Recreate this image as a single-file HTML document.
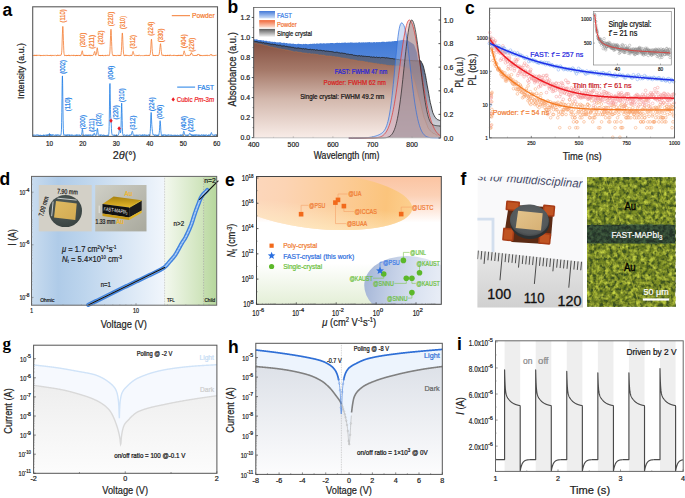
<!DOCTYPE html><html><head><meta charset="utf-8"><style>html,body{margin:0;padding:0;background:#fff;overflow:hidden}svg{display:block;font-family:"Liberation Sans",sans-serif}</style></head><body><svg width="685" height="498" viewBox="0 0 685 498" font-family="'Liberation Sans', sans-serif"><defs><linearGradient id="gbF" x1="0" y1="38" x2="0" y2="137.6" gradientUnits="userSpaceOnUse"><stop offset="0" stop-color="#3f78d6"/><stop offset="0.35" stop-color="#5d8fdd"/><stop offset="1" stop-color="#e3ecf9"/></linearGradient><linearGradient id="gbS" x1="0" y1="40" x2="0" y2="137.6" gradientUnits="userSpaceOnUse"><stop offset="0" stop-color="#4a5674"/><stop offset="0.3" stop-color="#5f6d8a"/><stop offset="1" stop-color="#e8e6e8"/></linearGradient><linearGradient id="gbP" x1="0" y1="42" x2="0" y2="137.6" gradientUnits="userSpaceOnUse"><stop offset="0" stop-color="#855142"/><stop offset="0.3" stop-color="#a67a6a"/><stop offset="0.6" stop-color="#d3b8ad"/><stop offset="1" stop-color="#f8ece7"/></linearGradient><linearGradient id="glF" x1="0" y1="0" x2="0" y2="1"><stop offset="0" stop-color="#4278d8"/><stop offset="1" stop-color="#d2e1f7"/></linearGradient><linearGradient id="glP" x1="0" y1="0" x2="0" y2="1"><stop offset="0" stop-color="#f06536"/><stop offset="1" stop-color="#fde0d2"/></linearGradient><linearGradient id="glS" x1="0" y1="0" x2="0" y2="1"><stop offset="0" stop-color="#5c5c5c"/><stop offset="1" stop-color="#f2f2f2"/></linearGradient><linearGradient id="gdB" x1="31.5" y1="0" x2="164.6" y2="0" gradientUnits="userSpaceOnUse"><stop offset="0" stop-color="#c9dcef"/><stop offset="0.2" stop-color="#afcbe8"/><stop offset="0.4" stop-color="#bdd5ed"/><stop offset="0.67" stop-color="#d5e4f4"/><stop offset="1" stop-color="#f1f6fc"/></linearGradient><linearGradient id="gdG" x1="164.6" y1="0" x2="203.6" y2="0" gradientUnits="userSpaceOnUse"><stop offset="0" stop-color="#f3f8ee"/><stop offset="1" stop-color="#cde3b9"/></linearGradient><linearGradient id="gdG2" x1="203.6" y1="0" x2="216.7" y2="0" gradientUnits="userSpaceOnUse"><stop offset="0" stop-color="#c6dfb0"/><stop offset="1" stop-color="#b6d79d"/></linearGradient><radialGradient id="gdDisc" cx="0.45" cy="0.4" r="0.6"><stop offset="0" stop-color="#56615f"/><stop offset="1" stop-color="#3a4442"/></radialGradient><linearGradient id="gdGold" x1="0" y1="0" x2="1" y2="1"><stop offset="0" stop-color="#dfbb62"/><stop offset="1" stop-color="#d2aa52"/></linearGradient><linearGradient id="gdP2" x1="0" y1="0" x2="1" y2="1"><stop offset="0" stop-color="#cfcfc6"/><stop offset="1" stop-color="#a9a99d"/></linearGradient><linearGradient id="gdTop" x1="0" y1="0" x2="0" y2="1"><stop offset="0" stop-color="#a8820f"/><stop offset="1" stop-color="#e6b82a"/></linearGradient><linearGradient id="geBg" x1="0" y1="176.5" x2="0" y2="304.3" gradientUnits="userSpaceOnUse"><stop offset="0" stop-color="#fbc4a2"/><stop offset="0.15" stop-color="#fcd1b6"/><stop offset="0.27" stop-color="#feeadf"/><stop offset="0.36" stop-color="#ffffff"/><stop offset="0.68" stop-color="#ffffff"/><stop offset="1" stop-color="#e4efd7"/></linearGradient><linearGradient id="geEl" x1="228" y1="0" x2="414" y2="0" gradientUnits="userSpaceOnUse"><stop offset="0" stop-color="#fcd9c2"/><stop offset="0.3" stop-color="#fcd4b4"/><stop offset="0.6" stop-color="#fccc98"/><stop offset="0.85" stop-color="#fbc47c"/><stop offset="1" stop-color="#fcd090"/></linearGradient><linearGradient id="geEl2" x1="0" y1="172" x2="0" y2="231" gradientUnits="userSpaceOnUse"><stop offset="0" stop-color="#fff3d0" stop-opacity="0"/><stop offset="0.55" stop-color="#fff3d0" stop-opacity="0"/><stop offset="1" stop-color="#fff0c8" stop-opacity="0.7"/></linearGradient><linearGradient id="geBl" x1="364" y1="0" x2="441" y2="0" gradientUnits="userSpaceOnUse"><stop offset="0" stop-color="#a6b7d8"/><stop offset="0.35" stop-color="#c3cfe6"/><stop offset="0.7" stop-color="#dbe3f1"/><stop offset="1" stop-color="#e8edf6"/></linearGradient><linearGradient id="gfPaper" x1="0" y1="176" x2="0" y2="262" gradientUnits="userSpaceOnUse"><stop offset="0" stop-color="#f6f6f8"/><stop offset="1" stop-color="#f1f1f3"/></linearGradient><linearGradient id="gfRuler" x1="0" y1="250" x2="0" y2="308" gradientUnits="userSpaceOnUse"><stop offset="0" stop-color="#e8e8e8"/><stop offset="0.5" stop-color="#dcdcdc"/><stop offset="1" stop-color="#d0d0d0"/></linearGradient><radialGradient id="gfDisc" cx="0.5" cy="0.45" r="0.55"><stop offset="0" stop-color="#62676a"/><stop offset="0.85" stop-color="#53585a"/><stop offset="1" stop-color="#43474a"/></radialGradient><linearGradient id="gfGold" x1="0" y1="0" x2="1" y2="1"><stop offset="0" stop-color="#e4c48c"/><stop offset="1" stop-color="#d6b074"/></linearGradient><filter id="fTex" x="0" y="0" width="1" height="1" filterUnits="objectBoundingBox"><feTurbulence type="fractalNoise" baseFrequency="0.22 0.2" numOctaves="3" seed="7" result="n"/><feColorMatrix type="matrix" in="n" values="0 0 0 0 0  0 0 0 0 0  0 0 0 0 0  2.4 0 0 0 -0.86" result="a"/><feFlood flood-color="#c8d646" result="c"/><feComposite in="c" in2="a" operator="in" result="spots"/><feMerge><feMergeNode in="SourceGraphic"/><feMergeNode in="spots"/></feMerge></filter><filter id="fTex2" x="0" y="0" width="1" height="1" filterUnits="objectBoundingBox"><feTurbulence type="fractalNoise" baseFrequency="0.3 0.26" numOctaves="2" seed="3" result="n"/><feColorMatrix type="matrix" in="n" values="0 0 0 0 0  0 0 0 0 0  0 0 0 0 0  0 2.4 0 0 -0.74" result="a"/><feFlood flood-color="#3c5220" result="c"/><feComposite in="c" in2="a" operator="in" result="spots"/><feMerge><feMergeNode in="SourceGraphic"/><feMergeNode in="spots"/></feMerge></filter><filter id="fTex3" x="0" y="0" width="1" height="1" filterUnits="objectBoundingBox"><feTurbulence type="fractalNoise" baseFrequency="0.3" numOctaves="2" seed="11" result="n"/><feColorMatrix type="matrix" in="n" values="0 0 0 0 0  0 0 0 0 0  0 0 0 0 0  1.6 0 0 0 -0.55" result="a"/><feFlood flood-color="#4a6a48" result="c"/><feComposite in="c" in2="a" operator="in" result="spots"/><feMerge><feMergeNode in="SourceGraphic"/><feMergeNode in="spots"/></feMerge></filter><linearGradient id="ggD" x1="0" y1="385" x2="0" y2="473" gradientUnits="userSpaceOnUse"><stop offset="0" stop-color="#eeeeee"/><stop offset="1" stop-color="#fcfcfc"/></linearGradient><linearGradient id="ghD" x1="0" y1="366" x2="0" y2="474" gradientUnits="userSpaceOnUse"><stop offset="0" stop-color="#dde1e8"/><stop offset="1" stop-color="#fcfcfd"/></linearGradient></defs><text x="2.6" y="15.6" font-size="17.5" fill="#000" font-weight="bold">a</text><path d="M32.7,55.03 L32.9,55.75 L33.1,55.66 L33.3,55.16 L33.5,55.4 L33.7,55.35 L33.9,55.55 L34.1,55.69 L34.31,54.99 L34.51,54.93 L34.71,55.74 L34.91,55.33 L35.11,55.66 L35.31,54.9 L35.51,55.35 L35.71,55.62 L35.91,55.13 L36.11,55.85 L36.31,55.8 L36.51,54.93 L36.71,54.93 L36.91,55.44 L37.12,55.84 L37.32,55.28 L37.52,55.12 L37.72,55.32 L37.92,54.93 L38.12,55.12 L38.32,55.34 L38.52,55.4 L38.72,55.13 L38.92,55.13 L39.12,55.12 L39.32,55.36 L39.52,55.19 L39.72,54.92 L39.93,55.74 L40.13,55.46 L40.33,55.54 L40.53,55.09 L40.73,55.89 L40.93,55.76 L41.13,55.02 L41.33,55.23 L41.53,55.62 L41.73,55.61 L41.93,55.84 L42.13,55.32 L42.33,55.73 L42.53,55.57 L42.73,55.2 L42.94,55.49 L43.14,55.78 L43.34,55.75 L43.54,55.41 L43.74,55.49 L43.94,54.93 L44.14,55.14 L44.34,55.7 L44.54,55.31 L44.74,55.07 L44.94,55.45 L45.14,55.6 L45.34,55.57 L45.54,55.27 L45.75,55.34 L45.95,55.41 L46.15,55.68 L46.35,55.42 L46.55,55.29 L46.75,55.39 L46.95,54.93 L47.15,54.94 L47.35,55.6 L47.55,55.88 L47.75,55.49 L47.95,55.29 L48.15,55.07 L48.35,55.4 L48.56,55.88 L48.76,55.67 L48.96,55.44 L49.16,55.76 L49.36,55.13 L49.56,55.41 L49.76,55.85 L49.96,55.48 L50.16,55.36 L50.36,55.17 L50.56,55.45 L50.76,55.86 L50.96,54.91 L51.16,55.68 L51.37,55.72 L51.57,55.79 L51.77,55.64 L51.97,55.71 L52.17,55.42 L52.37,55.46 L52.57,55.33 L52.77,54.96 L52.97,55.77 L53.17,55.47 L53.37,55.1 L53.57,55.4 L53.77,55.38 L53.97,55.26 L54.17,55.25 L54.38,55.44 L54.58,55.52 L54.78,55.51 L54.98,55.36 L55.18,54.93 L55.38,55.13 L55.58,55.08 L55.78,55.48 L55.98,55.76 L56.18,55.7 L56.38,55.7 L56.58,55.72 L56.78,55.16 L56.98,55.74 L57.19,55.57 L57.39,54.98 L57.59,54.92 L57.79,54.91 L57.99,55.66 L58.19,55.15 L58.39,55.01 L58.59,55.52 L58.79,55.24 L58.99,54.97 L59.19,55.06 L59.39,55.43 L59.59,55.07 L59.79,55.17 L60,55.61 L60.2,55.35 L60.4,55.22 L60.6,55.37 L60.8,54.9 L61,55.19 L61.2,55 L61.4,54.18 L61.6,52.74 L61.8,50.89 L62,46.16 L62.2,39.97 L62.4,33.99 L62.6,29.15 L62.81,26.42 L63.01,28.35 L63.21,33.53 L63.41,40.48 L63.61,45.81 L63.81,50.69 L64.01,53.31 L64.21,54.54 L64.41,54.8 L64.61,55.78 L64.81,55.67 L65.01,55.41 L65.21,55.12 L65.41,55.55 L65.61,55.29 L65.82,55.48 L66.02,55.22 L66.22,55.53 L66.42,54.96 L66.62,55.2 L66.82,55.87 L67.02,55.78 L67.22,55.21 L67.42,55.76 L67.62,55.21 L67.82,55.84 L68.02,55.64 L68.22,55.32 L68.42,55.15 L68.63,54.91 L68.83,55.78 L69.03,54.94 L69.23,55.72 L69.43,55.86 L69.63,55.47 L69.83,55.07 L70.03,55.77 L70.23,55.87 L70.43,55.6 L70.63,55.41 L70.83,55.28 L71.03,55.25 L71.23,55.11 L71.44,55.57 L71.64,55.33 L71.84,55.09 L72.04,55 L72.24,55.57 L72.44,55.2 L72.64,55.4 L72.84,55.23 L73.04,55.77 L73.24,55.8 L73.44,54.92 L73.64,55.1 L73.84,55.23 L74.04,55.89 L74.24,55.68 L74.45,55.24 L74.65,55.11 L74.85,55.57 L75.05,55.74 L75.25,55.83 L75.45,55.24 L75.65,55.78 L75.85,55.59 L76.05,55.38 L76.25,55.89 L76.45,55.13 L76.65,55.63 L76.85,54.98 L77.05,55.07 L77.26,55.81 L77.46,55.11 L77.66,55.66 L77.86,55.5 L78.06,55.74 L78.26,55.27 L78.46,55.24 L78.66,55.19 L78.86,55.77 L79.06,55.5 L79.26,55.85 L79.46,55.79 L79.66,55.04 L79.86,55.45 L80.07,55 L80.27,54.94 L80.47,54.96 L80.67,55.73 L80.87,55.56 L81.07,55.39 L81.27,54.47 L81.47,54.01 L81.67,53.19 L81.87,51.75 L82.07,51.22 L82.27,50.76 L82.47,51.17 L82.67,52.32 L82.87,53.98 L83.08,54.48 L83.28,55.37 L83.48,55.18 L83.68,55.12 L83.88,55.67 L84.08,55.72 L84.28,54.91 L84.48,55.57 L84.68,54.99 L84.88,55.02 L85.08,55.79 L85.28,54.94 L85.48,55.14 L85.68,55.89 L85.89,55.32 L86.09,55.02 L86.29,55.07 L86.49,55.14 L86.69,55.64 L86.89,55 L87.09,55.81 L87.29,55.28 L87.49,55.87 L87.69,55.81 L87.89,55.19 L88.09,55.15 L88.29,55.38 L88.49,55 L88.7,55.55 L88.9,54.94 L89.1,54.91 L89.3,55.88 L89.5,55.2 L89.7,55.5 L89.9,55.35 L90.1,55.21 L90.3,54.96 L90.5,55.81 L90.7,55.87 L90.9,55.87 L91.1,55.01 L91.3,55.12 L91.51,55.52 L91.71,55.88 L91.91,55.44 L92.11,55.59 L92.31,55.56 L92.51,55.16 L92.71,55.44 L92.91,55.19 L93.11,55.09 L93.31,54.82 L93.51,54.77 L93.71,54.99 L93.91,53.7 L94.11,52.96 L94.31,52.07 L94.52,51.88 L94.72,51.43 L94.92,52 L95.12,52.96 L95.32,53.85 L95.52,55.03 L95.72,55.42 L95.92,54.88 L96.12,54.63 L96.32,54.14 L96.52,52.95 L96.72,51.31 L96.92,49.22 L97.12,47.78 L97.33,47.81 L97.53,48.55 L97.73,50.66 L97.93,51.93 L98.13,53.33 L98.33,54.78 L98.53,54.89 L98.73,55.59 L98.93,55.36 L99.13,55.76 L99.33,55.05 L99.53,55.4 L99.73,55.69 L99.93,54.98 L100.14,55.85 L100.34,55.07 L100.54,55.68 L100.74,55.88 L100.94,55.72 L101.14,55.22 L101.34,55.01 L101.54,55.41 L101.74,55.82 L101.94,55.19 L102.14,55.79 L102.34,55.04 L102.54,55.81 L102.74,54.93 L102.94,55.22 L103.15,55.8 L103.35,55.7 L103.55,55.81 L103.75,55.74 L103.95,55.65 L104.15,55.59 L104.35,55.08 L104.55,55.33 L104.75,55.06 L104.95,55.61 L105.15,55.57 L105.35,55.15 L105.55,54.96 L105.75,55.86 L105.96,55.71 L106.16,55.45 L106.36,55.44 L106.56,55.75 L106.76,55.35 L106.96,55.3 L107.16,55.24 L107.36,55.16 L107.56,54.92 L107.76,55.55 L107.96,55.32 L108.16,55.47 L108.36,54.96 L108.56,55.25 L108.77,55.03 L108.97,55 L109.17,55.07 L109.37,55.44 L109.57,54.46 L109.77,53.21 L109.97,50.98 L110.17,46.6 L110.37,40.94 L110.57,35.58 L110.77,30.89 L110.97,29.25 L111.17,30.82 L111.37,35.73 L111.58,41.66 L111.78,46.6 L111.98,50.86 L112.18,53.29 L112.38,54.29 L112.58,55.02 L112.78,55.37 L112.98,55.78 L113.18,55.81 L113.38,55.17 L113.58,55.55 L113.78,54.95 L113.98,54.97 L114.18,55.41 L114.38,55.78 L114.59,55.06 L114.79,55.67 L114.99,55.78 L115.19,55.21 L115.39,55.59 L115.59,55.75 L115.79,55.27 L115.99,55.6 L116.19,55.64 L116.39,55.49 L116.59,55.76 L116.79,55.8 L116.99,55.86 L117.19,55.47 L117.4,55.08 L117.6,55.15 L117.8,55.12 L118,55.47 L118.2,55.66 L118.4,54.95 L118.6,55.58 L118.8,55.62 L119,55.25 L119.2,55.42 L119.4,55.06 L119.6,55.63 L119.8,54.94 L120,55.88 L120.21,55.7 L120.41,55.5 L120.61,55.05 L120.81,55.45 L121.01,54.85 L121.21,52.64 L121.41,50.72 L121.61,46.84 L121.81,41.67 L122.01,36.76 L122.21,33.15 L122.41,33.1 L122.61,35.66 L122.81,39.67 L123.01,45.22 L123.22,49.22 L123.42,51.97 L123.62,53.86 L123.82,54.5 L124.02,55.64 L124.22,55.81 L124.42,55.01 L124.62,55.5 L124.82,55.31 L125.02,55.02 L125.22,55.2 L125.42,55.15 L125.62,55.65 L125.82,54.9 L126.03,55.09 L126.23,55.34 L126.43,54.92 L126.63,55.53 L126.83,55.51 L127.03,55.74 L127.23,55.11 L127.43,55.18 L127.63,55.44 L127.83,55.17 L128.03,55.49 L128.23,55.15 L128.43,55.58 L128.63,55.69 L128.84,55.71 L129.04,55.87 L129.24,55.45 L129.44,55.39 L129.64,55.76 L129.84,55.67 L130.04,55.47 L130.24,55.28 L130.44,55.18 L130.64,55.01 L130.84,55.71 L131.04,55.02 L131.24,55.64 L131.44,55.42 L131.65,55.79 L131.85,55.44 L132.05,55.33 L132.25,53.92 L132.45,53.45 L132.65,52.57 L132.85,51.52 L133.05,51.4 L133.25,51.56 L133.45,52.52 L133.65,52.95 L133.85,54.23 L134.05,54.81 L134.25,54.98 L134.45,55.22 L134.66,55.66 L134.86,55.58 L135.06,55.39 L135.26,55.55 L135.46,55.28 L135.66,55.1 L135.86,54.9 L136.06,55.18 L136.26,55.5 L136.46,55.78 L136.66,55.73 L136.86,55.41 L137.06,55.89 L137.26,55.36 L137.47,55.73 L137.67,55.31 L137.87,55.64 L138.07,55.89 L138.27,55.21 L138.47,55.07 L138.67,55.52 L138.87,55.43 L139.07,55.26 L139.27,54.9 L139.47,55.29 L139.67,55.33 L139.87,55.31 L140.07,55.76 L140.28,55.48 L140.48,55.63 L140.68,55.8 L140.88,55.65 L141.08,55.39 L141.28,55.65 L141.48,55.54 L141.68,55.55 L141.88,55.53 L142.08,55.31 L142.28,55.53 L142.48,55.53 L142.68,55.84 L142.88,55.68 L143.08,55.75 L143.29,55.67 L143.49,55.72 L143.69,55.51 L143.89,55.25 L144.09,55.16 L144.29,55.61 L144.49,55.77 L144.69,55.44 L144.89,55.05 L145.09,55.73 L145.29,55.38 L145.49,55.37 L145.69,54.95 L145.89,55.41 L146.1,55.64 L146.3,55.32 L146.5,55.26 L146.7,55.56 L146.9,54.92 L147.1,55.41 L147.3,55.85 L147.5,55.59 L147.7,55.3 L147.9,55.59 L148.1,55.5 L148.3,55.11 L148.5,55.11 L148.7,55.79 L148.91,55.17 L149.11,54.97 L149.31,55.73 L149.51,55.4 L149.71,55.19 L149.91,55.15 L150.11,54.93 L150.31,53.38 L150.51,52.07 L150.71,49.36 L150.91,45.95 L151.11,41.93 L151.31,39.91 L151.51,39.16 L151.72,41.25 L151.92,44.09 L152.12,48.32 L152.32,51.47 L152.52,53.05 L152.72,54.16 L152.92,55.5 L153.12,55.48 L153.32,55.71 L153.52,54.92 L153.72,55.8 L153.92,55.52 L154.12,55.22 L154.32,55.33 L154.52,55.66 L154.73,55.69 L154.93,55.09 L155.13,55.53 L155.33,55.07 L155.53,55.87 L155.73,55.34 L155.93,55.81 L156.13,55.63 L156.33,55.51 L156.53,55.16 L156.73,55.43 L156.93,55.04 L157.13,55.04 L157.33,55.62 L157.54,55.26 L157.74,55.65 L157.94,55.14 L158.14,55.61 L158.34,55.6 L158.54,55.14 L158.74,54.83 L158.94,54.87 L159.14,54.44 L159.34,53.1 L159.54,51.72 L159.74,49.6 L159.94,47.89 L160.14,46.1 L160.35,44.09 L160.55,43.7 L160.75,45.37 L160.95,47.36 L161.15,49.77 L161.35,51.53 L161.55,52.92 L161.75,54.52 L161.95,54.45 L162.15,55.35 L162.35,54.91 L162.55,55.27 L162.75,55.39 L162.95,55.28 L163.16,55.07 L163.36,55.13 L163.56,55.72 L163.76,55.36 L163.96,55.48 L164.16,55.11 L164.36,55.61 L164.56,55.23 L164.76,55.49 L164.96,55.81 L165.16,55.89 L165.36,54.95 L165.56,55.7 L165.76,55.76 L165.96,55.22 L166.17,55.28 L166.37,55.48 L166.57,55.82 L166.77,55.3 L166.97,55.78 L167.17,55.66 L167.37,55.05 L167.57,55.81 L167.77,54.92 L167.97,55.05 L168.17,55.56 L168.37,54.96 L168.57,55.28 L168.77,55.03 L168.98,55.36 L169.18,55.74 L169.38,55.81 L169.58,54.94 L169.78,54.96 L169.98,55.74 L170.18,54.94 L170.38,55.17 L170.58,55.02 L170.78,54.99 L170.98,54.93 L171.18,55.54 L171.38,55.64 L171.58,55.59 L171.79,55.75 L171.99,55.56 L172.19,55.29 L172.39,55.53 L172.59,55.87 L172.79,55.54 L172.99,55.14 L173.19,54.96 L173.39,55.84 L173.59,55.49 L173.79,55.25 L173.99,55.51 L174.19,55.46 L174.39,55.42 L174.59,54.96 L174.8,55.25 L175,55.31 L175.2,55.1 L175.4,55.78 L175.6,55.32 L175.8,55.56 L176,55.61 L176.2,55.64 L176.4,55.62 L176.6,55.65 L176.8,55.15 L177,55.88 L177.2,55.05 L177.4,55.82 L177.61,55.75 L177.81,55.75 L178.01,54.95 L178.21,54.99 L178.41,55.71 L178.61,55.37 L178.81,55.27 L179.01,55.88 L179.21,54.94 L179.41,55.43 L179.61,55.34 L179.81,55.03 L180.01,55.3 L180.21,55.61 L180.42,55.78 L180.62,54.92 L180.82,55.42 L181.02,54.99 L181.22,55.7 L181.42,54.99 L181.62,54.93 L181.82,55.28 L182.02,55.63 L182.22,55.21 L182.42,55.02 L182.62,55.65 L182.82,55.57 L183.02,55.41 L183.23,54.45 L183.43,53.9 L183.63,52.81 L183.83,52.14 L184.03,51.13 L184.23,50.84 L184.43,51.58 L184.63,52.54 L184.83,53.15 L185.03,53.58 L185.23,54.79 L185.43,55 L185.63,55.75 L185.83,55.57 L186.03,55.72 L186.24,55.6 L186.44,55.43 L186.64,55.8 L186.84,55.73 L187.04,55.19 L187.24,55.06 L187.44,55.27 L187.64,55.42 L187.84,55 L188.04,55.25 L188.24,55.47 L188.44,54.94 L188.64,55.71 L188.84,55.55 L189.05,55.21 L189.25,55.19 L189.45,55.24 L189.65,55.19 L189.85,55.56 L190.05,55.22 L190.25,55.09 L190.45,54.46 L190.65,54.88 L190.85,53.86 L191.05,53.41 L191.25,52.76 L191.45,53.43 L191.65,52.89 L191.86,53.51 L192.06,53.87 L192.26,54.35 L192.46,54.64 L192.66,55.13 L192.86,55.41 L193.06,55.48 L193.26,54.92 L193.46,55.37 L193.66,55.46 L193.86,55.88 L194.06,55.68 L194.26,55.6 L194.46,55.65 L194.66,55.26 L194.87,55.84 L195.07,55.54 L195.27,55.3 L195.47,55.36 L195.67,55.88 L195.87,55.43 L196.07,55.06 L196.27,55.04 L196.47,55.56 L196.67,55.41 L196.87,55.7 L197.07,54.89 L197.27,54.99 L197.47,55.14 L197.68,54.28 L197.88,54.16 L198.08,54.49 L198.28,54.17 L198.48,54.05 L198.68,54.33 L198.88,54.87 L199.08,54.94 L199.28,54.65 L199.48,54.77 L199.68,55.64 L199.88,55.49 L200.08,55.05 L200.28,55.75 L200.49,54.92 L200.69,55.27 L200.89,55.75 L201.09,55.61 L201.29,55.18 L201.49,55.79 L201.69,55.5 L201.89,55.77 L202.09,55.79 L202.29,55.33 L202.49,55.58 L202.69,55.44 L202.89,55.84 L203.09,55.7 L203.3,55.63 L203.5,55.71 L203.7,55.9 L203.9,55.16 L204.1,55.1 L204.3,55.65 L204.5,55.67 L204.7,55.41 L204.9,55.39 L205.1,55.3 L205.3,55.78 L205.5,55.7 L205.7,55.48 L205.9,54.94 L206.1,55.75 L206.31,55.36 L206.51,55.09 L206.71,55.2 L206.91,55.59 L207.11,54.91 L207.31,55.02 L207.51,55.2 L207.71,55.79 L207.91,55.65 L208.11,55.87 L208.31,55.44 L208.51,55.47 L208.71,55.45 L208.91,55.42 L209.12,55.43 L209.32,55.68 L209.52,55.78 L209.72,55.18 L209.92,55.31 L210.12,54.86 L210.32,54.72 L210.52,54.78 L210.72,54.75 L210.92,54.65 L211.12,55.09 L211.32,54.36 L211.52,54.96 L211.72,55.46 L211.93,55.34 L212.13,55.28 L212.33,55.16 L212.53,55.25 L212.73,55.81 L212.93,55.78 L213.13,55.56 L213.33,55.8 L213.53,55.82 L213.73,55.75 L213.93,55.28 L214.13,55.36 L214.33,55.7 L214.53,55.27 L214.73,55.65 L214.94,55.38 L215.14,55.24 L215.34,55.36 L215.54,55.02 L215.74,55.25 L215.94,55.32 L216.14,54.92 L216.34,55.07 L216.54,55.16" stroke="#f47b30" stroke-width="0.8" fill="none"/><path d="M32.7,135.56 L32.87,135.55 L33.03,134.75 L33.2,134.78 L33.37,135.45 L33.54,135.36 L33.7,135.3 L33.87,134.98 L34.04,135.25 L34.21,135.25 L34.37,135.22 L34.54,134.84 L34.71,135.09 L34.87,135.05 L35.04,135.35 L35.21,135.6 L35.38,135.55 L35.54,135.19 L35.71,135.1 L35.88,134.94 L36.04,134.73 L36.21,134.72 L36.38,135.12 L36.55,134.99 L36.71,135.04 L36.88,135.5 L37.05,135.17 L37.22,135.2 L37.38,134.91 L37.55,134.72 L37.72,134.99 L37.88,134.82 L38.05,135.16 L38.22,135.6 L38.39,135.31 L38.55,134.86 L38.72,135.5 L38.89,135.42 L39.06,135.36 L39.22,135.52 L39.39,135.39 L39.56,135.41 L39.72,135.02 L39.89,135.58 L40.06,135.57 L40.23,134.85 L40.39,135.38 L40.56,135.34 L40.73,135.12 L40.9,135.18 L41.06,135.14 L41.23,135.53 L41.4,135.15 L41.56,135.45 L41.73,135.02 L41.9,135.49 L42.07,135.51 L42.23,135.11 L42.4,135.21 L42.57,135.53 L42.73,135.35 L42.9,135.14 L43.07,134.9 L43.24,134.99 L43.4,135.33 L43.57,134.85 L43.74,135.52 L43.91,134.94 L44.07,135.52 L44.24,134.98 L44.41,135.56 L44.57,135.34 L44.74,135.15 L44.91,135.17 L45.08,135.29 L45.24,135.23 L45.41,134.98 L45.58,134.89 L45.75,135.16 L45.91,135.54 L46.08,135.26 L46.25,134.77 L46.41,135.44 L46.58,135.35 L46.75,135.52 L46.92,134.87 L47.08,135.37 L47.25,134.75 L47.42,135.29 L47.59,134.95 L47.75,134.9 L47.92,135.49 L48.09,134.79 L48.25,135.15 L48.42,135.42 L48.59,134.78 L48.76,134.59 L48.92,134.94 L49.09,134.23 L49.26,134.25 L49.43,133.53 L49.59,133.93 L49.76,134.01 L49.93,134.76 L50.09,134.48 L50.26,135.42 L50.43,134.67 L50.6,135.34 L50.76,134.71 L50.93,134.93 L51.1,135.43 L51.26,134.84 L51.43,134.87 L51.6,135.32 L51.77,135.05 L51.93,134.74 L52.1,135.59 L52.27,134.84 L52.44,134.73 L52.6,135.01 L52.77,135.25 L52.94,135.37 L53.1,134.8 L53.27,135 L53.44,134.73 L53.61,135.1 L53.77,135.39 L53.94,135.37 L54.11,135.51 L54.28,135.38 L54.44,135.48 L54.61,135.33 L54.78,135.13 L54.94,134.9 L55.11,135.29 L55.28,134.98 L55.45,134.79 L55.61,135.1 L55.78,135.49 L55.95,134.81 L56.12,135.23 L56.28,135.05 L56.45,135.16 L56.62,134.83 L56.78,135.56 L56.95,134.93 L57.12,135.25 L57.29,135.08 L57.45,134.72 L57.62,135.2 L57.79,134.83 L57.95,134.75 L58.12,134.73 L58.29,134.85 L58.46,134.79 L58.62,135.27 L58.79,135.16 L58.96,135.59 L59.13,135.54 L59.29,135.6 L59.46,134.91 L59.63,135.1 L59.79,134.93 L59.96,135.23 L60.13,135.26 L60.3,135.42 L60.46,135.34 L60.63,134.92 L60.8,135.02 L60.97,134.92 L61.13,133.87 L61.3,132.35 L61.47,129.2 L61.63,122.32 L61.8,112.46 L61.97,98.71 L62.14,85.39 L62.3,76.73 L62.47,75.91 L62.64,83.25 L62.81,96.18 L62.97,109.73 L63.14,120.72 L63.31,128.37 L63.47,132.01 L63.64,134.48 L63.81,135.24 L63.98,135.27 L64.14,135.07 L64.31,135.16 L64.48,135.22 L64.64,134.75 L64.81,135.08 L64.98,135.17 L65.15,134.86 L65.31,134.78 L65.48,135.42 L65.65,135.03 L65.82,135.17 L65.98,135.53 L66.15,135.25 L66.32,134.96 L66.48,135.59 L66.65,135.04 L66.82,134.72 L66.99,135.32 L67.15,134.79 L67.32,134.98 L67.49,135.46 L67.66,135.31 L67.82,134.71 L67.99,135.11 L68.16,135.07 L68.32,135.14 L68.49,134.89 L68.66,135.23 L68.83,134.77 L68.99,134.96 L69.16,135.04 L69.33,135.54 L69.5,134.77 L69.66,135.38 L69.83,134.87 L70,135.21 L70.16,135.05 L70.33,135.12 L70.5,135.38 L70.67,135.06 L70.83,134.81 L71,134.81 L71.17,134.77 L71.33,135.47 L71.5,135.28 L71.67,135.56 L71.84,135.32 L72,134.72 L72.17,135.29 L72.34,135.4 L72.51,135.35 L72.67,135.15 L72.84,135.02 L73.01,135.11 L73.17,135.42 L73.34,134.94 L73.51,135.17 L73.68,135.13 L73.84,135.56 L74.01,135.42 L74.18,135.54 L74.35,135.45 L74.51,134.97 L74.68,134.91 L74.85,135.14 L75.01,134.93 L75.18,135.08 L75.35,135.31 L75.52,135.53 L75.68,135.23 L75.85,135.44 L76.02,134.79 L76.19,135.02 L76.35,135.6 L76.52,134.83 L76.69,135.08 L76.85,134.76 L77.02,134.78 L77.19,135.51 L77.36,135.59 L77.52,135.28 L77.69,134.82 L77.86,134.97 L78.02,134.91 L78.19,135.3 L78.36,135.31 L78.53,135.09 L78.69,135.17 L78.86,134.8 L79.03,135.19 L79.2,135.55 L79.36,135.38 L79.53,134.79 L79.7,135.16 L79.86,135.34 L80.03,134.93 L80.2,135.51 L80.37,135.11 L80.53,135.33 L80.7,135.06 L80.87,135.59 L81.04,135.39 L81.2,135.15 L81.37,134.62 L81.54,134.52 L81.7,133.43 L81.87,132.77 L82.04,131.55 L82.21,129.57 L82.37,129.18 L82.54,129.46 L82.71,130.54 L82.88,132.3 L83.04,133.83 L83.21,134.52 L83.38,134.8 L83.54,135.46 L83.71,134.97 L83.88,135.36 L84.05,135.29 L84.21,135.39 L84.38,135.47 L84.55,134.9 L84.71,135.26 L84.88,135.06 L85.05,135.3 L85.22,135.58 L85.38,135.27 L85.55,134.71 L85.72,135.12 L85.89,135.34 L86.05,135.49 L86.22,135.29 L86.39,135.43 L86.55,134.72 L86.72,135.55 L86.89,135.36 L87.06,135.25 L87.22,135.51 L87.39,135.5 L87.56,134.79 L87.73,135.43 L87.89,135.39 L88.06,134.88 L88.23,135.37 L88.39,135.23 L88.56,134.87 L88.73,135.42 L88.9,134.82 L89.06,135.25 L89.23,135.09 L89.4,134.93 L89.57,135.21 L89.73,135.12 L89.9,134.88 L90.07,135.57 L90.23,134.77 L90.4,134.7 L90.57,135.14 L90.74,135.45 L90.9,135.29 L91.07,135.38 L91.24,135.14 L91.4,135.31 L91.57,135 L91.74,134.94 L91.91,135.15 L92.07,134.72 L92.24,134.77 L92.41,135.38 L92.58,134.86 L92.74,135.37 L92.91,135.4 L93.08,135.04 L93.24,135.22 L93.41,135.18 L93.58,134.98 L93.75,133.91 L93.91,133.43 L94.08,133.21 L94.25,133.12 L94.42,133.13 L94.58,133.3 L94.75,134.29 L94.92,135.07 L95.08,134.8 L95.25,135.1 L95.42,135.02 L95.59,135.09 L95.75,135.48 L95.92,134.97 L96.09,135.26 L96.26,135.03 L96.42,134.87 L96.59,134.7 L96.76,132.97 L96.92,132.15 L97.09,129.89 L97.26,128.68 L97.43,128.22 L97.59,128.69 L97.76,129.97 L97.93,132.16 L98.09,132.99 L98.26,134.45 L98.43,134.74 L98.6,135.08 L98.76,135.44 L98.93,135.41 L99.1,135.26 L99.27,134.98 L99.43,134.91 L99.6,135.11 L99.77,134.91 L99.93,134.95 L100.1,135.56 L100.27,134.8 L100.44,135.44 L100.6,135.04 L100.77,135.03 L100.94,134.99 L101.11,134.77 L101.27,135.11 L101.44,134.85 L101.61,135.1 L101.77,134.96 L101.94,135.51 L102.11,135.53 L102.28,135.1 L102.44,135.28 L102.61,135.54 L102.78,134.99 L102.95,134.79 L103.11,134.91 L103.28,134.87 L103.45,135.31 L103.61,135.04 L103.78,135.02 L103.95,135.42 L104.12,134.91 L104.28,135.43 L104.45,135.27 L104.62,135.06 L104.78,135.44 L104.95,135.01 L105.12,135.49 L105.29,135.53 L105.45,135.15 L105.62,135.32 L105.79,135.55 L105.96,135.37 L106.12,135.38 L106.29,135.48 L106.46,135.54 L106.62,135.38 L106.79,135.58 L106.96,134.96 L107.13,135.26 L107.29,135.3 L107.46,135.03 L107.63,135.06 L107.8,134.86 L107.96,135.56 L108.13,135.02 L108.3,135.11 L108.46,135.42 L108.63,134.52 L108.8,134.38 L108.97,131.4 L109.13,126.44 L109.3,118.13 L109.47,106.09 L109.64,93.83 L109.8,84.9 L109.97,83.49 L110.14,89.63 L110.3,100.16 L110.47,109.44 L110.64,115.87 L110.81,118.08 L110.97,119.47 L111.14,121.99 L111.31,124.83 L111.47,128.55 L111.64,132.04 L111.81,133.19 L111.98,134.21 L112.14,134.68 L112.31,134.87 L112.48,135.07 L112.65,134.92 L112.81,135.01 L112.98,134.92 L113.15,134.92 L113.31,135.25 L113.48,135 L113.65,135.04 L113.82,135.39 L113.98,134.76 L114.15,134.83 L114.32,135.47 L114.49,135.09 L114.65,135.4 L114.82,134.82 L114.99,135.17 L115.15,135.46 L115.32,135 L115.49,135.39 L115.66,135.25 L115.82,135.06 L115.99,135.6 L116.16,135.05 L116.33,135.13 L116.49,135.26 L116.66,134.99 L116.83,135.45 L116.99,135.24 L117.16,135.23 L117.33,135.18 L117.5,135.59 L117.66,135.59 L117.83,135.45 L118,135.08 L118.16,134.99 L118.33,134.97 L118.5,134.28 L118.67,133.85 L118.83,133.85 L119,131.94 L119.17,131.3 L119.34,129.71 L119.5,128.9 L119.67,127.77 L119.84,128.35 L120,129.81 L120.17,130.43 L120.34,131.8 L120.51,132.82 L120.67,132.52 L120.84,130.76 L121.01,127.22 L121.18,120.24 L121.34,113.22 L121.51,106.3 L121.68,103.14 L121.84,106.54 L122.01,112.59 L122.18,120.67 L122.35,127.32 L122.51,131.22 L122.68,133.76 L122.85,134.31 L123.02,134.76 L123.18,135.5 L123.35,135.43 L123.52,135.17 L123.68,135.31 L123.85,135.49 L124.02,134.83 L124.19,135.14 L124.35,134.82 L124.52,134.8 L124.69,134.8 L124.85,134.89 L125.02,134.75 L125.19,134.89 L125.36,135.04 L125.52,135.26 L125.69,135.47 L125.86,135.51 L126.03,135.35 L126.19,135.16 L126.36,135.53 L126.53,134.85 L126.69,134.79 L126.86,135.44 L127.03,135.26 L127.2,134.89 L127.36,135.04 L127.53,134.97 L127.7,135.09 L127.87,135.08 L128.03,135.06 L128.2,135.42 L128.37,135.43 L128.53,135.21 L128.7,135.13 L128.87,134.96 L129.04,135.39 L129.2,135.59 L129.37,134.91 L129.54,135.33 L129.71,135.33 L129.87,135.29 L130.04,134.73 L130.21,135.2 L130.37,134.88 L130.54,134.87 L130.71,135.2 L130.88,135.22 L131.04,135.11 L131.21,135.01 L131.38,134.58 L131.54,133.76 L131.71,132.56 L131.88,132.31 L132.05,131.61 L132.21,131.26 L132.38,131.21 L132.55,131.32 L132.72,132.33 L132.88,133.13 L133.05,134.31 L133.22,134.7 L133.38,134.65 L133.55,135.47 L133.72,135.55 L133.89,135.5 L134.05,135.12 L134.22,134.96 L134.39,134.89 L134.56,135.44 L134.72,135.33 L134.89,134.95 L135.06,135.51 L135.22,135.21 L135.39,135.07 L135.56,135.07 L135.73,135.35 L135.89,135.11 L136.06,135.29 L136.23,134.81 L136.4,135.33 L136.56,134.95 L136.73,135.52 L136.9,134.89 L137.06,135 L137.23,135.18 L137.4,135.05 L137.57,135.17 L137.73,135.53 L137.9,134.88 L138.07,135.39 L138.23,135.32 L138.4,135.41 L138.57,135.1 L138.74,135.11 L138.9,135.01 L139.07,135.13 L139.24,134.93 L139.41,134.87 L139.57,135.13 L139.74,134.87 L139.91,135.12 L140.07,135.22 L140.24,134.98 L140.41,134.85 L140.58,135.24 L140.74,135.47 L140.91,134.9 L141.08,135.25 L141.25,135.29 L141.41,135.5 L141.58,135.31 L141.75,134.98 L141.91,134.89 L142.08,135.45 L142.25,134.97 L142.42,134.71 L142.58,135.48 L142.75,134.88 L142.92,134.98 L143.08,134.99 L143.25,134.93 L143.42,135.35 L143.59,135.01 L143.75,135.1 L143.92,135.08 L144.09,135.45 L144.26,134.72 L144.42,135.22 L144.59,134.82 L144.76,134.84 L144.92,135.25 L145.09,135.04 L145.26,134.76 L145.43,135.23 L145.59,135.52 L145.76,135.28 L145.93,135.15 L146.1,135.42 L146.26,135.52 L146.43,134.84 L146.6,134.97 L146.76,135.57 L146.93,135.53 L147.1,134.88 L147.27,135.33 L147.43,135.49 L147.6,135.23 L147.77,135.33 L147.94,135.17 L148.1,134.91 L148.27,134.89 L148.44,134.76 L148.6,135.3 L148.77,134.82 L148.94,135.26 L149.11,135.05 L149.27,135.09 L149.44,135.56 L149.61,135 L149.77,134.93 L149.94,134.44 L150.11,133.32 L150.28,131.36 L150.44,128.29 L150.61,123.86 L150.78,118 L150.95,114.52 L151.11,112.46 L151.28,113.07 L151.45,117.07 L151.61,120.93 L151.78,124.55 L151.95,126.61 L152.12,128.59 L152.28,129.92 L152.45,131.49 L152.62,132.6 L152.79,133.79 L152.95,134.57 L153.12,134.55 L153.29,134.59 L153.45,135.09 L153.62,134.8 L153.79,134.82 L153.96,134.99 L154.12,135.18 L154.29,135.25 L154.46,135.28 L154.63,135.55 L154.79,134.79 L154.96,135.2 L155.13,134.78 L155.29,135.3 L155.46,135.09 L155.63,134.83 L155.8,134.98 L155.96,135.29 L156.13,135.13 L156.3,135.55 L156.46,135.02 L156.63,135.01 L156.8,135.53 L156.97,135.25 L157.13,134.8 L157.3,135.41 L157.47,135.03 L157.64,135.55 L157.8,135.27 L157.97,135.42 L158.14,135.5 L158.3,135.15 L158.47,135.55 L158.64,134.64 L158.81,134.76 L158.97,134.82 L159.14,133.25 L159.31,132.36 L159.48,130.37 L159.64,127.18 L159.81,124.24 L159.98,121.16 L160.14,120.69 L160.31,121.64 L160.48,123.86 L160.65,126.91 L160.81,130.19 L160.98,131.9 L161.15,133.28 L161.32,134.6 L161.48,135.33 L161.65,135.36 L161.82,135.28 L161.98,134.96 L162.15,135.51 L162.32,134.74 L162.49,134.92 L162.65,135.41 L162.82,135.51 L162.99,135.06 L163.15,135.52 L163.32,134.8 L163.49,135.24 L163.66,134.76 L163.82,134.91 L163.99,134.87 L164.16,134.71 L164.33,135.06 L164.49,135.15 L164.66,134.95 L164.83,135.29 L164.99,134.75 L165.16,135.17 L165.33,135.17 L165.5,135.06 L165.66,135.52 L165.83,134.81 L166,135.08 L166.17,135.11 L166.33,135.04 L166.5,135.58 L166.67,135.21 L166.83,135.16 L167,135.1 L167.17,135.09 L167.34,135.56 L167.5,135.42 L167.67,135.28 L167.84,134.85 L168.01,135.24 L168.17,134.82 L168.34,135.02 L168.51,134.72 L168.67,135.33 L168.84,135.58 L169.01,135.27 L169.18,135.21 L169.34,134.93 L169.51,135.1 L169.68,135.12 L169.84,135.08 L170.01,134.94 L170.18,134.9 L170.35,135.38 L170.51,135.56 L170.68,135.44 L170.85,135.26 L171.02,134.73 L171.18,134.97 L171.35,135.46 L171.52,135.58 L171.68,135.19 L171.85,135.21 L172.02,135.32 L172.19,134.92 L172.35,135.34 L172.52,135.03 L172.69,135.46 L172.86,135.12 L173.02,135.3 L173.19,135.2 L173.36,135.18 L173.52,135.11 L173.69,135.56 L173.86,135.38 L174.03,135.08 L174.19,135.15 L174.36,135.51 L174.53,135.37 L174.7,135.29 L174.86,135.56 L175.03,134.81 L175.2,135.24 L175.36,135.26 L175.53,135.11 L175.7,135.57 L175.87,135.57 L176.03,135.05 L176.2,135.25 L176.37,135.39 L176.53,135.33 L176.7,135.03 L176.87,135.42 L177.04,135.01 L177.2,134.83 L177.37,135.3 L177.54,135.28 L177.71,135.07 L177.87,135.15 L178.04,135.59 L178.21,135.43 L178.37,135.07 L178.54,135.52 L178.71,135.21 L178.88,135.06 L179.04,135.28 L179.21,135.41 L179.38,135.51 L179.55,135.3 L179.71,135.3 L179.88,135.06 L180.05,134.74 L180.21,135.11 L180.38,134.8 L180.55,135.55 L180.72,135.03 L180.88,135.24 L181.05,135.36 L181.22,134.86 L181.39,135.45 L181.55,134.99 L181.72,134.77 L181.89,135.24 L182.05,135.06 L182.22,135.52 L182.39,135.08 L182.56,134.71 L182.72,134.53 L182.89,134.3 L183.06,134.29 L183.22,133.83 L183.39,132.38 L183.56,131.74 L183.73,131.19 L183.89,131.31 L184.06,131.63 L184.23,132.23 L184.4,132.91 L184.56,133.7 L184.73,134.05 L184.9,134.83 L185.06,134.66 L185.23,134.9 L185.4,135.42 L185.57,135.2 L185.73,135.35 L185.9,135.12 L186.07,134.95 L186.24,135.15 L186.4,135.22 L186.57,134.92 L186.74,135.46 L186.9,135.58 L187.07,134.86 L187.24,134.92 L187.41,135.43 L187.57,135.35 L187.74,134.9 L187.91,135.23 L188.08,134.91 L188.24,135.47 L188.41,135.21 L188.58,135.1 L188.74,134.71 L188.91,134.79 L189.08,134.63 L189.25,134.2 L189.41,133.65 L189.58,133.28 L189.75,133.44 L189.91,133.53 L190.08,133.57 L190.25,133.65 L190.42,134.2 L190.58,134 L190.75,134.39 L190.92,135.06 L191.09,134.57 L191.25,134.72 L191.42,135.38 L191.59,134.87 L191.75,134.86 L191.92,135.06 L192.09,135.45 L192.26,134.71 L192.42,135.49 L192.59,134.97 L192.76,135.21 L192.93,135.13 L193.09,134.81 L193.26,135.56 L193.43,134.86 L193.59,135.42 L193.76,135.49 L193.93,135.11 L194.1,135.56 L194.26,134.76 L194.43,134.83 L194.6,135.14 L194.77,134.77 L194.93,135.43 L195.1,135.17 L195.27,135.42 L195.43,134.96 L195.6,134.72 L195.77,135.5 L195.94,134.89 L196.1,135.08 L196.27,134.81 L196.44,135.23 L196.6,135.12 L196.77,134.88 L196.94,134.74 L197.11,135 L197.27,135.41 L197.44,134.84 L197.61,134.91 L197.78,135.26 L197.94,135.27 L198.11,135.42 L198.28,135.28 L198.44,135.46 L198.61,134.84 L198.78,135.53 L198.95,134.73 L199.11,134.81 L199.28,134.79 L199.45,135.4 L199.62,135.15 L199.78,135.53 L199.95,135.58 L200.12,135.56 L200.28,135.25 L200.45,135.02 L200.62,135.56 L200.79,135.36 L200.95,134.88 L201.12,135.2 L201.29,134.72 L201.46,134.72 L201.62,135.27 L201.79,135.35 L201.96,135.47 L202.12,135.38 L202.29,134.82 L202.46,135.36 L202.63,135.58 L202.79,135.31 L202.96,135.13 L203.13,134.97 L203.29,134.76 L203.46,135.26 L203.63,135.57 L203.8,134.8 L203.96,135.44 L204.13,135.51 L204.3,135.02 L204.47,135.46 L204.63,134.84 L204.8,134.97 L204.97,135.21 L205.13,135.49 L205.3,135.18 L205.47,134.78 L205.64,135.54 L205.8,135.21 L205.97,135.4 L206.14,134.91 L206.31,135 L206.47,134.78 L206.64,134.87 L206.81,135.09 L206.97,135.07 L207.14,135.29 L207.31,135.45 L207.48,135 L207.64,135.53 L207.81,135.29 L207.98,135.01 L208.15,134.87 L208.31,135.56 L208.48,135.29 L208.65,134.74 L208.81,135.32 L208.98,135.04 L209.15,135.08 L209.32,135.39 L209.48,134.9 L209.65,134.94 L209.82,135.18 L209.98,135.5 L210.15,134.74 L210.32,135.34 L210.49,135.05 L210.65,134.21 L210.82,134.11 L210.99,133.42 L211.16,132.95 L211.32,132.58 L211.49,132.6 L211.66,133.32 L211.82,133.72 L211.99,134.46 L212.16,134.77 L212.33,134.68 L212.49,134.87 L212.66,135 L212.83,135.05 L213,135.21 L213.16,135.37 L213.33,134.93 L213.5,135.2 L213.66,135 L213.83,134.9 L214,134.83 L214.17,135.56 L214.33,135.54 L214.5,135.45 L214.67,134.85 L214.84,134.84 L215,134.79 L215.17,134.97 L215.34,135.08 L215.5,134.71 L215.67,135.08 L215.84,135.32 L216.01,135.45 L216.17,134.87 L216.34,134.7 L216.51,135.42 L216.67,135.04" stroke="#1a7be6" stroke-width="0.8" fill="none"/><rect x="32.7" y="6.8" width="184.8" height="129.6" fill="none" stroke="#5a5a5a" stroke-width="1.1"/><line x1="49.43" y1="136.4" x2="49.43" y2="134.4" stroke="#555" stroke-width="0.8"/><text x="49.43" y="145.8" font-size="7.8" fill="#222" text-anchor="middle" textLength="7.1" lengthAdjust="spacingAndGlyphs" stroke="#222" stroke-width="0.22">10</text><line x1="82.88" y1="136.4" x2="82.88" y2="134.4" stroke="#555" stroke-width="0.8"/><text x="82.88" y="145.8" font-size="7.8" fill="#222" text-anchor="middle" textLength="7.1" lengthAdjust="spacingAndGlyphs" stroke="#222" stroke-width="0.22">20</text><line x1="116.33" y1="136.4" x2="116.33" y2="134.4" stroke="#555" stroke-width="0.8"/><text x="116.33" y="145.8" font-size="7.8" fill="#222" text-anchor="middle" textLength="7.1" lengthAdjust="spacingAndGlyphs" stroke="#222" stroke-width="0.22">30</text><line x1="149.78" y1="136.4" x2="149.78" y2="134.4" stroke="#555" stroke-width="0.8"/><text x="149.78" y="145.8" font-size="7.8" fill="#222" text-anchor="middle" textLength="7.1" lengthAdjust="spacingAndGlyphs" stroke="#222" stroke-width="0.22">40</text><line x1="183.23" y1="136.4" x2="183.23" y2="134.4" stroke="#555" stroke-width="0.8"/><text x="183.23" y="145.8" font-size="7.8" fill="#222" text-anchor="middle" textLength="7.1" lengthAdjust="spacingAndGlyphs" stroke="#222" stroke-width="0.22">50</text><line x1="216.68" y1="136.4" x2="216.68" y2="134.4" stroke="#555" stroke-width="0.8"/><text x="216.68" y="145.8" font-size="7.8" fill="#222" text-anchor="middle" textLength="7.1" lengthAdjust="spacingAndGlyphs" stroke="#222" stroke-width="0.22">60</text><text x="124.5" y="159.2" font-size="11.5" fill="#222" text-anchor="middle" textLength="23.5" lengthAdjust="spacingAndGlyphs" stroke="#222" stroke-width="0.22">2<tspan font-style="italic">&#952;</tspan>(&#176;)</text><text x="24" y="71" font-size="9.6" fill="#222" text-anchor="middle" textLength="56" lengthAdjust="spacingAndGlyphs" transform="rotate(-90 24 71)" stroke="#222" stroke-width="0.22">Intensity (a.u.)</text><text x="64.8" y="15.95" font-size="7.4" fill="#f47b30" text-anchor="middle" textLength="13.1" lengthAdjust="spacingAndGlyphs" transform="rotate(-90 64.8 15.95)" stroke="#f47b30" stroke-width="0.22">(110)</text><text x="84.8" y="40" font-size="7.4" fill="#f47b30" text-anchor="middle" textLength="14.6" lengthAdjust="spacingAndGlyphs" transform="rotate(-90 84.8 40)" stroke="#f47b30" stroke-width="0.22">(200)</text><text x="94.5" y="41.9" font-size="7.4" fill="#f47b30" text-anchor="middle" textLength="13.8" lengthAdjust="spacingAndGlyphs" transform="rotate(-90 94.5 41.9)" stroke="#f47b30" stroke-width="0.22">(211)</text><text x="102.8" y="37.45" font-size="7.4" fill="#f47b30" text-anchor="middle" textLength="13.9" lengthAdjust="spacingAndGlyphs" transform="rotate(-90 102.8 37.45)" stroke="#f47b30" stroke-width="0.22">(202)</text><text x="113.5" y="18.9" font-size="7.4" fill="#f47b30" text-anchor="middle" textLength="14.6" lengthAdjust="spacingAndGlyphs" transform="rotate(-90 113.5 18.9)" stroke="#f47b30" stroke-width="0.22">(220)</text><text x="124.8" y="22.5" font-size="7.4" fill="#f47b30" text-anchor="middle" textLength="13" lengthAdjust="spacingAndGlyphs" transform="rotate(-90 124.8 22.5)" stroke="#f47b30" stroke-width="0.22">(310)</text><text x="135.1" y="41.75" font-size="7.4" fill="#f47b30" text-anchor="middle" textLength="13.5" lengthAdjust="spacingAndGlyphs" transform="rotate(-90 135.1 41.75)" stroke="#f47b30" stroke-width="0.22">(312)</text><text x="153.4" y="28.75" font-size="7.4" fill="#f47b30" text-anchor="middle" textLength="13.9" lengthAdjust="spacingAndGlyphs" transform="rotate(-90 153.4 28.75)" stroke="#f47b30" stroke-width="0.22">(224)</text><text x="162.6" y="35.3" font-size="7.4" fill="#f47b30" text-anchor="middle" textLength="13.8" lengthAdjust="spacingAndGlyphs" transform="rotate(-90 162.6 35.3)" stroke="#f47b30" stroke-width="0.22">(330)</text><text x="186.2" y="41.1" font-size="7.4" fill="#f47b30" text-anchor="middle" textLength="13.8" lengthAdjust="spacingAndGlyphs" transform="rotate(-90 186.2 41.1)" stroke="#f47b30" stroke-width="0.22">(404)</text><text x="193.5" y="44.75" font-size="7.4" fill="#f47b30" text-anchor="middle" textLength="13.9" lengthAdjust="spacingAndGlyphs" transform="rotate(-90 193.5 44.75)" stroke="#f47b30" stroke-width="0.22">(226)</text><text x="65.3" y="66.95" font-size="7.4" fill="#1f7fe6" text-anchor="middle" textLength="13.7" lengthAdjust="spacingAndGlyphs" transform="rotate(-90 65.3 66.95)" stroke="#1f7fe6" stroke-width="0.22">(002)</text><text x="69.9" y="104.3" font-size="7.4" fill="#1f7fe6" text-anchor="middle" textLength="14" lengthAdjust="spacingAndGlyphs" transform="rotate(-90 69.9 104.3)" stroke="#1f7fe6" stroke-width="0.22">(110)</text><text x="84.9" y="122.1" font-size="7.4" fill="#1f7fe6" text-anchor="middle" textLength="14.2" lengthAdjust="spacingAndGlyphs" transform="rotate(-90 84.9 122.1)" stroke="#1f7fe6" stroke-width="0.22">(200)</text><text x="93.8" y="125.15" font-size="7.4" fill="#1f7fe6" text-anchor="middle" textLength="13.3" lengthAdjust="spacingAndGlyphs" transform="rotate(-90 93.8 125.15)" stroke="#1f7fe6" stroke-width="0.22">(211)</text><text x="101.1" y="119.65" font-size="7.4" fill="#1f7fe6" text-anchor="middle" textLength="13.3" lengthAdjust="spacingAndGlyphs" transform="rotate(-90 101.1 119.65)" stroke="#1f7fe6" stroke-width="0.22">(202)</text><text x="113" y="72.65" font-size="7.4" fill="#1f7fe6" text-anchor="middle" textLength="14.1" lengthAdjust="spacingAndGlyphs" transform="rotate(-90 113 72.65)" stroke="#1f7fe6" stroke-width="0.22">(004)</text><text x="118.2" y="112.4" font-size="7.4" fill="#1f7fe6" text-anchor="middle" textLength="14.2" lengthAdjust="spacingAndGlyphs" transform="rotate(-90 118.2 112.4)" stroke="#1f7fe6" stroke-width="0.22">(220)</text><text x="124.2" y="95.1" font-size="7.4" fill="#1f7fe6" text-anchor="middle" textLength="13.6" lengthAdjust="spacingAndGlyphs" transform="rotate(-90 124.2 95.1)" stroke="#1f7fe6" stroke-width="0.22">(310)</text><text x="134.8" y="122.65" font-size="7.4" fill="#1f7fe6" text-anchor="middle" textLength="14.1" lengthAdjust="spacingAndGlyphs" transform="rotate(-90 134.8 122.65)" stroke="#1f7fe6" stroke-width="0.22">(312)</text><text x="153.6" y="104.15" font-size="7.4" fill="#1f7fe6" text-anchor="middle" textLength="13.7" lengthAdjust="spacingAndGlyphs" transform="rotate(-90 153.6 104.15)" stroke="#1f7fe6" stroke-width="0.22">(224)</text><text x="162.4" y="111.9" font-size="7.4" fill="#1f7fe6" text-anchor="middle" textLength="14.2" lengthAdjust="spacingAndGlyphs" transform="rotate(-90 162.4 111.9)" stroke="#1f7fe6" stroke-width="0.22">(006)</text><text x="186" y="123" font-size="7.4" fill="#1f7fe6" text-anchor="middle" textLength="14" lengthAdjust="spacingAndGlyphs" transform="rotate(-90 186 123)" stroke="#1f7fe6" stroke-width="0.22">(404)</text><text x="193.3" y="124.95" font-size="7.4" fill="#1f7fe6" text-anchor="middle" textLength="13.7" lengthAdjust="spacingAndGlyphs" transform="rotate(-90 193.3 124.95)" stroke="#1f7fe6" stroke-width="0.22">(226)</text><path d="M111,118.5 L112.7,120.7 L111,122.9 L109.3,120.7 Z" stroke="none" stroke-width="1" fill="#ee1c25"/><path d="M119.1,126.2 L120.8,128.4 L119.1,130.6 L117.4,128.4 Z" stroke="none" stroke-width="1" fill="#ee1c25"/><path d="M173.2,97.2 L174.9,99.4 L173.2,101.6 L171.5,99.4 Z" stroke="none" stroke-width="1" fill="#ee1c25"/><line x1="171.8" y1="15.7" x2="190" y2="15.7" stroke="#f47b30" stroke-width="1"/><text x="192" y="18.3" font-size="7.4" fill="#f47b30" textLength="22.6" lengthAdjust="spacingAndGlyphs" stroke="#f47b30" stroke-width="0.22">Powder</text><line x1="177.2" y1="87.1" x2="195.1" y2="87.1" stroke="#1f7fe6" stroke-width="1"/><text x="197.6" y="89.7" font-size="7.4" fill="#1f7fe6" textLength="16.3" lengthAdjust="spacingAndGlyphs" stroke="#1f7fe6" stroke-width="0.22">FAST</text><text x="176.7" y="102" font-size="7.4" fill="#ee1c25" textLength="37.5" lengthAdjust="spacingAndGlyphs" stroke="#ee1c25" stroke-width="0.22">Cubic <tspan font-style="italic">Pm</tspan>-3<tspan font-style="italic">m</tspan></text><text x="227.6" y="13.3" font-size="17.5" fill="#000" font-weight="bold">b</text><path d="M253.7,39.24 L254.49,39.23 L255.28,39.4 L256.08,39.6 L256.87,39.34 L257.66,39.68 L258.45,39.97 L259.24,40.07 L260.04,40.01 L260.83,39.88 L261.62,40.15 L262.41,40.62 L263.2,40.2 L264,40.45 L264.79,40.95 L265.58,40.77 L266.37,40.75 L267.16,40.93 L267.96,41.41 L268.75,41.19 L269.54,41.36 L270.33,41.6 L271.12,41.83 L271.92,41.76 L272.71,41.63 L273.5,42.05 L274.29,41.8 L275.08,41.91 L275.88,42.03 L276.67,42.41 L277.46,42.23 L278.25,42.55 L279.04,42.31 L279.84,42.35 L280.63,42.37 L281.42,42.85 L282.21,43.01 L283,42.7 L283.8,42.78 L284.59,42.72 L285.38,43.17 L286.17,43.04 L286.96,43.01 L287.76,43.39 L288.55,43.43 L289.34,43.41 L290.13,43.31 L290.92,43.67 L291.72,43.7 L292.51,43.69 L293.3,43.61 L294.09,44.07 L294.88,44.05 L295.68,43.95 L296.47,44.15 L297.26,43.91 L298.05,43.78 L298.84,43.65 L299.64,43.96 L300.43,43.92 L301.22,43.88 L302.01,44.22 L302.8,44.14 L303.6,43.72 L304.39,44.19 L305.18,43.67 L305.97,44.07 L306.76,43.88 L307.56,44.14 L308.35,44.27 L309.14,43.99 L309.93,44.11 L310.72,43.66 L311.52,44 L312.31,43.65 L313.1,43.83 L313.89,43.73 L314.68,43.55 L315.48,43.93 L316.27,43.52 L317.06,43.59 L317.85,43.47 L318.64,43.79 L319.44,43.55 L320.23,43.37 L321.02,43.34 L321.81,43.43 L322.6,43.58 L323.4,43.26 L324.19,43.24 L324.98,43.61 L325.77,43.49 L326.56,43.21 L327.36,43.28 L328.15,43.13 L328.94,43.19 L329.73,43.22 L330.52,43.08 L331.32,43.03 L332.11,43.01 L332.9,43.02 L333.69,43.13 L334.48,43.3 L335.28,43.12 L336.07,42.96 L336.86,42.65 L337.65,42.73 L338.44,42.96 L339.24,42.79 L340.03,43.01 L340.82,43.04 L341.61,42.65 L342.4,42.68 L343.2,42.63 L343.99,42.84 L344.78,42.48 L345.57,42.57 L346.36,42.92 L347.16,42.6 L347.95,42.94 L348.74,42.59 L349.53,42.84 L350.32,42.6 L351.12,42.36 L351.91,42.64 L352.7,42.4 L353.49,42.81 L354.28,42.67 L355.08,42.55 L355.87,42.77 L356.66,42.53 L357.45,42.77 L358.24,42.6 L359.04,42.27 L359.83,42.32 L360.62,42.64 L361.41,42.17 L362.2,42.69 L363,42.11 L363.79,42.52 L364.58,42.43 L365.37,42.28 L366.16,42.39 L366.96,42.36 L367.75,42.21 L368.54,42.15 L369.33,41.99 L370.12,42.34 L370.92,42.46 L371.71,42.15 L372.5,42.42 L373.29,42.13 L374.08,42.02 L374.88,42.34 L375.67,42.4 L376.46,41.88 L377.25,42.33 L378.04,41.98 L378.84,42.24 L379.63,41.93 L380.42,42.34 L381.21,41.93 L382,41.83 L382.8,41.73 L383.59,41.76 L384.38,41.72 L385.17,42.14 L385.96,41.64 L386.76,41.68 L387.55,41.71 L388.34,41.57 L389.13,41.87 L389.92,41.33 L390.72,41.66 L391.51,41.38 L392.3,41.18 L393.09,41.15 L393.88,41.25 L394.68,41.01 L395.47,41.02 L396.26,40.94 L397.05,40.89 L397.84,40.86 L398.64,40.48 L399.43,40.54 L400.22,40.47 L401.01,40.08 L401.8,40.23 L402.6,39.79 L403.39,40.1 L404.18,40.08 L404.97,40.01 L405.76,40.4 L406.56,40.58 L407.35,40.43 L408.14,40.42 L408.93,41.28 L409.72,41.87 L410.52,42.18 L411.31,42.68 L412.1,43.26 L412.89,43.83 L413.68,44.35 L414.48,45.67 L415.27,48.09 L416.06,50.37 L416.85,52.6 L417.64,57.54 L418.44,62.45 L419.23,67.36 L420.02,74.21 L420.81,80.76 L421.6,87.53 L422.4,94.03 L423.19,101.14 L423.98,107.35 L424.77,111.55 L425.56,115.12 L426.36,119.08 L427.15,122.81 L427.94,124.39 L428.73,126.45 L429.52,128.89 L430.32,130.69 L431.11,132.35 L431.9,132.87 L432.69,133.19 L433.48,133.73 L434.28,134.01 L435.07,134.4 L435.86,134.82 L436.65,135.5 L437.44,136.06 L438.24,136.35 L439.03,136.87 L439.82,137.28 L440.61,137.38 L440.61,137.8 L253.7,137.8 Z" stroke="none" stroke-width="1" fill="url(#gbF)"/><path d="M253.7,41.25 L254.49,41.26 L255.28,41.44 L256.08,41.67 L256.87,41.42 L257.66,41.79 L258.45,42.09 L259.24,42.21 L260.04,42.17 L260.83,42.07 L261.62,42.35 L262.41,42.84 L263.2,42.45 L264,42.72 L264.79,43.24 L265.58,43.08 L266.37,43.07 L267.16,43.28 L267.96,43.77 L268.75,43.57 L269.54,43.76 L270.33,44.02 L271.12,44.27 L271.92,44.22 L272.71,44.12 L273.5,44.55 L274.29,44.35 L275.08,44.5 L275.88,44.68 L276.67,45.1 L277.46,44.98 L278.25,45.34 L279.04,45.15 L279.84,45.24 L280.63,45.3 L281.42,45.83 L282.21,46.04 L283,45.78 L283.8,45.91 L284.59,45.9 L285.38,46.4 L286.17,46.31 L286.96,46.33 L287.76,46.76 L288.55,46.85 L289.34,46.88 L290.13,46.82 L290.92,47.23 L291.72,47.3 L292.51,47.35 L293.3,47.31 L294.09,47.86 L294.88,47.91 L295.68,47.9 L296.47,48.18 L297.26,48.02 L298.05,47.97 L298.84,47.92 L299.64,48.31 L300.43,48.35 L301.22,48.39 L302.01,48.82 L302.8,48.82 L303.6,48.47 L304.39,49.03 L305.18,48.59 L305.97,49.07 L306.76,48.96 L307.56,49.3 L308.35,49.53 L309.14,49.36 L309.93,49.58 L310.72,49.24 L311.52,49.69 L312.31,49.44 L313.1,49.73 L313.89,49.74 L314.68,49.67 L315.48,50.16 L316.27,49.85 L317.06,50.03 L317.85,50.01 L318.64,50.44 L319.44,50.31 L320.23,50.24 L321.02,50.31 L321.81,50.51 L322.6,50.77 L323.4,50.55 L324.19,50.64 L324.98,51.11 L325.77,51.12 L326.56,50.98 L327.36,51.19 L328.15,51.17 L328.94,51.35 L329.73,51.52 L330.52,51.51 L331.32,51.59 L332.11,51.7 L332.9,51.84 L333.69,52.09 L334.48,52.38 L335.28,52.34 L336.07,52.31 L336.86,52.14 L337.65,52.34 L338.44,52.71 L339.24,52.66 L340.03,53.02 L340.82,53.19 L341.61,52.95 L342.4,53.12 L343.2,53.21 L343.99,53.56 L344.78,53.35 L345.57,53.58 L346.36,54.07 L347.16,53.9 L347.95,54.38 L348.74,54.17 L349.53,54.56 L350.32,54.47 L351.12,54.38 L351.91,54.79 L352.7,54.7 L353.49,55.25 L354.28,55.25 L355.08,55.28 L355.87,55.64 L356.66,55.55 L357.45,55.87 L358.24,55.8 L359.04,55.55 L359.83,55.69 L360.62,56.1 L361.41,55.73 L362.2,56.33 L363,55.84 L363.79,56.34 L364.58,56.34 L365.37,56.29 L366.16,56.48 L366.96,56.54 L367.75,56.48 L368.54,56.51 L369.33,56.45 L370.12,56.89 L370.92,57.1 L371.71,56.87 L372.5,57.23 L373.29,57.01 L374.08,56.98 L374.88,57.36 L375.67,57.49 L376.46,57.05 L377.25,57.57 L378.04,57.29 L378.84,57.62 L379.63,57.38 L380.42,57.85 L381.21,57.52 L382,57.49 L382.8,57.45 L383.59,57.56 L384.38,57.59 L385.17,58.08 L385.96,57.65 L386.76,57.76 L387.55,57.92 L388.34,57.97 L389.13,58.46 L389.92,58.11 L390.72,58.62 L391.51,58.53 L392.3,58.52 L393.09,58.68 L393.88,58.96 L394.68,58.91 L395.47,59.1 L396.26,59.21 L397.05,59.41 L397.84,59.62 L398.64,59.48 L399.43,59.78 L400.22,59.95 L401.01,59.75 L401.8,60.07 L402.6,59.71 L403.39,60.01 L404.18,59.97 L404.97,59.88 L405.76,60.24 L406.56,60.41 L407.35,60.23 L408.14,60.2 L408.93,60.58 L409.72,60.68 L410.52,60.51 L411.31,60.51 L412.1,60.61 L412.89,60.68 L413.68,60.71 L414.48,60.66 L415.27,60.82 L416.06,60.85 L416.85,60.83 L417.64,60.8 L418.44,60.74 L419.23,60.68 L420.02,60.89 L420.81,60.81 L421.6,62.44 L422.4,63.8 L423.19,65.77 L423.98,68.64 L424.77,72.43 L425.56,75.58 L426.36,80.46 L427.15,85.11 L427.94,89.35 L428.73,93.75 L429.52,98.53 L430.32,102.66 L431.11,105.65 L431.9,109.1 L432.69,112.33 L433.48,114.13 L434.28,115.66 L435.07,117.3 L435.86,117.97 L436.65,118.9 L437.44,119.71 L438.24,119.84 L439.03,120.18 L439.82,120.43 L440.61,120.36 L440.61,137.8 L253.7,137.8 Z" stroke="none" stroke-width="1" fill="url(#gbS)"/><path d="M253.7,42.91 L254.49,43.16 L255.28,43.19 L256.08,43.38 L256.87,43.49 L257.66,44.04 L258.45,43.81 L259.24,43.91 L260.04,44.17 L260.83,44.36 L261.62,44.58 L262.41,44.74 L263.2,44.83 L264,45.15 L264.79,45.33 L265.58,45.67 L266.37,45.64 L267.16,45.75 L267.96,46.01 L268.75,46.41 L269.54,46.5 L270.33,46.9 L271.12,47.13 L271.92,47.08 L272.71,47.08 L273.5,47.65 L274.29,47.82 L275.08,47.77 L275.88,48.09 L276.67,48.03 L277.46,48.56 L278.25,48.67 L279.04,48.81 L279.84,49.06 L280.63,48.79 L281.42,49.14 L282.21,49.41 L283,49.61 L283.8,49.53 L284.59,49.54 L285.38,49.99 L286.17,49.84 L286.96,50.36 L287.76,50.1 L288.55,50.53 L289.34,50.7 L290.13,50.65 L290.92,51.02 L291.72,51.19 L292.51,51.28 L293.3,51.75 L294.09,51.85 L294.88,51.98 L295.68,51.7 L296.47,51.68 L297.26,52.01 L298.05,51.96 L298.84,52.43 L299.64,52.28 L300.43,52.31 L301.22,52.52 L302.01,52.71 L302.8,53.02 L303.6,52.97 L304.39,52.99 L305.18,53.32 L305.97,53.06 L306.76,53.27 L307.56,53.67 L308.35,53.81 L309.14,53.51 L309.93,53.58 L310.72,53.93 L311.52,54.11 L312.31,53.81 L313.1,54.15 L313.89,54.14 L314.68,54.12 L315.48,54.26 L316.27,54.42 L317.06,54.61 L317.85,54.49 L318.64,54.88 L319.44,55.13 L320.23,55.1 L321.02,54.82 L321.81,55.25 L322.6,55.33 L323.4,55.05 L324.19,55.36 L324.98,55.61 L325.77,55.89 L326.56,55.99 L327.36,55.88 L328.15,55.99 L328.94,56.32 L329.73,55.98 L330.52,56.26 L331.32,56.1 L332.11,56.63 L332.9,56.66 L333.69,56.5 L334.48,56.6 L335.28,56.9 L336.07,57.14 L336.86,56.88 L337.65,57.1 L338.44,57.32 L339.24,57.27 L340.03,57.75 L340.82,57.8 L341.61,58.08 L342.4,58.03 L343.2,58.2 L343.99,58.11 L344.78,58.38 L345.57,58.48 L346.36,58.65 L347.16,58.54 L347.95,59.16 L348.74,58.89 L349.53,59.21 L350.32,59.64 L351.12,59.53 L351.91,59.89 L352.7,59.66 L353.49,59.93 L354.28,60.02 L355.08,60.13 L355.87,60.3 L356.66,60.49 L357.45,60.85 L358.24,61.06 L359.04,60.66 L359.83,61.12 L360.62,61.17 L361.41,61.22 L362.2,61.12 L363,61.44 L363.79,61.54 L364.58,61.69 L365.37,61.96 L366.16,61.94 L366.96,62.03 L367.75,62.14 L368.54,62.69 L369.33,62.46 L370.12,62.93 L370.92,62.57 L371.71,63 L372.5,63.06 L373.29,63.28 L374.08,63.28 L374.88,63.62 L375.67,63.58 L376.46,63.38 L377.25,63.88 L378.04,63.96 L378.84,63.87 L379.63,64.28 L380.42,64.47 L381.21,64.26 L382,64.31 L382.8,64.52 L383.59,64.82 L384.38,64.86 L385.17,64.76 L385.96,65.11 L386.76,65.29 L387.55,65.4 L388.34,65.32 L389.13,65.64 L389.92,65.62 L390.72,65.43 L391.51,65.54 L392.3,65.94 L393.09,65.57 L393.88,65.76 L394.68,65.73 L395.47,65.95 L396.26,66.13 L397.05,65.78 L397.84,65.88 L398.64,65.86 L399.43,65.95 L400.22,66.24 L401.01,66.45 L401.8,66.96 L402.6,66.89 L403.39,67.16 L404.18,67.1 L404.97,67.45 L405.76,67.73 L406.56,67.92 L407.35,68.47 L408.14,68.48 L408.93,69.31 L409.72,70.55 L410.52,71.33 L411.31,72.35 L412.1,73.6 L412.89,75.69 L413.68,78.49 L414.48,80.71 L415.27,82.88 L416.06,85.65 L416.85,89.03 L417.64,92.1 L418.44,95.36 L419.23,98.62 L420.02,101.43 L420.81,104.76 L421.6,108.12 L422.4,111.11 L423.19,114.66 L423.98,117.53 L424.77,119.3 L425.56,121.34 L426.36,123.54 L427.15,125.3 L427.94,127.66 L428.73,128.89 L429.52,129.85 L430.32,130.89 L431.11,131.44 L431.9,132.4 L432.69,132.74 L433.48,133.65 L434.28,133.51 L435.07,133.94 L435.86,134.7 L436.65,135.03 L437.44,134.95 L438.24,134.84 L439.03,134.99 L439.82,135.62 L440.61,135.71 L440.61,137.8 L253.7,137.8 Z" stroke="none" stroke-width="1" fill="url(#gbP)"/><path d="M253.7,42.91 L254.49,43.16 L255.28,43.19 L256.08,43.38 L256.87,43.49 L257.66,44.04 L258.45,43.81 L259.24,43.91 L260.04,44.17 L260.83,44.36 L261.62,44.58 L262.41,44.74 L263.2,44.83 L264,45.15 L264.79,45.33 L265.58,45.67 L266.37,45.64 L267.16,45.75 L267.96,46.01 L268.75,46.41 L269.54,46.5 L270.33,46.9 L271.12,47.13 L271.92,47.08 L272.71,47.08 L273.5,47.65 L274.29,47.82 L275.08,47.77 L275.88,48.09 L276.67,48.03 L277.46,48.56 L278.25,48.67 L279.04,48.81 L279.84,49.06 L280.63,48.79 L281.42,49.14 L282.21,49.41 L283,49.61 L283.8,49.53 L284.59,49.54 L285.38,49.99 L286.17,49.84 L286.96,50.36 L287.76,50.1 L288.55,50.53 L289.34,50.7 L290.13,50.65 L290.92,51.02 L291.72,51.19 L292.51,51.28 L293.3,51.75 L294.09,51.85 L294.88,51.98 L295.68,51.7 L296.47,51.68 L297.26,52.01 L298.05,51.96 L298.84,52.43 L299.64,52.28 L300.43,52.31 L301.22,52.52 L302.01,52.71 L302.8,53.02 L303.6,52.97 L304.39,52.99 L305.18,53.32 L305.97,53.06 L306.76,53.27 L307.56,53.67 L308.35,53.81 L309.14,53.51 L309.93,53.58 L310.72,53.93 L311.52,54.11 L312.31,53.81 L313.1,54.15 L313.89,54.14 L314.68,54.12 L315.48,54.26 L316.27,54.42 L317.06,54.61 L317.85,54.49 L318.64,54.88 L319.44,55.13 L320.23,55.1 L321.02,54.82 L321.81,55.25 L322.6,55.33 L323.4,55.05 L324.19,55.36 L324.98,55.61 L325.77,55.89 L326.56,55.99 L327.36,55.88 L328.15,55.99 L328.94,56.32 L329.73,55.98 L330.52,56.26 L331.32,56.1 L332.11,56.63 L332.9,56.66 L333.69,56.5 L334.48,56.6 L335.28,56.9 L336.07,57.14 L336.86,56.88 L337.65,57.1 L338.44,57.32 L339.24,57.27 L340.03,57.75 L340.82,57.8 L341.61,58.08 L342.4,58.03 L343.2,58.2 L343.99,58.11 L344.78,58.38 L345.57,58.48 L346.36,58.65 L347.16,58.54 L347.95,59.16 L348.74,58.89 L349.53,59.21 L350.32,59.64 L351.12,59.53 L351.91,59.89 L352.7,59.66 L353.49,59.93 L354.28,60.02 L355.08,60.13 L355.87,60.3 L356.66,60.49 L357.45,60.85 L358.24,61.06 L359.04,60.66 L359.83,61.12 L360.62,61.17 L361.41,61.22 L362.2,61.12 L363,61.44 L363.79,61.54 L364.58,61.69 L365.37,61.96 L366.16,61.94 L366.96,62.03 L367.75,62.14 L368.54,62.69 L369.33,62.46 L370.12,62.93 L370.92,62.57 L371.71,63 L372.5,63.06 L373.29,63.28 L374.08,63.28 L374.88,63.62 L375.67,63.58 L376.46,63.38 L377.25,63.88 L378.04,63.96 L378.84,63.87 L379.63,64.28 L380.42,64.47 L381.21,64.26 L382,64.31 L382.8,64.52 L383.59,64.82 L384.38,64.86 L385.17,64.76 L385.96,65.11 L386.76,65.29 L387.55,65.4 L388.34,65.32 L389.13,65.64 L389.92,65.62 L390.72,65.43 L391.51,65.54 L392.3,65.94 L393.09,65.57 L393.88,65.76 L394.68,65.73 L395.47,65.95 L396.26,66.13 L397.05,65.78 L397.84,65.88 L398.64,65.86 L399.43,65.95 L400.22,66.24 L401.01,66.45 L401.8,66.96 L402.6,66.89 L403.39,67.16 L404.18,67.1 L404.97,67.45 L405.76,67.73 L406.56,67.92 L407.35,68.47 L408.14,68.48 L408.93,69.31 L409.72,70.55 L410.52,71.33 L411.31,72.35 L412.1,73.6 L412.89,75.69 L413.68,78.49 L414.48,80.71 L415.27,82.88 L416.06,85.65 L416.85,89.03 L417.64,92.1 L418.44,95.36 L419.23,98.62 L420.02,101.43 L420.81,104.76 L421.6,108.12 L422.4,111.11 L423.19,114.66 L423.98,117.53 L424.77,119.3 L425.56,121.34 L426.36,123.54 L427.15,125.3 L427.94,127.66 L428.73,128.89 L429.52,129.85 L430.32,130.89 L431.11,131.44 L431.9,132.4 L432.69,132.74 L433.48,133.65 L434.28,133.51 L435.07,133.94 L435.86,134.7 L436.65,135.03 L437.44,134.95 L438.24,134.84 L439.03,134.99 L439.82,135.62 L440.61,135.71" stroke="#c0703c" stroke-width="0.5" fill="none"/><path d="M253.7,41.25 L254.49,41.26 L255.28,41.44 L256.08,41.67 L256.87,41.42 L257.66,41.79 L258.45,42.09 L259.24,42.21 L260.04,42.17 L260.83,42.07 L261.62,42.35 L262.41,42.84 L263.2,42.45 L264,42.72 L264.79,43.24 L265.58,43.08 L266.37,43.07 L267.16,43.28 L267.96,43.77 L268.75,43.57 L269.54,43.76 L270.33,44.02 L271.12,44.27 L271.92,44.22 L272.71,44.12 L273.5,44.55 L274.29,44.35 L275.08,44.5 L275.88,44.68 L276.67,45.1 L277.46,44.98 L278.25,45.34 L279.04,45.15 L279.84,45.24 L280.63,45.3 L281.42,45.83 L282.21,46.04 L283,45.78 L283.8,45.91 L284.59,45.9 L285.38,46.4 L286.17,46.31 L286.96,46.33 L287.76,46.76 L288.55,46.85 L289.34,46.88 L290.13,46.82 L290.92,47.23 L291.72,47.3 L292.51,47.35 L293.3,47.31 L294.09,47.86 L294.88,47.91 L295.68,47.9 L296.47,48.18 L297.26,48.02 L298.05,47.97 L298.84,47.92 L299.64,48.31 L300.43,48.35 L301.22,48.39 L302.01,48.82 L302.8,48.82 L303.6,48.47 L304.39,49.03 L305.18,48.59 L305.97,49.07 L306.76,48.96 L307.56,49.3 L308.35,49.53 L309.14,49.36 L309.93,49.58 L310.72,49.24 L311.52,49.69 L312.31,49.44 L313.1,49.73 L313.89,49.74 L314.68,49.67 L315.48,50.16 L316.27,49.85 L317.06,50.03 L317.85,50.01 L318.64,50.44 L319.44,50.31 L320.23,50.24 L321.02,50.31 L321.81,50.51 L322.6,50.77 L323.4,50.55 L324.19,50.64 L324.98,51.11 L325.77,51.12 L326.56,50.98 L327.36,51.19 L328.15,51.17 L328.94,51.35 L329.73,51.52 L330.52,51.51 L331.32,51.59 L332.11,51.7 L332.9,51.84 L333.69,52.09 L334.48,52.38 L335.28,52.34 L336.07,52.31 L336.86,52.14 L337.65,52.34 L338.44,52.71 L339.24,52.66 L340.03,53.02 L340.82,53.19 L341.61,52.95 L342.4,53.12 L343.2,53.21 L343.99,53.56 L344.78,53.35 L345.57,53.58 L346.36,54.07 L347.16,53.9 L347.95,54.38 L348.74,54.17 L349.53,54.56 L350.32,54.47 L351.12,54.38 L351.91,54.79 L352.7,54.7 L353.49,55.25 L354.28,55.25 L355.08,55.28 L355.87,55.64 L356.66,55.55 L357.45,55.87 L358.24,55.8 L359.04,55.55 L359.83,55.69 L360.62,56.1 L361.41,55.73 L362.2,56.33 L363,55.84 L363.79,56.34 L364.58,56.34 L365.37,56.29 L366.16,56.48 L366.96,56.54 L367.75,56.48 L368.54,56.51 L369.33,56.45 L370.12,56.89 L370.92,57.1 L371.71,56.87 L372.5,57.23 L373.29,57.01 L374.08,56.98 L374.88,57.36 L375.67,57.49 L376.46,57.05 L377.25,57.57 L378.04,57.29 L378.84,57.62 L379.63,57.38 L380.42,57.85 L381.21,57.52 L382,57.49 L382.8,57.45 L383.59,57.56 L384.38,57.59 L385.17,58.08 L385.96,57.65 L386.76,57.76 L387.55,57.92 L388.34,57.97 L389.13,58.46 L389.92,58.11 L390.72,58.62 L391.51,58.53 L392.3,58.52 L393.09,58.68 L393.88,58.96 L394.68,58.91 L395.47,59.1 L396.26,59.21 L397.05,59.41 L397.84,59.62 L398.64,59.48 L399.43,59.78 L400.22,59.95 L401.01,59.75 L401.8,60.07 L402.6,59.71 L403.39,60.01 L404.18,59.97 L404.97,59.88 L405.76,60.24 L406.56,60.41 L407.35,60.23 L408.14,60.2 L408.93,60.58 L409.72,60.68 L410.52,60.51 L411.31,60.51 L412.1,60.61 L412.89,60.68 L413.68,60.71 L414.48,60.66 L415.27,60.82 L416.06,60.85 L416.85,60.83 L417.64,60.8 L418.44,60.74 L419.23,60.68 L420.02,60.89 L420.81,60.81 L421.6,62.44 L422.4,63.8 L423.19,65.77 L423.98,68.64 L424.77,72.43 L425.56,75.58 L426.36,80.46 L427.15,85.11 L427.94,89.35 L428.73,93.75 L429.52,98.53 L430.32,102.66 L431.11,105.65 L431.9,109.1 L432.69,112.33 L433.48,114.13 L434.28,115.66 L435.07,117.3 L435.86,117.97 L436.65,118.9 L437.44,119.71 L438.24,119.84 L439.03,120.18 L439.82,120.43 L440.61,120.36" stroke="#1a1a1a" stroke-width="0.8" fill="none"/><path d="M348.74,138 L349.33,138 L349.93,138 L350.52,138 L351.12,138 L351.71,138 L352.3,138 L352.9,138 L353.49,137.99 L354.09,137.99 L354.68,137.99 L355.27,137.99 L355.87,137.99 L356.46,137.98 L357.06,137.98 L357.65,137.97 L358.24,137.97 L358.84,137.96 L359.43,137.95 L360.03,137.95 L360.62,137.93 L361.21,137.92 L361.81,137.91 L362.4,137.89 L363,137.87 L363.59,137.85 L364.18,137.82 L364.78,137.79 L365.37,137.75 L365.97,137.71 L366.56,137.67 L367.15,137.62 L367.75,137.56 L368.34,137.5 L368.94,137.43 L369.53,137.35 L370.12,137.26 L370.72,137.17 L371.31,137.06 L371.91,136.95 L372.5,136.83 L373.09,136.7 L373.69,136.56 L374.28,136.4 L374.88,136.24 L375.47,136.06 L376.06,135.88 L376.66,135.68 L377.25,135.47 L377.85,135.24 L378.44,135 L379.03,134.73 L379.63,134.45 L380.22,134.14 L380.82,133.79 L381.41,133.4 L382,132.96 L382.6,132.45 L383.19,131.87 L383.79,131.19 L384.38,130.38 L384.97,129.43 L385.57,128.32 L386.16,126.99 L386.76,125.44 L387.35,123.61 L387.94,121.48 L388.54,119.01 L389.13,116.17 L389.73,112.93 L390.32,109.27 L390.91,105.17 L391.51,100.63 L392.1,95.66 L392.7,90.28 L393.29,84.53 L393.88,78.47 L394.48,72.17 L395.07,65.75 L395.67,59.3 L396.26,52.99 L396.85,46.96 L397.45,41.38 L398.04,36.4 L398.64,32.14 L399.23,28.69 L399.82,26.07 L400.42,24.26 L401.01,23.21 L401.61,22.86 L402.2,23.08 L402.79,23.58 L403.39,24.38 L403.98,25.58 L404.58,27.27 L405.17,29.53 L405.76,32.37 L406.36,35.78 L406.95,39.7 L407.55,44.05 L408.14,48.73 L408.73,53.65 L409.33,58.74 L409.92,63.91 L410.52,69.11 L411.11,74.26 L411.7,79.33 L412.3,84.28 L412.89,89.05 L413.49,93.63 L414.08,97.98 L414.67,102.09 L415.27,105.94 L415.86,109.52 L416.46,112.83 L417.05,115.87 L417.64,118.64 L418.24,121.15 L418.83,123.4 L419.43,125.42 L420.02,127.22 L420.61,128.81 L421.21,130.2 L421.8,131.41 L422.4,132.47 L422.99,133.38 L423.58,134.16 L424.18,134.82 L424.77,135.38 L425.37,135.86 L425.96,136.25 L426.55,136.59 L427.15,136.86 L427.74,137.08 L428.34,137.27 L428.93,137.42 L429.52,137.54 L430.12,137.64 L430.71,137.72 L431.31,137.78 L431.9,137.83 L432.49,137.87 L433.09,137.9 L433.68,137.92 L434.28,137.94 L434.87,137.96 L435.46,137.97 L436.06,137.98 L436.65,137.98 L437.25,137.99 L437.84,137.99 L438.43,137.99 L439.03,137.99 L439.62,138 L440.22,138 L440.61,137.8 L348.74,137.8 Z" stroke="none" stroke-width="1" fill="#9ab8ec" fill-opacity="0.45"/><path d="M348.74,138 L349.33,138 L349.93,138 L350.52,138 L351.12,138 L351.71,138 L352.3,138 L352.9,138 L353.49,138 L354.09,138 L354.68,138 L355.27,138 L355.87,138 L356.46,138 L357.06,138 L357.65,138 L358.24,138 L358.84,138 L359.43,138 L360.03,138 L360.62,138 L361.21,138 L361.81,138 L362.4,138 L363,138 L363.59,138 L364.18,138 L364.78,138 L365.37,138 L365.97,138 L366.56,138 L367.15,137.99 L367.75,137.99 L368.34,137.99 L368.94,137.99 L369.53,137.98 L370.12,137.98 L370.72,137.97 L371.31,137.96 L371.91,137.95 L372.5,137.94 L373.09,137.92 L373.69,137.9 L374.28,137.87 L374.88,137.83 L375.47,137.79 L376.06,137.74 L376.66,137.68 L377.25,137.6 L377.85,137.51 L378.44,137.4 L379.03,137.27 L379.63,137.11 L380.22,136.92 L380.82,136.69 L381.41,136.42 L382,136.11 L382.6,135.74 L383.19,135.31 L383.79,134.81 L384.38,134.24 L384.97,133.57 L385.57,132.82 L386.16,131.95 L386.76,130.97 L387.35,129.86 L387.94,128.61 L388.54,127.22 L389.13,125.66 L389.73,123.93 L390.32,122.03 L390.91,119.94 L391.51,117.65 L392.1,115.17 L392.7,112.48 L393.29,109.59 L393.88,106.49 L394.48,103.19 L395.07,99.69 L395.67,96.01 L396.26,92.15 L396.85,88.13 L397.45,83.98 L398.04,79.7 L398.64,75.33 L399.23,70.9 L399.82,66.43 L400.42,61.96 L401.01,57.53 L401.61,53.17 L402.2,48.93 L402.79,44.84 L403.39,40.94 L403.98,37.27 L404.58,33.87 L405.17,30.77 L405.76,28.01 L406.36,25.62 L406.95,23.63 L407.55,22.06 L408.14,20.92 L408.73,20.23 L409.33,20 L409.92,20.17 L410.52,20.68 L411.11,21.51 L411.7,22.68 L412.3,24.16 L412.89,25.94 L413.49,28.01 L414.08,30.35 L414.67,32.95 L415.27,35.77 L415.86,38.81 L416.46,42.03 L417.05,45.41 L417.64,48.93 L418.24,52.56 L418.83,56.28 L419.43,60.06 L420.02,63.87 L420.61,67.71 L421.21,71.53 L421.8,75.33 L422.4,79.08 L422.99,82.77 L423.58,86.37 L424.18,89.87 L424.77,93.27 L425.37,96.55 L425.96,99.69 L426.55,102.7 L427.15,105.57 L427.74,108.28 L428.34,110.85 L428.93,113.27 L429.52,115.54 L430.12,117.65 L430.71,119.63 L431.31,121.45 L431.9,123.14 L432.49,124.7 L433.09,126.12 L433.68,127.42 L434.28,128.61 L434.87,129.69 L435.46,130.67 L436.06,131.54 L436.65,132.33 L437.25,133.04 L437.84,133.67 L438.43,134.24 L439.03,134.73 L439.62,135.18 L440.22,135.56 L440.61,137.8 L348.74,137.8 Z" stroke="none" stroke-width="1" fill="#e8a4a0" fill-opacity="0.45"/><path d="M348.74,138 L349.33,138 L349.93,138 L350.52,138 L351.12,138 L351.71,138 L352.3,138 L352.9,138 L353.49,138 L354.09,138 L354.68,138 L355.27,138 L355.87,138 L356.46,138 L357.06,138 L357.65,138 L358.24,138 L358.84,138 L359.43,138 L360.03,138 L360.62,138 L361.21,138 L361.81,138 L362.4,138 L363,138 L363.59,138 L364.18,138 L364.78,138 L365.37,138 L365.97,138 L366.56,138 L367.15,138 L367.75,138 L368.34,138 L368.94,138 L369.53,138 L370.12,138 L370.72,138 L371.31,138 L371.91,138 L372.5,138 L373.09,138 L373.69,138 L374.28,138 L374.88,138 L375.47,138 L376.06,138 L376.66,138 L377.25,138 L377.85,138 L378.44,137.99 L379.03,137.99 L379.63,137.99 L380.22,137.98 L380.82,137.97 L381.41,137.96 L382,137.95 L382.6,137.93 L383.19,137.91 L383.79,137.88 L384.38,137.84 L384.97,137.79 L385.57,137.72 L386.16,137.63 L386.76,137.52 L387.35,137.37 L387.94,137.19 L388.54,136.97 L389.13,136.69 L389.73,136.34 L390.32,135.92 L390.91,135.41 L391.51,134.78 L392.1,134.04 L392.7,133.15 L393.29,132.09 L393.88,130.86 L394.48,129.42 L395.07,127.75 L395.67,125.83 L396.26,123.65 L396.85,121.17 L397.45,118.4 L398.04,115.31 L398.64,111.89 L399.23,108.14 L399.82,104.08 L400.42,99.69 L401.01,95.01 L401.61,90.05 L402.2,84.86 L402.79,79.47 L403.39,73.94 L403.98,68.31 L404.58,62.67 L405.17,57.07 L405.76,51.59 L406.36,46.32 L406.95,41.34 L407.55,36.71 L408.14,32.52 L408.73,28.84 L409.33,25.74 L409.92,23.26 L410.52,21.46 L411.11,20.37 L411.7,20 L412.3,20.27 L412.89,21.09 L413.49,22.44 L414.08,24.3 L414.67,26.65 L415.27,29.46 L415.86,32.69 L416.46,36.29 L417.05,40.23 L417.64,44.44 L418.24,48.89 L418.83,53.52 L419.43,58.27 L420.02,63.1 L420.61,67.95 L421.21,72.79 L421.8,77.56 L422.4,82.22 L422.99,86.74 L423.58,91.09 L424.18,95.22 L424.77,99.13 L425.37,102.79 L425.96,106.17 L426.55,109.27 L427.15,112.08 L427.74,114.58 L428.34,116.77 L428.93,118.66 L429.52,120.26 L430.12,121.57 L430.71,122.63 L431.31,123.45 L431.9,124.07 L432.49,124.52 L433.09,124.85 L433.68,125.09 L434.28,125.26 L434.87,125.39 L435.46,125.49 L436.06,125.58 L436.65,125.65 L437.25,125.72 L437.84,125.78 L438.43,125.84 L439.03,125.9 L439.62,125.95 L440.22,125.99 L440.61,137.8 L348.74,137.8 Z" stroke="none" stroke-width="1" fill="#8a8088" fill-opacity="0.45"/><path d="M348.74,138 L349.33,138 L349.93,138 L350.52,138 L351.12,138 L351.71,138 L352.3,138 L352.9,138 L353.49,137.99 L354.09,137.99 L354.68,137.99 L355.27,137.99 L355.87,137.99 L356.46,137.98 L357.06,137.98 L357.65,137.97 L358.24,137.97 L358.84,137.96 L359.43,137.95 L360.03,137.95 L360.62,137.93 L361.21,137.92 L361.81,137.91 L362.4,137.89 L363,137.87 L363.59,137.85 L364.18,137.82 L364.78,137.79 L365.37,137.75 L365.97,137.71 L366.56,137.67 L367.15,137.62 L367.75,137.56 L368.34,137.5 L368.94,137.43 L369.53,137.35 L370.12,137.26 L370.72,137.17 L371.31,137.06 L371.91,136.95 L372.5,136.83 L373.09,136.7 L373.69,136.56 L374.28,136.4 L374.88,136.24 L375.47,136.06 L376.06,135.88 L376.66,135.68 L377.25,135.47 L377.85,135.24 L378.44,135 L379.03,134.73 L379.63,134.45 L380.22,134.14 L380.82,133.79 L381.41,133.4 L382,132.96 L382.6,132.45 L383.19,131.87 L383.79,131.19 L384.38,130.38 L384.97,129.43 L385.57,128.32 L386.16,126.99 L386.76,125.44 L387.35,123.61 L387.94,121.48 L388.54,119.01 L389.13,116.17 L389.73,112.93 L390.32,109.27 L390.91,105.17 L391.51,100.63 L392.1,95.66 L392.7,90.28 L393.29,84.53 L393.88,78.47 L394.48,72.17 L395.07,65.75 L395.67,59.3 L396.26,52.99 L396.85,46.96 L397.45,41.38 L398.04,36.4 L398.64,32.14 L399.23,28.69 L399.82,26.07 L400.42,24.26 L401.01,23.21 L401.61,22.86 L402.2,23.08 L402.79,23.58 L403.39,24.38 L403.98,25.58 L404.58,27.27 L405.17,29.53 L405.76,32.37 L406.36,35.78 L406.95,39.7 L407.55,44.05 L408.14,48.73 L408.73,53.65 L409.33,58.74 L409.92,63.91 L410.52,69.11 L411.11,74.26 L411.7,79.33 L412.3,84.28 L412.89,89.05 L413.49,93.63 L414.08,97.98 L414.67,102.09 L415.27,105.94 L415.86,109.52 L416.46,112.83 L417.05,115.87 L417.64,118.64 L418.24,121.15 L418.83,123.4 L419.43,125.42 L420.02,127.22 L420.61,128.81 L421.21,130.2 L421.8,131.41 L422.4,132.47 L422.99,133.38 L423.58,134.16 L424.18,134.82 L424.77,135.38 L425.37,135.86 L425.96,136.25 L426.55,136.59 L427.15,136.86 L427.74,137.08 L428.34,137.27 L428.93,137.42 L429.52,137.54 L430.12,137.64 L430.71,137.72 L431.31,137.78 L431.9,137.83 L432.49,137.87 L433.09,137.9 L433.68,137.92 L434.28,137.94 L434.87,137.96 L435.46,137.97 L436.06,137.98 L436.65,137.98 L437.25,137.99 L437.84,137.99 L438.43,137.99 L439.03,137.99 L439.62,138 L440.22,138" stroke="#2f6fdc" stroke-width="0.7" fill="none"/><path d="M348.74,138 L349.33,138 L349.93,138 L350.52,138 L351.12,138 L351.71,138 L352.3,138 L352.9,138 L353.49,138 L354.09,138 L354.68,138 L355.27,138 L355.87,138 L356.46,138 L357.06,138 L357.65,138 L358.24,138 L358.84,138 L359.43,138 L360.03,138 L360.62,138 L361.21,138 L361.81,138 L362.4,138 L363,138 L363.59,138 L364.18,138 L364.78,138 L365.37,138 L365.97,138 L366.56,138 L367.15,137.99 L367.75,137.99 L368.34,137.99 L368.94,137.99 L369.53,137.98 L370.12,137.98 L370.72,137.97 L371.31,137.96 L371.91,137.95 L372.5,137.94 L373.09,137.92 L373.69,137.9 L374.28,137.87 L374.88,137.83 L375.47,137.79 L376.06,137.74 L376.66,137.68 L377.25,137.6 L377.85,137.51 L378.44,137.4 L379.03,137.27 L379.63,137.11 L380.22,136.92 L380.82,136.69 L381.41,136.42 L382,136.11 L382.6,135.74 L383.19,135.31 L383.79,134.81 L384.38,134.24 L384.97,133.57 L385.57,132.82 L386.16,131.95 L386.76,130.97 L387.35,129.86 L387.94,128.61 L388.54,127.22 L389.13,125.66 L389.73,123.93 L390.32,122.03 L390.91,119.94 L391.51,117.65 L392.1,115.17 L392.7,112.48 L393.29,109.59 L393.88,106.49 L394.48,103.19 L395.07,99.69 L395.67,96.01 L396.26,92.15 L396.85,88.13 L397.45,83.98 L398.04,79.7 L398.64,75.33 L399.23,70.9 L399.82,66.43 L400.42,61.96 L401.01,57.53 L401.61,53.17 L402.2,48.93 L402.79,44.84 L403.39,40.94 L403.98,37.27 L404.58,33.87 L405.17,30.77 L405.76,28.01 L406.36,25.62 L406.95,23.63 L407.55,22.06 L408.14,20.92 L408.73,20.23 L409.33,20 L409.92,20.17 L410.52,20.68 L411.11,21.51 L411.7,22.68 L412.3,24.16 L412.89,25.94 L413.49,28.01 L414.08,30.35 L414.67,32.95 L415.27,35.77 L415.86,38.81 L416.46,42.03 L417.05,45.41 L417.64,48.93 L418.24,52.56 L418.83,56.28 L419.43,60.06 L420.02,63.87 L420.61,67.71 L421.21,71.53 L421.8,75.33 L422.4,79.08 L422.99,82.77 L423.58,86.37 L424.18,89.87 L424.77,93.27 L425.37,96.55 L425.96,99.69 L426.55,102.7 L427.15,105.57 L427.74,108.28 L428.34,110.85 L428.93,113.27 L429.52,115.54 L430.12,117.65 L430.71,119.63 L431.31,121.45 L431.9,123.14 L432.49,124.7 L433.09,126.12 L433.68,127.42 L434.28,128.61 L434.87,129.69 L435.46,130.67 L436.06,131.54 L436.65,132.33 L437.25,133.04 L437.84,133.67 L438.43,134.24 L439.03,134.73 L439.62,135.18 L440.22,135.56" stroke="#e0302c" stroke-width="0.7" fill="none"/><path d="M348.74,138 L349.33,138 L349.93,138 L350.52,138 L351.12,138 L351.71,138 L352.3,138 L352.9,138 L353.49,138 L354.09,138 L354.68,138 L355.27,138 L355.87,138 L356.46,138 L357.06,138 L357.65,138 L358.24,138 L358.84,138 L359.43,138 L360.03,138 L360.62,138 L361.21,138 L361.81,138 L362.4,138 L363,138 L363.59,138 L364.18,138 L364.78,138 L365.37,138 L365.97,138 L366.56,138 L367.15,138 L367.75,138 L368.34,138 L368.94,138 L369.53,138 L370.12,138 L370.72,138 L371.31,138 L371.91,138 L372.5,138 L373.09,138 L373.69,138 L374.28,138 L374.88,138 L375.47,138 L376.06,138 L376.66,138 L377.25,138 L377.85,138 L378.44,137.99 L379.03,137.99 L379.63,137.99 L380.22,137.98 L380.82,137.97 L381.41,137.96 L382,137.95 L382.6,137.93 L383.19,137.91 L383.79,137.88 L384.38,137.84 L384.97,137.79 L385.57,137.72 L386.16,137.63 L386.76,137.52 L387.35,137.37 L387.94,137.19 L388.54,136.97 L389.13,136.69 L389.73,136.34 L390.32,135.92 L390.91,135.41 L391.51,134.78 L392.1,134.04 L392.7,133.15 L393.29,132.09 L393.88,130.86 L394.48,129.42 L395.07,127.75 L395.67,125.83 L396.26,123.65 L396.85,121.17 L397.45,118.4 L398.04,115.31 L398.64,111.89 L399.23,108.14 L399.82,104.08 L400.42,99.69 L401.01,95.01 L401.61,90.05 L402.2,84.86 L402.79,79.47 L403.39,73.94 L403.98,68.31 L404.58,62.67 L405.17,57.07 L405.76,51.59 L406.36,46.32 L406.95,41.34 L407.55,36.71 L408.14,32.52 L408.73,28.84 L409.33,25.74 L409.92,23.26 L410.52,21.46 L411.11,20.37 L411.7,20 L412.3,20.27 L412.89,21.09 L413.49,22.44 L414.08,24.3 L414.67,26.65 L415.27,29.46 L415.86,32.69 L416.46,36.29 L417.05,40.23 L417.64,44.44 L418.24,48.89 L418.83,53.52 L419.43,58.27 L420.02,63.1 L420.61,67.95 L421.21,72.79 L421.8,77.56 L422.4,82.22 L422.99,86.74 L423.58,91.09 L424.18,95.22 L424.77,99.13 L425.37,102.79 L425.96,106.17 L426.55,109.27 L427.15,112.08 L427.74,114.58 L428.34,116.77 L428.93,118.66 L429.52,120.26 L430.12,121.57 L430.71,122.63 L431.31,123.45 L431.9,124.07 L432.49,124.52 L433.09,124.85 L433.68,125.09 L434.28,125.26 L434.87,125.39 L435.46,125.49 L436.06,125.58 L436.65,125.65 L437.25,125.72 L437.84,125.78 L438.43,125.84 L439.03,125.9 L439.62,125.95 L440.22,125.99" stroke="#222" stroke-width="0.7" fill="none"/><rect x="259.2" y="11" width="15.8" height="7.4" fill="url(#glF)"/><rect x="259.2" y="20.1" width="15.8" height="7.6" fill="url(#glP)"/><rect x="259.2" y="28.9" width="15.8" height="7.9" fill="url(#glS)"/><text x="277" y="17.6" font-size="7.4" fill="#3a7ee6" textLength="15" lengthAdjust="spacingAndGlyphs" stroke="#3a7ee6" stroke-width="0.22">FAST</text><text x="277" y="27" font-size="7.4" fill="#f07030" textLength="19.7" lengthAdjust="spacingAndGlyphs" stroke="#f07030" stroke-width="0.22">Powder</text><text x="277" y="35.8" font-size="7.4" fill="#111" textLength="35.1" lengthAdjust="spacingAndGlyphs" stroke="#111" stroke-width="0.22">Single crystal</text><text x="334.7" y="73.6" font-size="7.4" fill="#2222dd" textLength="52.5" lengthAdjust="spacingAndGlyphs" stroke="#2222dd" stroke-width="0.22">FAST: FWHM 47 nm</text><text x="323.6" y="85.4" font-size="7.4" fill="#d81c1c" textLength="62.4" lengthAdjust="spacingAndGlyphs" stroke="#d81c1c" stroke-width="0.22">Powder: FWHM 62 nm</text><text x="300.2" y="98.5" font-size="7.4" fill="#111" textLength="84.1" lengthAdjust="spacingAndGlyphs" stroke="#111" stroke-width="0.22">Single crystal: FWHM 49.2 nm</text><line x1="253.7" y1="7.5" x2="440.6" y2="7.5" stroke="#808080" stroke-width="1"/><line x1="253.7" y1="137.8" x2="440.6" y2="137.8" stroke="#b8b8b8" stroke-width="0.8"/><line x1="253.7" y1="7" x2="253.7" y2="137.8" stroke="#555" stroke-width="1"/><line x1="440.6" y1="7" x2="440.6" y2="137.8" stroke="#555" stroke-width="1"/><line x1="253.7" y1="137.6" x2="251.7" y2="137.6" stroke="#444" stroke-width="0.8"/><text x="250.2" y="140.2" font-size="7.6" fill="#222" text-anchor="end" textLength="9.6" lengthAdjust="spacingAndGlyphs" stroke="#222" stroke-width="0.22">0.0</text><line x1="253.7" y1="117.58" x2="251.7" y2="117.58" stroke="#444" stroke-width="0.8"/><text x="250.2" y="120.18" font-size="7.6" fill="#222" text-anchor="end" textLength="9.6" lengthAdjust="spacingAndGlyphs" stroke="#222" stroke-width="0.22">0.2</text><line x1="253.7" y1="97.56" x2="251.7" y2="97.56" stroke="#444" stroke-width="0.8"/><text x="250.2" y="100.16" font-size="7.6" fill="#222" text-anchor="end" textLength="9.6" lengthAdjust="spacingAndGlyphs" stroke="#222" stroke-width="0.22">0.4</text><line x1="253.7" y1="77.54" x2="251.7" y2="77.54" stroke="#444" stroke-width="0.8"/><text x="250.2" y="80.14" font-size="7.6" fill="#222" text-anchor="end" textLength="9.6" lengthAdjust="spacingAndGlyphs" stroke="#222" stroke-width="0.22">0.6</text><line x1="253.7" y1="57.52" x2="251.7" y2="57.52" stroke="#444" stroke-width="0.8"/><text x="250.2" y="60.12" font-size="7.6" fill="#222" text-anchor="end" textLength="9.6" lengthAdjust="spacingAndGlyphs" stroke="#222" stroke-width="0.22">0.8</text><line x1="253.7" y1="37.5" x2="251.7" y2="37.5" stroke="#444" stroke-width="0.8"/><text x="250.2" y="40.1" font-size="7.6" fill="#222" text-anchor="end" textLength="9.6" lengthAdjust="spacingAndGlyphs" stroke="#222" stroke-width="0.22">1.0</text><line x1="253.7" y1="17.48" x2="251.7" y2="17.48" stroke="#444" stroke-width="0.8"/><text x="250.2" y="20.08" font-size="7.6" fill="#222" text-anchor="end" textLength="9.6" lengthAdjust="spacingAndGlyphs" stroke="#222" stroke-width="0.22">1.2</text><line x1="253.7" y1="137.6" x2="252.5" y2="137.6" stroke="#444" stroke-width="0.6"/><line x1="253.7" y1="127.59" x2="252.5" y2="127.59" stroke="#444" stroke-width="0.6"/><line x1="253.7" y1="117.58" x2="252.5" y2="117.58" stroke="#444" stroke-width="0.6"/><line x1="253.7" y1="107.57" x2="252.5" y2="107.57" stroke="#444" stroke-width="0.6"/><line x1="253.7" y1="97.56" x2="252.5" y2="97.56" stroke="#444" stroke-width="0.6"/><line x1="253.7" y1="87.55" x2="252.5" y2="87.55" stroke="#444" stroke-width="0.6"/><line x1="253.7" y1="77.54" x2="252.5" y2="77.54" stroke="#444" stroke-width="0.6"/><line x1="253.7" y1="67.53" x2="252.5" y2="67.53" stroke="#444" stroke-width="0.6"/><line x1="253.7" y1="57.52" x2="252.5" y2="57.52" stroke="#444" stroke-width="0.6"/><line x1="253.7" y1="47.51" x2="252.5" y2="47.51" stroke="#444" stroke-width="0.6"/><line x1="253.7" y1="37.5" x2="252.5" y2="37.5" stroke="#444" stroke-width="0.6"/><line x1="253.7" y1="27.49" x2="252.5" y2="27.49" stroke="#444" stroke-width="0.6"/><line x1="253.7" y1="17.48" x2="252.5" y2="17.48" stroke="#444" stroke-width="0.6"/><line x1="440.6" y1="138" x2="438.4" y2="138" stroke="#444" stroke-width="0.8"/><text x="443.8" y="140.6" font-size="7.6" fill="#222" textLength="9.6" lengthAdjust="spacingAndGlyphs" stroke="#222" stroke-width="0.22">0.0</text><line x1="440.6" y1="114.4" x2="438.4" y2="114.4" stroke="#444" stroke-width="0.8"/><text x="443.8" y="117" font-size="7.6" fill="#222" textLength="9.6" lengthAdjust="spacingAndGlyphs" stroke="#222" stroke-width="0.22">0.2</text><line x1="440.6" y1="90.8" x2="438.4" y2="90.8" stroke="#444" stroke-width="0.8"/><text x="443.8" y="93.4" font-size="7.6" fill="#222" textLength="9.6" lengthAdjust="spacingAndGlyphs" stroke="#222" stroke-width="0.22">0.4</text><line x1="440.6" y1="67.2" x2="438.4" y2="67.2" stroke="#444" stroke-width="0.8"/><text x="443.8" y="69.8" font-size="7.6" fill="#222" textLength="9.6" lengthAdjust="spacingAndGlyphs" stroke="#222" stroke-width="0.22">0.6</text><line x1="440.6" y1="43.6" x2="438.4" y2="43.6" stroke="#444" stroke-width="0.8"/><text x="443.8" y="46.2" font-size="7.6" fill="#222" textLength="9.6" lengthAdjust="spacingAndGlyphs" stroke="#222" stroke-width="0.22">0.8</text><line x1="440.6" y1="20" x2="438.4" y2="20" stroke="#444" stroke-width="0.8"/><text x="443.8" y="22.6" font-size="7.6" fill="#222" textLength="9.6" lengthAdjust="spacingAndGlyphs" stroke="#222" stroke-width="0.22">1.0</text><line x1="440.6" y1="138" x2="439.4" y2="138" stroke="#444" stroke-width="0.6"/><line x1="440.6" y1="126.2" x2="439.4" y2="126.2" stroke="#444" stroke-width="0.6"/><line x1="440.6" y1="114.4" x2="439.4" y2="114.4" stroke="#444" stroke-width="0.6"/><line x1="440.6" y1="102.6" x2="439.4" y2="102.6" stroke="#444" stroke-width="0.6"/><line x1="440.6" y1="90.8" x2="439.4" y2="90.8" stroke="#444" stroke-width="0.6"/><line x1="440.6" y1="79" x2="439.4" y2="79" stroke="#444" stroke-width="0.6"/><line x1="440.6" y1="67.2" x2="439.4" y2="67.2" stroke="#444" stroke-width="0.6"/><line x1="440.6" y1="55.4" x2="439.4" y2="55.4" stroke="#444" stroke-width="0.6"/><line x1="440.6" y1="43.6" x2="439.4" y2="43.6" stroke="#444" stroke-width="0.6"/><line x1="440.6" y1="31.8" x2="439.4" y2="31.8" stroke="#444" stroke-width="0.6"/><line x1="440.6" y1="20" x2="439.4" y2="20" stroke="#444" stroke-width="0.6"/><line x1="253.7" y1="137.8" x2="253.7" y2="136.3" stroke="#999" stroke-width="0.6"/><text x="253.7" y="147" font-size="7.6" fill="#222" text-anchor="middle" textLength="11.5" lengthAdjust="spacingAndGlyphs" stroke="#222" stroke-width="0.22">400</text><line x1="293.3" y1="137.8" x2="293.3" y2="136.3" stroke="#999" stroke-width="0.6"/><text x="293.3" y="147" font-size="7.6" fill="#222" text-anchor="middle" textLength="11.5" lengthAdjust="spacingAndGlyphs" stroke="#222" stroke-width="0.22">500</text><line x1="332.9" y1="137.8" x2="332.9" y2="136.3" stroke="#999" stroke-width="0.6"/><text x="332.9" y="147" font-size="7.6" fill="#222" text-anchor="middle" textLength="11.5" lengthAdjust="spacingAndGlyphs" stroke="#222" stroke-width="0.22">600</text><line x1="372.5" y1="137.8" x2="372.5" y2="136.3" stroke="#999" stroke-width="0.6"/><text x="372.5" y="147" font-size="7.6" fill="#222" text-anchor="middle" textLength="11.5" lengthAdjust="spacingAndGlyphs" stroke="#222" stroke-width="0.22">700</text><line x1="412.1" y1="137.8" x2="412.1" y2="136.3" stroke="#999" stroke-width="0.6"/><text x="412.1" y="147" font-size="7.6" fill="#222" text-anchor="middle" textLength="11.5" lengthAdjust="spacingAndGlyphs" stroke="#222" stroke-width="0.22">800</text><line x1="273.5" y1="137.8" x2="273.5" y2="136.8" stroke="#aaa" stroke-width="0.5"/><line x1="313.1" y1="137.8" x2="313.1" y2="136.8" stroke="#aaa" stroke-width="0.5"/><line x1="352.7" y1="137.8" x2="352.7" y2="136.8" stroke="#aaa" stroke-width="0.5"/><line x1="392.3" y1="137.8" x2="392.3" y2="136.8" stroke="#aaa" stroke-width="0.5"/><line x1="431.9" y1="137.8" x2="431.9" y2="136.8" stroke="#aaa" stroke-width="0.5"/><text x="346.6" y="159" font-size="10" fill="#222" text-anchor="middle" textLength="65.8" lengthAdjust="spacingAndGlyphs" stroke="#222" stroke-width="0.22">Wavelength (nm)</text><text x="236.5" y="69.4" font-size="10" fill="#222" text-anchor="middle" textLength="74.4" lengthAdjust="spacingAndGlyphs" transform="rotate(-90 236.5 69.4)" stroke="#222" stroke-width="0.22">Absorbance (a.u.)</text><text x="462.8" y="72.4" font-size="10" fill="#222" text-anchor="middle" textLength="30.4" lengthAdjust="spacingAndGlyphs" transform="rotate(-90 462.8 72.4)" stroke="#222" stroke-width="0.22">PL (a.u.)</text><text x="465" y="13.7" font-size="17.5" fill="#000" font-weight="bold">c</text><g fill="none" stroke="#f6a06a" stroke-width="0.5"><circle cx="491.78" cy="49.2" r="1.35"/><circle cx="492.79" cy="52.4" r="1.35"/><circle cx="494.04" cy="56.2" r="1.35"/><circle cx="494.88" cy="58.98" r="1.35"/><circle cx="495.96" cy="63.56" r="1.35"/><circle cx="496.69" cy="64.08" r="1.35"/><circle cx="497.93" cy="69.16" r="1.35"/><circle cx="498.79" cy="68.55" r="1.35"/><circle cx="499.93" cy="70.73" r="1.35"/><circle cx="501.07" cy="71.01" r="1.35"/><circle cx="501.54" cy="73.81" r="1.35"/><circle cx="502.69" cy="74.16" r="1.35"/><circle cx="503.97" cy="77.73" r="1.35"/><circle cx="504.84" cy="72.98" r="1.35"/><circle cx="505.6" cy="75.64" r="1.35"/><circle cx="506.54" cy="77.29" r="1.35"/><circle cx="507.94" cy="78.91" r="1.35"/><circle cx="508.72" cy="75.45" r="1.35"/><circle cx="509.89" cy="77.96" r="1.35"/><circle cx="511.07" cy="78.91" r="1.35"/><circle cx="512.07" cy="82.81" r="1.35"/><circle cx="512.72" cy="83.81" r="1.35"/><circle cx="513.51" cy="84.16" r="1.35"/><circle cx="514.87" cy="83.14" r="1.35"/><circle cx="515.72" cy="84.16" r="1.35"/><circle cx="517" cy="89.65" r="1.35"/><circle cx="517.62" cy="86.44" r="1.35"/><circle cx="518.76" cy="86.44" r="1.35"/><circle cx="519.9" cy="91.29" r="1.35"/><circle cx="520.63" cy="89.65" r="1.35"/><circle cx="521.76" cy="88.19" r="1.35"/><circle cx="522.55" cy="97.72" r="1.35"/><circle cx="524.08" cy="94.51" r="1.35"/><circle cx="524.89" cy="92.49" r="1.35"/><circle cx="525.82" cy="93.13" r="1.35"/><circle cx="526.67" cy="90.72" r="1.35"/><circle cx="527.93" cy="96.02" r="1.35"/><circle cx="528.89" cy="96.85" r="1.35"/><circle cx="530.08" cy="98.65" r="1.35"/><circle cx="530.72" cy="104.5" r="1.35"/><circle cx="532.06" cy="93.8" r="1.35"/><circle cx="533.08" cy="103.13" r="1.35"/><circle cx="533.93" cy="99.65" r="1.35"/><circle cx="534.58" cy="100.72" r="1.35"/><circle cx="535.83" cy="103.13" r="1.35"/><circle cx="536.53" cy="98.65" r="1.35"/><circle cx="537.53" cy="106.02" r="1.35"/><circle cx="539.09" cy="107.72" r="1.35"/><circle cx="539.79" cy="99.65" r="1.35"/><circle cx="540.53" cy="97.72" r="1.35"/><circle cx="541.91" cy="103.13" r="1.35"/><circle cx="542.61" cy="104.5" r="1.35"/><circle cx="543.75" cy="103.13" r="1.35"/><circle cx="544.98" cy="103.13" r="1.35"/><circle cx="545.8" cy="104.5" r="1.35"/><circle cx="546.51" cy="109.64" r="1.35"/><circle cx="547.67" cy="100.72" r="1.35"/><circle cx="548.97" cy="109.64" r="1.35"/><circle cx="549.82" cy="107.72" r="1.35"/><circle cx="550.63" cy="106.02" r="1.35"/><circle cx="551.52" cy="107.72" r="1.35"/><circle cx="552.89" cy="114.49" r="1.35"/><circle cx="553.54" cy="114.49" r="1.35"/><circle cx="554.5" cy="106.02" r="1.35"/><circle cx="555.78" cy="109.64" r="1.35"/><circle cx="556.66" cy="104.5" r="1.35"/><circle cx="557.95" cy="104.5" r="1.35"/><circle cx="558.57" cy="111.87" r="1.35"/><circle cx="560.01" cy="106.02" r="1.35"/><circle cx="560.63" cy="111.87" r="1.35"/><circle cx="561.95" cy="114.49" r="1.35"/><circle cx="563.08" cy="111.87" r="1.35"/><circle cx="563.71" cy="104.5" r="1.35"/><circle cx="565.02" cy="107.72" r="1.35"/><circle cx="566.07" cy="114.49" r="1.35"/><circle cx="566.62" cy="109.64" r="1.35"/><circle cx="567.51" cy="109.64" r="1.35"/><circle cx="568.5" cy="104.5" r="1.35"/><circle cx="569.58" cy="127.71" r="1.35"/><circle cx="571.03" cy="114.49" r="1.35"/><circle cx="571.67" cy="104.5" r="1.35"/><circle cx="573" cy="114.49" r="1.35"/><circle cx="573.58" cy="109.64" r="1.35"/><circle cx="574.98" cy="117.71" r="1.35"/><circle cx="575.81" cy="114.49" r="1.35"/><circle cx="576.82" cy="121.86" r="1.35"/><circle cx="577.62" cy="127.71" r="1.35"/><circle cx="578.78" cy="111.87" r="1.35"/><circle cx="580.02" cy="114.49" r="1.35"/><circle cx="580.61" cy="107.72" r="1.35"/><circle cx="581.77" cy="111.87" r="1.35"/><circle cx="582.74" cy="114.49" r="1.35"/><circle cx="583.98" cy="121.86" r="1.35"/><circle cx="585.03" cy="109.64" r="1.35"/><circle cx="585.8" cy="111.87" r="1.35"/><circle cx="586.67" cy="109.64" r="1.35"/><circle cx="587.77" cy="107.72" r="1.35"/><circle cx="588.53" cy="114.49" r="1.35"/><circle cx="590.04" cy="117.71" r="1.35"/><circle cx="590.61" cy="111.87" r="1.35"/><circle cx="591.69" cy="100.72" r="1.35"/><circle cx="592.68" cy="121.86" r="1.35"/><circle cx="594.03" cy="109.64" r="1.35"/><circle cx="594.92" cy="117.71" r="1.35"/><circle cx="595.68" cy="114.49" r="1.35"/><circle cx="596.5" cy="111.87" r="1.35"/><circle cx="598.06" cy="109.64" r="1.35"/><circle cx="598.55" cy="127.71" r="1.35"/><circle cx="599.87" cy="127.71" r="1.35"/><circle cx="600.58" cy="114.49" r="1.35"/><circle cx="601.59" cy="121.86" r="1.35"/><circle cx="602.7" cy="109.64" r="1.35"/><circle cx="604.06" cy="111.87" r="1.35"/><circle cx="604.79" cy="111.87" r="1.35"/><circle cx="606.03" cy="111.87" r="1.35"/><circle cx="607.05" cy="111.87" r="1.35"/><circle cx="607.92" cy="99.65" r="1.35"/><circle cx="608.7" cy="121.86" r="1.35"/><circle cx="609.9" cy="121.86" r="1.35"/><circle cx="610.74" cy="107.72" r="1.35"/><circle cx="611.86" cy="109.64" r="1.35"/><circle cx="612.79" cy="137.3" r="1.35"/><circle cx="613.95" cy="106.02" r="1.35"/><circle cx="615.06" cy="127.71" r="1.35"/><circle cx="615.86" cy="109.64" r="1.35"/><circle cx="616.88" cy="121.86" r="1.35"/><circle cx="617.57" cy="117.71" r="1.35"/><circle cx="618.96" cy="114.49" r="1.35"/><circle cx="619.9" cy="109.64" r="1.35"/><circle cx="620.99" cy="121.86" r="1.35"/><circle cx="621.72" cy="127.71" r="1.35"/><circle cx="622.67" cy="127.71" r="1.35"/><circle cx="624.07" cy="106.02" r="1.35"/><circle cx="625.01" cy="111.87" r="1.35"/><circle cx="625.72" cy="111.87" r="1.35"/><circle cx="626.52" cy="117.71" r="1.35"/><circle cx="627.75" cy="114.49" r="1.35"/><circle cx="629.06" cy="111.87" r="1.35"/><circle cx="629.94" cy="111.87" r="1.35"/><circle cx="630.71" cy="111.87" r="1.35"/><circle cx="631.75" cy="111.87" r="1.35"/><circle cx="632.64" cy="111.87" r="1.35"/><circle cx="634.09" cy="114.49" r="1.35"/><circle cx="635.02" cy="111.87" r="1.35"/><circle cx="636.09" cy="111.87" r="1.35"/><circle cx="637.06" cy="111.87" r="1.35"/><circle cx="637.57" cy="107.72" r="1.35"/><circle cx="638.84" cy="117.71" r="1.35"/><circle cx="639.7" cy="111.87" r="1.35"/><circle cx="640.93" cy="121.86" r="1.35"/><circle cx="641.85" cy="117.71" r="1.35"/><circle cx="643.03" cy="121.86" r="1.35"/><circle cx="643.64" cy="121.86" r="1.35"/><circle cx="644.53" cy="117.71" r="1.35"/><circle cx="645.56" cy="99.65" r="1.35"/><circle cx="646.72" cy="114.49" r="1.35"/><circle cx="647.51" cy="111.87" r="1.35"/><circle cx="648.93" cy="111.87" r="1.35"/><circle cx="650.05" cy="121.86" r="1.35"/><circle cx="650.84" cy="109.64" r="1.35"/><circle cx="651.52" cy="109.64" r="1.35"/><circle cx="652.85" cy="121.86" r="1.35"/><circle cx="653.89" cy="121.86" r="1.35"/><circle cx="654.75" cy="121.86" r="1.35"/><circle cx="655.7" cy="117.71" r="1.35"/><circle cx="656.71" cy="107.72" r="1.35"/><circle cx="658.02" cy="111.87" r="1.35"/><circle cx="658.68" cy="117.71" r="1.35"/><circle cx="659.55" cy="111.87" r="1.35"/><circle cx="660.62" cy="117.71" r="1.35"/><circle cx="661.92" cy="117.71" r="1.35"/><circle cx="662.58" cy="117.71" r="1.35"/><circle cx="663.61" cy="117.71" r="1.35"/><circle cx="664.54" cy="121.86" r="1.35"/><circle cx="665.99" cy="121.86" r="1.35"/><circle cx="666.83" cy="109.64" r="1.35"/><circle cx="667.5" cy="114.49" r="1.35"/><circle cx="669.02" cy="109.64" r="1.35"/><circle cx="669.7" cy="109.64" r="1.35"/><circle cx="670.82" cy="106.02" r="1.35"/><circle cx="672.03" cy="127.71" r="1.35"/><circle cx="673.05" cy="104.5" r="1.35"/><circle cx="673.89" cy="107.72" r="1.35"/></g><g fill="none" stroke="#f6a06a" stroke-width="0.5"><circle cx="491.66" cy="49.3" r="1.35"/><circle cx="493.05" cy="52.83" r="1.35"/><circle cx="494.07" cy="55.51" r="1.35"/><circle cx="494.86" cy="61.45" r="1.35"/><circle cx="495.96" cy="62.82" r="1.35"/><circle cx="496.51" cy="66.66" r="1.35"/><circle cx="497.69" cy="68.91" r="1.35"/><circle cx="498.99" cy="68.2" r="1.35"/><circle cx="499.92" cy="71.16" r="1.35"/><circle cx="501.09" cy="72.19" r="1.35"/><circle cx="501.96" cy="72.04" r="1.35"/><circle cx="502.77" cy="72.04" r="1.35"/><circle cx="503.78" cy="74.88" r="1.35"/><circle cx="504.52" cy="76.04" r="1.35"/><circle cx="505.88" cy="79.4" r="1.35"/><circle cx="506.81" cy="78.67" r="1.35"/><circle cx="507.84" cy="78.19" r="1.35"/><circle cx="508.67" cy="76.86" r="1.35"/><circle cx="509.8" cy="78.91" r="1.35"/><circle cx="510.86" cy="81.01" r="1.35"/><circle cx="511.79" cy="81.29" r="1.35"/><circle cx="513.07" cy="79.92" r="1.35"/><circle cx="513.52" cy="88.66" r="1.35"/><circle cx="515.02" cy="83.81" r="1.35"/><circle cx="515.9" cy="81.59" r="1.35"/><circle cx="516.69" cy="82.81" r="1.35"/><circle cx="518.07" cy="89.15" r="1.35"/><circle cx="519.01" cy="89.65" r="1.35"/><circle cx="520.04" cy="88.19" r="1.35"/><circle cx="520.89" cy="86.44" r="1.35"/><circle cx="521.87" cy="92.49" r="1.35"/><circle cx="522.54" cy="91.29" r="1.35"/><circle cx="523.73" cy="96.85" r="1.35"/><circle cx="524.62" cy="94.51" r="1.35"/><circle cx="525.81" cy="95.25" r="1.35"/><circle cx="526.58" cy="96.85" r="1.35"/><circle cx="527.97" cy="100.72" r="1.35"/><circle cx="529.06" cy="99.65" r="1.35"/><circle cx="529.67" cy="103.13" r="1.35"/><circle cx="530.54" cy="96.85" r="1.35"/><circle cx="531.61" cy="100.72" r="1.35"/><circle cx="532.69" cy="98.65" r="1.35"/><circle cx="533.69" cy="94.51" r="1.35"/><circle cx="534.83" cy="104.5" r="1.35"/><circle cx="535.89" cy="103.13" r="1.35"/><circle cx="536.95" cy="99.65" r="1.35"/><circle cx="537.73" cy="100.72" r="1.35"/><circle cx="538.87" cy="104.5" r="1.35"/><circle cx="539.65" cy="100.72" r="1.35"/><circle cx="540.56" cy="104.5" r="1.35"/><circle cx="542.08" cy="106.02" r="1.35"/><circle cx="542.88" cy="100.72" r="1.35"/><circle cx="543.95" cy="100.72" r="1.35"/><circle cx="544.93" cy="107.72" r="1.35"/><circle cx="545.89" cy="101.87" r="1.35"/><circle cx="546.77" cy="109.64" r="1.35"/><circle cx="547.81" cy="114.49" r="1.35"/><circle cx="548.71" cy="107.72" r="1.35"/><circle cx="549.69" cy="111.87" r="1.35"/><circle cx="550.64" cy="117.71" r="1.35"/><circle cx="552.04" cy="106.02" r="1.35"/><circle cx="552.54" cy="106.02" r="1.35"/><circle cx="553.6" cy="109.64" r="1.35"/><circle cx="554.6" cy="103.13" r="1.35"/><circle cx="555.79" cy="107.72" r="1.35"/><circle cx="556.99" cy="109.64" r="1.35"/><circle cx="557.75" cy="117.71" r="1.35"/><circle cx="558.72" cy="114.49" r="1.35"/><circle cx="559.75" cy="127.71" r="1.35"/><circle cx="560.81" cy="104.5" r="1.35"/><circle cx="562.01" cy="101.87" r="1.35"/><circle cx="562.63" cy="114.49" r="1.35"/><circle cx="563.77" cy="109.64" r="1.35"/><circle cx="564.99" cy="104.5" r="1.35"/><circle cx="565.53" cy="107.72" r="1.35"/><circle cx="567.06" cy="107.72" r="1.35"/><circle cx="567.99" cy="109.64" r="1.35"/><circle cx="569.06" cy="107.72" r="1.35"/><circle cx="569.54" cy="99.65" r="1.35"/><circle cx="570.87" cy="111.87" r="1.35"/><circle cx="571.76" cy="111.87" r="1.35"/><circle cx="572.56" cy="117.71" r="1.35"/><circle cx="573.5" cy="121.86" r="1.35"/><circle cx="574.81" cy="117.71" r="1.35"/><circle cx="575.72" cy="127.71" r="1.35"/><circle cx="576.82" cy="121.86" r="1.35"/><circle cx="577.95" cy="111.87" r="1.35"/><circle cx="578.52" cy="109.64" r="1.35"/><circle cx="580.03" cy="117.71" r="1.35"/><circle cx="580.97" cy="109.64" r="1.35"/><circle cx="581.91" cy="117.71" r="1.35"/><circle cx="582.76" cy="106.02" r="1.35"/><circle cx="583.58" cy="114.49" r="1.35"/><circle cx="584.89" cy="114.49" r="1.35"/><circle cx="585.8" cy="114.49" r="1.35"/><circle cx="586.66" cy="114.49" r="1.35"/><circle cx="587.94" cy="104.5" r="1.35"/><circle cx="588.68" cy="111.87" r="1.35"/><circle cx="589.52" cy="117.71" r="1.35"/><circle cx="591.08" cy="111.87" r="1.35"/><circle cx="591.8" cy="109.64" r="1.35"/><circle cx="592.56" cy="117.71" r="1.35"/><circle cx="593.91" cy="117.71" r="1.35"/><circle cx="594.66" cy="114.49" r="1.35"/><circle cx="595.88" cy="109.64" r="1.35"/><circle cx="597.09" cy="109.64" r="1.35"/><circle cx="597.87" cy="114.49" r="1.35"/><circle cx="599" cy="107.72" r="1.35"/><circle cx="600.1" cy="107.72" r="1.35"/><circle cx="601.52" cy="111.87" r="1.35"/><circle cx="602.7" cy="114.49" r="1.35"/><circle cx="603.9" cy="107.72" r="1.35"/><circle cx="604.93" cy="114.49" r="1.35"/><circle cx="605.57" cy="117.71" r="1.35"/><circle cx="606.66" cy="107.72" r="1.35"/><circle cx="607.97" cy="107.72" r="1.35"/><circle cx="608.64" cy="117.71" r="1.35"/><circle cx="609.7" cy="117.71" r="1.35"/><circle cx="610.65" cy="111.87" r="1.35"/><circle cx="611.72" cy="114.49" r="1.35"/><circle cx="612.5" cy="114.49" r="1.35"/><circle cx="613.82" cy="104.5" r="1.35"/><circle cx="614.74" cy="121.86" r="1.35"/><circle cx="616.01" cy="111.87" r="1.35"/><circle cx="617" cy="109.64" r="1.35"/><circle cx="617.8" cy="109.64" r="1.35"/><circle cx="618.93" cy="111.87" r="1.35"/><circle cx="619.93" cy="137.3" r="1.35"/><circle cx="620.84" cy="127.71" r="1.35"/><circle cx="621.87" cy="104.5" r="1.35"/><circle cx="622.92" cy="111.87" r="1.35"/><circle cx="624.04" cy="114.49" r="1.35"/><circle cx="625.06" cy="106.02" r="1.35"/><circle cx="625.87" cy="117.71" r="1.35"/><circle cx="626.7" cy="107.72" r="1.35"/><circle cx="627.62" cy="117.71" r="1.35"/><circle cx="628.97" cy="117.71" r="1.35"/><circle cx="629.94" cy="111.87" r="1.35"/><circle cx="630.82" cy="117.71" r="1.35"/><circle cx="631.82" cy="104.5" r="1.35"/><circle cx="632.8" cy="107.72" r="1.35"/><circle cx="633.64" cy="114.49" r="1.35"/><circle cx="634.64" cy="117.71" r="1.35"/><circle cx="635.62" cy="127.71" r="1.35"/><circle cx="636.66" cy="117.71" r="1.35"/><circle cx="637.62" cy="114.49" r="1.35"/><circle cx="639.03" cy="114.49" r="1.35"/><circle cx="640.02" cy="104.5" r="1.35"/><circle cx="640.62" cy="121.86" r="1.35"/><circle cx="642.02" cy="114.49" r="1.35"/><circle cx="642.82" cy="109.64" r="1.35"/><circle cx="644.09" cy="107.72" r="1.35"/><circle cx="644.89" cy="117.71" r="1.35"/><circle cx="645.65" cy="109.64" r="1.35"/><circle cx="646.88" cy="127.71" r="1.35"/><circle cx="647.86" cy="121.86" r="1.35"/><circle cx="648.75" cy="106.02" r="1.35"/><circle cx="649.72" cy="127.71" r="1.35"/><circle cx="650.8" cy="111.87" r="1.35"/><circle cx="651.54" cy="127.71" r="1.35"/><circle cx="652.85" cy="114.49" r="1.35"/><circle cx="653.99" cy="121.86" r="1.35"/><circle cx="654.75" cy="109.64" r="1.35"/><circle cx="655.83" cy="111.87" r="1.35"/><circle cx="656.87" cy="114.49" r="1.35"/><circle cx="657.62" cy="109.64" r="1.35"/><circle cx="658.82" cy="121.86" r="1.35"/><circle cx="660.07" cy="104.5" r="1.35"/><circle cx="660.95" cy="114.49" r="1.35"/><circle cx="661.94" cy="121.86" r="1.35"/><circle cx="663.04" cy="117.71" r="1.35"/><circle cx="663.65" cy="103.13" r="1.35"/><circle cx="664.67" cy="107.72" r="1.35"/><circle cx="665.73" cy="117.71" r="1.35"/><circle cx="666.68" cy="106.02" r="1.35"/><circle cx="667.58" cy="109.64" r="1.35"/><circle cx="668.81" cy="109.64" r="1.35"/><circle cx="670.1" cy="109.64" r="1.35"/><circle cx="670.95" cy="107.72" r="1.35"/><circle cx="671.58" cy="111.87" r="1.35"/><circle cx="672.98" cy="121.86" r="1.35"/><circle cx="673.51" cy="114.49" r="1.35"/></g><g fill="none" stroke="#f6a06a" stroke-width="0.5"><circle cx="491.83" cy="48.04" r="1.35"/><circle cx="493.03" cy="60.43" r="1.35"/><circle cx="494.91" cy="64.58" r="1.35"/><circle cx="496.1" cy="66.41" r="1.35"/><circle cx="497.93" cy="70.07" r="1.35"/><circle cx="499.1" cy="69.16" r="1.35"/><circle cx="500.92" cy="74.49" r="1.35"/><circle cx="502.28" cy="76.71" r="1.35"/><circle cx="503.57" cy="75.44" r="1.35"/><circle cx="505.55" cy="81" r="1.35"/><circle cx="506.69" cy="80.9" r="1.35"/><circle cx="508.03" cy="68.96" r="1.35"/><circle cx="509.96" cy="78.38" r="1.35"/><circle cx="511.47" cy="74.71" r="1.35"/><circle cx="512.53" cy="80.89" r="1.35"/><circle cx="514.41" cy="84.8" r="1.35"/><circle cx="515.9" cy="88.92" r="1.35"/><circle cx="517.41" cy="93.89" r="1.35"/><circle cx="518.58" cy="83.65" r="1.35"/><circle cx="520.35" cy="85.03" r="1.35"/><circle cx="521.62" cy="92.31" r="1.35"/><circle cx="523.16" cy="91.59" r="1.35"/><circle cx="524.95" cy="94.86" r="1.35"/><circle cx="526.35" cy="88.9" r="1.35"/><circle cx="528.08" cy="85.89" r="1.35"/><circle cx="529.49" cy="95.15" r="1.35"/><circle cx="530.53" cy="91.75" r="1.35"/><circle cx="532.44" cy="94.89" r="1.35"/><circle cx="533.84" cy="94.31" r="1.35"/><circle cx="535.43" cy="88.98" r="1.35"/><circle cx="536.57" cy="93.31" r="1.35"/><circle cx="538.12" cy="95.47" r="1.35"/><circle cx="539.7" cy="101.11" r="1.35"/><circle cx="541.09" cy="93.7" r="1.35"/><circle cx="542.85" cy="100.57" r="1.35"/><circle cx="544.44" cy="103.61" r="1.35"/><circle cx="545.68" cy="109.21" r="1.35"/><circle cx="547.5" cy="105.29" r="1.35"/><circle cx="548.54" cy="101.62" r="1.35"/><circle cx="550.36" cy="101.82" r="1.35"/><circle cx="551.89" cy="103.34" r="1.35"/><circle cx="553.07" cy="103.32" r="1.35"/><circle cx="555.06" cy="103.74" r="1.35"/><circle cx="556.55" cy="103.37" r="1.35"/><circle cx="557.92" cy="102.33" r="1.35"/><circle cx="559.16" cy="105.67" r="1.35"/><circle cx="560.99" cy="103.8" r="1.35"/><circle cx="562.54" cy="109.74" r="1.35"/><circle cx="563.67" cy="110.12" r="1.35"/><circle cx="565.35" cy="105.09" r="1.35"/><circle cx="566.5" cy="107.97" r="1.35"/><circle cx="568.54" cy="109.01" r="1.35"/><circle cx="569.75" cy="107.99" r="1.35"/><circle cx="571.4" cy="105.49" r="1.35"/><circle cx="572.8" cy="101.91" r="1.35"/><circle cx="574.38" cy="103.86" r="1.35"/><circle cx="575.92" cy="106.75" r="1.35"/><circle cx="577.33" cy="104.3" r="1.35"/><circle cx="578.62" cy="106.43" r="1.35"/><circle cx="580.46" cy="104.41" r="1.35"/><circle cx="581.7" cy="105.14" r="1.35"/><circle cx="583.58" cy="110.16" r="1.35"/><circle cx="584.58" cy="106.51" r="1.35"/><circle cx="586.08" cy="113.31" r="1.35"/><circle cx="587.56" cy="104.21" r="1.35"/><circle cx="589.35" cy="105.73" r="1.35"/><circle cx="590.81" cy="112.85" r="1.35"/><circle cx="592.04" cy="110.03" r="1.35"/><circle cx="593.57" cy="107.72" r="1.35"/><circle cx="595.33" cy="107" r="1.35"/><circle cx="596.7" cy="103.1" r="1.35"/><circle cx="598.07" cy="102.65" r="1.35"/><circle cx="600.05" cy="101.28" r="1.35"/><circle cx="601.38" cy="104.11" r="1.35"/><circle cx="602.73" cy="114.39" r="1.35"/><circle cx="604.34" cy="109.58" r="1.35"/><circle cx="605.75" cy="107.47" r="1.35"/><circle cx="607.38" cy="113.27" r="1.35"/><circle cx="608.89" cy="113.97" r="1.35"/><circle cx="610.05" cy="111.87" r="1.35"/><circle cx="612" cy="105.13" r="1.35"/><circle cx="613.11" cy="114.24" r="1.35"/><circle cx="615" cy="113.33" r="1.35"/><circle cx="616.48" cy="107.31" r="1.35"/><circle cx="617.79" cy="109.74" r="1.35"/><circle cx="619.49" cy="107.18" r="1.35"/><circle cx="620.87" cy="105.29" r="1.35"/><circle cx="622.22" cy="108.95" r="1.35"/><circle cx="623.92" cy="108.37" r="1.35"/><circle cx="625.04" cy="104.82" r="1.35"/><circle cx="626.94" cy="111.24" r="1.35"/><circle cx="628.33" cy="114.25" r="1.35"/><circle cx="629.52" cy="108.72" r="1.35"/><circle cx="631.17" cy="110.48" r="1.35"/><circle cx="633.03" cy="111.73" r="1.35"/><circle cx="634.41" cy="114.07" r="1.35"/><circle cx="635.52" cy="110.84" r="1.35"/><circle cx="637.11" cy="111.01" r="1.35"/><circle cx="638.88" cy="111.81" r="1.35"/><circle cx="640.43" cy="113.21" r="1.35"/><circle cx="642" cy="109.4" r="1.35"/><circle cx="643.22" cy="113.74" r="1.35"/><circle cx="644.84" cy="106.23" r="1.35"/><circle cx="646.54" cy="100.18" r="1.35"/><circle cx="647.5" cy="109.81" r="1.35"/><circle cx="649.03" cy="116.32" r="1.35"/><circle cx="650.52" cy="106.81" r="1.35"/><circle cx="652.23" cy="115.92" r="1.35"/><circle cx="653.94" cy="107.98" r="1.35"/><circle cx="655.47" cy="107.31" r="1.35"/><circle cx="656.59" cy="109.35" r="1.35"/><circle cx="658.43" cy="107.14" r="1.35"/><circle cx="660" cy="107.1" r="1.35"/><circle cx="661.42" cy="110.83" r="1.35"/><circle cx="662.74" cy="110.95" r="1.35"/><circle cx="664.52" cy="113.24" r="1.35"/><circle cx="665.83" cy="109.92" r="1.35"/><circle cx="667.03" cy="106.63" r="1.35"/><circle cx="668.78" cy="108.22" r="1.35"/><circle cx="670.04" cy="113.62" r="1.35"/><circle cx="671.98" cy="106.58" r="1.35"/><circle cx="673.44" cy="115.99" r="1.35"/></g><g fill="none" stroke="#f59a9a" stroke-width="0.5"><circle cx="489.79" cy="41.67" r="1.35"/><circle cx="490.88" cy="37.21" r="1.35"/><circle cx="491.67" cy="41.85" r="1.35"/><circle cx="492.77" cy="41.21" r="1.35"/><circle cx="493.32" cy="38.92" r="1.35"/><circle cx="494.48" cy="42.18" r="1.35"/><circle cx="495.45" cy="40.93" r="1.35"/><circle cx="496.51" cy="52.32" r="1.35"/><circle cx="497.32" cy="47" r="1.35"/><circle cx="498.34" cy="51.38" r="1.35"/><circle cx="499.31" cy="47.8" r="1.35"/><circle cx="500.75" cy="51.26" r="1.35"/><circle cx="501.59" cy="53.05" r="1.35"/><circle cx="502.87" cy="45.88" r="1.35"/><circle cx="503.47" cy="59.49" r="1.35"/><circle cx="504.72" cy="51.65" r="1.35"/><circle cx="505.57" cy="57.95" r="1.35"/><circle cx="506.45" cy="57.28" r="1.35"/><circle cx="507.76" cy="53.45" r="1.35"/><circle cx="508.34" cy="66.46" r="1.35"/><circle cx="509.38" cy="58.77" r="1.35"/><circle cx="510.36" cy="53.91" r="1.35"/><circle cx="511.86" cy="64.84" r="1.35"/><circle cx="512.71" cy="64.93" r="1.35"/><circle cx="513.63" cy="62.24" r="1.35"/><circle cx="514.34" cy="70.68" r="1.35"/><circle cx="515.39" cy="66.58" r="1.35"/><circle cx="516.41" cy="61.41" r="1.35"/><circle cx="517.89" cy="59.23" r="1.35"/><circle cx="518.82" cy="67.71" r="1.35"/><circle cx="519.85" cy="72.01" r="1.35"/><circle cx="520.52" cy="68.72" r="1.35"/><circle cx="521.38" cy="67.54" r="1.35"/><circle cx="522.44" cy="71.35" r="1.35"/><circle cx="523.88" cy="65.19" r="1.35"/><circle cx="524.57" cy="63.13" r="1.35"/><circle cx="525.42" cy="70.44" r="1.35"/><circle cx="526.41" cy="74.56" r="1.35"/><circle cx="527.88" cy="80.87" r="1.35"/><circle cx="528.39" cy="76.75" r="1.35"/><circle cx="529.37" cy="72.45" r="1.35"/><circle cx="530.35" cy="71.13" r="1.35"/><circle cx="531.69" cy="76.27" r="1.35"/><circle cx="532.63" cy="77.51" r="1.35"/><circle cx="533.81" cy="80.3" r="1.35"/><circle cx="534.43" cy="80.23" r="1.35"/><circle cx="535.42" cy="81.09" r="1.35"/><circle cx="536.34" cy="76.3" r="1.35"/><circle cx="537.37" cy="81.62" r="1.35"/><circle cx="538.43" cy="76.96" r="1.35"/><circle cx="539.76" cy="76.45" r="1.35"/><circle cx="540.44" cy="85.03" r="1.35"/><circle cx="541.62" cy="77.65" r="1.35"/><circle cx="542.52" cy="80.39" r="1.35"/><circle cx="543.64" cy="80.3" r="1.35"/><circle cx="544.51" cy="83.55" r="1.35"/><circle cx="545.87" cy="75.59" r="1.35"/><circle cx="546.75" cy="81.09" r="1.35"/><circle cx="547.34" cy="78.19" r="1.35"/><circle cx="548.67" cy="86.66" r="1.35"/><circle cx="549.47" cy="88.96" r="1.35"/><circle cx="550.44" cy="86.26" r="1.35"/><circle cx="551.72" cy="88.4" r="1.35"/><circle cx="552.33" cy="87.36" r="1.35"/><circle cx="553.6" cy="91.13" r="1.35"/><circle cx="554.47" cy="85.21" r="1.35"/><circle cx="555.37" cy="86.54" r="1.35"/><circle cx="556.38" cy="96.61" r="1.35"/><circle cx="557.4" cy="88.99" r="1.35"/><circle cx="558.78" cy="83.57" r="1.35"/><circle cx="559.85" cy="90.53" r="1.35"/><circle cx="560.65" cy="87.48" r="1.35"/><circle cx="561.31" cy="88.42" r="1.35"/><circle cx="562.9" cy="85.67" r="1.35"/><circle cx="563.5" cy="88.02" r="1.35"/><circle cx="564.41" cy="93.03" r="1.35"/><circle cx="565.48" cy="88.6" r="1.35"/><circle cx="566.67" cy="94.04" r="1.35"/><circle cx="567.72" cy="91.89" r="1.35"/><circle cx="568.87" cy="94.86" r="1.35"/><circle cx="569.47" cy="91.98" r="1.35"/><circle cx="570.42" cy="96.62" r="1.35"/><circle cx="571.36" cy="87.86" r="1.35"/><circle cx="572.82" cy="94.72" r="1.35"/><circle cx="573.48" cy="90.33" r="1.35"/><circle cx="574.4" cy="88.87" r="1.35"/><circle cx="575.4" cy="101.71" r="1.35"/><circle cx="576.88" cy="94.64" r="1.35"/><circle cx="577.83" cy="90.34" r="1.35"/><circle cx="578.7" cy="97.24" r="1.35"/><circle cx="579.43" cy="92.16" r="1.35"/><circle cx="580.87" cy="95.57" r="1.35"/><circle cx="581.67" cy="93.06" r="1.35"/><circle cx="582.59" cy="96.88" r="1.35"/><circle cx="583.74" cy="96.37" r="1.35"/><circle cx="584.88" cy="97.25" r="1.35"/><circle cx="585.44" cy="94.01" r="1.35"/><circle cx="586.76" cy="93.67" r="1.35"/><circle cx="587.76" cy="99.19" r="1.35"/><circle cx="588.71" cy="99.02" r="1.35"/><circle cx="589.36" cy="98.26" r="1.35"/><circle cx="590.59" cy="97.39" r="1.35"/><circle cx="591.66" cy="97.46" r="1.35"/><circle cx="592.41" cy="91.78" r="1.35"/><circle cx="593.6" cy="90.93" r="1.35"/><circle cx="594.82" cy="100.14" r="1.35"/><circle cx="595.32" cy="98.06" r="1.35"/><circle cx="596.69" cy="92.49" r="1.35"/><circle cx="597.49" cy="98.43" r="1.35"/><circle cx="598.35" cy="99.59" r="1.35"/><circle cx="599.37" cy="93.2" r="1.35"/><circle cx="600.77" cy="97.38" r="1.35"/><circle cx="601.43" cy="94.52" r="1.35"/><circle cx="602.87" cy="96.81" r="1.35"/><circle cx="603.59" cy="91.47" r="1.35"/><circle cx="604.45" cy="95.63" r="1.35"/><circle cx="605.74" cy="98.52" r="1.35"/><circle cx="606.87" cy="92.94" r="1.35"/><circle cx="607.44" cy="96.78" r="1.35"/><circle cx="608.77" cy="93.44" r="1.35"/><circle cx="609.61" cy="98.21" r="1.35"/><circle cx="610.6" cy="96.87" r="1.35"/><circle cx="611.3" cy="94.97" r="1.35"/><circle cx="612.44" cy="102.29" r="1.35"/><circle cx="613.45" cy="102.9" r="1.35"/><circle cx="614.56" cy="96.72" r="1.35"/><circle cx="615.78" cy="104.22" r="1.35"/><circle cx="616.39" cy="97.24" r="1.35"/><circle cx="617.64" cy="97.83" r="1.35"/><circle cx="618.49" cy="92.95" r="1.35"/><circle cx="619.52" cy="100.72" r="1.35"/><circle cx="620.64" cy="101.25" r="1.35"/><circle cx="621.5" cy="97.86" r="1.35"/><circle cx="622.68" cy="98.99" r="1.35"/><circle cx="623.89" cy="96.15" r="1.35"/><circle cx="624.55" cy="95.68" r="1.35"/><circle cx="625.49" cy="98.25" r="1.35"/><circle cx="626.57" cy="103.55" r="1.35"/><circle cx="627.68" cy="93.88" r="1.35"/><circle cx="628.5" cy="93.86" r="1.35"/><circle cx="629.75" cy="98.44" r="1.35"/><circle cx="630.41" cy="103.89" r="1.35"/><circle cx="631.51" cy="98.18" r="1.35"/><circle cx="632.85" cy="102.14" r="1.35"/><circle cx="633.31" cy="99.87" r="1.35"/><circle cx="634.34" cy="102.89" r="1.35"/><circle cx="635.36" cy="95.81" r="1.35"/><circle cx="636.77" cy="94.46" r="1.35"/><circle cx="637.89" cy="102.13" r="1.35"/><circle cx="638.37" cy="99.13" r="1.35"/><circle cx="639.67" cy="99.04" r="1.35"/><circle cx="640.56" cy="97.31" r="1.35"/><circle cx="641.7" cy="96.84" r="1.35"/><circle cx="642.58" cy="94.39" r="1.35"/><circle cx="643.59" cy="96.17" r="1.35"/><circle cx="644.83" cy="105.28" r="1.35"/><circle cx="645.73" cy="102.28" r="1.35"/><circle cx="646.43" cy="98.22" r="1.35"/><circle cx="647.77" cy="95.53" r="1.35"/><circle cx="648.71" cy="103.63" r="1.35"/><circle cx="649.89" cy="108.08" r="1.35"/><circle cx="650.67" cy="92.75" r="1.35"/><circle cx="651.39" cy="95.36" r="1.35"/><circle cx="652.85" cy="94.71" r="1.35"/><circle cx="653.69" cy="92.28" r="1.35"/><circle cx="654.38" cy="98.24" r="1.35"/><circle cx="655.59" cy="98.71" r="1.35"/><circle cx="656.53" cy="96.25" r="1.35"/><circle cx="657.67" cy="87.6" r="1.35"/><circle cx="658.82" cy="96.56" r="1.35"/><circle cx="659.49" cy="99.49" r="1.35"/><circle cx="660.83" cy="94.68" r="1.35"/><circle cx="661.44" cy="98.86" r="1.35"/><circle cx="662.45" cy="95.38" r="1.35"/><circle cx="663.76" cy="93.37" r="1.35"/><circle cx="664.58" cy="93.46" r="1.35"/><circle cx="665.41" cy="94.64" r="1.35"/><circle cx="666.31" cy="96.46" r="1.35"/><circle cx="667.88" cy="100.17" r="1.35"/><circle cx="668.75" cy="95" r="1.35"/><circle cx="669.77" cy="100.28" r="1.35"/><circle cx="670.51" cy="98.41" r="1.35"/><circle cx="671.65" cy="97.56" r="1.35"/><circle cx="672.61" cy="98.05" r="1.35"/><circle cx="673.9" cy="93.88" r="1.35"/></g><g fill="none" stroke="#f59a9a" stroke-width="0.5"><circle cx="489.82" cy="32.53" r="1.35"/><circle cx="490.3" cy="39.93" r="1.35"/><circle cx="491.61" cy="40.96" r="1.35"/><circle cx="492.49" cy="43.33" r="1.35"/><circle cx="493.78" cy="50.43" r="1.35"/><circle cx="494.51" cy="44.8" r="1.35"/><circle cx="495.7" cy="47.65" r="1.35"/><circle cx="496.43" cy="48.04" r="1.35"/><circle cx="497.75" cy="50" r="1.35"/><circle cx="498.76" cy="47.89" r="1.35"/><circle cx="499.7" cy="52.45" r="1.35"/><circle cx="500.45" cy="60.18" r="1.35"/><circle cx="501.41" cy="49.49" r="1.35"/><circle cx="502.49" cy="49.34" r="1.35"/><circle cx="503.54" cy="51.83" r="1.35"/><circle cx="504.89" cy="52.93" r="1.35"/><circle cx="505.51" cy="62.81" r="1.35"/><circle cx="506.73" cy="59.08" r="1.35"/><circle cx="507.49" cy="61" r="1.35"/><circle cx="508.9" cy="60.54" r="1.35"/><circle cx="509.74" cy="62.07" r="1.35"/><circle cx="510.87" cy="68.84" r="1.35"/><circle cx="511.38" cy="64.35" r="1.35"/><circle cx="512.43" cy="65.37" r="1.35"/><circle cx="513.57" cy="63.82" r="1.35"/><circle cx="514.74" cy="68.6" r="1.35"/><circle cx="515.39" cy="59.38" r="1.35"/><circle cx="516.62" cy="60.09" r="1.35"/><circle cx="517.74" cy="75.44" r="1.35"/><circle cx="518.34" cy="73.52" r="1.35"/><circle cx="519.6" cy="71.21" r="1.35"/><circle cx="520.65" cy="70.8" r="1.35"/><circle cx="521.55" cy="74.26" r="1.35"/><circle cx="522.58" cy="67.64" r="1.35"/><circle cx="523.44" cy="70.09" r="1.35"/><circle cx="524.32" cy="74.53" r="1.35"/><circle cx="525.36" cy="71.81" r="1.35"/><circle cx="526.61" cy="65.39" r="1.35"/><circle cx="527.86" cy="66.69" r="1.35"/><circle cx="528.9" cy="82.48" r="1.35"/><circle cx="529.56" cy="79.19" r="1.35"/><circle cx="530.77" cy="69.39" r="1.35"/><circle cx="531.69" cy="78.59" r="1.35"/><circle cx="532.88" cy="74.98" r="1.35"/><circle cx="533.35" cy="78.84" r="1.35"/><circle cx="534.79" cy="82.72" r="1.35"/><circle cx="535.4" cy="80.94" r="1.35"/><circle cx="536.47" cy="80.24" r="1.35"/><circle cx="537.74" cy="79.71" r="1.35"/><circle cx="538.69" cy="86.9" r="1.35"/><circle cx="539.84" cy="82.57" r="1.35"/><circle cx="540.74" cy="86.18" r="1.35"/><circle cx="541.42" cy="81.59" r="1.35"/><circle cx="542.51" cy="77.47" r="1.35"/><circle cx="543.38" cy="75.72" r="1.35"/><circle cx="544.81" cy="84.25" r="1.35"/><circle cx="545.38" cy="84.46" r="1.35"/><circle cx="546.46" cy="92.52" r="1.35"/><circle cx="547.39" cy="83.72" r="1.35"/><circle cx="548.63" cy="81.3" r="1.35"/><circle cx="549.56" cy="80.24" r="1.35"/><circle cx="550.87" cy="83.41" r="1.35"/><circle cx="551.54" cy="84.97" r="1.35"/><circle cx="552.47" cy="91.37" r="1.35"/><circle cx="553.6" cy="89.07" r="1.35"/><circle cx="554.58" cy="85.75" r="1.35"/><circle cx="555.43" cy="90.51" r="1.35"/><circle cx="556.42" cy="83.1" r="1.35"/><circle cx="557.88" cy="87.75" r="1.35"/><circle cx="558.84" cy="86.54" r="1.35"/><circle cx="559.7" cy="96.69" r="1.35"/><circle cx="560.86" cy="94.15" r="1.35"/><circle cx="561.6" cy="89.47" r="1.35"/><circle cx="562.45" cy="83.68" r="1.35"/><circle cx="563.64" cy="92.19" r="1.35"/><circle cx="564.35" cy="89.32" r="1.35"/><circle cx="565.76" cy="80.22" r="1.35"/><circle cx="566.62" cy="88.43" r="1.35"/><circle cx="567.46" cy="88.32" r="1.35"/><circle cx="568.49" cy="82.47" r="1.35"/><circle cx="569.64" cy="99.73" r="1.35"/><circle cx="570.55" cy="95.49" r="1.35"/><circle cx="571.58" cy="91.41" r="1.35"/><circle cx="572.9" cy="89.95" r="1.35"/><circle cx="573.56" cy="93.37" r="1.35"/><circle cx="574.76" cy="98.68" r="1.35"/><circle cx="575.55" cy="85.6" r="1.35"/><circle cx="576.43" cy="90.28" r="1.35"/><circle cx="577.54" cy="95.01" r="1.35"/><circle cx="578.34" cy="96" r="1.35"/><circle cx="579.31" cy="96.56" r="1.35"/><circle cx="580.53" cy="97.27" r="1.35"/><circle cx="581.72" cy="96.58" r="1.35"/><circle cx="582.36" cy="92.97" r="1.35"/><circle cx="583.64" cy="94.89" r="1.35"/><circle cx="584.55" cy="90.36" r="1.35"/><circle cx="585.5" cy="96.98" r="1.35"/><circle cx="586.37" cy="90.45" r="1.35"/><circle cx="587.86" cy="93.78" r="1.35"/><circle cx="588.36" cy="97.43" r="1.35"/><circle cx="589.54" cy="98.07" r="1.35"/><circle cx="590.64" cy="96.93" r="1.35"/><circle cx="591.77" cy="96.53" r="1.35"/><circle cx="592.54" cy="90.62" r="1.35"/><circle cx="593.44" cy="105.71" r="1.35"/><circle cx="594.49" cy="102.24" r="1.35"/><circle cx="595.61" cy="99.85" r="1.35"/><circle cx="596.42" cy="94.54" r="1.35"/><circle cx="597.57" cy="96.05" r="1.35"/><circle cx="598.7" cy="98.02" r="1.35"/><circle cx="599.71" cy="88.63" r="1.35"/><circle cx="600.87" cy="99.9" r="1.35"/><circle cx="601.69" cy="100.52" r="1.35"/><circle cx="602.79" cy="94.33" r="1.35"/><circle cx="603.7" cy="97.11" r="1.35"/><circle cx="604.85" cy="91.73" r="1.35"/><circle cx="605.88" cy="109.47" r="1.35"/><circle cx="606.89" cy="98.4" r="1.35"/><circle cx="607.6" cy="94.17" r="1.35"/><circle cx="608.59" cy="102.66" r="1.35"/><circle cx="609.6" cy="98.95" r="1.35"/><circle cx="610.34" cy="105.19" r="1.35"/><circle cx="611.52" cy="102.36" r="1.35"/><circle cx="612.8" cy="100.9" r="1.35"/><circle cx="613.46" cy="103.07" r="1.35"/><circle cx="614.85" cy="96.62" r="1.35"/><circle cx="615.58" cy="98.66" r="1.35"/><circle cx="616.64" cy="101.37" r="1.35"/><circle cx="617.5" cy="97.62" r="1.35"/><circle cx="618.8" cy="95.81" r="1.35"/><circle cx="619.49" cy="96.67" r="1.35"/><circle cx="620.62" cy="100.23" r="1.35"/><circle cx="621.5" cy="92.7" r="1.35"/><circle cx="622.84" cy="96.47" r="1.35"/><circle cx="623.78" cy="106.39" r="1.35"/><circle cx="624.54" cy="102.06" r="1.35"/><circle cx="625.36" cy="98.52" r="1.35"/><circle cx="626.59" cy="93.81" r="1.35"/><circle cx="627.41" cy="99.81" r="1.35"/><circle cx="628.71" cy="96.07" r="1.35"/><circle cx="629.76" cy="97.73" r="1.35"/><circle cx="630.69" cy="97.61" r="1.35"/><circle cx="631.63" cy="103.52" r="1.35"/><circle cx="632.56" cy="101.55" r="1.35"/><circle cx="633.59" cy="97.72" r="1.35"/><circle cx="634.7" cy="104.53" r="1.35"/><circle cx="635.89" cy="97.79" r="1.35"/><circle cx="636.8" cy="97.04" r="1.35"/><circle cx="637.85" cy="95.12" r="1.35"/><circle cx="638.52" cy="106.18" r="1.35"/><circle cx="639.35" cy="96.6" r="1.35"/><circle cx="640.41" cy="98.68" r="1.35"/><circle cx="641.6" cy="100.65" r="1.35"/><circle cx="642.59" cy="104.53" r="1.35"/><circle cx="643.64" cy="96.49" r="1.35"/><circle cx="644.34" cy="97.43" r="1.35"/><circle cx="645.63" cy="90.42" r="1.35"/><circle cx="646.6" cy="97.93" r="1.35"/><circle cx="647.54" cy="97.13" r="1.35"/><circle cx="648.75" cy="100.3" r="1.35"/><circle cx="649.55" cy="97.37" r="1.35"/><circle cx="650.73" cy="96.27" r="1.35"/><circle cx="651.89" cy="94.27" r="1.35"/><circle cx="652.65" cy="103.39" r="1.35"/><circle cx="653.58" cy="95.95" r="1.35"/><circle cx="654.9" cy="88.75" r="1.35"/><circle cx="655.73" cy="98.85" r="1.35"/><circle cx="656.83" cy="98.76" r="1.35"/><circle cx="657.73" cy="92.64" r="1.35"/><circle cx="658.77" cy="99.23" r="1.35"/><circle cx="659.56" cy="96.85" r="1.35"/><circle cx="660.89" cy="95.72" r="1.35"/><circle cx="661.57" cy="98.21" r="1.35"/><circle cx="662.38" cy="104.07" r="1.35"/><circle cx="663.37" cy="96.08" r="1.35"/><circle cx="664.53" cy="96.09" r="1.35"/><circle cx="665.7" cy="97.32" r="1.35"/><circle cx="666.43" cy="98.65" r="1.35"/><circle cx="667.9" cy="94.09" r="1.35"/><circle cx="668.53" cy="98.53" r="1.35"/><circle cx="669.42" cy="104.42" r="1.35"/><circle cx="670.6" cy="98.61" r="1.35"/><circle cx="671.33" cy="96.35" r="1.35"/><circle cx="672.39" cy="98.21" r="1.35"/><circle cx="673.79" cy="94.65" r="1.35"/></g><g fill="none" stroke="#f59a9a" stroke-width="0.5"><circle cx="489.41" cy="38" r="1.35"/><circle cx="490.84" cy="46.31" r="1.35"/><circle cx="492.68" cy="41.24" r="1.35"/><circle cx="494.15" cy="41.71" r="1.35"/><circle cx="495.87" cy="47.22" r="1.35"/><circle cx="496.84" cy="49.74" r="1.35"/><circle cx="498.63" cy="49.97" r="1.35"/><circle cx="500.16" cy="53.28" r="1.35"/><circle cx="501.48" cy="58.81" r="1.35"/><circle cx="503.14" cy="55.44" r="1.35"/><circle cx="504.55" cy="52.66" r="1.35"/><circle cx="505.89" cy="59.17" r="1.35"/><circle cx="507.42" cy="61.93" r="1.35"/><circle cx="509.3" cy="57.37" r="1.35"/><circle cx="510.63" cy="63.88" r="1.35"/><circle cx="511.9" cy="62.34" r="1.35"/><circle cx="513.57" cy="66.02" r="1.35"/><circle cx="515.33" cy="63.93" r="1.35"/><circle cx="516.73" cy="65.7" r="1.35"/><circle cx="518.25" cy="66.17" r="1.35"/><circle cx="519.8" cy="66.41" r="1.35"/><circle cx="520.82" cy="67.7" r="1.35"/><circle cx="522.61" cy="73.37" r="1.35"/><circle cx="524.1" cy="76.83" r="1.35"/><circle cx="525.65" cy="71.52" r="1.35"/><circle cx="527.37" cy="74.8" r="1.35"/><circle cx="528.82" cy="71.85" r="1.35"/><circle cx="530.35" cy="72.54" r="1.35"/><circle cx="531.49" cy="78.07" r="1.35"/><circle cx="533.23" cy="78.54" r="1.35"/><circle cx="534.82" cy="76.4" r="1.35"/><circle cx="536.22" cy="79.59" r="1.35"/><circle cx="537.43" cy="80.46" r="1.35"/><circle cx="538.95" cy="76.06" r="1.35"/><circle cx="540.57" cy="80.91" r="1.35"/><circle cx="542.09" cy="80.64" r="1.35"/><circle cx="543.64" cy="84.01" r="1.35"/><circle cx="545.38" cy="81.6" r="1.35"/><circle cx="546.89" cy="75.27" r="1.35"/><circle cx="548.3" cy="82.02" r="1.35"/><circle cx="549.82" cy="86.85" r="1.35"/><circle cx="551.23" cy="85.09" r="1.35"/><circle cx="552.75" cy="83.46" r="1.35"/><circle cx="554.05" cy="84.69" r="1.35"/><circle cx="555.82" cy="83.39" r="1.35"/><circle cx="556.99" cy="87.28" r="1.35"/><circle cx="558.57" cy="87.81" r="1.35"/><circle cx="560.34" cy="91.49" r="1.35"/><circle cx="561.52" cy="82.63" r="1.35"/><circle cx="563.27" cy="99.29" r="1.35"/><circle cx="564.49" cy="92.76" r="1.35"/><circle cx="566.38" cy="89.04" r="1.35"/><circle cx="567.73" cy="82.54" r="1.35"/><circle cx="569.21" cy="94.71" r="1.35"/><circle cx="570.69" cy="90.01" r="1.35"/><circle cx="572.09" cy="93.78" r="1.35"/><circle cx="573.79" cy="92.8" r="1.35"/><circle cx="575.22" cy="91.86" r="1.35"/><circle cx="576.39" cy="88.2" r="1.35"/><circle cx="578.06" cy="88.37" r="1.35"/><circle cx="579.52" cy="92.07" r="1.35"/><circle cx="580.9" cy="97.96" r="1.35"/><circle cx="582.78" cy="97.51" r="1.35"/><circle cx="584.28" cy="96.2" r="1.35"/><circle cx="585.33" cy="93.18" r="1.35"/><circle cx="586.94" cy="96.81" r="1.35"/><circle cx="588.59" cy="91.28" r="1.35"/><circle cx="590" cy="92.66" r="1.35"/><circle cx="591.61" cy="92.5" r="1.35"/><circle cx="593.32" cy="96.54" r="1.35"/><circle cx="594.42" cy="88.51" r="1.35"/><circle cx="596.37" cy="96.45" r="1.35"/><circle cx="597.49" cy="98.52" r="1.35"/><circle cx="598.86" cy="96.01" r="1.35"/><circle cx="600.6" cy="98.16" r="1.35"/><circle cx="602.33" cy="99.53" r="1.35"/><circle cx="603.81" cy="95.98" r="1.35"/><circle cx="604.88" cy="101.59" r="1.35"/><circle cx="606.41" cy="92.91" r="1.35"/><circle cx="607.81" cy="102.56" r="1.35"/><circle cx="609.65" cy="97.65" r="1.35"/><circle cx="611.05" cy="96.93" r="1.35"/><circle cx="612.85" cy="99.05" r="1.35"/><circle cx="614.15" cy="98.88" r="1.35"/><circle cx="615.44" cy="95.73" r="1.35"/><circle cx="617.35" cy="99.71" r="1.35"/><circle cx="618.89" cy="94.68" r="1.35"/><circle cx="620.12" cy="94.05" r="1.35"/><circle cx="621.88" cy="94.75" r="1.35"/><circle cx="622.8" cy="97.57" r="1.35"/><circle cx="624.86" cy="96.97" r="1.35"/><circle cx="626.23" cy="94.05" r="1.35"/><circle cx="627.84" cy="99.49" r="1.35"/><circle cx="629.11" cy="98.89" r="1.35"/><circle cx="630.82" cy="101.72" r="1.35"/><circle cx="632.22" cy="98.72" r="1.35"/><circle cx="633.8" cy="97.34" r="1.35"/><circle cx="634.82" cy="99.59" r="1.35"/><circle cx="636.39" cy="95.87" r="1.35"/><circle cx="638.24" cy="97.35" r="1.35"/><circle cx="639.41" cy="97.25" r="1.35"/><circle cx="641.03" cy="98.58" r="1.35"/><circle cx="642.89" cy="101.44" r="1.35"/><circle cx="643.92" cy="102.75" r="1.35"/><circle cx="645.57" cy="94.26" r="1.35"/><circle cx="647.13" cy="99.79" r="1.35"/><circle cx="648.51" cy="98.72" r="1.35"/><circle cx="650" cy="94.28" r="1.35"/><circle cx="651.35" cy="97.05" r="1.35"/><circle cx="653.12" cy="96.57" r="1.35"/><circle cx="654.61" cy="98.47" r="1.35"/><circle cx="656.32" cy="92.14" r="1.35"/><circle cx="657.67" cy="100.55" r="1.35"/><circle cx="659.2" cy="99.19" r="1.35"/><circle cx="660.72" cy="102.71" r="1.35"/><circle cx="662.14" cy="100.46" r="1.35"/><circle cx="663.69" cy="102.51" r="1.35"/><circle cx="665.21" cy="97.85" r="1.35"/><circle cx="666.9" cy="102.27" r="1.35"/><circle cx="667.96" cy="100.1" r="1.35"/><circle cx="669.59" cy="96.78" r="1.35"/><circle cx="671.37" cy="99.72" r="1.35"/><circle cx="672.31" cy="94.55" r="1.35"/><circle cx="674.26" cy="102.9" r="1.35"/></g><g fill="none" stroke="#7aa6f2" stroke-width="0.5"><circle cx="489.33" cy="43.49" r="1.35"/><circle cx="490.52" cy="43.29" r="1.35"/><circle cx="491.48" cy="43.86" r="1.35"/><circle cx="492.48" cy="46.33" r="1.35"/><circle cx="493.85" cy="45.31" r="1.35"/><circle cx="494.46" cy="45.94" r="1.35"/><circle cx="495.78" cy="45.21" r="1.35"/><circle cx="496.43" cy="45.94" r="1.35"/><circle cx="497.61" cy="46.96" r="1.35"/><circle cx="498.87" cy="45.62" r="1.35"/><circle cx="499.38" cy="47.76" r="1.35"/><circle cx="500.62" cy="49.1" r="1.35"/><circle cx="501.7" cy="48.18" r="1.35"/><circle cx="502.52" cy="50.84" r="1.35"/><circle cx="503.55" cy="47.88" r="1.35"/><circle cx="504.54" cy="48.51" r="1.35"/><circle cx="505.35" cy="51.69" r="1.35"/><circle cx="506.33" cy="52.35" r="1.35"/><circle cx="507.32" cy="50.82" r="1.35"/><circle cx="508.6" cy="51.95" r="1.35"/><circle cx="509.88" cy="52.66" r="1.35"/><circle cx="510.5" cy="50.19" r="1.35"/><circle cx="511.51" cy="52.05" r="1.35"/><circle cx="512.76" cy="54.06" r="1.35"/><circle cx="513.46" cy="53.71" r="1.35"/><circle cx="514.31" cy="52.39" r="1.35"/><circle cx="515.74" cy="54.99" r="1.35"/><circle cx="516.58" cy="54.83" r="1.35"/><circle cx="517.56" cy="52.96" r="1.35"/><circle cx="518.66" cy="55.1" r="1.35"/><circle cx="519.83" cy="55.89" r="1.35"/><circle cx="520.43" cy="54.76" r="1.35"/><circle cx="521.43" cy="56.19" r="1.35"/><circle cx="522.63" cy="56.08" r="1.35"/><circle cx="523.48" cy="57.51" r="1.35"/><circle cx="524.64" cy="58.21" r="1.35"/><circle cx="525.66" cy="58.64" r="1.35"/><circle cx="526.61" cy="56.95" r="1.35"/><circle cx="527.64" cy="58.52" r="1.35"/><circle cx="528.83" cy="61.55" r="1.35"/><circle cx="529.86" cy="59.49" r="1.35"/><circle cx="530.52" cy="60.81" r="1.35"/><circle cx="531.67" cy="59.44" r="1.35"/><circle cx="532.86" cy="60.01" r="1.35"/><circle cx="533.71" cy="61.45" r="1.35"/><circle cx="534.63" cy="60.42" r="1.35"/><circle cx="535.7" cy="60.96" r="1.35"/><circle cx="536.76" cy="62.37" r="1.35"/><circle cx="537.54" cy="62.17" r="1.35"/><circle cx="538.65" cy="63.12" r="1.35"/><circle cx="539.56" cy="62.82" r="1.35"/><circle cx="540.38" cy="62.18" r="1.35"/><circle cx="541.52" cy="62.24" r="1.35"/><circle cx="542.44" cy="63.43" r="1.35"/><circle cx="543.71" cy="63.4" r="1.35"/><circle cx="544.53" cy="62.41" r="1.35"/><circle cx="545.63" cy="64.69" r="1.35"/><circle cx="546.65" cy="62.67" r="1.35"/><circle cx="547.68" cy="64.52" r="1.35"/><circle cx="548.79" cy="62.9" r="1.35"/><circle cx="549.67" cy="65.01" r="1.35"/><circle cx="550.6" cy="65.47" r="1.35"/><circle cx="551.76" cy="64.8" r="1.35"/><circle cx="552.37" cy="65.11" r="1.35"/><circle cx="553.32" cy="66.07" r="1.35"/><circle cx="554.65" cy="66.74" r="1.35"/><circle cx="555.75" cy="66.11" r="1.35"/><circle cx="556.4" cy="66.58" r="1.35"/><circle cx="557.43" cy="66.1" r="1.35"/><circle cx="558.36" cy="69.75" r="1.35"/><circle cx="559.8" cy="67.37" r="1.35"/><circle cx="560.33" cy="66.04" r="1.35"/><circle cx="561.75" cy="67.45" r="1.35"/><circle cx="562.42" cy="68.16" r="1.35"/><circle cx="563.79" cy="69.58" r="1.35"/><circle cx="564.87" cy="68.45" r="1.35"/><circle cx="565.4" cy="68.95" r="1.35"/><circle cx="566.55" cy="68.92" r="1.35"/><circle cx="567.73" cy="69.89" r="1.35"/><circle cx="568.52" cy="68.95" r="1.35"/><circle cx="569.49" cy="68.74" r="1.35"/><circle cx="570.85" cy="70.38" r="1.35"/><circle cx="571.46" cy="69.2" r="1.35"/><circle cx="572.74" cy="68.05" r="1.35"/><circle cx="573.59" cy="69.27" r="1.35"/><circle cx="574.83" cy="70.38" r="1.35"/><circle cx="575.43" cy="71.72" r="1.35"/><circle cx="576.46" cy="73.78" r="1.35"/><circle cx="577.85" cy="71.24" r="1.35"/><circle cx="578.63" cy="68.41" r="1.35"/><circle cx="579.46" cy="71.72" r="1.35"/><circle cx="580.55" cy="70.25" r="1.35"/><circle cx="581.71" cy="71.39" r="1.35"/><circle cx="582.52" cy="71.27" r="1.35"/><circle cx="583.39" cy="71.31" r="1.35"/><circle cx="584.86" cy="73.07" r="1.35"/><circle cx="585.75" cy="74.13" r="1.35"/><circle cx="586.78" cy="71.03" r="1.35"/><circle cx="587.45" cy="72.87" r="1.35"/><circle cx="588.82" cy="72.99" r="1.35"/><circle cx="589.49" cy="72.21" r="1.35"/><circle cx="590.76" cy="71.66" r="1.35"/><circle cx="591.35" cy="72.64" r="1.35"/><circle cx="592.33" cy="72.34" r="1.35"/><circle cx="593.69" cy="73.36" r="1.35"/><circle cx="594.4" cy="71.88" r="1.35"/><circle cx="595.34" cy="73.42" r="1.35"/><circle cx="596.66" cy="71.82" r="1.35"/><circle cx="597.55" cy="73.52" r="1.35"/><circle cx="598.86" cy="74.63" r="1.35"/><circle cx="599.45" cy="73.7" r="1.35"/><circle cx="600.82" cy="73.13" r="1.35"/><circle cx="601.7" cy="74.87" r="1.35"/><circle cx="602.86" cy="72.66" r="1.35"/><circle cx="603.58" cy="73.07" r="1.35"/><circle cx="604.76" cy="74.32" r="1.35"/><circle cx="605.5" cy="74.39" r="1.35"/><circle cx="606.33" cy="74.11" r="1.35"/><circle cx="607.66" cy="74.23" r="1.35"/><circle cx="608.88" cy="75.17" r="1.35"/><circle cx="609.33" cy="72.62" r="1.35"/><circle cx="610.88" cy="75" r="1.35"/><circle cx="611.76" cy="75.56" r="1.35"/><circle cx="612.82" cy="75.8" r="1.35"/><circle cx="613.4" cy="75.95" r="1.35"/><circle cx="614.88" cy="74.26" r="1.35"/><circle cx="615.44" cy="76.84" r="1.35"/><circle cx="616.34" cy="76.25" r="1.35"/><circle cx="617.73" cy="75.89" r="1.35"/><circle cx="618.52" cy="75.58" r="1.35"/><circle cx="619.62" cy="74.47" r="1.35"/><circle cx="620.9" cy="75.57" r="1.35"/><circle cx="621.72" cy="75.76" r="1.35"/><circle cx="622.8" cy="75.13" r="1.35"/><circle cx="623.83" cy="76.36" r="1.35"/><circle cx="624.33" cy="77.6" r="1.35"/><circle cx="625.54" cy="77.89" r="1.35"/><circle cx="626.44" cy="76.06" r="1.35"/><circle cx="627.85" cy="75.26" r="1.35"/><circle cx="628.39" cy="76.11" r="1.35"/><circle cx="629.77" cy="76.48" r="1.35"/><circle cx="630.77" cy="76.52" r="1.35"/><circle cx="631.57" cy="77.7" r="1.35"/><circle cx="632.35" cy="78.02" r="1.35"/><circle cx="633.4" cy="74.74" r="1.35"/><circle cx="634.33" cy="76.84" r="1.35"/><circle cx="635.47" cy="77.04" r="1.35"/><circle cx="636.77" cy="76.16" r="1.35"/><circle cx="637.38" cy="79.45" r="1.35"/><circle cx="638.44" cy="74.76" r="1.35"/><circle cx="639.44" cy="76.26" r="1.35"/><circle cx="640.56" cy="78.61" r="1.35"/><circle cx="641.86" cy="76.71" r="1.35"/><circle cx="642.62" cy="78.51" r="1.35"/><circle cx="643.45" cy="78.05" r="1.35"/><circle cx="644.58" cy="75.59" r="1.35"/><circle cx="645.45" cy="77.22" r="1.35"/><circle cx="646.75" cy="77.24" r="1.35"/><circle cx="647.78" cy="78.76" r="1.35"/><circle cx="648.86" cy="78.41" r="1.35"/><circle cx="649.69" cy="77.48" r="1.35"/><circle cx="650.76" cy="78.64" r="1.35"/><circle cx="651.6" cy="77.94" r="1.35"/><circle cx="652.5" cy="79.49" r="1.35"/><circle cx="653.71" cy="77.35" r="1.35"/><circle cx="654.42" cy="77.93" r="1.35"/><circle cx="655.51" cy="78.86" r="1.35"/><circle cx="656.49" cy="78.45" r="1.35"/><circle cx="657.59" cy="79.28" r="1.35"/><circle cx="658.32" cy="77.94" r="1.35"/><circle cx="659.37" cy="77.85" r="1.35"/><circle cx="660.79" cy="79.78" r="1.35"/><circle cx="661.79" cy="79.83" r="1.35"/><circle cx="662.31" cy="80.08" r="1.35"/><circle cx="663.31" cy="78.27" r="1.35"/><circle cx="664.68" cy="80.05" r="1.35"/><circle cx="665.74" cy="81.02" r="1.35"/><circle cx="666.86" cy="80.36" r="1.35"/><circle cx="667.34" cy="79.18" r="1.35"/><circle cx="668.7" cy="78.61" r="1.35"/><circle cx="669.73" cy="81.84" r="1.35"/><circle cx="670.82" cy="79.74" r="1.35"/><circle cx="671.48" cy="79.47" r="1.35"/><circle cx="672.63" cy="80.79" r="1.35"/><circle cx="673.75" cy="81.67" r="1.35"/></g><g fill="none" stroke="#f6a06a" stroke-width="0.5"><circle cx="491.48" cy="113.48" r="1.3"/><circle cx="491.72" cy="93.38" r="1.3"/><circle cx="491.69" cy="116.89" r="1.3"/><circle cx="490.88" cy="94.05" r="1.3"/><circle cx="491.99" cy="92.3" r="1.3"/><circle cx="491.63" cy="124.86" r="1.3"/><circle cx="491" cy="113.74" r="1.3"/><circle cx="491.89" cy="109.4" r="1.3"/><circle cx="491.96" cy="115.07" r="1.3"/><circle cx="490.55" cy="127.79" r="1.3"/><circle cx="490.74" cy="116.39" r="1.3"/><circle cx="490.87" cy="127.91" r="1.3"/><circle cx="491.72" cy="101.75" r="1.3"/><circle cx="491.43" cy="96.19" r="1.3"/></g><g fill="none" stroke="#f59a9a" stroke-width="0.5"><circle cx="491.09" cy="98.2" r="1.3"/><circle cx="490.77" cy="102" r="1.3"/><circle cx="491.17" cy="97.56" r="1.3"/><circle cx="490.88" cy="95.22" r="1.3"/><circle cx="491.68" cy="113.22" r="1.3"/><circle cx="490.8" cy="125.65" r="1.3"/></g><circle cx="490.6" cy="105" r="1.3" fill="none" stroke="#7aa6f2" stroke-width="0.5"/><path d="M491.8,48.5 L492.3,50.77 L492.8,52.91 L493.3,54.92 L493.8,56.79 L494.3,58.53 L494.8,60.13 L495.3,61.6 L495.8,62.94 L496.3,64.17 L496.8,65.28 L497.3,66.3 L497.8,67.23 L498.3,68.08 L498.8,68.86 L499.3,69.59 L499.8,70.26 L500.3,70.88 L500.8,71.47 L501.3,72.02 L501.8,72.55 L502.3,73.06 L502.8,73.54 L503.3,74.01 L503.8,74.47 L504.3,74.91 L504.8,75.35 L505.3,75.77 L505.8,76.19 L506.3,76.6 L506.8,77.01 L507.3,77.41 L507.8,77.81 L508.3,78.21 L508.8,78.6 L509.3,78.99 L509.8,79.38 L510.3,79.76 L510.8,80.14 L511.3,80.52 L511.8,80.9 L512.3,81.28 L512.8,81.65 L513.3,82.02 L513.8,82.39 L514.3,82.76 L514.8,83.13 L515.3,83.49 L515.8,83.85 L516.3,84.22 L516.8,84.57 L517.3,84.93 L517.8,85.29 L518.3,85.64 L518.8,85.99 L519.3,86.34 L519.8,86.69 L520.3,87.03 L520.8,87.37 L521.3,87.71 L521.8,88.05 L522.3,88.39 L522.8,88.72 L523.3,89.05 L523.8,89.38 L524.3,89.71 L524.8,90.04 L525.3,90.36 L525.8,90.68 L526.3,90.99 L526.8,91.31 L527.3,91.62 L527.8,91.93 L528.3,92.24 L528.8,92.54 L529.3,92.84 L529.8,93.14 L530.3,93.43 L530.8,93.73 L531.3,94.02 L531.8,94.3 L532.3,94.59 L532.8,94.87 L533.3,95.15 L533.8,95.42 L534.3,95.7 L534.8,95.96 L535.3,96.23 L535.8,96.49 L536.3,96.75 L536.8,97.01 L537.3,97.26 L537.8,97.51 L538.3,97.76 L538.8,98.01 L539.3,98.25 L539.8,98.48 L540.3,98.72 L540.8,98.95 L541.3,99.18 L541.8,99.4 L542.3,99.62 L542.8,99.84 L543.3,100.06 L543.8,100.27 L544.3,100.48 L544.8,100.68 L545.3,100.89 L545.8,101.09 L546.3,101.28 L546.8,101.47 L547.3,101.66 L547.8,101.85 L548.3,102.03 L548.8,102.21 L549.3,102.39 L549.8,102.56 L550.3,102.73 L550.8,102.9 L551.3,103.06 L551.8,103.23 L552.3,103.38 L552.8,103.54 L553.3,103.69 L553.8,103.84 L554.3,103.99 L554.8,104.13 L555.3,104.27 L555.8,104.41 L556.3,104.54 L556.8,104.68 L557.3,104.81 L557.8,104.93 L558.3,105.06 L558.8,105.18 L559.3,105.3 L559.8,105.41 L560.3,105.53 L560.8,105.64 L561.3,105.75 L561.8,105.85 L562.3,105.96 L562.8,106.06 L563.3,106.16 L563.8,106.25 L564.3,106.35 L564.8,106.44 L565.3,106.53 L565.8,106.62 L566.3,106.71 L566.8,106.79 L567.3,106.87 L567.8,106.95 L568.3,107.03 L568.8,107.11 L569.3,107.18 L569.8,107.26 L570.3,107.33 L570.8,107.4 L571.3,107.46 L571.8,107.53 L572.3,107.59 L572.8,107.66 L573.3,107.72 L573.8,107.78 L574.3,107.83 L574.8,107.89 L575.3,107.94 L575.8,108 L576.3,108.05 L576.8,108.1 L577.3,108.15 L577.8,108.2 L578.3,108.24 L578.8,108.29 L579.3,108.33 L579.8,108.38 L580.3,108.42 L580.8,108.46 L581.3,108.5 L581.8,108.54 L582.3,108.58 L582.8,108.61 L583.3,108.65 L583.8,108.68 L584.3,108.72 L584.8,108.75 L585.3,108.78 L585.8,108.81 L586.3,108.84 L586.8,108.87 L587.3,108.9 L587.8,108.93 L588.3,108.96 L588.8,108.98 L589.3,109.01 L589.8,109.03 L590.3,109.06 L590.8,109.08 L591.3,109.1 L591.8,109.12 L592.3,109.15 L592.8,109.17 L593.3,109.19 L593.8,109.21 L594.3,109.23 L594.8,109.24 L595.3,109.26 L595.8,109.28 L596.3,109.3 L596.8,109.31 L597.3,109.33 L597.8,109.35 L598.3,109.36 L598.8,109.38 L599.3,109.39 L599.8,109.4 L600.3,109.42 L600.8,109.43 L601.3,109.44 L601.8,109.46 L602.3,109.47 L602.8,109.48 L603.3,109.49 L603.8,109.5 L604.3,109.51 L604.8,109.52 L605.3,109.53 L605.8,109.54 L606.3,109.55 L606.8,109.56 L607.3,109.57 L607.8,109.58 L608.3,109.59 L608.8,109.6 L609.3,109.61 L609.8,109.61 L610.3,109.62 L610.8,109.63 L611.3,109.64 L611.8,109.64 L612.3,109.65 L612.8,109.66 L613.3,109.66 L613.8,109.67 L614.3,109.67 L614.8,109.68 L615.3,109.69 L615.8,109.69 L616.3,109.7 L616.8,109.7 L617.3,109.71 L617.8,109.71 L618.3,109.72 L618.8,109.72 L619.3,109.72 L619.8,109.73 L620.3,109.73 L620.8,109.74 L621.3,109.74 L621.8,109.74 L622.3,109.75 L622.8,109.75 L623.3,109.76 L623.8,109.76 L624.3,109.76 L624.8,109.77 L625.3,109.77 L625.8,109.77 L626.3,109.77 L626.8,109.78 L627.3,109.78 L627.8,109.78 L628.3,109.79 L628.8,109.79 L629.3,109.79 L629.8,109.79 L630.3,109.8 L630.8,109.8 L631.3,109.8 L631.8,109.8 L632.3,109.8 L632.8,109.81 L633.3,109.81 L633.8,109.81 L634.3,109.81 L634.8,109.81 L635.3,109.81 L635.8,109.82 L636.3,109.82 L636.8,109.82 L637.3,109.82 L637.8,109.82 L638.3,109.82 L638.8,109.83 L639.3,109.83 L639.8,109.83 L640.3,109.83 L640.8,109.83 L641.3,109.83 L641.8,109.83 L642.3,109.83 L642.8,109.84 L643.3,109.84 L643.8,109.84 L644.3,109.84 L644.8,109.84 L645.3,109.84 L645.8,109.84 L646.3,109.84 L646.8,109.84 L647.3,109.84 L647.8,109.84 L648.3,109.85 L648.8,109.85 L649.3,109.85 L649.8,109.85 L650.3,109.85 L650.8,109.85 L651.3,109.85 L651.8,109.85 L652.3,109.85 L652.8,109.85 L653.3,109.85 L653.8,109.85 L654.3,109.85 L654.8,109.85 L655.3,109.85 L655.8,109.85 L656.3,109.86 L656.8,109.86 L657.3,109.86 L657.8,109.86 L658.3,109.86 L658.8,109.86 L659.3,109.86 L659.8,109.86 L660.3,109.86 L660.8,109.86 L661.3,109.86 L661.8,109.86 L662.3,109.86 L662.8,109.86 L663.3,109.86 L663.8,109.86 L664.3,109.86 L664.8,109.86 L665.3,109.86 L665.8,109.86 L666.3,109.86 L666.8,109.86 L667.3,109.86 L667.8,109.86 L668.3,109.86 L668.8,109.86 L669.3,109.86 L669.8,109.86 L670.3,109.86 L670.8,109.86 L671.3,109.86 L671.8,109.86 L672.3,109.86 L672.8,109.87 L673.3,109.87 L673.8,109.87 L674.3,109.87" stroke="#f57a20" stroke-width="1.3" fill="none"/><path d="M489.6,38.79 L490.1,39.53 L490.6,40.25 L491.1,40.96 L491.6,41.67 L492.1,42.36 L492.6,43.04 L493.1,43.71 L493.6,44.37 L494.1,45.02 L494.6,45.65 L495.1,46.28 L495.6,46.9 L496.1,47.51 L496.6,48.1 L497.1,48.69 L497.6,49.27 L498.1,49.84 L498.6,50.4 L499.1,50.95 L499.6,51.49 L500.1,52.02 L500.6,52.54 L501.1,53.06 L501.6,53.57 L502.1,54.07 L502.6,54.56 L503.1,55.04 L503.6,55.52 L504.1,55.99 L504.6,56.45 L505.1,56.91 L505.6,57.36 L506.1,57.8 L506.6,58.24 L507.1,58.67 L507.6,59.1 L508.1,59.52 L508.6,59.94 L509.1,60.35 L509.6,60.75 L510.1,61.16 L510.6,61.55 L511.1,61.94 L511.6,62.33 L512.1,62.72 L512.6,63.09 L513.1,63.47 L513.6,63.84 L514.1,64.21 L514.6,64.58 L515.1,64.94 L515.6,65.29 L516.1,65.65 L516.6,66 L517.1,66.35 L517.6,66.7 L518.1,67.04 L518.6,67.38 L519.1,67.72 L519.6,68.05 L520.1,68.38 L520.6,68.71 L521.1,69.04 L521.6,69.37 L522.1,69.69 L522.6,70.01 L523.1,70.33 L523.6,70.64 L524.1,70.96 L524.6,71.27 L525.1,71.58 L525.6,71.89 L526.1,72.19 L526.6,72.5 L527.1,72.8 L527.6,73.1 L528.1,73.4 L528.6,73.69 L529.1,73.99 L529.6,74.28 L530.1,74.57 L530.6,74.86 L531.1,75.15 L531.6,75.43 L532.1,75.71 L532.6,75.99 L533.1,76.27 L533.6,76.55 L534.1,76.83 L534.6,77.1 L535.1,77.37 L535.6,77.64 L536.1,77.91 L536.6,78.18 L537.1,78.44 L537.6,78.71 L538.1,78.97 L538.6,79.23 L539.1,79.48 L539.6,79.74 L540.1,79.99 L540.6,80.24 L541.1,80.49 L541.6,80.74 L542.1,80.99 L542.6,81.23 L543.1,81.47 L543.6,81.71 L544.1,81.95 L544.6,82.19 L545.1,82.42 L545.6,82.65 L546.1,82.88 L546.6,83.11 L547.1,83.34 L547.6,83.56 L548.1,83.78 L548.6,84 L549.1,84.22 L549.6,84.44 L550.1,84.65 L550.6,84.87 L551.1,85.08 L551.6,85.28 L552.1,85.49 L552.6,85.69 L553.1,85.89 L553.6,86.09 L554.1,86.29 L554.6,86.49 L555.1,86.68 L555.6,86.87 L556.1,87.06 L556.6,87.25 L557.1,87.43 L557.6,87.61 L558.1,87.79 L558.6,87.97 L559.1,88.15 L559.6,88.32 L560.1,88.49 L560.6,88.66 L561.1,88.83 L561.6,89 L562.1,89.16 L562.6,89.32 L563.1,89.48 L563.6,89.64 L564.1,89.79 L564.6,89.95 L565.1,90.1 L565.6,90.25 L566.1,90.39 L566.6,90.54 L567.1,90.68 L567.6,90.82 L568.1,90.96 L568.6,91.1 L569.1,91.23 L569.6,91.36 L570.1,91.49 L570.6,91.62 L571.1,91.75 L571.6,91.87 L572.1,92 L572.6,92.12 L573.1,92.24 L573.6,92.35 L574.1,92.47 L574.6,92.58 L575.1,92.69 L575.6,92.8 L576.1,92.91 L576.6,93.02 L577.1,93.12 L577.6,93.22 L578.1,93.32 L578.6,93.42 L579.1,93.52 L579.6,93.62 L580.1,93.71 L580.6,93.8 L581.1,93.89 L581.6,93.98 L582.1,94.07 L582.6,94.15 L583.1,94.24 L583.6,94.32 L584.1,94.4 L584.6,94.48 L585.1,94.56 L585.6,94.64 L586.1,94.71 L586.6,94.79 L587.1,94.86 L587.6,94.93 L588.1,95 L588.6,95.07 L589.1,95.14 L589.6,95.2 L590.1,95.27 L590.6,95.33 L591.1,95.39 L591.6,95.45 L592.1,95.51 L592.6,95.57 L593.1,95.63 L593.6,95.69 L594.1,95.74 L594.6,95.79 L595.1,95.85 L595.6,95.9 L596.1,95.95 L596.6,96 L597.1,96.05 L597.6,96.1 L598.1,96.14 L598.6,96.19 L599.1,96.23 L599.6,96.28 L600.1,96.32 L600.6,96.36 L601.1,96.4 L601.6,96.44 L602.1,96.48 L602.6,96.52 L603.1,96.56 L603.6,96.59 L604.1,96.63 L604.6,96.67 L605.1,96.7 L605.6,96.73 L606.1,96.77 L606.6,96.8 L607.1,96.83 L607.6,96.86 L608.1,96.89 L608.6,96.92 L609.1,96.95 L609.6,96.98 L610.1,97.01 L610.6,97.04 L611.1,97.06 L611.6,97.09 L612.1,97.11 L612.6,97.14 L613.1,97.16 L613.6,97.19 L614.1,97.21 L614.6,97.23 L615.1,97.25 L615.6,97.28 L616.1,97.3 L616.6,97.32 L617.1,97.34 L617.6,97.36 L618.1,97.38 L618.6,97.4 L619.1,97.41 L619.6,97.43 L620.1,97.45 L620.6,97.47 L621.1,97.48 L621.6,97.5 L622.1,97.52 L622.6,97.53 L623.1,97.55 L623.6,97.56 L624.1,97.58 L624.6,97.59 L625.1,97.61 L625.6,97.62 L626.1,97.63 L626.6,97.65 L627.1,97.66 L627.6,97.67 L628.1,97.68 L628.6,97.7 L629.1,97.71 L629.6,97.72 L630.1,97.73 L630.6,97.74 L631.1,97.75 L631.6,97.76 L632.1,97.77 L632.6,97.78 L633.1,97.79 L633.6,97.8 L634.1,97.81 L634.6,97.82 L635.1,97.83 L635.6,97.84 L636.1,97.84 L636.6,97.85 L637.1,97.86 L637.6,97.87 L638.1,97.88 L638.6,97.88 L639.1,97.89 L639.6,97.9 L640.1,97.9 L640.6,97.91 L641.1,97.92 L641.6,97.92 L642.1,97.93 L642.6,97.94 L643.1,97.94 L643.6,97.95 L644.1,97.95 L644.6,97.96 L645.1,97.97 L645.6,97.97 L646.1,97.98 L646.6,97.98 L647.1,97.99 L647.6,97.99 L648.1,98 L648.6,98 L649.1,98 L649.6,98.01 L650.1,98.01 L650.6,98.02 L651.1,98.02 L651.6,98.03 L652.1,98.03 L652.6,98.03 L653.1,98.04 L653.6,98.04 L654.1,98.04 L654.6,98.05 L655.1,98.05 L655.6,98.05 L656.1,98.06 L656.6,98.06 L657.1,98.06 L657.6,98.07 L658.1,98.07 L658.6,98.07 L659.1,98.08 L659.6,98.08 L660.1,98.08 L660.6,98.08 L661.1,98.09 L661.6,98.09 L662.1,98.09 L662.6,98.09 L663.1,98.1 L663.6,98.1 L664.1,98.1 L664.6,98.1 L665.1,98.1 L665.6,98.11 L666.1,98.11 L666.6,98.11 L667.1,98.11 L667.6,98.11 L668.1,98.12 L668.6,98.12 L669.1,98.12 L669.6,98.12 L670.1,98.12 L670.6,98.12 L671.1,98.13 L671.6,98.13 L672.1,98.13 L672.6,98.13 L673.1,98.13 L673.6,98.13 L674.1,98.13" stroke="#ee1c25" stroke-width="1.5" fill="none"/><path d="M489.6,43.17 L490.1,43.4 L490.6,43.64 L491.1,43.87 L491.6,44.1 L492.1,44.32 L492.6,44.55 L493.1,44.78 L493.6,45.01 L494.1,45.23 L494.6,45.46 L495.1,45.68 L495.6,45.91 L496.1,46.13 L496.6,46.35 L497.1,46.57 L497.6,46.8 L498.1,47.02 L498.6,47.23 L499.1,47.45 L499.6,47.67 L500.1,47.89 L500.6,48.11 L501.1,48.32 L501.6,48.54 L502.1,48.75 L502.6,48.96 L503.1,49.18 L503.6,49.39 L504.1,49.6 L504.6,49.81 L505.1,50.02 L505.6,50.22 L506.1,50.43 L506.6,50.64 L507.1,50.84 L507.6,51.05 L508.1,51.25 L508.6,51.46 L509.1,51.66 L509.6,51.86 L510.1,52.06 L510.6,52.26 L511.1,52.46 L511.6,52.66 L512.1,52.85 L512.6,53.05 L513.1,53.24 L513.6,53.44 L514.1,53.63 L514.6,53.82 L515.1,54.01 L515.6,54.2 L516.1,54.39 L516.6,54.58 L517.1,54.77 L517.6,54.96 L518.1,55.14 L518.6,55.33 L519.1,55.51 L519.6,55.69 L520.1,55.87 L520.6,56.05 L521.1,56.23 L521.6,56.41 L522.1,56.59 L522.6,56.77 L523.1,56.94 L523.6,57.12 L524.1,57.29 L524.6,57.46 L525.1,57.64 L525.6,57.81 L526.1,57.98 L526.6,58.15 L527.1,58.31 L527.6,58.48 L528.1,58.65 L528.6,58.81 L529.1,58.98 L529.6,59.14 L530.1,59.3 L530.6,59.46 L531.1,59.62 L531.6,59.78 L532.1,59.94 L532.6,60.09 L533.1,60.25 L533.6,60.4 L534.1,60.56 L534.6,60.71 L535.1,60.86 L535.6,61.01 L536.1,61.16 L536.6,61.31 L537.1,61.46 L537.6,61.61 L538.1,61.75 L538.6,61.9 L539.1,62.04 L539.6,62.18 L540.1,62.32 L540.6,62.46 L541.1,62.6 L541.6,62.74 L542.1,62.88 L542.6,63.02 L543.1,63.15 L543.6,63.29 L544.1,63.42 L544.6,63.56 L545.1,63.69 L545.6,63.82 L546.1,63.95 L546.6,64.08 L547.1,64.21 L547.6,64.33 L548.1,64.46 L548.6,64.58 L549.1,64.71 L549.6,64.83 L550.1,64.95 L550.6,65.08 L551.1,65.2 L551.6,65.32 L552.1,65.44 L552.6,65.55 L553.1,65.67 L553.6,65.79 L554.1,65.9 L554.6,66.02 L555.1,66.13 L555.6,66.24 L556.1,66.36 L556.6,66.47 L557.1,66.58 L557.6,66.69 L558.1,66.8 L558.6,66.9 L559.1,67.01 L559.6,67.12 L560.1,67.22 L560.6,67.33 L561.1,67.43 L561.6,67.53 L562.1,67.63 L562.6,67.74 L563.1,67.84 L563.6,67.94 L564.1,68.04 L564.6,68.13 L565.1,68.23 L565.6,68.33 L566.1,68.42 L566.6,68.52 L567.1,68.61 L567.6,68.71 L568.1,68.8 L568.6,68.89 L569.1,68.98 L569.6,69.08 L570.1,69.17 L570.6,69.26 L571.1,69.34 L571.6,69.43 L572.1,69.52 L572.6,69.61 L573.1,69.69 L573.6,69.78 L574.1,69.86 L574.6,69.95 L575.1,70.03 L575.6,70.11 L576.1,70.2 L576.6,70.28 L577.1,70.36 L577.6,70.44 L578.1,70.52 L578.6,70.6 L579.1,70.68 L579.6,70.76 L580.1,70.84 L580.6,70.91 L581.1,70.99 L581.6,71.07 L582.1,71.14 L582.6,71.22 L583.1,71.29 L583.6,71.37 L584.1,71.44 L584.6,71.51 L585.1,71.58 L585.6,71.66 L586.1,71.73 L586.6,71.8 L587.1,71.87 L587.6,71.94 L588.1,72.01 L588.6,72.08 L589.1,72.15 L589.6,72.21 L590.1,72.28 L590.6,72.35 L591.1,72.42 L591.6,72.48 L592.1,72.55 L592.6,72.61 L593.1,72.68 L593.6,72.74 L594.1,72.81 L594.6,72.87 L595.1,72.94 L595.6,73 L596.1,73.06 L596.6,73.12 L597.1,73.19 L597.6,73.25 L598.1,73.31 L598.6,73.37 L599.1,73.43 L599.6,73.49 L600.1,73.55 L600.6,73.61 L601.1,73.67 L601.6,73.73 L602.1,73.79 L602.6,73.84 L603.1,73.9 L603.6,73.96 L604.1,74.02 L604.6,74.07 L605.1,74.13 L605.6,74.19 L606.1,74.24 L606.6,74.3 L607.1,74.35 L607.6,74.41 L608.1,74.46 L608.6,74.52 L609.1,74.57 L609.6,74.62 L610.1,74.68 L610.6,74.73 L611.1,74.78 L611.6,74.84 L612.1,74.89 L612.6,74.94 L613.1,74.99 L613.6,75.05 L614.1,75.1 L614.6,75.15 L615.1,75.2 L615.6,75.25 L616.1,75.3 L616.6,75.35 L617.1,75.4 L617.6,75.45 L618.1,75.5 L618.6,75.55 L619.1,75.6 L619.6,75.65 L620.1,75.7 L620.6,75.75 L621.1,75.8 L621.6,75.84 L622.1,75.89 L622.6,75.94 L623.1,75.99 L623.6,76.03 L624.1,76.08 L624.6,76.13 L625.1,76.18 L625.6,76.22 L626.1,76.27 L626.6,76.32 L627.1,76.36 L627.6,76.41 L628.1,76.45 L628.6,76.5 L629.1,76.55 L629.6,76.59 L630.1,76.64 L630.6,76.68 L631.1,76.73 L631.6,76.77 L632.1,76.82 L632.6,76.86 L633.1,76.9 L633.6,76.95 L634.1,76.99 L634.6,77.04 L635.1,77.08 L635.6,77.12 L636.1,77.17 L636.6,77.21 L637.1,77.25 L637.6,77.3 L638.1,77.34 L638.6,77.38 L639.1,77.42 L639.6,77.47 L640.1,77.51 L640.6,77.55 L641.1,77.59 L641.6,77.64 L642.1,77.68 L642.6,77.72 L643.1,77.76 L643.6,77.8 L644.1,77.84 L644.6,77.89 L645.1,77.93 L645.6,77.97 L646.1,78.01 L646.6,78.05 L647.1,78.09 L647.6,78.13 L648.1,78.17 L648.6,78.21 L649.1,78.25 L649.6,78.29 L650.1,78.33 L650.6,78.37 L651.1,78.41 L651.6,78.45 L652.1,78.49 L652.6,78.53 L653.1,78.57 L653.6,78.61 L654.1,78.65 L654.6,78.69 L655.1,78.73 L655.6,78.77 L656.1,78.81 L656.6,78.85 L657.1,78.89 L657.6,78.93 L658.1,78.97 L658.6,79 L659.1,79.04 L659.6,79.08 L660.1,79.12 L660.6,79.16 L661.1,79.2 L661.6,79.23 L662.1,79.27 L662.6,79.31 L663.1,79.35 L663.6,79.39 L664.1,79.43 L664.6,79.46 L665.1,79.5 L665.6,79.54 L666.1,79.58 L666.6,79.61 L667.1,79.65 L667.6,79.69 L668.1,79.73 L668.6,79.76 L669.1,79.8 L669.6,79.84 L670.1,79.87 L670.6,79.91 L671.1,79.95 L671.6,79.99 L672.1,80.02 L672.6,80.06 L673.1,80.1 L673.6,80.13 L674.1,80.17" stroke="#1d2fe8" stroke-width="1.5" fill="none"/><text x="530.3" y="56.6" font-size="8" fill="#2323dd" textLength="52.9" lengthAdjust="spacingAndGlyphs" stroke="#2323dd" stroke-width="0.22">FAST: <tspan font-style="italic">&#964;&#772;</tspan> = 257 ns</text><text x="572.7" y="88.3" font-size="8" fill="#c8141c" textLength="58.9" lengthAdjust="spacingAndGlyphs" stroke="#c8141c" stroke-width="0.22">Thin film: <tspan font-style="italic">&#964;&#772;</tspan> = 61 ns</text><text x="492.7" y="114.9" font-size="8" fill="#f07a30" textLength="56.3" lengthAdjust="spacingAndGlyphs" stroke="#f07a30" stroke-width="0.22">Powder: <tspan font-style="italic">&#964;&#772;</tspan> = 54 ns</text><rect x="593.5" y="11.6" width="77.8" height="53.4" fill="#fff" stroke="#8a8a8a" stroke-width="0.7"/><g fill="none" stroke="#8c8c8c" stroke-width="0.4"><circle cx="594.69" cy="14.45" r="1.2"/><circle cx="594.41" cy="14.39" r="1.2"/><circle cx="594.97" cy="18.3" r="1.2"/><circle cx="595.08" cy="16" r="1.2"/><circle cx="595.5" cy="21.4" r="1.2"/><circle cx="595.65" cy="21.37" r="1.2"/><circle cx="595.91" cy="24.97" r="1.2"/><circle cx="596.04" cy="26.95" r="1.2"/><circle cx="596.57" cy="29.87" r="1.2"/><circle cx="596.5" cy="28.73" r="1.2"/><circle cx="596.77" cy="30.39" r="1.2"/><circle cx="596.76" cy="31.73" r="1.2"/><circle cx="597.32" cy="33.2" r="1.2"/><circle cx="597.19" cy="31.67" r="1.2"/><circle cx="597.89" cy="35.97" r="1.2"/><circle cx="597.66" cy="36.18" r="1.2"/><circle cx="598.15" cy="38.4" r="1.2"/><circle cx="598.16" cy="38.01" r="1.2"/><circle cx="598.81" cy="38.57" r="1.2"/><circle cx="598.65" cy="39.42" r="1.2"/><circle cx="599.22" cy="39.46" r="1.2"/><circle cx="599.26" cy="39.44" r="1.2"/><circle cx="599.47" cy="39.54" r="1.2"/><circle cx="599.68" cy="41.81" r="1.2"/><circle cx="599.89" cy="40.05" r="1.2"/><circle cx="600.04" cy="38.62" r="1.2"/><circle cx="600.57" cy="40.51" r="1.2"/><circle cx="600.57" cy="42.56" r="1.2"/><circle cx="601.03" cy="39.37" r="1.2"/><circle cx="600.89" cy="43.07" r="1.2"/><circle cx="601.5" cy="41.52" r="1.2"/><circle cx="601.43" cy="45.24" r="1.2"/><circle cx="601.94" cy="41.69" r="1.2"/><circle cx="601.75" cy="41.66" r="1.2"/><circle cx="602.3" cy="41.95" r="1.2"/><circle cx="602.37" cy="42.58" r="1.2"/><circle cx="602.65" cy="42.66" r="1.2"/><circle cx="602.65" cy="43.69" r="1.2"/><circle cx="603.16" cy="44.29" r="1.2"/><circle cx="603.16" cy="48.7" r="1.2"/><circle cx="603.52" cy="44.84" r="1.2"/><circle cx="603.67" cy="42.76" r="1.2"/><circle cx="604.13" cy="38.6" r="1.2"/><circle cx="604.16" cy="44.84" r="1.2"/><circle cx="604.36" cy="47.24" r="1.2"/><circle cx="604.55" cy="45.75" r="1.2"/><circle cx="605.14" cy="44.28" r="1.2"/><circle cx="605.09" cy="42.28" r="1.2"/><circle cx="605.57" cy="44.05" r="1.2"/><circle cx="605.49" cy="48.36" r="1.2"/><circle cx="605.82" cy="43.64" r="1.2"/><circle cx="605.8" cy="49.9" r="1.2"/><circle cx="606.39" cy="46.95" r="1.2"/><circle cx="606.17" cy="43.73" r="1.2"/><circle cx="606.85" cy="46.77" r="1.2"/><circle cx="606.64" cy="46.65" r="1.2"/><circle cx="607.36" cy="43.24" r="1.2"/><circle cx="607.37" cy="43.79" r="1.2"/><circle cx="607.51" cy="43.82" r="1.2"/><circle cx="607.6" cy="46.33" r="1.2"/><circle cx="608" cy="45.94" r="1.2"/><circle cx="607.94" cy="43.93" r="1.2"/><circle cx="608.62" cy="44.96" r="1.2"/><circle cx="608.47" cy="44.13" r="1.2"/><circle cx="608.84" cy="42.27" r="1.2"/><circle cx="608.84" cy="46.76" r="1.2"/><circle cx="609.28" cy="44.81" r="1.2"/><circle cx="609.56" cy="45" r="1.2"/><circle cx="610.02" cy="43.1" r="1.2"/><circle cx="609.84" cy="46.43" r="1.2"/><circle cx="610.42" cy="45.54" r="1.2"/><circle cx="610.26" cy="44.55" r="1.2"/><circle cx="610.82" cy="47.82" r="1.2"/><circle cx="610.9" cy="46.08" r="1.2"/><circle cx="611.26" cy="46.31" r="1.2"/><circle cx="611.1" cy="47.85" r="1.2"/><circle cx="611.89" cy="44.83" r="1.2"/><circle cx="611.51" cy="48.08" r="1.2"/><circle cx="612.08" cy="48.3" r="1.2"/><circle cx="612.26" cy="46.89" r="1.2"/><circle cx="612.45" cy="48.22" r="1.2"/><circle cx="612.77" cy="46.96" r="1.2"/><circle cx="613.06" cy="45.11" r="1.2"/><circle cx="613.05" cy="48.61" r="1.2"/><circle cx="613.46" cy="47.57" r="1.2"/><circle cx="613.56" cy="48.31" r="1.2"/><circle cx="613.92" cy="50.37" r="1.2"/><circle cx="613.81" cy="44.34" r="1.2"/><circle cx="614.24" cy="46.85" r="1.2"/><circle cx="614.21" cy="49.42" r="1.2"/><circle cx="614.93" cy="45.64" r="1.2"/><circle cx="614.68" cy="47.43" r="1.2"/><circle cx="615.44" cy="48.93" r="1.2"/><circle cx="615.42" cy="49.53" r="1.2"/><circle cx="615.77" cy="47.94" r="1.2"/><circle cx="615.67" cy="44.88" r="1.2"/><circle cx="616.04" cy="45.3" r="1.2"/><circle cx="616.3" cy="46.43" r="1.2"/><circle cx="616.77" cy="46.5" r="1.2"/><circle cx="616.65" cy="46.3" r="1.2"/><circle cx="617.14" cy="44.88" r="1.2"/><circle cx="617.25" cy="47.64" r="1.2"/><circle cx="617.69" cy="47.05" r="1.2"/><circle cx="617.61" cy="48.25" r="1.2"/><circle cx="617.82" cy="45.24" r="1.2"/><circle cx="618.16" cy="46.64" r="1.2"/><circle cx="618.61" cy="48.89" r="1.2"/><circle cx="618.55" cy="49.19" r="1.2"/><circle cx="619.05" cy="50.13" r="1.2"/><circle cx="618.72" cy="49.32" r="1.2"/><circle cx="619.24" cy="53.42" r="1.2"/><circle cx="619.32" cy="47.26" r="1.2"/><circle cx="619.66" cy="49.76" r="1.2"/><circle cx="619.78" cy="49.08" r="1.2"/><circle cx="620.16" cy="52.44" r="1.2"/><circle cx="620.31" cy="49.51" r="1.2"/><circle cx="620.73" cy="49.43" r="1.2"/><circle cx="620.78" cy="49.75" r="1.2"/><circle cx="621.23" cy="50.91" r="1.2"/><circle cx="620.97" cy="45.93" r="1.2"/><circle cx="621.72" cy="48.78" r="1.2"/><circle cx="621.57" cy="48.42" r="1.2"/><circle cx="621.97" cy="48.24" r="1.2"/><circle cx="622.2" cy="50.45" r="1.2"/><circle cx="622.62" cy="49.4" r="1.2"/><circle cx="622.43" cy="44.61" r="1.2"/><circle cx="622.87" cy="48.01" r="1.2"/><circle cx="623.01" cy="45.3" r="1.2"/><circle cx="623.35" cy="51.85" r="1.2"/><circle cx="623.3" cy="49.22" r="1.2"/><circle cx="624.02" cy="52.33" r="1.2"/><circle cx="623.75" cy="49.71" r="1.2"/><circle cx="624.4" cy="49.11" r="1.2"/><circle cx="624.34" cy="48.21" r="1.2"/><circle cx="624.68" cy="49.67" r="1.2"/><circle cx="624.8" cy="52.52" r="1.2"/><circle cx="625.01" cy="50.91" r="1.2"/><circle cx="625.13" cy="52.12" r="1.2"/><circle cx="625.51" cy="45.81" r="1.2"/><circle cx="625.72" cy="48.57" r="1.2"/><circle cx="625.91" cy="49.69" r="1.2"/><circle cx="626.02" cy="49.04" r="1.2"/><circle cx="626.73" cy="47.89" r="1.2"/><circle cx="626.73" cy="49.38" r="1.2"/><circle cx="626.85" cy="48.88" r="1.2"/><circle cx="627.16" cy="49.56" r="1.2"/><circle cx="627.36" cy="49.64" r="1.2"/><circle cx="627.34" cy="48.39" r="1.2"/><circle cx="627.83" cy="50.66" r="1.2"/><circle cx="627.98" cy="47.8" r="1.2"/><circle cx="628.23" cy="53.39" r="1.2"/><circle cx="628.24" cy="49.34" r="1.2"/><circle cx="628.95" cy="50.76" r="1.2"/><circle cx="628.95" cy="50.2" r="1.2"/><circle cx="629.3" cy="48.21" r="1.2"/><circle cx="629.44" cy="50.29" r="1.2"/><circle cx="629.54" cy="52.52" r="1.2"/><circle cx="629.63" cy="45.32" r="1.2"/><circle cx="630.1" cy="51.02" r="1.2"/><circle cx="630.07" cy="53.82" r="1.2"/><circle cx="630.52" cy="49.79" r="1.2"/><circle cx="630.71" cy="52.05" r="1.2"/><circle cx="631.06" cy="51.97" r="1.2"/><circle cx="631.2" cy="50.24" r="1.2"/><circle cx="631.4" cy="51.48" r="1.2"/><circle cx="631.41" cy="50.48" r="1.2"/><circle cx="631.92" cy="51.43" r="1.2"/><circle cx="631.8" cy="49.15" r="1.2"/><circle cx="632.36" cy="51.44" r="1.2"/><circle cx="632.23" cy="51.78" r="1.2"/><circle cx="632.88" cy="51.67" r="1.2"/><circle cx="633" cy="49.37" r="1.2"/><circle cx="633.4" cy="48.75" r="1.2"/><circle cx="633.28" cy="51.85" r="1.2"/><circle cx="633.76" cy="50.4" r="1.2"/><circle cx="633.8" cy="53.6" r="1.2"/><circle cx="634.36" cy="51.76" r="1.2"/><circle cx="634.23" cy="50.09" r="1.2"/><circle cx="634.75" cy="54.65" r="1.2"/><circle cx="634.59" cy="53.19" r="1.2"/><circle cx="635.15" cy="49.55" r="1.2"/><circle cx="635.22" cy="54.35" r="1.2"/><circle cx="635.7" cy="48.6" r="1.2"/><circle cx="635.71" cy="52.11" r="1.2"/><circle cx="635.89" cy="49.67" r="1.2"/><circle cx="635.99" cy="49.52" r="1.2"/><circle cx="636.37" cy="51.09" r="1.2"/><circle cx="636.57" cy="51.64" r="1.2"/><circle cx="636.85" cy="50.04" r="1.2"/><circle cx="636.94" cy="53.52" r="1.2"/><circle cx="637.19" cy="52.05" r="1.2"/><circle cx="637.17" cy="52.9" r="1.2"/><circle cx="637.64" cy="49.7" r="1.2"/><circle cx="637.7" cy="52.9" r="1.2"/><circle cx="638.24" cy="48.73" r="1.2"/><circle cx="638.25" cy="53.61" r="1.2"/><circle cx="638.75" cy="48.26" r="1.2"/><circle cx="638.65" cy="49.54" r="1.2"/><circle cx="639.34" cy="49.06" r="1.2"/><circle cx="639.12" cy="49.97" r="1.2"/><circle cx="639.65" cy="48.21" r="1.2"/><circle cx="639.47" cy="47.45" r="1.2"/><circle cx="640.14" cy="50.34" r="1.2"/><circle cx="639.95" cy="52.05" r="1.2"/><circle cx="640.6" cy="51.53" r="1.2"/><circle cx="640.66" cy="51.11" r="1.2"/><circle cx="640.83" cy="51.54" r="1.2"/><circle cx="641.1" cy="48.25" r="1.2"/><circle cx="641.53" cy="52.03" r="1.2"/><circle cx="641.27" cy="51.66" r="1.2"/><circle cx="642.04" cy="54.18" r="1.2"/><circle cx="641.91" cy="52.32" r="1.2"/><circle cx="642.11" cy="53.31" r="1.2"/><circle cx="642.32" cy="50.08" r="1.2"/><circle cx="642.71" cy="48.61" r="1.2"/><circle cx="642.9" cy="52.83" r="1.2"/><circle cx="643.2" cy="51.14" r="1.2"/><circle cx="643.29" cy="52.6" r="1.2"/><circle cx="643.65" cy="55.17" r="1.2"/><circle cx="643.56" cy="54.1" r="1.2"/><circle cx="644.15" cy="52.47" r="1.2"/><circle cx="644.23" cy="51.05" r="1.2"/><circle cx="644.57" cy="52.55" r="1.2"/><circle cx="644.46" cy="51.12" r="1.2"/><circle cx="645.02" cy="49.52" r="1.2"/><circle cx="645" cy="53.08" r="1.2"/><circle cx="645.46" cy="52.28" r="1.2"/><circle cx="645.5" cy="48.17" r="1.2"/><circle cx="645.75" cy="53.85" r="1.2"/><circle cx="645.71" cy="54.3" r="1.2"/><circle cx="646.25" cy="49.89" r="1.2"/><circle cx="646.43" cy="49.74" r="1.2"/><circle cx="646.97" cy="48.2" r="1.2"/><circle cx="646.76" cy="50.36" r="1.2"/><circle cx="647.41" cy="50.75" r="1.2"/><circle cx="647.39" cy="50.33" r="1.2"/><circle cx="647.6" cy="52.44" r="1.2"/><circle cx="647.76" cy="51.9" r="1.2"/><circle cx="648.23" cy="55.57" r="1.2"/><circle cx="648.24" cy="49.51" r="1.2"/><circle cx="648.79" cy="50.28" r="1.2"/><circle cx="648.65" cy="51.58" r="1.2"/><circle cx="649.06" cy="50.77" r="1.2"/><circle cx="649.21" cy="53" r="1.2"/><circle cx="649.69" cy="52.22" r="1.2"/><circle cx="649.59" cy="50.5" r="1.2"/><circle cx="649.79" cy="53.21" r="1.2"/><circle cx="649.92" cy="53.1" r="1.2"/><circle cx="650.26" cy="53.82" r="1.2"/><circle cx="650.31" cy="50.14" r="1.2"/><circle cx="650.81" cy="52.44" r="1.2"/><circle cx="650.73" cy="51.81" r="1.2"/><circle cx="651.31" cy="50.79" r="1.2"/><circle cx="651.32" cy="53.64" r="1.2"/><circle cx="651.64" cy="55.24" r="1.2"/><circle cx="651.6" cy="54.96" r="1.2"/><circle cx="652.08" cy="49.82" r="1.2"/><circle cx="652.01" cy="53.99" r="1.2"/><circle cx="652.67" cy="52.55" r="1.2"/><circle cx="652.83" cy="50.36" r="1.2"/><circle cx="653.14" cy="53.93" r="1.2"/><circle cx="652.92" cy="51.71" r="1.2"/><circle cx="653.39" cy="51.97" r="1.2"/><circle cx="653.45" cy="53.8" r="1.2"/><circle cx="654.14" cy="52.4" r="1.2"/><circle cx="653.92" cy="49.82" r="1.2"/><circle cx="654.53" cy="50.39" r="1.2"/><circle cx="654.65" cy="54.09" r="1.2"/><circle cx="654.77" cy="50.99" r="1.2"/><circle cx="654.73" cy="51.65" r="1.2"/><circle cx="655.24" cy="53.1" r="1.2"/><circle cx="655.16" cy="52.33" r="1.2"/><circle cx="655.65" cy="49.77" r="1.2"/><circle cx="655.84" cy="49.09" r="1.2"/><circle cx="656.08" cy="51.52" r="1.2"/><circle cx="656.18" cy="53.26" r="1.2"/><circle cx="656.51" cy="50" r="1.2"/><circle cx="656.58" cy="52.35" r="1.2"/><circle cx="657.12" cy="56.56" r="1.2"/><circle cx="657.04" cy="50.38" r="1.2"/><circle cx="657.5" cy="54.46" r="1.2"/><circle cx="657.43" cy="51.64" r="1.2"/><circle cx="658.05" cy="52.52" r="1.2"/><circle cx="657.92" cy="50.43" r="1.2"/><circle cx="658.36" cy="55.76" r="1.2"/><circle cx="658.37" cy="49.07" r="1.2"/><circle cx="659.07" cy="51.42" r="1.2"/><circle cx="658.85" cy="52.51" r="1.2"/><circle cx="659.57" cy="50.76" r="1.2"/><circle cx="659.34" cy="49.59" r="1.2"/><circle cx="659.81" cy="57.75" r="1.2"/><circle cx="659.89" cy="51.95" r="1.2"/><circle cx="660.46" cy="54.09" r="1.2"/><circle cx="660.29" cy="55.07" r="1.2"/><circle cx="660.92" cy="51.84" r="1.2"/><circle cx="660.71" cy="51.47" r="1.2"/><circle cx="661.03" cy="48.92" r="1.2"/><circle cx="661.14" cy="55.11" r="1.2"/><circle cx="661.81" cy="54.66" r="1.2"/><circle cx="661.79" cy="52.88" r="1.2"/><circle cx="661.92" cy="57.4" r="1.2"/><circle cx="662.03" cy="50.38" r="1.2"/><circle cx="662.53" cy="55.08" r="1.2"/><circle cx="662.54" cy="51.06" r="1.2"/><circle cx="663.1" cy="49.53" r="1.2"/><circle cx="662.93" cy="52.51" r="1.2"/><circle cx="663.43" cy="49.48" r="1.2"/><circle cx="663.34" cy="52.17" r="1.2"/><circle cx="663.92" cy="50.91" r="1.2"/><circle cx="663.84" cy="51.4" r="1.2"/><circle cx="664.24" cy="50.99" r="1.2"/><circle cx="664.23" cy="51.35" r="1.2"/><circle cx="664.66" cy="54.68" r="1.2"/><circle cx="664.81" cy="54.37" r="1.2"/><circle cx="665.24" cy="52.61" r="1.2"/><circle cx="665.22" cy="51.45" r="1.2"/><circle cx="665.83" cy="52.6" r="1.2"/><circle cx="665.61" cy="50.91" r="1.2"/><circle cx="666.06" cy="54.33" r="1.2"/><circle cx="666.34" cy="48.78" r="1.2"/><circle cx="666.43" cy="53.12" r="1.2"/><circle cx="666.66" cy="52.66" r="1.2"/><circle cx="667.18" cy="52.85" r="1.2"/><circle cx="666.93" cy="48.36" r="1.2"/><circle cx="667.5" cy="49.97" r="1.2"/><circle cx="667.34" cy="51.42" r="1.2"/><circle cx="667.92" cy="54.57" r="1.2"/><circle cx="668.02" cy="51.55" r="1.2"/><circle cx="668.34" cy="54.09" r="1.2"/><circle cx="668.33" cy="53.52" r="1.2"/><circle cx="668.82" cy="52.6" r="1.2"/><circle cx="668.76" cy="50.4" r="1.2"/><circle cx="669.38" cy="49.61" r="1.2"/><circle cx="669.15" cy="52.22" r="1.2"/><circle cx="669.87" cy="54.51" r="1.2"/><circle cx="669.63" cy="49.19" r="1.2"/><circle cx="670.03" cy="57.54" r="1.2"/><circle cx="670.2" cy="52.62" r="1.2"/></g><path d="M594.6,14.5 L595.05,17.25 L595.5,21.61 L595.95,25.58 L596.4,29.18 L596.85,31.67 L597.3,33.66 L597.75,35.33 L598.2,36.83 L598.65,38.17 L599.1,39.22 L599.55,39.96 L600,40.59 L600.45,41.14 L600.9,41.62 L601.35,42.04 L601.8,42.43 L602.25,42.8 L602.7,43.15 L603.15,43.46 L603.6,43.76 L604.05,44.04 L604.5,44.29 L604.95,44.53 L605.4,44.75 L605.85,44.96 L606.3,45.16 L606.75,45.35 L607.2,45.53 L607.65,45.71 L608.1,45.88 L608.55,46.04 L609,46.2 L609.45,46.34 L609.9,46.48 L610.35,46.62 L610.8,46.75 L611.25,46.87 L611.7,46.98 L612.15,47.09 L612.6,47.2 L613.05,47.3 L613.5,47.4 L613.95,47.49 L614.4,47.58 L614.85,47.67 L615.3,47.76 L615.75,47.85 L616.2,47.93 L616.65,48.02 L617.1,48.1 L617.55,48.19 L618,48.28 L618.45,48.37 L618.9,48.45 L619.35,48.54 L619.8,48.63 L620.25,48.71 L620.7,48.8 L621.15,48.88 L621.6,48.96 L622.05,49.05 L622.5,49.13 L622.95,49.21 L623.4,49.29 L623.85,49.36 L624.3,49.44 L624.75,49.51 L625.2,49.58 L625.65,49.65 L626.1,49.71 L626.55,49.78 L627,49.84 L627.45,49.91 L627.9,49.97 L628.35,50.03 L628.8,50.09 L629.25,50.16 L629.7,50.21 L630.15,50.27 L630.6,50.33 L631.05,50.39 L631.5,50.44 L631.95,50.49 L632.4,50.54 L632.85,50.59 L633.3,50.64 L633.75,50.68 L634.2,50.73 L634.65,50.77 L635.1,50.81 L635.55,50.85 L636,50.88 L636.45,50.92 L636.9,50.95 L637.35,50.99 L637.8,51.02 L638.25,51.05 L638.7,51.09 L639.15,51.12 L639.6,51.15 L640.05,51.18 L640.5,51.21 L640.95,51.24 L641.4,51.27 L641.85,51.29 L642.3,51.32 L642.75,51.35 L643.2,51.37 L643.65,51.4 L644.1,51.43 L644.55,51.45 L645,51.48 L645.45,51.5 L645.9,51.53 L646.35,51.55 L646.8,51.58 L647.25,51.6 L647.7,51.63 L648.15,51.65 L648.6,51.67 L649.05,51.7 L649.5,51.72 L649.95,51.75 L650.4,51.77 L650.85,51.8 L651.3,51.82 L651.75,51.85 L652.2,51.88 L652.65,51.9 L653.1,51.93 L653.55,51.96 L654,51.98 L654.45,52.01 L654.9,52.03 L655.35,52.06 L655.8,52.09 L656.25,52.11 L656.7,52.14 L657.15,52.16 L657.6,52.19 L658.05,52.21 L658.5,52.24 L658.95,52.26 L659.4,52.29 L659.85,52.31 L660.3,52.34 L660.75,52.36 L661.2,52.39 L661.65,52.41 L662.1,52.44 L662.55,52.46 L663,52.49 L663.45,52.51 L663.9,52.54 L664.35,52.56 L664.8,52.59 L665.25,52.61 L665.7,52.63 L666.15,52.66 L666.6,52.68 L667.05,52.71 L667.5,52.73 L667.95,52.76 L668.4,52.78 L668.85,52.81 L669.3,52.83 L669.75,52.86 L670.2,52.88" stroke="#e8302c" stroke-width="1" fill="none"/><text x="608.4" y="26.6" font-size="8.2" fill="#111" textLength="43.1" lengthAdjust="spacingAndGlyphs" stroke="#111" stroke-width="0.22">Single crystal:</text><text x="608.4" y="35.8" font-size="8.2" fill="#111" textLength="28.9" lengthAdjust="spacingAndGlyphs" stroke="#111" stroke-width="0.22"><tspan font-style="italic">&#964;&#772;</tspan> = 21 ns</text><text x="591.6" y="20.8" font-size="5.6" fill="#222" text-anchor="end" textLength="10.5" lengthAdjust="spacingAndGlyphs" stroke="#222" stroke-width="0.22">1000</text><text x="591.6" y="45" font-size="5.6" fill="#222" text-anchor="end" textLength="7.6" lengthAdjust="spacingAndGlyphs" stroke="#222" stroke-width="0.22">500</text><text x="617.4" y="71" font-size="5.6" fill="#222" text-anchor="middle" textLength="5.2" lengthAdjust="spacingAndGlyphs" stroke="#222" stroke-width="0.22">40</text><text x="660.5" y="71" font-size="5.6" fill="#222" text-anchor="middle" textLength="5.2" lengthAdjust="spacingAndGlyphs" stroke="#222" stroke-width="0.22">80</text><line x1="593.5" y1="18.9" x2="595" y2="18.9" stroke="#666" stroke-width="0.5"/><line x1="593.5" y1="43.1" x2="595" y2="43.1" stroke="#666" stroke-width="0.5"/><line x1="617.4" y1="65" x2="617.4" y2="63.5" stroke="#666" stroke-width="0.5"/><line x1="660.5" y1="65" x2="660.5" y2="63.5" stroke="#666" stroke-width="0.5"/><rect x="489.5" y="8.2" width="185" height="129.7" fill="none" stroke="#6a6a6a" stroke-width="1"/><line x1="489.5" y1="137.7" x2="491.7" y2="137.7" stroke="#555" stroke-width="0.7"/><text x="487.8" y="139.9" font-size="6.2" fill="#222" text-anchor="end" textLength="2.6" lengthAdjust="spacingAndGlyphs" stroke="#222" stroke-width="0.22">1</text><line x1="489.5" y1="104.5" x2="491.7" y2="104.5" stroke="#555" stroke-width="0.7"/><text x="487.8" y="106.7" font-size="6.2" fill="#222" text-anchor="end" textLength="5.4" lengthAdjust="spacingAndGlyphs" stroke="#222" stroke-width="0.22">10</text><line x1="489.5" y1="71.3" x2="491.7" y2="71.3" stroke="#555" stroke-width="0.7"/><text x="487.8" y="73.5" font-size="6.2" fill="#222" text-anchor="end" textLength="8.1" lengthAdjust="spacingAndGlyphs" stroke="#222" stroke-width="0.22">100</text><line x1="489.5" y1="38.1" x2="491.7" y2="38.1" stroke="#555" stroke-width="0.7"/><text x="487.8" y="40.3" font-size="6.2" fill="#222" text-anchor="end" textLength="11" lengthAdjust="spacingAndGlyphs" stroke="#222" stroke-width="0.22">1000</text><line x1="489.5" y1="127.71" x2="490.7" y2="127.71" stroke="#777" stroke-width="0.5"/><line x1="489.5" y1="121.86" x2="490.7" y2="121.86" stroke="#777" stroke-width="0.5"/><line x1="489.5" y1="117.71" x2="490.7" y2="117.71" stroke="#777" stroke-width="0.5"/><line x1="489.5" y1="114.49" x2="490.7" y2="114.49" stroke="#777" stroke-width="0.5"/><line x1="489.5" y1="111.87" x2="490.7" y2="111.87" stroke="#777" stroke-width="0.5"/><line x1="489.5" y1="109.64" x2="490.7" y2="109.64" stroke="#777" stroke-width="0.5"/><line x1="489.5" y1="107.72" x2="490.7" y2="107.72" stroke="#777" stroke-width="0.5"/><line x1="489.5" y1="106.02" x2="490.7" y2="106.02" stroke="#777" stroke-width="0.5"/><line x1="489.5" y1="94.51" x2="490.7" y2="94.51" stroke="#777" stroke-width="0.5"/><line x1="489.5" y1="88.66" x2="490.7" y2="88.66" stroke="#777" stroke-width="0.5"/><line x1="489.5" y1="84.51" x2="490.7" y2="84.51" stroke="#777" stroke-width="0.5"/><line x1="489.5" y1="81.29" x2="490.7" y2="81.29" stroke="#777" stroke-width="0.5"/><line x1="489.5" y1="78.67" x2="490.7" y2="78.67" stroke="#777" stroke-width="0.5"/><line x1="489.5" y1="76.44" x2="490.7" y2="76.44" stroke="#777" stroke-width="0.5"/><line x1="489.5" y1="74.52" x2="490.7" y2="74.52" stroke="#777" stroke-width="0.5"/><line x1="489.5" y1="72.82" x2="490.7" y2="72.82" stroke="#777" stroke-width="0.5"/><line x1="489.5" y1="61.31" x2="490.7" y2="61.31" stroke="#777" stroke-width="0.5"/><line x1="489.5" y1="55.46" x2="490.7" y2="55.46" stroke="#777" stroke-width="0.5"/><line x1="489.5" y1="51.31" x2="490.7" y2="51.31" stroke="#777" stroke-width="0.5"/><line x1="489.5" y1="48.09" x2="490.7" y2="48.09" stroke="#777" stroke-width="0.5"/><line x1="489.5" y1="45.47" x2="490.7" y2="45.47" stroke="#777" stroke-width="0.5"/><line x1="489.5" y1="43.24" x2="490.7" y2="43.24" stroke="#777" stroke-width="0.5"/><line x1="489.5" y1="41.32" x2="490.7" y2="41.32" stroke="#777" stroke-width="0.5"/><line x1="489.5" y1="39.62" x2="490.7" y2="39.62" stroke="#777" stroke-width="0.5"/><line x1="489.5" y1="28.11" x2="490.7" y2="28.11" stroke="#777" stroke-width="0.5"/><line x1="489.5" y1="22.26" x2="490.7" y2="22.26" stroke="#777" stroke-width="0.5"/><line x1="489.5" y1="18.11" x2="490.7" y2="18.11" stroke="#777" stroke-width="0.5"/><line x1="489.5" y1="14.89" x2="490.7" y2="14.89" stroke="#777" stroke-width="0.5"/><line x1="489.5" y1="12.27" x2="490.7" y2="12.27" stroke="#777" stroke-width="0.5"/><line x1="489.5" y1="10.04" x2="490.7" y2="10.04" stroke="#777" stroke-width="0.5"/><line x1="531.3" y1="137.9" x2="531.3" y2="135.9" stroke="#555" stroke-width="0.7"/><text x="531.3" y="145.2" font-size="6.2" fill="#222" text-anchor="middle" textLength="8.3" lengthAdjust="spacingAndGlyphs" stroke="#222" stroke-width="0.22">250</text><line x1="579" y1="137.9" x2="579" y2="135.9" stroke="#555" stroke-width="0.7"/><text x="579" y="145.2" font-size="6.2" fill="#222" text-anchor="middle" textLength="8.3" lengthAdjust="spacingAndGlyphs" stroke="#222" stroke-width="0.22">500</text><line x1="626.7" y1="137.9" x2="626.7" y2="135.9" stroke="#555" stroke-width="0.7"/><text x="626.7" y="145.2" font-size="6.2" fill="#222" text-anchor="middle" textLength="8.3" lengthAdjust="spacingAndGlyphs" stroke="#222" stroke-width="0.22">750</text><line x1="674.4" y1="137.9" x2="674.4" y2="135.9" stroke="#555" stroke-width="0.7"/><text x="674.4" y="145.2" font-size="6.2" fill="#222" text-anchor="middle" textLength="11" lengthAdjust="spacingAndGlyphs" stroke="#222" stroke-width="0.22">1000</text><line x1="507.45" y1="137.9" x2="507.45" y2="136.7" stroke="#777" stroke-width="0.5"/><line x1="555.15" y1="137.9" x2="555.15" y2="136.7" stroke="#777" stroke-width="0.5"/><line x1="602.85" y1="137.9" x2="602.85" y2="136.7" stroke="#777" stroke-width="0.5"/><line x1="650.55" y1="137.9" x2="650.55" y2="136.7" stroke="#777" stroke-width="0.5"/><text x="582.2" y="159.5" font-size="11" fill="#222" text-anchor="middle" textLength="39.1" lengthAdjust="spacingAndGlyphs" stroke="#222" stroke-width="0.22">Time (ns)</text><text x="476.2" y="69.6" font-size="10" fill="#222" text-anchor="middle" textLength="31.8" lengthAdjust="spacingAndGlyphs" transform="rotate(-90 476.2 69.6)" stroke="#222" stroke-width="0.22">PL (cts.)</text><text x="-0.6" y="184.5" font-size="17.5" fill="#000" font-weight="bold">d</text><rect x="31.5" y="176.4" width="133.1" height="128.8" fill="url(#gdB)"/><rect x="164.6" y="176.4" width="39" height="128.8" fill="url(#gdG)"/><rect x="203.6" y="176.4" width="13.1" height="128.8" fill="url(#gdG2)"/><line x1="164.6" y1="176.4" x2="164.6" y2="305.2" stroke="#999" stroke-width="0.5" stroke-dasharray="0.8 0.8"/><line x1="203.6" y1="176.4" x2="203.6" y2="305.2" stroke="#777" stroke-width="0.5" stroke-dasharray="0.8 0.8"/><rect x="38.8" y="185" width="52.9" height="46.4" fill="#d3d0c7"/><ellipse cx="65.4" cy="211" rx="16.6" ry="16.1" fill="url(#gdDisc)"/><path d="M56,201 L76.7,203.4 L75.3,220 L54,217.6 Z" stroke="none" stroke-width="1" fill="url(#gdGold)"/><line x1="57.4" y1="198.2" x2="76.7" y2="200.1" stroke="#fff" stroke-width="0.7"/><line x1="53.1" y1="201.5" x2="51.7" y2="216.2" stroke="#fff" stroke-width="0.7"/><text x="56.9" y="193.5" font-size="6.8" fill="#1a1a1a" textLength="20.8" lengthAdjust="spacingAndGlyphs" transform="rotate(3 56.9 193.5)" stroke="#1a1a1a" stroke-width="0.22">7.90 mm</text><text x="45.8" y="207" font-size="6.8" fill="#1a1a1a" text-anchor="middle" textLength="20.5" lengthAdjust="spacingAndGlyphs" transform="rotate(-74 45.8 207)" stroke="#1a1a1a" stroke-width="0.22">7.09 mm</text><rect x="95.2" y="185" width="51.3" height="46.4" fill="url(#gdP2)"/><path d="M102.5,204.1 L113.6,196.6 L141.7,200.3 L129.1,207.6 Z" stroke="none" stroke-width="1" fill="url(#gdTop)"/><path d="M102.5,204.1 L129.1,207.6 L129.1,217.6 L102.5,213.6 Z" stroke="none" stroke-width="1" fill="#111"/><path d="M129.1,207.6 L141.7,200.3 L141.7,210.6 L129.1,217.6 Z" stroke="none" stroke-width="1" fill="#1c1c1c"/><path d="M102.5,213.6 L129.1,217.6 L129.1,220.0 L102.5,216.0 Z" stroke="none" stroke-width="1" fill="#c99a14"/><path d="M129.1,217.6 L141.7,210.6 L141.7,212.8 L129.1,220.0 Z" stroke="none" stroke-width="1" fill="#e0b420"/><line x1="129.1" y1="207.6" x2="141.7" y2="200.3" stroke="#f3cf30" stroke-width="0.8"/><text x="103.6" y="210.6" font-size="5.4" fill="#fff" stroke-width="0" textLength="24" lengthAdjust="spacingAndGlyphs" transform="rotate(8 103.6 210.6)" stroke="#fff" stroke-width="0.22">FAST-MAPbI<tspan font-size="3.6" dy="1">3</tspan></text><line x1="99.2" y1="205.6" x2="99.2" y2="213.1" stroke="#fff" stroke-width="0.6"/><text x="124.6" y="195.6" font-size="7.2" fill="#f0b420" textLength="7.4" lengthAdjust="spacingAndGlyphs" stroke="#f0b420" stroke-width="0.22">Au</text><text x="116.3" y="224.2" font-size="7.2" fill="#f0b420" textLength="7.4" lengthAdjust="spacingAndGlyphs" stroke="#f0b420" stroke-width="0.22">Au</text><text x="95.6" y="224" font-size="6.4" fill="#1a1a1a" textLength="19.6" lengthAdjust="spacingAndGlyphs" stroke="#1a1a1a" stroke-width="0.22">1.33 mm</text><path d="M88.3,304.9 L88.8,304.66 L89.3,304.41 L89.8,304.17 L90.3,303.93 L90.8,303.68 L91.3,303.44 L91.8,303.2 L92.3,302.95 L92.8,302.71 L93.3,302.47 L93.8,302.23 L94.3,301.98 L94.8,301.74 L95.3,301.5 L95.8,301.25 L96.3,301.01 L96.8,300.76 L97.3,300.52 L97.8,300.28 L98.3,300.03 L98.8,299.79 L99.3,299.54 L99.8,299.3 L100.3,299.05 L100.8,298.81 L101.3,298.56 L101.8,298.31 L102.3,298.07 L102.8,297.82 L103.3,297.57 L103.8,297.33 L104.3,297.08 L104.8,296.83 L105.3,296.58 L105.8,296.33 L106.3,296.08 L106.8,295.84 L107.3,295.59 L107.8,295.34 L108.3,295.09 L108.8,294.84 L109.3,294.59 L109.8,294.34 L110.3,294.09 L110.8,293.84 L111.3,293.59 L111.8,293.35 L112.3,293.1 L112.8,292.85 L113.3,292.6 L113.8,292.35 L114.3,292.1 L114.8,291.86 L115.3,291.61 L115.8,291.36 L116.3,291.12 L116.8,290.87 L117.3,290.62 L117.8,290.38 L118.3,290.13 L118.8,289.89 L119.3,289.64 L119.8,289.4 L120.3,289.15 L120.8,288.91 L121.3,288.67 L121.8,288.42 L122.3,288.18 L122.8,287.94 L123.3,287.7 L123.8,287.46 L124.3,287.22 L124.8,286.98 L125.3,286.73 L125.8,286.49 L126.3,286.25 L126.8,286.01 L127.3,285.77 L127.8,285.53 L128.3,285.3 L128.8,285.06 L129.3,284.82 L129.8,284.58 L130.3,284.34 L130.8,284.1 L131.3,283.86 L131.8,283.62 L132.3,283.38 L132.8,283.14 L133.3,282.9 L133.8,282.67 L134.3,282.43 L134.8,282.19 L135.3,281.95 L135.8,281.71 L136.3,281.47 L136.8,281.23 L137.3,280.99 L137.8,280.75 L138.3,280.52 L138.8,280.28 L139.3,280.04 L139.8,279.8 L140.3,279.56 L140.8,279.32 L141.3,279.08 L141.8,278.84 L142.3,278.6 L142.8,278.36 L143.3,278.12 L143.8,277.88 L144.3,277.64 L144.8,277.4 L145.3,277.16 L145.8,276.92 L146.3,276.68 L146.8,276.44 L147.3,276.2 L147.8,275.96 L148.3,275.72 L148.8,275.48 L149.3,275.24 L149.8,275 L150.3,274.76 L150.8,274.52 L151.3,274.28 L151.8,274.04 L152.3,273.8 L152.8,273.57 L153.3,273.33 L153.8,273.09 L154.3,272.86 L154.8,272.62 L155.3,272.37 L155.8,272.13 L156.3,271.88 L156.8,271.63 L157.3,271.37 L157.8,271.11 L158.3,270.84 L158.8,270.58 L159.3,270.32 L159.8,270.06 L160.3,269.8 L160.8,269.53 L161.3,269.26 L161.8,268.98 L162.3,268.69 L162.8,268.38 L163.3,268.06 L163.8,267.71 L164.3,267.35 L164.8,266.96 L165.3,266.52 L165.8,266.04 L166.3,265.53 L166.8,264.98 L167.3,264.41 L167.8,263.83 L168.3,263.23 L168.8,262.63 L169.3,262.03 L169.8,261.45 L170.3,260.87 L170.8,260.31 L171.3,259.75 L171.8,259.19 L172.3,258.62 L172.8,258.04 L173.3,257.45 L173.8,256.84 L174.3,256.19 L174.8,255.52 L175.3,254.81 L175.8,254.04 L176.3,253.21 L176.8,252.34 L177.3,251.45 L177.8,250.54 L178.3,249.64 L178.8,248.74 L179.3,247.82 L179.8,246.89 L180.3,245.95 L180.8,245.02 L181.3,244.12 L181.8,243.27 L182.3,242.47 L182.8,241.71 L183.3,240.96 L183.8,240.21 L184.3,239.44 L184.8,238.62 L185.3,237.74 L185.8,236.8 L186.3,235.81 L186.8,234.78 L187.3,233.73 L187.8,232.65 L188.3,231.56 L188.8,230.47 L189.3,229.35 L189.8,228.2 L190.3,227.01 L190.8,225.77 L191.3,224.47 L191.8,223.06 L192.3,221.57 L192.8,220.02 L193.3,218.44 L193.8,216.85 L194.3,215.29 L194.8,213.77 L195.3,212.32 L195.8,210.91 L196.3,209.53 L196.8,208.17 L197.3,206.84 L197.8,205.53 L198.3,204.24 L198.8,202.93 L199.3,201.59 L199.8,200.29 L200.3,199.07 L200.8,197.96 L201.3,197.03 L201.8,196.21 L202.3,195.47 L202.8,194.8 L203.3,194.18 L203.8,193.6 L204.3,193.07 L204.8,192.6 L205.3,192.16 L205.8,191.7 L206.3,191.2 L206.8,190.63 L207.3,190.04" stroke="#3f82de" stroke-width="4.2" fill="none" stroke-linecap="round" stroke-linejoin="round"/><path d="M88.3,304.9 L88.8,304.66 L89.3,304.41 L89.8,304.17 L90.3,303.93 L90.8,303.68 L91.3,303.44 L91.8,303.2 L92.3,302.95 L92.8,302.71 L93.3,302.47 L93.8,302.23 L94.3,301.98 L94.8,301.74 L95.3,301.5 L95.8,301.25 L96.3,301.01 L96.8,300.76 L97.3,300.52 L97.8,300.28 L98.3,300.03 L98.8,299.79 L99.3,299.54 L99.8,299.3 L100.3,299.05 L100.8,298.81 L101.3,298.56 L101.8,298.31 L102.3,298.07 L102.8,297.82 L103.3,297.57 L103.8,297.33 L104.3,297.08 L104.8,296.83 L105.3,296.58 L105.8,296.33 L106.3,296.08 L106.8,295.84 L107.3,295.59 L107.8,295.34 L108.3,295.09 L108.8,294.84 L109.3,294.59 L109.8,294.34 L110.3,294.09 L110.8,293.84 L111.3,293.59 L111.8,293.35 L112.3,293.1 L112.8,292.85 L113.3,292.6 L113.8,292.35 L114.3,292.1 L114.8,291.86 L115.3,291.61 L115.8,291.36 L116.3,291.12 L116.8,290.87 L117.3,290.62 L117.8,290.38 L118.3,290.13 L118.8,289.89 L119.3,289.64 L119.8,289.4 L120.3,289.15 L120.8,288.91 L121.3,288.67 L121.8,288.42 L122.3,288.18 L122.8,287.94 L123.3,287.7 L123.8,287.46 L124.3,287.22 L124.8,286.98 L125.3,286.73 L125.8,286.49 L126.3,286.25 L126.8,286.01 L127.3,285.77 L127.8,285.53 L128.3,285.3 L128.8,285.06 L129.3,284.82 L129.8,284.58 L130.3,284.34 L130.8,284.1 L131.3,283.86 L131.8,283.62 L132.3,283.38 L132.8,283.14 L133.3,282.9 L133.8,282.67 L134.3,282.43 L134.8,282.19 L135.3,281.95 L135.8,281.71 L136.3,281.47 L136.8,281.23 L137.3,280.99 L137.8,280.75 L138.3,280.52 L138.8,280.28 L139.3,280.04 L139.8,279.8 L140.3,279.56 L140.8,279.32 L141.3,279.08 L141.8,278.84 L142.3,278.6 L142.8,278.36 L143.3,278.12 L143.8,277.88 L144.3,277.64 L144.8,277.4 L145.3,277.16 L145.8,276.92 L146.3,276.68 L146.8,276.44 L147.3,276.2 L147.8,275.96 L148.3,275.72 L148.8,275.48 L149.3,275.24 L149.8,275 L150.3,274.76 L150.8,274.52 L151.3,274.28 L151.8,274.04 L152.3,273.8 L152.8,273.57 L153.3,273.33 L153.8,273.09 L154.3,272.86 L154.8,272.62 L155.3,272.37 L155.8,272.13 L156.3,271.88 L156.8,271.63 L157.3,271.37 L157.8,271.11 L158.3,270.84 L158.8,270.58 L159.3,270.32 L159.8,270.06 L160.3,269.8 L160.8,269.53 L161.3,269.26 L161.8,268.98 L162.3,268.69 L162.8,268.38 L163.3,268.06 L163.8,267.71 L164.3,267.35 L164.8,266.96 L165.3,266.52 L165.8,266.04 L166.3,265.53 L166.8,264.98 L167.3,264.41 L167.8,263.83 L168.3,263.23 L168.8,262.63 L169.3,262.03 L169.8,261.45 L170.3,260.87 L170.8,260.31 L171.3,259.75 L171.8,259.19 L172.3,258.62 L172.8,258.04 L173.3,257.45 L173.8,256.84 L174.3,256.19 L174.8,255.52 L175.3,254.81 L175.8,254.04 L176.3,253.21 L176.8,252.34 L177.3,251.45 L177.8,250.54 L178.3,249.64 L178.8,248.74 L179.3,247.82 L179.8,246.89 L180.3,245.95 L180.8,245.02 L181.3,244.12 L181.8,243.27 L182.3,242.47 L182.8,241.71 L183.3,240.96 L183.8,240.21 L184.3,239.44 L184.8,238.62 L185.3,237.74 L185.8,236.8 L186.3,235.81 L186.8,234.78 L187.3,233.73 L187.8,232.65 L188.3,231.56 L188.8,230.47 L189.3,229.35 L189.8,228.2 L190.3,227.01 L190.8,225.77 L191.3,224.47 L191.8,223.06 L192.3,221.57 L192.8,220.02 L193.3,218.44 L193.8,216.85 L194.3,215.29 L194.8,213.77 L195.3,212.32 L195.8,210.91 L196.3,209.53 L196.8,208.17 L197.3,206.84 L197.8,205.53 L198.3,204.24 L198.8,202.93 L199.3,201.59 L199.8,200.29 L200.3,199.07 L200.8,197.96 L201.3,197.03 L201.8,196.21 L202.3,195.47 L202.8,194.8 L203.3,194.18 L203.8,193.6 L204.3,193.07 L204.8,192.6 L205.3,192.16 L205.8,191.7 L206.3,191.2 L206.8,190.63 L207.3,190.04" stroke="#8bb8f0" stroke-width="1.6" fill="none" stroke-linecap="round" stroke-linejoin="round"/><path d="M88.3,304.9 L88.8,304.66 L89.3,304.41 L89.8,304.17 L90.3,303.93 L90.8,303.68 L91.3,303.44 L91.8,303.2 L92.3,302.95 L92.8,302.71 L93.3,302.47 L93.8,302.23 L94.3,301.98 L94.8,301.74 L95.3,301.5 L95.8,301.25 L96.3,301.01 L96.8,300.76 L97.3,300.52 L97.8,300.28 L98.3,300.03 L98.8,299.79 L99.3,299.54 L99.8,299.3 L100.3,299.05 L100.8,298.81 L101.3,298.56 L101.8,298.31 L102.3,298.07 L102.8,297.82 L103.3,297.57 L103.8,297.33 L104.3,297.08 L104.8,296.83 L105.3,296.58 L105.8,296.33 L106.3,296.08 L106.8,295.84 L107.3,295.59 L107.8,295.34 L108.3,295.09 L108.8,294.84 L109.3,294.59 L109.8,294.34 L110.3,294.09 L110.8,293.84 L111.3,293.59 L111.8,293.35 L112.3,293.1 L112.8,292.85 L113.3,292.6 L113.8,292.35 L114.3,292.1 L114.8,291.86 L115.3,291.61 L115.8,291.36 L116.3,291.12 L116.8,290.87 L117.3,290.62 L117.8,290.38 L118.3,290.13 L118.8,289.89 L119.3,289.64 L119.8,289.4 L120.3,289.15 L120.8,288.91 L121.3,288.67 L121.8,288.42 L122.3,288.18 L122.8,287.94 L123.3,287.7 L123.8,287.46 L124.3,287.22 L124.8,286.98 L125.3,286.73 L125.8,286.49 L126.3,286.25 L126.8,286.01 L127.3,285.77 L127.8,285.53 L128.3,285.3 L128.8,285.06 L129.3,284.82 L129.8,284.58 L130.3,284.34 L130.8,284.1 L131.3,283.86 L131.8,283.62 L132.3,283.38 L132.8,283.14 L133.3,282.9 L133.8,282.67 L134.3,282.43 L134.8,282.19 L135.3,281.95 L135.8,281.71 L136.3,281.47 L136.8,281.23 L137.3,280.99 L137.8,280.75 L138.3,280.52 L138.8,280.28 L139.3,280.04 L139.8,279.8 L140.3,279.56 L140.8,279.32 L141.3,279.08 L141.8,278.84 L142.3,278.6 L142.8,278.36 L143.3,278.12 L143.8,277.88 L144.3,277.64 L144.8,277.4 L145.3,277.16 L145.8,276.92 L146.3,276.68 L146.8,276.44 L147.3,276.2 L147.8,275.96 L148.3,275.72 L148.8,275.48 L149.3,275.24 L149.8,275 L150.3,274.76 L150.8,274.52 L151.3,274.28 L151.8,274.04 L152.3,273.8 L152.8,273.57 L153.3,273.33 L153.8,273.09 L154.3,272.86 L154.8,272.62 L155.3,272.37 L155.8,272.13 L156.3,271.88 L156.8,271.63 L157.3,271.37 L157.8,271.11 L158.3,270.84 L158.8,270.58 L159.3,270.32 L159.8,270.06 L160.3,269.8 L160.8,269.53 L161.3,269.26 L161.8,268.98 L162.3,268.69 L162.8,268.38 L163.3,268.06 L163.8,267.71 L164.3,267.35 L164.8,266.96 L165.3,266.52 L165.8,266.04 L166.3,265.53 L166.8,264.98 L167.3,264.41 L167.8,263.83 L168.3,263.23 L168.8,262.63 L169.3,262.03 L169.8,261.45 L170.3,260.87 L170.8,260.31 L171.3,259.75 L171.8,259.19 L172.3,258.62 L172.8,258.04 L173.3,257.45 L173.8,256.84 L174.3,256.19 L174.8,255.52 L175.3,254.81 L175.8,254.04 L176.3,253.21 L176.8,252.34 L177.3,251.45 L177.8,250.54 L178.3,249.64 L178.8,248.74 L179.3,247.82 L179.8,246.89 L180.3,245.95 L180.8,245.02 L181.3,244.12 L181.8,243.27 L182.3,242.47 L182.8,241.71 L183.3,240.96 L183.8,240.21 L184.3,239.44 L184.8,238.62 L185.3,237.74 L185.8,236.8 L186.3,235.81 L186.8,234.78 L187.3,233.73 L187.8,232.65 L188.3,231.56 L188.8,230.47 L189.3,229.35 L189.8,228.2 L190.3,227.01 L190.8,225.77 L191.3,224.47 L191.8,223.06 L192.3,221.57 L192.8,220.02 L193.3,218.44 L193.8,216.85 L194.3,215.29 L194.8,213.77 L195.3,212.32 L195.8,210.91 L196.3,209.53 L196.8,208.17 L197.3,206.84 L197.8,205.53 L198.3,204.24 L198.8,202.93 L199.3,201.59 L199.8,200.29 L200.3,199.07 L200.8,197.96 L201.3,197.03 L201.8,196.21 L202.3,195.47 L202.8,194.8 L203.3,194.18 L203.8,193.6 L204.3,193.07 L204.8,192.6 L205.3,192.16 L205.8,191.7 L206.3,191.2 L206.8,190.63 L207.3,190.04" stroke="#dce9fa" stroke-width="0.6" fill="none" stroke-linecap="round" stroke-dasharray="1.5 2"/><line x1="88.3" y1="305" x2="165.1" y2="267.2" stroke="#111" stroke-width="1.2"/><line x1="199.2" y1="199.8" x2="218.4" y2="180.6" stroke="#111" stroke-width="1.1"/><text x="62.1" y="252.2" font-size="9.8" fill="#1a1a1a" textLength="54.2" lengthAdjust="spacingAndGlyphs" stroke="#1a1a1a" stroke-width="0.22"><tspan font-style="italic">&#956;</tspan> = 1.7 cm<tspan font-size="5.5" dy="-3">2</tspan><tspan dy="3">V</tspan><tspan font-size="5.5" dy="-3">-1</tspan><tspan dy="3">s</tspan><tspan font-size="5.5" dy="-3">-1</tspan></text><text x="62.1" y="261.6" font-size="9.8" fill="#1a1a1a" textLength="59.8" lengthAdjust="spacingAndGlyphs" stroke="#1a1a1a" stroke-width="0.22"><tspan font-style="italic">N</tspan><tspan font-size="6" dy="1.5">t</tspan><tspan dy="-1.5">  =  5.4&#215;10</tspan><tspan font-size="5.5" dy="-3">10</tspan><tspan dy="3"> cm</tspan><tspan font-size="5.5" dy="-3">-3</tspan></text><text x="100.7" y="286.6" font-size="7" fill="#1a1a1a" textLength="10.1" lengthAdjust="spacingAndGlyphs" stroke="#1a1a1a" stroke-width="0.22">n=1</text><text x="173.6" y="226.3" font-size="7" fill="#1a1a1a" textLength="10.5" lengthAdjust="spacingAndGlyphs" stroke="#1a1a1a" stroke-width="0.22">n&gt;2</text><text x="204.3" y="183" font-size="7" fill="#1a1a1a" textLength="11.4" lengthAdjust="spacingAndGlyphs" stroke="#1a1a1a" stroke-width="0.22">n=2</text><text x="40.3" y="302" font-size="5.6" fill="#1a1a1a" textLength="14.1" lengthAdjust="spacingAndGlyphs" stroke="#1a1a1a" stroke-width="0.22">Ohmic</text><text x="166.9" y="302" font-size="5.6" fill="#1a1a1a" textLength="7.7" lengthAdjust="spacingAndGlyphs" stroke="#1a1a1a" stroke-width="0.22">TFL</text><text x="204.5" y="302" font-size="5.6" fill="#1a1a1a" textLength="10.5" lengthAdjust="spacingAndGlyphs" stroke="#1a1a1a" stroke-width="0.22">Child</text><rect x="31.5" y="176.4" width="185.2" height="128.8" fill="none" stroke="#666" stroke-width="1"/><line x1="31.5" y1="192.2" x2="33.5" y2="192.2" stroke="#666" stroke-width="0.6"/><text x="29.4" y="194.8" font-size="7.4" fill="#222" text-anchor="end" stroke="#222" stroke-width="0.22"><tspan textLength="5.8" lengthAdjust="spacingAndGlyphs">10</tspan><tspan font-size="4.8" dy="-3" textLength="4.2" lengthAdjust="spacingAndGlyphs">-4</tspan></text><line x1="31.5" y1="244.8" x2="33.5" y2="244.8" stroke="#666" stroke-width="0.6"/><text x="29.4" y="247.4" font-size="7.4" fill="#222" text-anchor="end" stroke="#222" stroke-width="0.22"><tspan textLength="5.8" lengthAdjust="spacingAndGlyphs">10</tspan><tspan font-size="4.8" dy="-3" textLength="4.2" lengthAdjust="spacingAndGlyphs">-6</tspan></text><line x1="31.5" y1="297.4" x2="33.5" y2="297.4" stroke="#666" stroke-width="0.6"/><text x="29.4" y="300" font-size="7.4" fill="#222" text-anchor="end" stroke="#222" stroke-width="0.22"><tspan textLength="5.8" lengthAdjust="spacingAndGlyphs">10</tspan><tspan font-size="4.8" dy="-3" textLength="4.2" lengthAdjust="spacingAndGlyphs">-8</tspan></text><line x1="31.5" y1="303.23" x2="32.6" y2="303.23" stroke="#888" stroke-width="0.4"/><line x1="31.5" y1="301.47" x2="32.6" y2="301.47" stroke="#888" stroke-width="0.4"/><line x1="31.5" y1="299.95" x2="32.6" y2="299.95" stroke="#888" stroke-width="0.4"/><line x1="31.5" y1="298.6" x2="32.6" y2="298.6" stroke="#888" stroke-width="0.4"/><line x1="31.5" y1="289.48" x2="32.6" y2="289.48" stroke="#888" stroke-width="0.4"/><line x1="31.5" y1="284.85" x2="32.6" y2="284.85" stroke="#888" stroke-width="0.4"/><line x1="31.5" y1="281.57" x2="32.6" y2="281.57" stroke="#888" stroke-width="0.4"/><line x1="31.5" y1="279.02" x2="32.6" y2="279.02" stroke="#888" stroke-width="0.4"/><line x1="31.5" y1="276.93" x2="32.6" y2="276.93" stroke="#888" stroke-width="0.4"/><line x1="31.5" y1="275.17" x2="32.6" y2="275.17" stroke="#888" stroke-width="0.4"/><line x1="31.5" y1="273.65" x2="32.6" y2="273.65" stroke="#888" stroke-width="0.4"/><line x1="31.5" y1="272.3" x2="32.6" y2="272.3" stroke="#888" stroke-width="0.4"/><line x1="31.5" y1="263.18" x2="32.6" y2="263.18" stroke="#888" stroke-width="0.4"/><line x1="31.5" y1="258.55" x2="32.6" y2="258.55" stroke="#888" stroke-width="0.4"/><line x1="31.5" y1="255.27" x2="32.6" y2="255.27" stroke="#888" stroke-width="0.4"/><line x1="31.5" y1="252.72" x2="32.6" y2="252.72" stroke="#888" stroke-width="0.4"/><line x1="31.5" y1="250.63" x2="32.6" y2="250.63" stroke="#888" stroke-width="0.4"/><line x1="31.5" y1="248.87" x2="32.6" y2="248.87" stroke="#888" stroke-width="0.4"/><line x1="31.5" y1="247.35" x2="32.6" y2="247.35" stroke="#888" stroke-width="0.4"/><line x1="31.5" y1="246" x2="32.6" y2="246" stroke="#888" stroke-width="0.4"/><line x1="31.5" y1="236.88" x2="32.6" y2="236.88" stroke="#888" stroke-width="0.4"/><line x1="31.5" y1="232.25" x2="32.6" y2="232.25" stroke="#888" stroke-width="0.4"/><line x1="31.5" y1="228.97" x2="32.6" y2="228.97" stroke="#888" stroke-width="0.4"/><line x1="31.5" y1="226.42" x2="32.6" y2="226.42" stroke="#888" stroke-width="0.4"/><line x1="31.5" y1="224.33" x2="32.6" y2="224.33" stroke="#888" stroke-width="0.4"/><line x1="31.5" y1="222.57" x2="32.6" y2="222.57" stroke="#888" stroke-width="0.4"/><line x1="31.5" y1="221.05" x2="32.6" y2="221.05" stroke="#888" stroke-width="0.4"/><line x1="31.5" y1="219.7" x2="32.6" y2="219.7" stroke="#888" stroke-width="0.4"/><line x1="31.5" y1="210.58" x2="32.6" y2="210.58" stroke="#888" stroke-width="0.4"/><line x1="31.5" y1="205.95" x2="32.6" y2="205.95" stroke="#888" stroke-width="0.4"/><line x1="31.5" y1="202.67" x2="32.6" y2="202.67" stroke="#888" stroke-width="0.4"/><line x1="31.5" y1="200.12" x2="32.6" y2="200.12" stroke="#888" stroke-width="0.4"/><line x1="31.5" y1="198.03" x2="32.6" y2="198.03" stroke="#888" stroke-width="0.4"/><line x1="31.5" y1="196.27" x2="32.6" y2="196.27" stroke="#888" stroke-width="0.4"/><line x1="31.5" y1="194.75" x2="32.6" y2="194.75" stroke="#888" stroke-width="0.4"/><line x1="31.5" y1="193.4" x2="32.6" y2="193.4" stroke="#888" stroke-width="0.4"/><line x1="31.5" y1="184.28" x2="32.6" y2="184.28" stroke="#888" stroke-width="0.4"/><line x1="31.5" y1="179.65" x2="32.6" y2="179.65" stroke="#888" stroke-width="0.4"/><line x1="31.6" y1="305.2" x2="31.6" y2="303.2" stroke="#666" stroke-width="0.6"/><text x="31.6" y="313" font-size="6.4" fill="#222" text-anchor="middle" textLength="2.8" lengthAdjust="spacingAndGlyphs" stroke="#222" stroke-width="0.22">1</text><line x1="136" y1="305.2" x2="136" y2="303.2" stroke="#666" stroke-width="0.6"/><text x="136" y="313" font-size="6.4" fill="#222" text-anchor="middle" textLength="6" lengthAdjust="spacingAndGlyphs" stroke="#222" stroke-width="0.22">10</text><line x1="63.03" y1="305.2" x2="63.03" y2="304.1" stroke="#888" stroke-width="0.4"/><line x1="81.41" y1="305.2" x2="81.41" y2="304.1" stroke="#888" stroke-width="0.4"/><line x1="94.46" y1="305.2" x2="94.46" y2="304.1" stroke="#888" stroke-width="0.4"/><line x1="104.57" y1="305.2" x2="104.57" y2="304.1" stroke="#888" stroke-width="0.4"/><line x1="112.84" y1="305.2" x2="112.84" y2="304.1" stroke="#888" stroke-width="0.4"/><line x1="119.83" y1="305.2" x2="119.83" y2="304.1" stroke="#888" stroke-width="0.4"/><line x1="125.88" y1="305.2" x2="125.88" y2="304.1" stroke="#888" stroke-width="0.4"/><line x1="131.22" y1="305.2" x2="131.22" y2="304.1" stroke="#888" stroke-width="0.4"/><line x1="167.43" y1="305.2" x2="167.43" y2="304.1" stroke="#888" stroke-width="0.4"/><line x1="185.81" y1="305.2" x2="185.81" y2="304.1" stroke="#888" stroke-width="0.4"/><line x1="198.86" y1="305.2" x2="198.86" y2="304.1" stroke="#888" stroke-width="0.4"/><line x1="208.97" y1="305.2" x2="208.97" y2="304.1" stroke="#888" stroke-width="0.4"/><text x="123.8" y="327.8" font-size="11" fill="#222" text-anchor="middle" textLength="46.3" lengthAdjust="spacingAndGlyphs" stroke="#222" stroke-width="0.22">Voltage (V)</text><text x="15.9" y="237.4" font-size="11" fill="#222" text-anchor="middle" textLength="16.5" lengthAdjust="spacingAndGlyphs" transform="rotate(-90 15.9 237.4)" stroke="#222" stroke-width="0.22">I (A)</text><text x="225" y="185.6" font-size="17.5" fill="#000" font-weight="bold">e</text><clipPath id="cpE"><rect x="256.5" y="176.5" width="184.8" height="127.80000000000001"/></clipPath><g clip-path="url(#cpE)"><rect x="256.5" y="176.5" width="184.8" height="127.8" fill="url(#geBg)"/><ellipse cx="320.2" cy="200.6" rx="92.4" ry="28.4" fill="url(#geEl)" transform="rotate(5.2 320.2 200.6)"/><ellipse cx="320.2" cy="200.6" rx="92.4" ry="28.4" fill="url(#geEl2)" transform="rotate(5.2 320.2 200.6)"/><ellipse cx="412" cy="289" rx="48" ry="32.5" fill="url(#geBl)" transform="rotate(8 412 289)"/></g><path d="M301.1,214.2 V205.3 H308.5" stroke="#f5a36a" stroke-width="0.6" fill="none"/><path d="M338,199.5 V194 H347.6" stroke="#f5a36a" stroke-width="0.6" fill="none"/><path d="M343.9,206.1 V211.5 H354" stroke="#f5a36a" stroke-width="0.6" fill="none"/><path d="M335.5,203 V223.6 H346.2" stroke="#f5a36a" stroke-width="0.6" fill="none"/><path d="M401.2,214.1 V207.1 H411.3" stroke="#f5a36a" stroke-width="0.6" fill="none"/><rect x="298.8" y="211.9" width="4.6" height="4.6" fill="#f26a1b"/><rect x="333.1" y="200.3" width="4.6" height="4.6" fill="#f26a1b"/><rect x="335.7" y="197.6" width="4.6" height="4.6" fill="#f26a1b"/><rect x="341.6" y="203.8" width="4.6" height="4.6" fill="#f26a1b"/><rect x="398.9" y="211.8" width="4.6" height="4.6" fill="#f26a1b"/><text x="309.1" y="207.7" font-size="6.8" fill="#f07a30" textLength="16.1" lengthAdjust="spacingAndGlyphs" stroke="#f07a30" stroke-width="0.22">@PSU</text><text x="348.2" y="196.4" font-size="6.8" fill="#f07a30" textLength="13.2" lengthAdjust="spacingAndGlyphs" stroke="#f07a30" stroke-width="0.22">@UA</text><text x="354.5" y="213.9" font-size="6.8" fill="#f07a30" textLength="22.5" lengthAdjust="spacingAndGlyphs" stroke="#f07a30" stroke-width="0.22">@ICCAS</text><text x="346.8" y="226" font-size="6.8" fill="#f07a30" textLength="20.4" lengthAdjust="spacingAndGlyphs" stroke="#f07a30" stroke-width="0.22">@BUAA</text><text x="411.8" y="209.5" font-size="6.8" fill="#f07a30" textLength="21.5" lengthAdjust="spacingAndGlyphs" stroke="#f07a30" stroke-width="0.22">@USTC</text><path d="M403.4,260.4 V252.4 H409.5" stroke="#7fc550" stroke-width="0.6" fill="none"/><path d="M383.7,274 V278.2 H373" stroke="#7fc550" stroke-width="0.6" fill="none"/><path d="M406.3,278.2 V283.4 H394.4" stroke="#7fc550" stroke-width="0.6" fill="none"/><path d="M411.9,278.2 V283.4 H415.8" stroke="#7fc550" stroke-width="0.6" fill="none"/><path d="M419.5,272.8 V266" stroke="#7fc550" stroke-width="0.6" fill="none"/><path d="M411.9,292.6 V298.1 H408" stroke="#7fc550" stroke-width="0.6" fill="none"/><circle cx="403.4" cy="260.4" r="2.8" fill="#5cb82a"/><circle cx="383.7" cy="274" r="2.8" fill="#5cb82a"/><circle cx="406.3" cy="278.2" r="2.8" fill="#5cb82a"/><circle cx="411.9" cy="278.2" r="2.8" fill="#5cb82a"/><circle cx="419.5" cy="272.8" r="2.8" fill="#5cb82a"/><circle cx="411.9" cy="292.6" r="2.8" fill="#5cb82a"/><path d="M380,270.7 V262.2 H382.5" stroke="#3a7ae6" stroke-width="0.6" fill="none"/><path d="M380,266.5 L381.06,269.24 L383.99,269.4 L381.71,271.26 L382.47,274.1 L380,272.5 L377.53,274.1 L378.29,271.26 L376.01,269.4 L378.94,269.24 Z" stroke="none" stroke-width="1" fill="#2a6fe0"/><text x="410" y="254.8" font-size="6.8" fill="#6abf3a" textLength="16" lengthAdjust="spacingAndGlyphs" stroke="#6abf3a" stroke-width="0.22">@UNL</text><text x="349.4" y="280.6" font-size="6.8" fill="#6abf3a" textLength="23.3" lengthAdjust="spacingAndGlyphs" stroke="#6abf3a" stroke-width="0.22">@KAUST</text><text x="373" y="285.8" font-size="6.8" fill="#6abf3a" textLength="20.9" lengthAdjust="spacingAndGlyphs" stroke="#6abf3a" stroke-width="0.22">@SNNU</text><text x="416.2" y="285.8" font-size="6.8" fill="#6abf3a" textLength="23.7" lengthAdjust="spacingAndGlyphs" stroke="#6abf3a" stroke-width="0.22">@KAUST</text><text x="416.5" y="266" font-size="6.8" fill="#6abf3a" textLength="23.4" lengthAdjust="spacingAndGlyphs" stroke="#6abf3a" stroke-width="0.22">@KAUST</text><text x="387" y="300.5" font-size="6.8" fill="#6abf3a" textLength="20.5" lengthAdjust="spacingAndGlyphs" stroke="#6abf3a" stroke-width="0.22">@SNNU</text><text x="383" y="264.6" font-size="6.8" fill="#3a7ae6" textLength="16.7" lengthAdjust="spacingAndGlyphs" stroke="#3a7ae6" stroke-width="0.22">@PSU</text><rect x="269.5" y="243.6" width="4.2" height="4.2" fill="#f26a1b"/><path d="M271.6,251.7 L272.6,254.32 L275.4,254.46 L273.22,256.23 L273.95,258.94 L271.6,257.4 L269.25,258.94 L269.98,256.23 L267.8,254.46 L270.6,254.32 Z" stroke="none" stroke-width="1" fill="#2a6fe0"/><circle cx="271.6" cy="266.5" r="2.6" fill="#5cb82a"/><text x="283.2" y="248.4" font-size="7.6" fill="#f07a30" textLength="34.1" lengthAdjust="spacingAndGlyphs" stroke="#f07a30" stroke-width="0.22">Poly-crystal</text><text x="283.2" y="258.6" font-size="7.6" fill="#2f6fe0" textLength="71" lengthAdjust="spacingAndGlyphs" stroke="#2f6fe0" stroke-width="0.22">FAST-crystal (this work)</text><text x="283.2" y="269.2" font-size="7.6" fill="#6abf3a" textLength="38.9" lengthAdjust="spacingAndGlyphs" stroke="#6abf3a" stroke-width="0.22">Single-crystal</text><rect x="256.5" y="176.5" width="184.8" height="127.8" fill="none" stroke="#444" stroke-width="1"/><line x1="256.5" y1="304.4" x2="258.5" y2="304.4" stroke="#333" stroke-width="0.7"/><text x="253.6" y="307.3" font-size="8.2" fill="#222" text-anchor="end" stroke="#222" stroke-width="0.22"><tspan textLength="6.9" lengthAdjust="spacingAndGlyphs">10</tspan><tspan font-size="5.4" dy="-3.3" textLength="3.4" lengthAdjust="spacingAndGlyphs">8</tspan></text><line x1="256.5" y1="279.12" x2="258.5" y2="279.12" stroke="#333" stroke-width="0.7"/><text x="253.6" y="282.02" font-size="8.2" fill="#222" text-anchor="end" stroke="#222" stroke-width="0.22"><tspan textLength="6.9" lengthAdjust="spacingAndGlyphs">10</tspan><tspan font-size="5.4" dy="-3.3" textLength="5.0" lengthAdjust="spacingAndGlyphs">10</tspan></text><line x1="256.5" y1="253.84" x2="258.5" y2="253.84" stroke="#333" stroke-width="0.7"/><text x="253.6" y="256.74" font-size="8.2" fill="#222" text-anchor="end" stroke="#222" stroke-width="0.22"><tspan textLength="6.9" lengthAdjust="spacingAndGlyphs">10</tspan><tspan font-size="5.4" dy="-3.3" textLength="5.0" lengthAdjust="spacingAndGlyphs">12</tspan></text><line x1="256.5" y1="228.56" x2="258.5" y2="228.56" stroke="#333" stroke-width="0.7"/><text x="253.6" y="231.46" font-size="8.2" fill="#222" text-anchor="end" stroke="#222" stroke-width="0.22"><tspan textLength="6.9" lengthAdjust="spacingAndGlyphs">10</tspan><tspan font-size="5.4" dy="-3.3" textLength="5.0" lengthAdjust="spacingAndGlyphs">14</tspan></text><line x1="256.5" y1="203.28" x2="258.5" y2="203.28" stroke="#333" stroke-width="0.7"/><text x="253.6" y="206.18" font-size="8.2" fill="#222" text-anchor="end" stroke="#222" stroke-width="0.22"><tspan textLength="6.9" lengthAdjust="spacingAndGlyphs">10</tspan><tspan font-size="5.4" dy="-3.3" textLength="5.0" lengthAdjust="spacingAndGlyphs">16</tspan></text><line x1="256.5" y1="178" x2="258.5" y2="178" stroke="#333" stroke-width="0.7"/><text x="253.6" y="180.9" font-size="8.2" fill="#222" text-anchor="end" stroke="#222" stroke-width="0.22"><tspan textLength="6.9" lengthAdjust="spacingAndGlyphs">10</tspan><tspan font-size="5.4" dy="-3.3" textLength="5.0" lengthAdjust="spacingAndGlyphs">18</tspan></text><line x1="256.5" y1="304.4" x2="257.7" y2="304.4" stroke="#555" stroke-width="0.5"/><line x1="256.5" y1="291.76" x2="257.7" y2="291.76" stroke="#555" stroke-width="0.5"/><line x1="256.5" y1="279.12" x2="257.7" y2="279.12" stroke="#555" stroke-width="0.5"/><line x1="256.5" y1="266.48" x2="257.7" y2="266.48" stroke="#555" stroke-width="0.5"/><line x1="256.5" y1="253.84" x2="257.7" y2="253.84" stroke="#555" stroke-width="0.5"/><line x1="256.5" y1="241.2" x2="257.7" y2="241.2" stroke="#555" stroke-width="0.5"/><line x1="256.5" y1="228.56" x2="257.7" y2="228.56" stroke="#555" stroke-width="0.5"/><line x1="256.5" y1="215.92" x2="257.7" y2="215.92" stroke="#555" stroke-width="0.5"/><line x1="256.5" y1="203.28" x2="257.7" y2="203.28" stroke="#555" stroke-width="0.5"/><line x1="256.5" y1="190.64" x2="257.7" y2="190.64" stroke="#555" stroke-width="0.5"/><line x1="256.4" y1="304.3" x2="256.4" y2="302.3" stroke="#333" stroke-width="0.7"/><text x="258.2" y="315.6" font-size="8.2" fill="#222" text-anchor="middle" stroke="#222" stroke-width="0.22"><tspan textLength="6.9" lengthAdjust="spacingAndGlyphs">10</tspan><tspan font-size="5.4" dy="-3.3" textLength="5.0" lengthAdjust="spacingAndGlyphs">-6</tspan></text><line x1="296.3" y1="304.3" x2="296.3" y2="302.3" stroke="#333" stroke-width="0.7"/><text x="298.1" y="315.6" font-size="8.2" fill="#222" text-anchor="middle" stroke="#222" stroke-width="0.22"><tspan textLength="6.9" lengthAdjust="spacingAndGlyphs">10</tspan><tspan font-size="5.4" dy="-3.3" textLength="5.0" lengthAdjust="spacingAndGlyphs">-4</tspan></text><line x1="336.2" y1="304.3" x2="336.2" y2="302.3" stroke="#333" stroke-width="0.7"/><text x="338" y="315.6" font-size="8.2" fill="#222" text-anchor="middle" stroke="#222" stroke-width="0.22"><tspan textLength="6.9" lengthAdjust="spacingAndGlyphs">10</tspan><tspan font-size="5.4" dy="-3.3" textLength="5.0" lengthAdjust="spacingAndGlyphs">-2</tspan></text><line x1="376.1" y1="304.3" x2="376.1" y2="302.3" stroke="#333" stroke-width="0.7"/><text x="377.9" y="315.6" font-size="8.2" fill="#222" text-anchor="middle" stroke="#222" stroke-width="0.22"><tspan textLength="6.9" lengthAdjust="spacingAndGlyphs">10</tspan><tspan font-size="5.4" dy="-3.3" textLength="3.4" lengthAdjust="spacingAndGlyphs">0</tspan></text><line x1="416" y1="304.3" x2="416" y2="302.3" stroke="#333" stroke-width="0.7"/><text x="417.8" y="315.6" font-size="8.2" fill="#222" text-anchor="middle" stroke="#222" stroke-width="0.22"><tspan textLength="6.9" lengthAdjust="spacingAndGlyphs">10</tspan><tspan font-size="5.4" dy="-3.3" textLength="3.4" lengthAdjust="spacingAndGlyphs">2</tspan></text><line x1="262.41" y1="304.3" x2="262.41" y2="303.2" stroke="#666" stroke-width="0.4"/><line x1="265.92" y1="304.3" x2="265.92" y2="303.2" stroke="#666" stroke-width="0.4"/><line x1="268.41" y1="304.3" x2="268.41" y2="303.2" stroke="#666" stroke-width="0.4"/><line x1="270.34" y1="304.3" x2="270.34" y2="303.2" stroke="#666" stroke-width="0.4"/><line x1="271.92" y1="304.3" x2="271.92" y2="303.2" stroke="#666" stroke-width="0.4"/><line x1="273.26" y1="304.3" x2="273.26" y2="303.2" stroke="#666" stroke-width="0.4"/><line x1="274.42" y1="304.3" x2="274.42" y2="303.2" stroke="#666" stroke-width="0.4"/><line x1="275.44" y1="304.3" x2="275.44" y2="303.2" stroke="#666" stroke-width="0.4"/><line x1="282.36" y1="304.3" x2="282.36" y2="303.2" stroke="#666" stroke-width="0.4"/><line x1="285.87" y1="304.3" x2="285.87" y2="303.2" stroke="#666" stroke-width="0.4"/><line x1="288.36" y1="304.3" x2="288.36" y2="303.2" stroke="#666" stroke-width="0.4"/><line x1="290.29" y1="304.3" x2="290.29" y2="303.2" stroke="#666" stroke-width="0.4"/><line x1="291.87" y1="304.3" x2="291.87" y2="303.2" stroke="#666" stroke-width="0.4"/><line x1="293.21" y1="304.3" x2="293.21" y2="303.2" stroke="#666" stroke-width="0.4"/><line x1="294.37" y1="304.3" x2="294.37" y2="303.2" stroke="#666" stroke-width="0.4"/><line x1="295.39" y1="304.3" x2="295.39" y2="303.2" stroke="#666" stroke-width="0.4"/><line x1="302.31" y1="304.3" x2="302.31" y2="303.2" stroke="#666" stroke-width="0.4"/><line x1="305.82" y1="304.3" x2="305.82" y2="303.2" stroke="#666" stroke-width="0.4"/><line x1="308.31" y1="304.3" x2="308.31" y2="303.2" stroke="#666" stroke-width="0.4"/><line x1="310.24" y1="304.3" x2="310.24" y2="303.2" stroke="#666" stroke-width="0.4"/><line x1="311.82" y1="304.3" x2="311.82" y2="303.2" stroke="#666" stroke-width="0.4"/><line x1="313.16" y1="304.3" x2="313.16" y2="303.2" stroke="#666" stroke-width="0.4"/><line x1="314.32" y1="304.3" x2="314.32" y2="303.2" stroke="#666" stroke-width="0.4"/><line x1="315.34" y1="304.3" x2="315.34" y2="303.2" stroke="#666" stroke-width="0.4"/><line x1="322.26" y1="304.3" x2="322.26" y2="303.2" stroke="#666" stroke-width="0.4"/><line x1="325.77" y1="304.3" x2="325.77" y2="303.2" stroke="#666" stroke-width="0.4"/><line x1="328.26" y1="304.3" x2="328.26" y2="303.2" stroke="#666" stroke-width="0.4"/><line x1="330.19" y1="304.3" x2="330.19" y2="303.2" stroke="#666" stroke-width="0.4"/><line x1="331.77" y1="304.3" x2="331.77" y2="303.2" stroke="#666" stroke-width="0.4"/><line x1="333.11" y1="304.3" x2="333.11" y2="303.2" stroke="#666" stroke-width="0.4"/><line x1="334.27" y1="304.3" x2="334.27" y2="303.2" stroke="#666" stroke-width="0.4"/><line x1="335.29" y1="304.3" x2="335.29" y2="303.2" stroke="#666" stroke-width="0.4"/><line x1="342.21" y1="304.3" x2="342.21" y2="303.2" stroke="#666" stroke-width="0.4"/><line x1="345.72" y1="304.3" x2="345.72" y2="303.2" stroke="#666" stroke-width="0.4"/><line x1="348.21" y1="304.3" x2="348.21" y2="303.2" stroke="#666" stroke-width="0.4"/><line x1="350.14" y1="304.3" x2="350.14" y2="303.2" stroke="#666" stroke-width="0.4"/><line x1="351.72" y1="304.3" x2="351.72" y2="303.2" stroke="#666" stroke-width="0.4"/><line x1="353.06" y1="304.3" x2="353.06" y2="303.2" stroke="#666" stroke-width="0.4"/><line x1="354.22" y1="304.3" x2="354.22" y2="303.2" stroke="#666" stroke-width="0.4"/><line x1="355.24" y1="304.3" x2="355.24" y2="303.2" stroke="#666" stroke-width="0.4"/><line x1="362.16" y1="304.3" x2="362.16" y2="303.2" stroke="#666" stroke-width="0.4"/><line x1="365.67" y1="304.3" x2="365.67" y2="303.2" stroke="#666" stroke-width="0.4"/><line x1="368.16" y1="304.3" x2="368.16" y2="303.2" stroke="#666" stroke-width="0.4"/><line x1="370.09" y1="304.3" x2="370.09" y2="303.2" stroke="#666" stroke-width="0.4"/><line x1="371.67" y1="304.3" x2="371.67" y2="303.2" stroke="#666" stroke-width="0.4"/><line x1="373.01" y1="304.3" x2="373.01" y2="303.2" stroke="#666" stroke-width="0.4"/><line x1="374.17" y1="304.3" x2="374.17" y2="303.2" stroke="#666" stroke-width="0.4"/><line x1="375.19" y1="304.3" x2="375.19" y2="303.2" stroke="#666" stroke-width="0.4"/><line x1="382.11" y1="304.3" x2="382.11" y2="303.2" stroke="#666" stroke-width="0.4"/><line x1="385.62" y1="304.3" x2="385.62" y2="303.2" stroke="#666" stroke-width="0.4"/><line x1="388.11" y1="304.3" x2="388.11" y2="303.2" stroke="#666" stroke-width="0.4"/><line x1="390.04" y1="304.3" x2="390.04" y2="303.2" stroke="#666" stroke-width="0.4"/><line x1="391.62" y1="304.3" x2="391.62" y2="303.2" stroke="#666" stroke-width="0.4"/><line x1="392.96" y1="304.3" x2="392.96" y2="303.2" stroke="#666" stroke-width="0.4"/><line x1="394.12" y1="304.3" x2="394.12" y2="303.2" stroke="#666" stroke-width="0.4"/><line x1="395.14" y1="304.3" x2="395.14" y2="303.2" stroke="#666" stroke-width="0.4"/><line x1="402.06" y1="304.3" x2="402.06" y2="303.2" stroke="#666" stroke-width="0.4"/><line x1="405.57" y1="304.3" x2="405.57" y2="303.2" stroke="#666" stroke-width="0.4"/><line x1="408.06" y1="304.3" x2="408.06" y2="303.2" stroke="#666" stroke-width="0.4"/><line x1="409.99" y1="304.3" x2="409.99" y2="303.2" stroke="#666" stroke-width="0.4"/><line x1="411.57" y1="304.3" x2="411.57" y2="303.2" stroke="#666" stroke-width="0.4"/><line x1="412.91" y1="304.3" x2="412.91" y2="303.2" stroke="#666" stroke-width="0.4"/><line x1="414.07" y1="304.3" x2="414.07" y2="303.2" stroke="#666" stroke-width="0.4"/><line x1="415.09" y1="304.3" x2="415.09" y2="303.2" stroke="#666" stroke-width="0.4"/><line x1="422.01" y1="304.3" x2="422.01" y2="303.2" stroke="#666" stroke-width="0.4"/><line x1="425.52" y1="304.3" x2="425.52" y2="303.2" stroke="#666" stroke-width="0.4"/><line x1="428.01" y1="304.3" x2="428.01" y2="303.2" stroke="#666" stroke-width="0.4"/><line x1="429.94" y1="304.3" x2="429.94" y2="303.2" stroke="#666" stroke-width="0.4"/><line x1="431.52" y1="304.3" x2="431.52" y2="303.2" stroke="#666" stroke-width="0.4"/><line x1="432.86" y1="304.3" x2="432.86" y2="303.2" stroke="#666" stroke-width="0.4"/><line x1="434.02" y1="304.3" x2="434.02" y2="303.2" stroke="#666" stroke-width="0.4"/><line x1="435.04" y1="304.3" x2="435.04" y2="303.2" stroke="#666" stroke-width="0.4"/><text x="349.2" y="325.5" font-size="10.5" fill="#222" text-anchor="middle" textLength="53.7" lengthAdjust="spacingAndGlyphs" stroke="#222" stroke-width="0.22"><tspan font-style="italic">&#956;</tspan> (cm<tspan font-size="6.5" dy="-3.5">2</tspan><tspan dy="3.5"> V</tspan><tspan font-size="6.5" dy="-3.5">-1</tspan><tspan dy="3.5">s</tspan><tspan font-size="6.5" dy="-3.5">-1</tspan><tspan dy="3.5">)</tspan></text><text transform="rotate(-90 235.3 240.5)" x="235.3" y="240.5" font-size="10.5" fill="#222" text-anchor="middle" textLength="33.5" lengthAdjust="spacingAndGlyphs" stroke="#222" stroke-width="0.22"><tspan font-style="italic">N</tspan><tspan font-size="6.5" dy="1.8">t</tspan><tspan dy="-1.8"> (cm</tspan><tspan font-size="6.5" dy="-3.5">-3</tspan><tspan dy="3.5">)</tspan></text><text x="460.4" y="184.9" font-size="17.5" fill="#000" font-weight="bold">f</text><clipPath id="cpF1"><rect x="477.4" y="176.7" width="105.60000000000002" height="130.8"/></clipPath><g clip-path="url(#cpF1)"><rect x="477.4" y="176.7" width="105.6" height="130.8" fill="#f9f9fa"/><text x="477.5" y="180.0" font-size="12" font-style="italic" fill="#434866" stroke-width="0" textLength="105" lengthAdjust="spacingAndGlyphs" transform="rotate(4.2 477.5 180.0)" stroke="#434866" stroke-width="0.22">st for multidisciplinar</text><path d="M476,219.2 H493 V252" stroke="#d3dfee" stroke-width="2.8" fill="none"/><path d="M508,210 L504,236 L512,242 L545,244 L551,238 L553,214 L548,207 L514,205 Z" stroke="none" stroke-width="1" fill="#5a2a14"/><rect x="505.85" y="201" width="13.9" height="9.8" rx="1.2" fill="#a83c16" transform="rotate(5 512.8 205.9)"/><rect x="507.35" y="202.5" width="10.9" height="6.8" rx="1" fill="#c65a26" opacity="0.8" transform="rotate(5 512.8 205.9)"/><rect x="542.7" y="204.95" width="12.2" height="11.5" rx="1.2" fill="#a83c16" transform="rotate(5 548.8 210.7)"/><rect x="544.2" y="206.45" width="9.2" height="8.5" rx="1" fill="#c65a26" opacity="0.8" transform="rotate(5 548.8 210.7)"/><rect x="502.6" y="228" width="11.4" height="13" rx="1.2" fill="#a83c16" transform="rotate(5 508.3 234.5)"/><rect x="504.1" y="229.5" width="8.4" height="10" rx="1" fill="#c65a26" opacity="0.8" transform="rotate(5 508.3 234.5)"/><rect x="538.6" y="232.9" width="12.2" height="11.4" rx="1.2" fill="#a83c16" transform="rotate(5 544.7 238.6)"/><rect x="540.1" y="234.4" width="9.2" height="8.4" rx="1" fill="#c65a26" opacity="0.8" transform="rotate(5 544.7 238.6)"/><ellipse cx="529.8" cy="222.4" rx="19.8" ry="16.6" fill="#2c3133" transform="rotate(4 529.8 222.4)"/><ellipse cx="529.4" cy="220.2" rx="19.5" ry="15.8" fill="url(#gfDisc)" transform="rotate(4 529.4 220.2)"/><path d="M518.1,210.8 L542.7,213.2 L541.0,230.4 L515.7,228.0 Z" stroke="none" stroke-width="1" fill="url(#gfGold)"/><path d="M476.4,250.5 L584.0,261.9 L584.0,308.5 L476.4,308.5 Z" stroke="none" stroke-width="1" fill="url(#gfRuler)"/><path d="M474.88,250.27 L474.12,258.77 M478.32,250.64 L477.56,259.14 M481.76,251.01 L481,259.51 M485.2,251.39 L484.07,263.89 M488.64,251.76 L487.88,260.26 M492.08,252.13 L491.31,260.63 M495.52,252.5 L494.75,261 M498.96,252.87 L498.19,261.37 M502.4,253.24 L499.97,280.24 M505.84,253.61 L505.07,262.11 M509.28,253.98 L508.51,262.48 M512.72,254.36 L511.96,262.86 M516.16,254.73 L515.39,263.23 M519.6,255.1 L518.48,267.6 M523.04,255.47 L522.27,263.97 M526.48,255.84 L525.72,264.34 M529.92,256.21 L529.15,264.71 M533.36,256.58 L532.6,265.08 M536.8,256.96 L534.37,283.96 M540.24,257.33 L539.48,265.83 M543.68,257.7 L542.91,266.2 M547.12,258.07 L546.36,266.57 M550.56,258.44 L549.79,266.94 M554,258.81 L552.88,271.31 M557.44,259.18 L556.67,267.68 M560.88,259.56 L560.12,268.06 M564.32,259.93 L563.55,268.43 M567.76,260.3 L567,268.8 M571.2,260.67 L568.77,287.67 M574.64,261.04 L573.88,269.54 M578.08,261.41 L577.31,269.91 M581.52,261.78 L580.75,270.28" stroke="#1a1a1a" stroke-width="0.75" fill="none"/><g font-size="14" fill="#111" stroke="#111" stroke-width="0.3"><text x="487.3" y="299.0" textLength="23.9" lengthAdjust="spacingAndGlyphs">100</text><text x="523.7" y="302.5" textLength="20.9" lengthAdjust="spacingAndGlyphs">110</text><text x="557.4" y="306.4" textLength="24.0" lengthAdjust="spacingAndGlyphs">120</text></g></g><g filter="url(#fTex2)"><g filter="url(#fTex)"><rect x="587.0" y="177.4" width="88.2" height="129.3" fill="#7a8c28"/></g></g><path d="M605,178 L622,225 M620,246 L640,306 M655,178 L675,230 M590,300 L612,262" stroke="#c8cc40" stroke-width="0.8" fill="none" opacity="0.6"/><g filter="url(#fTex3)"><rect x="587.0" y="224.8" width="88.2" height="18.6" fill="#26352b"/></g><text x="624.4" y="210.4" font-size="10" fill="#000" textLength="11.6" lengthAdjust="spacingAndGlyphs" stroke="#000" stroke-width="0.35">Au</text><text x="624" y="271.4" font-size="10" fill="#000" textLength="11.6" lengthAdjust="spacingAndGlyphs" stroke="#000" stroke-width="0.35">Au</text><text x="611.4" y="237.8" font-size="9.6" fill="#fff" textLength="51" lengthAdjust="spacingAndGlyphs" stroke="#fff" stroke-width="0.22">FAST-MAPbI<tspan font-size="6.4" dy="2.2">3</tspan></text><text x="643.4" y="294.5" font-size="8.8" fill="#fff" textLength="25.3" lengthAdjust="spacingAndGlyphs" stroke="#fff" stroke-width="0.22">50 &#956;m</text><rect x="642.8" y="298.4" width="26.4" height="2.2" fill="#fff"/><text x="2.4" y="349.4" font-size="17" font-weight="bold" font-family="Liberation Serif, serif" fill="#000">g</text><path d="M33.6,364.9 L33.85,364.93 L34.1,364.96 L34.35,364.99 L34.6,365.02 L34.85,365.05 L35.1,365.08 L35.35,365.11 L35.6,365.14 L35.85,365.17 L36.1,365.2 L36.35,365.23 L36.6,365.25 L36.85,365.28 L37.1,365.31 L37.35,365.34 L37.6,365.37 L37.85,365.4 L38.1,365.43 L38.35,365.46 L38.6,365.48 L38.85,365.51 L39.1,365.54 L39.35,365.57 L39.6,365.6 L39.85,365.63 L40.1,365.66 L40.35,365.68 L40.6,365.71 L40.85,365.74 L41.1,365.77 L41.35,365.8 L41.6,365.83 L41.85,365.85 L42.1,365.88 L42.35,365.91 L42.6,365.94 L42.85,365.97 L43.1,366 L43.35,366.02 L43.6,366.05 L43.85,366.08 L44.1,366.11 L44.35,366.14 L44.6,366.17 L44.85,366.2 L45.1,366.23 L45.35,366.25 L45.6,366.28 L45.85,366.31 L46.1,366.34 L46.35,366.37 L46.6,366.4 L46.85,366.43 L47.1,366.46 L47.35,366.49 L47.6,366.52 L47.85,366.55 L48.1,366.58 L48.35,366.61 L48.6,366.64 L48.85,366.67 L49.1,366.7 L49.35,366.73 L49.6,366.76 L49.85,366.79 L50.1,366.82 L50.35,366.85 L50.6,366.88 L50.85,366.92 L51.1,366.95 L51.35,366.98 L51.6,367.01 L51.85,367.04 L52.1,367.07 L52.35,367.11 L52.6,367.14 L52.85,367.17 L53.1,367.2 L53.35,367.24 L53.6,367.27 L53.85,367.3 L54.1,367.34 L54.35,367.37 L54.6,367.41 L54.85,367.44 L55.1,367.47 L55.35,367.51 L55.6,367.54 L55.85,367.58 L56.1,367.61 L56.35,367.65 L56.6,367.69 L56.85,367.72 L57.1,367.76 L57.35,367.79 L57.6,367.83 L57.85,367.87 L58.1,367.91 L58.35,367.94 L58.6,367.98 L58.85,368.02 L59.1,368.06 L59.35,368.1 L59.6,368.13 L59.85,368.17 L60.1,368.21 L60.35,368.25 L60.6,368.29 L60.85,368.33 L61.1,368.37 L61.35,368.41 L61.6,368.45 L61.85,368.49 L62.1,368.53 L62.35,368.57 L62.6,368.61 L62.85,368.66 L63.1,368.7 L63.35,368.74 L63.6,368.78 L63.85,368.82 L64.1,368.86 L64.35,368.91 L64.6,368.95 L64.85,368.99 L65.1,369.03 L65.35,369.08 L65.6,369.12 L65.85,369.16 L66.1,369.21 L66.35,369.25 L66.6,369.29 L66.85,369.34 L67.1,369.38 L67.35,369.42 L67.6,369.47 L67.85,369.51 L68.1,369.56 L68.35,369.6 L68.6,369.65 L68.85,369.69 L69.1,369.73 L69.35,369.78 L69.6,369.82 L69.85,369.87 L70.1,369.91 L70.35,369.96 L70.6,370 L70.85,370.05 L71.1,370.09 L71.35,370.14 L71.6,370.19 L71.85,370.23 L72.1,370.28 L72.35,370.32 L72.6,370.37 L72.85,370.41 L73.1,370.46 L73.35,370.51 L73.6,370.55 L73.85,370.6 L74.1,370.64 L74.35,370.69 L74.6,370.74 L74.85,370.78 L75.1,370.83 L75.35,370.87 L75.6,370.92 L75.85,370.97 L76.1,371.01 L76.35,371.06 L76.6,371.1 L76.85,371.15 L77.1,371.2 L77.35,371.24 L77.6,371.29 L77.85,371.34 L78.1,371.38 L78.35,371.43 L78.6,371.47 L78.85,371.52 L79.1,371.56 L79.35,371.61 L79.6,371.65 L79.85,371.7 L80.1,371.74 L80.35,371.78 L80.6,371.83 L80.85,371.87 L81.1,371.91 L81.35,371.96 L81.6,372 L81.85,372.04 L82.1,372.08 L82.35,372.13 L82.6,372.17 L82.85,372.21 L83.1,372.26 L83.35,372.3 L83.6,372.34 L83.85,372.38 L84.1,372.43 L84.35,372.47 L84.6,372.51 L84.85,372.56 L85.1,372.6 L85.35,372.64 L85.6,372.69 L85.85,372.73 L86.1,372.78 L86.35,372.82 L86.6,372.87 L86.85,372.92 L87.1,372.96 L87.35,373.01 L87.6,373.06 L87.85,373.11 L88.1,373.15 L88.35,373.2 L88.6,373.25 L88.85,373.3 L89.1,373.35 L89.35,373.41 L89.6,373.46 L89.85,373.51 L90.1,373.56 L90.35,373.62 L90.6,373.67 L90.85,373.73 L91.1,373.79 L91.35,373.85 L91.6,373.9 L91.85,373.96 L92.1,374.02 L92.35,374.09 L92.6,374.15 L92.85,374.21 L93.1,374.28 L93.35,374.34 L93.6,374.41 L93.85,374.48 L94.1,374.54 L94.35,374.61 L94.6,374.69 L94.85,374.76 L95.1,374.84 L95.35,374.92 L95.6,375 L95.85,375.08 L96.1,375.17 L96.35,375.26 L96.6,375.35 L96.85,375.45 L97.1,375.54 L97.35,375.64 L97.6,375.74 L97.85,375.84 L98.1,375.94 L98.35,376.05 L98.6,376.16 L98.85,376.27 L99.1,376.38 L99.35,376.49 L99.6,376.61 L99.85,376.72 L100.1,376.84 L100.35,376.96 L100.6,377.08 L100.85,377.2 L101.1,377.32 L101.35,377.45 L101.6,377.57 L101.85,377.7 L102.1,377.83 L102.35,377.96 L102.6,378.09 L102.85,378.22 L103.1,378.35 L103.35,378.49 L103.6,378.63 L103.85,378.77 L104.1,378.91 L104.35,379.06 L104.6,379.2 L104.85,379.36 L105.1,379.51 L105.35,379.67 L105.6,379.83 L105.85,379.99 L106.1,380.16 L106.35,380.32 L106.6,380.49 L106.85,380.67 L107.1,380.84 L107.35,381.02 L107.6,381.2 L107.85,381.39 L108.1,381.57 L108.35,381.76 L108.6,381.95 L108.85,382.14 L109.1,382.34 L109.35,382.54 L109.6,382.74 L109.85,382.94 L110.1,383.15 L110.35,383.36 L110.6,383.57 L110.85,383.78 L111.1,383.99 L111.35,384.21 L111.6,384.43 L111.85,384.65 L112.1,384.88 L112.35,385.12 L112.6,385.36 L112.85,385.62 L113.1,385.88 L113.35,386.16 L113.6,386.45 L113.85,386.75 L114.1,387.06 L114.35,387.39 L114.6,387.74 L114.85,388.11 L115.1,388.49 L115.35,388.91 L115.6,389.36 L115.85,389.86 L116.1,390.39 L116.35,390.99 L116.6,391.63 L116.85,392.35 L117.1,393.19 L117.35,394.18 L117.6,395.36 L117.85,396.72 L118.1,398.3 L118.35,400.17 L118.6,402.7 L118.85,406.17 L119.1,413.71 L119.35,418.28 L119.6,409.71 L119.85,404.84 L120.1,402.02 L120.35,399.97 L120.6,398.42 L120.85,397.08 L121.1,395.92 L121.35,394.91 L121.6,394.06 L121.85,393.36 L122.1,392.78 L122.35,392.26 L122.6,391.77 L122.85,391.31 L123.1,390.88 L123.35,390.48 L123.6,390.1 L123.85,389.74 L124.1,389.4 L124.35,389.08 L124.6,388.78 L124.85,388.49 L125.1,388.21 L125.35,387.95 L125.6,387.69 L125.85,387.44 L126.1,387.19 L126.35,386.94 L126.6,386.7 L126.85,386.45 L127.1,386.2 L127.35,385.95 L127.6,385.71 L127.85,385.47 L128.1,385.23 L128.35,384.99 L128.6,384.75 L128.85,384.52 L129.1,384.29 L129.35,384.07 L129.6,383.84 L129.85,383.62 L130.1,383.4 L130.35,383.18 L130.6,382.97 L130.85,382.76 L131.1,382.55 L131.35,382.35 L131.6,382.15 L131.85,381.95 L132.1,381.75 L132.35,381.56 L132.6,381.37 L132.85,381.18 L133.1,380.99 L133.35,380.81 L133.6,380.64 L133.85,380.46 L134.1,380.29 L134.35,380.12 L134.6,379.96 L134.85,379.79 L135.1,379.63 L135.35,379.48 L135.6,379.33 L135.85,379.18 L136.1,379.03 L136.35,378.89 L136.6,378.75 L136.85,378.62 L137.1,378.49 L137.35,378.36 L137.6,378.24 L137.85,378.12 L138.1,378 L138.35,377.89 L138.6,377.77 L138.85,377.66 L139.1,377.55 L139.35,377.44 L139.6,377.33 L139.85,377.22 L140.1,377.11 L140.35,377 L140.6,376.89 L140.85,376.79 L141.1,376.68 L141.35,376.58 L141.6,376.47 L141.85,376.37 L142.1,376.27 L142.35,376.16 L142.6,376.06 L142.85,375.96 L143.1,375.86 L143.35,375.76 L143.6,375.67 L143.85,375.57 L144.1,375.47 L144.35,375.38 L144.6,375.28 L144.85,375.19 L145.1,375.09 L145.35,375 L145.6,374.91 L145.85,374.82 L146.1,374.73 L146.35,374.64 L146.6,374.55 L146.85,374.46 L147.1,374.37 L147.35,374.29 L147.6,374.2 L147.85,374.11 L148.1,374.03 L148.35,373.94 L148.6,373.86 L148.85,373.78 L149.1,373.69 L149.35,373.61 L149.6,373.53 L149.85,373.45 L150.1,373.37 L150.35,373.29 L150.6,373.22 L150.85,373.14 L151.1,373.06 L151.35,372.98 L151.6,372.91 L151.85,372.83 L152.1,372.76 L152.35,372.69 L152.6,372.61 L152.85,372.54 L153.1,372.47 L153.35,372.4 L153.6,372.33 L153.85,372.26 L154.1,372.19 L154.35,372.12 L154.6,372.05 L154.85,371.98 L155.1,371.92 L155.35,371.85 L155.6,371.78 L155.85,371.72 L156.1,371.65 L156.35,371.59 L156.6,371.53 L156.85,371.46 L157.1,371.4 L157.35,371.34 L157.6,371.28 L157.85,371.22 L158.1,371.16 L158.35,371.1 L158.6,371.04 L158.85,370.98 L159.1,370.92 L159.35,370.87 L159.6,370.81 L159.85,370.75 L160.1,370.7 L160.35,370.64 L160.6,370.59 L160.85,370.53 L161.1,370.48 L161.35,370.43 L161.6,370.38 L161.85,370.32 L162.1,370.27 L162.35,370.22 L162.6,370.17 L162.85,370.12 L163.1,370.07 L163.35,370.02 L163.6,369.97 L163.85,369.93 L164.1,369.88 L164.35,369.83 L164.6,369.79 L164.85,369.74 L165.1,369.69 L165.35,369.65 L165.6,369.61 L165.85,369.56 L166.1,369.52 L166.35,369.47 L166.6,369.43 L166.85,369.39 L167.1,369.35 L167.35,369.3 L167.6,369.26 L167.85,369.22 L168.1,369.18 L168.35,369.14 L168.6,369.1 L168.85,369.06 L169.1,369.02 L169.35,368.98 L169.6,368.94 L169.85,368.9 L170.1,368.86 L170.35,368.82 L170.6,368.78 L170.85,368.74 L171.1,368.71 L171.35,368.67 L171.6,368.63 L171.85,368.59 L172.1,368.56 L172.35,368.52 L172.6,368.48 L172.85,368.45 L173.1,368.41 L173.35,368.37 L173.6,368.34 L173.85,368.3 L174.1,368.27 L174.35,368.23 L174.6,368.2 L174.85,368.16 L175.1,368.13 L175.35,368.1 L175.6,368.06 L175.85,368.03 L176.1,368 L176.35,367.96 L176.6,367.93 L176.85,367.9 L177.1,367.87 L177.35,367.83 L177.6,367.8 L177.85,367.77 L178.1,367.74 L178.35,367.71 L178.6,367.68 L178.85,367.65 L179.1,367.62 L179.35,367.58 L179.6,367.55 L179.85,367.52 L180.1,367.5 L180.35,367.47 L180.6,367.44 L180.85,367.41 L181.1,367.38 L181.35,367.35 L181.6,367.32 L181.85,367.29 L182.1,367.26 L182.35,367.24 L182.6,367.21 L182.85,367.18 L183.1,367.15 L183.35,367.13 L183.6,367.1 L183.85,367.07 L184.1,367.05 L184.35,367.02 L184.6,366.99 L184.85,366.97 L185.1,366.94 L185.35,366.92 L185.6,366.89 L185.85,366.86 L186.1,366.84 L186.35,366.81 L186.6,366.79 L186.85,366.77 L187.1,366.74 L187.35,366.72 L187.6,366.69 L187.85,366.67 L188.1,366.64 L188.35,366.62 L188.6,366.6 L188.85,366.57 L189.1,366.55 L189.35,366.53 L189.6,366.5 L189.85,366.48 L190.1,366.46 L190.35,366.44 L190.6,366.41 L190.85,366.39 L191.1,366.37 L191.35,366.35 L191.6,366.33 L191.85,366.3 L192.1,366.28 L192.35,366.26 L192.6,366.24 L192.85,366.22 L193.1,366.2 L193.35,366.18 L193.6,366.16 L193.85,366.14 L194.1,366.12 L194.35,366.1 L194.6,366.08 L194.85,366.06 L195.1,366.04 L195.35,366.02 L195.6,366 L195.85,365.98 L196.1,365.96 L196.35,365.94 L196.6,365.92 L196.85,365.9 L197.1,365.89 L197.35,365.87 L197.6,365.85 L197.85,365.83 L198.1,365.81 L198.35,365.8 L198.6,365.78 L198.85,365.76 L199.1,365.75 L199.35,365.73 L199.6,365.71 L199.85,365.7 L200.1,365.68 L200.35,365.66 L200.6,365.65 L200.85,365.63 L201.1,365.62 L201.35,365.6 L201.6,365.58 L201.85,365.57 L202.1,365.55 L202.35,365.54 L202.6,365.52 L202.85,365.51 L203.1,365.49 L203.35,365.48 L203.6,365.46 L203.85,365.45 L204.1,365.43 L204.35,365.42 L204.6,365.4 L204.85,365.39 L205.1,365.37 L205.35,365.36 L205.6,365.35 L205.85,365.33 L206.1,365.32 L206.35,365.3 L206.6,365.29 L206.85,365.28 L207.1,365.26 L207.35,365.25 L207.6,365.23 L207.85,365.22 L208.1,365.21 L208.35,365.19 L208.6,365.18 L208.85,365.16 L209.1,365.15 L209.35,365.14 L209.6,365.12 L209.85,365.11 L210.1,365.09 L210.35,365.08 L210.6,365.07 L210.85,365.05 L211.1,365.04 L211.35,365.02 L211.6,365.01 L211.85,365 L212.1,364.98 L212.35,364.97 L212.6,364.95 L212.85,364.94 L213.1,364.93 L213.35,364.91 L213.6,364.9 L213.85,364.88 L214.1,364.87 L214.35,364.85 L214.6,364.84 L214.85,364.82 L215.1,364.81 L215.35,364.79 L215.6,364.78 L215.85,364.76 L216.1,364.75 L216.35,364.73 L216.6,364.72 L216.85,364.7 L216.9,473.3 L33.6,473.3 Z" stroke="none" stroke-width="1" fill="#f6f9fe"/><path d="M33.6,385.3 L33.85,385.34 L34.1,385.38 L34.35,385.42 L34.6,385.46 L34.85,385.49 L35.1,385.53 L35.35,385.57 L35.6,385.61 L35.85,385.65 L36.1,385.68 L36.35,385.72 L36.6,385.76 L36.85,385.8 L37.1,385.83 L37.35,385.87 L37.6,385.91 L37.85,385.95 L38.1,385.98 L38.35,386.02 L38.6,386.06 L38.85,386.09 L39.1,386.13 L39.35,386.17 L39.6,386.2 L39.85,386.24 L40.1,386.27 L40.35,386.31 L40.6,386.35 L40.85,386.38 L41.1,386.42 L41.35,386.45 L41.6,386.49 L41.85,386.53 L42.1,386.56 L42.35,386.6 L42.6,386.63 L42.85,386.67 L43.1,386.71 L43.35,386.74 L43.6,386.78 L43.85,386.81 L44.1,386.85 L44.35,386.89 L44.6,386.92 L44.85,386.96 L45.1,386.99 L45.35,387.03 L45.6,387.07 L45.85,387.1 L46.1,387.14 L46.35,387.17 L46.6,387.21 L46.85,387.25 L47.1,387.28 L47.35,387.32 L47.6,387.36 L47.85,387.39 L48.1,387.43 L48.35,387.47 L48.6,387.5 L48.85,387.54 L49.1,387.58 L49.35,387.61 L49.6,387.65 L49.85,387.69 L50.1,387.73 L50.35,387.76 L50.6,387.8 L50.85,387.84 L51.1,387.88 L51.35,387.92 L51.6,387.96 L51.85,387.99 L52.1,388.03 L52.35,388.07 L52.6,388.11 L52.85,388.15 L53.1,388.19 L53.35,388.23 L53.6,388.27 L53.85,388.31 L54.1,388.35 L54.35,388.39 L54.6,388.43 L54.85,388.47 L55.1,388.51 L55.35,388.56 L55.6,388.6 L55.85,388.64 L56.1,388.68 L56.35,388.72 L56.6,388.77 L56.85,388.81 L57.1,388.85 L57.35,388.9 L57.6,388.94 L57.85,388.98 L58.1,389.03 L58.35,389.07 L58.6,389.12 L58.85,389.16 L59.1,389.21 L59.35,389.25 L59.6,389.3 L59.85,389.35 L60.1,389.39 L60.35,389.44 L60.6,389.49 L60.85,389.54 L61.1,389.58 L61.35,389.63 L61.6,389.68 L61.85,389.73 L62.1,389.78 L62.35,389.83 L62.6,389.88 L62.85,389.93 L63.1,389.98 L63.35,390.04 L63.6,390.09 L63.85,390.14 L64.1,390.2 L64.35,390.25 L64.6,390.3 L64.85,390.36 L65.1,390.42 L65.35,390.47 L65.6,390.53 L65.85,390.59 L66.1,390.64 L66.35,390.7 L66.6,390.76 L66.85,390.82 L67.1,390.88 L67.35,390.94 L67.6,391 L67.85,391.06 L68.1,391.13 L68.35,391.19 L68.6,391.25 L68.85,391.31 L69.1,391.38 L69.35,391.44 L69.6,391.5 L69.85,391.57 L70.1,391.63 L70.35,391.7 L70.6,391.76 L70.85,391.83 L71.1,391.9 L71.35,391.96 L71.6,392.03 L71.85,392.1 L72.1,392.16 L72.35,392.23 L72.6,392.3 L72.85,392.37 L73.1,392.44 L73.35,392.51 L73.6,392.58 L73.85,392.65 L74.1,392.72 L74.35,392.79 L74.6,392.86 L74.85,392.93 L75.1,393 L75.35,393.07 L75.6,393.14 L75.85,393.21 L76.1,393.29 L76.35,393.36 L76.6,393.43 L76.85,393.5 L77.1,393.58 L77.35,393.65 L77.6,393.72 L77.85,393.8 L78.1,393.87 L78.35,393.94 L78.6,394.02 L78.85,394.09 L79.1,394.17 L79.35,394.24 L79.6,394.31 L79.85,394.39 L80.1,394.46 L80.35,394.54 L80.6,394.61 L80.85,394.69 L81.1,394.76 L81.35,394.84 L81.6,394.92 L81.85,394.99 L82.1,395.07 L82.35,395.15 L82.6,395.22 L82.85,395.3 L83.1,395.38 L83.35,395.46 L83.6,395.54 L83.85,395.61 L84.1,395.69 L84.35,395.77 L84.6,395.85 L84.85,395.94 L85.1,396.02 L85.35,396.1 L85.6,396.18 L85.85,396.26 L86.1,396.35 L86.35,396.43 L86.6,396.52 L86.85,396.6 L87.1,396.69 L87.35,396.77 L87.6,396.86 L87.85,396.95 L88.1,397.04 L88.35,397.13 L88.6,397.22 L88.85,397.31 L89.1,397.4 L89.35,397.49 L89.6,397.58 L89.85,397.68 L90.1,397.77 L90.35,397.87 L90.6,397.97 L90.85,398.06 L91.1,398.16 L91.35,398.26 L91.6,398.36 L91.85,398.46 L92.1,398.56 L92.35,398.66 L92.6,398.77 L92.85,398.87 L93.1,398.98 L93.35,399.09 L93.6,399.19 L93.85,399.3 L94.1,399.41 L94.35,399.52 L94.6,399.63 L94.85,399.75 L95.1,399.86 L95.35,399.98 L95.6,400.09 L95.85,400.21 L96.1,400.33 L96.35,400.45 L96.6,400.58 L96.85,400.7 L97.1,400.83 L97.35,400.95 L97.6,401.08 L97.85,401.21 L98.1,401.34 L98.35,401.48 L98.6,401.61 L98.85,401.75 L99.1,401.89 L99.35,402.03 L99.6,402.17 L99.85,402.32 L100.1,402.46 L100.35,402.61 L100.6,402.76 L100.85,402.92 L101.1,403.07 L101.35,403.23 L101.6,403.39 L101.85,403.55 L102.1,403.72 L102.35,403.88 L102.6,404.05 L102.85,404.22 L103.1,404.4 L103.35,404.57 L103.6,404.75 L103.85,404.93 L104.1,405.12 L104.35,405.3 L104.6,405.49 L104.85,405.68 L105.1,405.88 L105.35,406.08 L105.6,406.28 L105.85,406.49 L106.1,406.71 L106.35,406.93 L106.6,407.16 L106.85,407.4 L107.1,407.64 L107.35,407.88 L107.6,408.14 L107.85,408.4 L108.1,408.67 L108.35,408.94 L108.6,409.23 L108.85,409.52 L109.1,409.82 L109.35,410.12 L109.6,410.44 L109.85,410.76 L110.1,411.09 L110.35,411.43 L110.6,411.79 L110.85,412.16 L111.1,412.57 L111.35,412.99 L111.6,413.43 L111.85,413.9 L112.1,414.38 L112.35,414.87 L112.6,415.38 L112.85,415.89 L113.1,416.42 L113.35,416.96 L113.6,417.5 L113.85,418.05 L114.1,418.63 L114.35,419.22 L114.6,419.83 L114.85,420.46 L115.1,421.11 L115.35,421.77 L115.6,422.45 L115.85,423.14 L116.1,423.84 L116.35,424.56 L116.6,425.29 L116.85,426.03 L117.1,426.79 L117.35,427.56 L117.6,428.37 L117.85,429.21 L118.1,430.09 L118.35,431.02 L118.6,432 L118.85,433.04 L119.1,434.15 L119.35,435.35 L119.6,436.65 L119.85,438.08 L120.1,439.77 L120.35,442.35 L120.6,444.37 L120.85,443.9 L121.1,440.75 L121.35,437.45 L121.6,435.51 L121.85,433.83 L122.1,432.36 L122.35,431.09 L122.6,430 L122.85,429.04 L123.1,428.15 L123.35,427.33 L123.6,426.58 L123.85,425.91 L124.1,425.31 L124.35,424.78 L124.6,424.33 L124.85,423.92 L125.1,423.55 L125.35,423.22 L125.6,422.91 L125.85,422.62 L126.1,422.34 L126.35,422.08 L126.6,421.82 L126.85,421.55 L127.1,421.29 L127.35,421.02 L127.6,420.75 L127.85,420.48 L128.1,420.21 L128.35,419.95 L128.6,419.68 L128.85,419.41 L129.1,419.15 L129.35,418.89 L129.6,418.62 L129.85,418.36 L130.1,418.1 L130.35,417.84 L130.6,417.59 L130.85,417.33 L131.1,417.08 L131.35,416.83 L131.6,416.59 L131.85,416.35 L132.1,416.11 L132.35,415.87 L132.6,415.63 L132.85,415.4 L133.1,415.18 L133.35,414.96 L133.6,414.74 L133.85,414.52 L134.1,414.31 L134.35,414.11 L134.6,413.91 L134.85,413.71 L135.1,413.52 L135.35,413.34 L135.6,413.16 L135.85,412.98 L136.1,412.82 L136.35,412.65 L136.6,412.5 L136.85,412.35 L137.1,412.2 L137.35,412.07 L137.6,411.94 L137.85,411.82 L138.1,411.7 L138.35,411.59 L138.6,411.48 L138.85,411.37 L139.1,411.26 L139.35,411.16 L139.6,411.05 L139.85,410.95 L140.1,410.85 L140.35,410.75 L140.6,410.65 L140.85,410.55 L141.1,410.45 L141.35,410.35 L141.6,410.26 L141.85,410.17 L142.1,410.07 L142.35,409.98 L142.6,409.89 L142.85,409.8 L143.1,409.71 L143.35,409.62 L143.6,409.54 L143.85,409.45 L144.1,409.37 L144.35,409.28 L144.6,409.2 L144.85,409.12 L145.1,409.04 L145.35,408.96 L145.6,408.88 L145.85,408.8 L146.1,408.73 L146.35,408.65 L146.6,408.58 L146.85,408.5 L147.1,408.43 L147.35,408.35 L147.6,408.28 L147.85,408.21 L148.1,408.14 L148.35,408.07 L148.6,408 L148.85,407.93 L149.1,407.87 L149.35,407.8 L149.6,407.73 L149.85,407.67 L150.1,407.6 L150.35,407.54 L150.6,407.47 L150.85,407.41 L151.1,407.35 L151.35,407.29 L151.6,407.23 L151.85,407.17 L152.1,407.1 L152.35,407.05 L152.6,406.99 L152.85,406.93 L153.1,406.87 L153.35,406.81 L153.6,406.75 L153.85,406.7 L154.1,406.64 L154.35,406.58 L154.6,406.53 L154.85,406.47 L155.1,406.42 L155.35,406.36 L155.6,406.31 L155.85,406.25 L156.1,406.2 L156.35,406.15 L156.6,406.09 L156.85,406.04 L157.1,405.99 L157.35,405.94 L157.6,405.88 L157.85,405.83 L158.1,405.78 L158.35,405.73 L158.6,405.68 L158.85,405.62 L159.1,405.57 L159.35,405.52 L159.6,405.47 L159.85,405.42 L160.1,405.37 L160.35,405.32 L160.6,405.27 L160.85,405.21 L161.1,405.16 L161.35,405.11 L161.6,405.06 L161.85,405.01 L162.1,404.96 L162.35,404.91 L162.6,404.86 L162.85,404.81 L163.1,404.75 L163.35,404.7 L163.6,404.65 L163.85,404.6 L164.1,404.55 L164.35,404.49 L164.6,404.44 L164.85,404.39 L165.1,404.34 L165.35,404.28 L165.6,404.23 L165.85,404.18 L166.1,404.12 L166.35,404.07 L166.6,404.01 L166.85,403.96 L167.1,403.91 L167.35,403.85 L167.6,403.8 L167.85,403.75 L168.1,403.69 L168.35,403.64 L168.6,403.59 L168.85,403.54 L169.1,403.48 L169.35,403.43 L169.6,403.38 L169.85,403.33 L170.1,403.28 L170.35,403.23 L170.6,403.18 L170.85,403.13 L171.1,403.08 L171.35,403.03 L171.6,402.98 L171.85,402.93 L172.1,402.88 L172.35,402.83 L172.6,402.78 L172.85,402.73 L173.1,402.68 L173.35,402.63 L173.6,402.58 L173.85,402.54 L174.1,402.49 L174.35,402.44 L174.6,402.39 L174.85,402.34 L175.1,402.3 L175.35,402.25 L175.6,402.2 L175.85,402.16 L176.1,402.11 L176.35,402.06 L176.6,402.02 L176.85,401.97 L177.1,401.92 L177.35,401.88 L177.6,401.83 L177.85,401.79 L178.1,401.74 L178.35,401.69 L178.6,401.65 L178.85,401.6 L179.1,401.56 L179.35,401.51 L179.6,401.47 L179.85,401.42 L180.1,401.38 L180.35,401.34 L180.6,401.29 L180.85,401.25 L181.1,401.2 L181.35,401.16 L181.6,401.12 L181.85,401.07 L182.1,401.03 L182.35,400.98 L182.6,400.94 L182.85,400.9 L183.1,400.85 L183.35,400.81 L183.6,400.77 L183.85,400.73 L184.1,400.68 L184.35,400.64 L184.6,400.6 L184.85,400.56 L185.1,400.51 L185.35,400.47 L185.6,400.43 L185.85,400.39 L186.1,400.34 L186.35,400.3 L186.6,400.26 L186.85,400.22 L187.1,400.18 L187.35,400.14 L187.6,400.09 L187.85,400.05 L188.1,400.01 L188.35,399.97 L188.6,399.93 L188.85,399.89 L189.1,399.85 L189.35,399.8 L189.6,399.76 L189.85,399.72 L190.1,399.68 L190.35,399.64 L190.6,399.6 L190.85,399.56 L191.1,399.52 L191.35,399.48 L191.6,399.44 L191.85,399.4 L192.1,399.36 L192.35,399.32 L192.6,399.27 L192.85,399.23 L193.1,399.19 L193.35,399.15 L193.6,399.11 L193.85,399.07 L194.1,399.03 L194.35,398.99 L194.6,398.95 L194.85,398.91 L195.1,398.87 L195.35,398.83 L195.6,398.79 L195.85,398.75 L196.1,398.71 L196.35,398.67 L196.6,398.64 L196.85,398.6 L197.1,398.56 L197.35,398.52 L197.6,398.48 L197.85,398.44 L198.1,398.41 L198.35,398.37 L198.6,398.33 L198.85,398.29 L199.1,398.25 L199.35,398.22 L199.6,398.18 L199.85,398.14 L200.1,398.1 L200.35,398.07 L200.6,398.03 L200.85,397.99 L201.1,397.96 L201.35,397.92 L201.6,397.88 L201.85,397.85 L202.1,397.81 L202.35,397.77 L202.6,397.74 L202.85,397.7 L203.1,397.67 L203.35,397.63 L203.6,397.59 L203.85,397.56 L204.1,397.52 L204.35,397.49 L204.6,397.45 L204.85,397.41 L205.1,397.38 L205.35,397.34 L205.6,397.31 L205.85,397.27 L206.1,397.24 L206.35,397.2 L206.6,397.17 L206.85,397.13 L207.1,397.09 L207.35,397.06 L207.6,397.02 L207.85,396.99 L208.1,396.95 L208.35,396.92 L208.6,396.88 L208.85,396.85 L209.1,396.81 L209.35,396.78 L209.6,396.74 L209.85,396.71 L210.1,396.67 L210.35,396.64 L210.6,396.6 L210.85,396.57 L211.1,396.53 L211.35,396.49 L211.6,396.46 L211.85,396.42 L212.1,396.39 L212.35,396.35 L212.6,396.32 L212.85,396.28 L213.1,396.25 L213.35,396.21 L213.6,396.18 L213.85,396.14 L214.1,396.1 L214.35,396.07 L214.6,396.03 L214.85,396 L215.1,395.96 L215.35,395.92 L215.6,395.89 L215.85,395.85 L216.1,395.82 L216.35,395.78 L216.6,395.74 L216.85,395.71 L216.9,473.3 L33.6,473.3 Z" stroke="none" stroke-width="1" fill="url(#ggD)"/><path d="M33.6,364.9 L33.85,364.93 L34.1,364.96 L34.35,364.99 L34.6,365.02 L34.85,365.05 L35.1,365.08 L35.35,365.11 L35.6,365.14 L35.85,365.17 L36.1,365.2 L36.35,365.23 L36.6,365.25 L36.85,365.28 L37.1,365.31 L37.35,365.34 L37.6,365.37 L37.85,365.4 L38.1,365.43 L38.35,365.46 L38.6,365.48 L38.85,365.51 L39.1,365.54 L39.35,365.57 L39.6,365.6 L39.85,365.63 L40.1,365.66 L40.35,365.68 L40.6,365.71 L40.85,365.74 L41.1,365.77 L41.35,365.8 L41.6,365.83 L41.85,365.85 L42.1,365.88 L42.35,365.91 L42.6,365.94 L42.85,365.97 L43.1,366 L43.35,366.02 L43.6,366.05 L43.85,366.08 L44.1,366.11 L44.35,366.14 L44.6,366.17 L44.85,366.2 L45.1,366.23 L45.35,366.25 L45.6,366.28 L45.85,366.31 L46.1,366.34 L46.35,366.37 L46.6,366.4 L46.85,366.43 L47.1,366.46 L47.35,366.49 L47.6,366.52 L47.85,366.55 L48.1,366.58 L48.35,366.61 L48.6,366.64 L48.85,366.67 L49.1,366.7 L49.35,366.73 L49.6,366.76 L49.85,366.79 L50.1,366.82 L50.35,366.85 L50.6,366.88 L50.85,366.92 L51.1,366.95 L51.35,366.98 L51.6,367.01 L51.85,367.04 L52.1,367.07 L52.35,367.11 L52.6,367.14 L52.85,367.17 L53.1,367.2 L53.35,367.24 L53.6,367.27 L53.85,367.3 L54.1,367.34 L54.35,367.37 L54.6,367.41 L54.85,367.44 L55.1,367.47 L55.35,367.51 L55.6,367.54 L55.85,367.58 L56.1,367.61 L56.35,367.65 L56.6,367.69 L56.85,367.72 L57.1,367.76 L57.35,367.79 L57.6,367.83 L57.85,367.87 L58.1,367.91 L58.35,367.94 L58.6,367.98 L58.85,368.02 L59.1,368.06 L59.35,368.1 L59.6,368.13 L59.85,368.17 L60.1,368.21 L60.35,368.25 L60.6,368.29 L60.85,368.33 L61.1,368.37 L61.35,368.41 L61.6,368.45 L61.85,368.49 L62.1,368.53 L62.35,368.57 L62.6,368.61 L62.85,368.66 L63.1,368.7 L63.35,368.74 L63.6,368.78 L63.85,368.82 L64.1,368.86 L64.35,368.91 L64.6,368.95 L64.85,368.99 L65.1,369.03 L65.35,369.08 L65.6,369.12 L65.85,369.16 L66.1,369.21 L66.35,369.25 L66.6,369.29 L66.85,369.34 L67.1,369.38 L67.35,369.42 L67.6,369.47 L67.85,369.51 L68.1,369.56 L68.35,369.6 L68.6,369.65 L68.85,369.69 L69.1,369.73 L69.35,369.78 L69.6,369.82 L69.85,369.87 L70.1,369.91 L70.35,369.96 L70.6,370 L70.85,370.05 L71.1,370.09 L71.35,370.14 L71.6,370.19 L71.85,370.23 L72.1,370.28 L72.35,370.32 L72.6,370.37 L72.85,370.41 L73.1,370.46 L73.35,370.51 L73.6,370.55 L73.85,370.6 L74.1,370.64 L74.35,370.69 L74.6,370.74 L74.85,370.78 L75.1,370.83 L75.35,370.87 L75.6,370.92 L75.85,370.97 L76.1,371.01 L76.35,371.06 L76.6,371.1 L76.85,371.15 L77.1,371.2 L77.35,371.24 L77.6,371.29 L77.85,371.34 L78.1,371.38 L78.35,371.43 L78.6,371.47 L78.85,371.52 L79.1,371.56 L79.35,371.61 L79.6,371.65 L79.85,371.7 L80.1,371.74 L80.35,371.78 L80.6,371.83 L80.85,371.87 L81.1,371.91 L81.35,371.96 L81.6,372 L81.85,372.04 L82.1,372.08 L82.35,372.13 L82.6,372.17 L82.85,372.21 L83.1,372.26 L83.35,372.3 L83.6,372.34 L83.85,372.38 L84.1,372.43 L84.35,372.47 L84.6,372.51 L84.85,372.56 L85.1,372.6 L85.35,372.64 L85.6,372.69 L85.85,372.73 L86.1,372.78 L86.35,372.82 L86.6,372.87 L86.85,372.92 L87.1,372.96 L87.35,373.01 L87.6,373.06 L87.85,373.11 L88.1,373.15 L88.35,373.2 L88.6,373.25 L88.85,373.3 L89.1,373.35 L89.35,373.41 L89.6,373.46 L89.85,373.51 L90.1,373.56 L90.35,373.62 L90.6,373.67 L90.85,373.73 L91.1,373.79 L91.35,373.85 L91.6,373.9 L91.85,373.96 L92.1,374.02 L92.35,374.09 L92.6,374.15 L92.85,374.21 L93.1,374.28 L93.35,374.34 L93.6,374.41 L93.85,374.48 L94.1,374.54 L94.35,374.61 L94.6,374.69 L94.85,374.76 L95.1,374.84 L95.35,374.92 L95.6,375 L95.85,375.08 L96.1,375.17 L96.35,375.26 L96.6,375.35 L96.85,375.45 L97.1,375.54 L97.35,375.64 L97.6,375.74 L97.85,375.84 L98.1,375.94 L98.35,376.05 L98.6,376.16 L98.85,376.27 L99.1,376.38 L99.35,376.49 L99.6,376.61 L99.85,376.72 L100.1,376.84 L100.35,376.96 L100.6,377.08 L100.85,377.2 L101.1,377.32 L101.35,377.45 L101.6,377.57 L101.85,377.7 L102.1,377.83 L102.35,377.96 L102.6,378.09 L102.85,378.22 L103.1,378.35 L103.35,378.49 L103.6,378.63 L103.85,378.77 L104.1,378.91 L104.35,379.06 L104.6,379.2 L104.85,379.36 L105.1,379.51 L105.35,379.67 L105.6,379.83 L105.85,379.99 L106.1,380.16 L106.35,380.32 L106.6,380.49 L106.85,380.67 L107.1,380.84 L107.35,381.02 L107.6,381.2 L107.85,381.39 L108.1,381.57 L108.35,381.76 L108.6,381.95 L108.85,382.14 L109.1,382.34 L109.35,382.54 L109.6,382.74 L109.85,382.94 L110.1,383.15 L110.35,383.36 L110.6,383.57 L110.85,383.78 L111.1,383.99 L111.35,384.21 L111.6,384.43 L111.85,384.65 L112.1,384.88 L112.35,385.12 L112.6,385.36 L112.85,385.62 L113.1,385.88 L113.35,386.16 L113.6,386.45 L113.85,386.75 L114.1,387.06 L114.35,387.39 L114.6,387.74 L114.85,388.11 L115.1,388.49 L115.35,388.91 L115.6,389.36 L115.85,389.86 L116.1,390.39 L116.35,390.99 L116.6,391.63 L116.85,392.35 L117.1,393.19 L117.35,394.18 L117.6,395.36 L117.85,396.72 L118.1,398.3 L118.35,400.17 L118.6,402.7 L118.85,406.17 L119.1,413.71 L119.35,418.28 L119.6,409.71 L119.85,404.84 L120.1,402.02 L120.35,399.97 L120.6,398.42 L120.85,397.08 L121.1,395.92 L121.35,394.91 L121.6,394.06 L121.85,393.36 L122.1,392.78 L122.35,392.26 L122.6,391.77 L122.85,391.31 L123.1,390.88 L123.35,390.48 L123.6,390.1 L123.85,389.74 L124.1,389.4 L124.35,389.08 L124.6,388.78 L124.85,388.49 L125.1,388.21 L125.35,387.95 L125.6,387.69 L125.85,387.44 L126.1,387.19 L126.35,386.94 L126.6,386.7 L126.85,386.45 L127.1,386.2 L127.35,385.95 L127.6,385.71 L127.85,385.47 L128.1,385.23 L128.35,384.99 L128.6,384.75 L128.85,384.52 L129.1,384.29 L129.35,384.07 L129.6,383.84 L129.85,383.62 L130.1,383.4 L130.35,383.18 L130.6,382.97 L130.85,382.76 L131.1,382.55 L131.35,382.35 L131.6,382.15 L131.85,381.95 L132.1,381.75 L132.35,381.56 L132.6,381.37 L132.85,381.18 L133.1,380.99 L133.35,380.81 L133.6,380.64 L133.85,380.46 L134.1,380.29 L134.35,380.12 L134.6,379.96 L134.85,379.79 L135.1,379.63 L135.35,379.48 L135.6,379.33 L135.85,379.18 L136.1,379.03 L136.35,378.89 L136.6,378.75 L136.85,378.62 L137.1,378.49 L137.35,378.36 L137.6,378.24 L137.85,378.12 L138.1,378 L138.35,377.89 L138.6,377.77 L138.85,377.66 L139.1,377.55 L139.35,377.44 L139.6,377.33 L139.85,377.22 L140.1,377.11 L140.35,377 L140.6,376.89 L140.85,376.79 L141.1,376.68 L141.35,376.58 L141.6,376.47 L141.85,376.37 L142.1,376.27 L142.35,376.16 L142.6,376.06 L142.85,375.96 L143.1,375.86 L143.35,375.76 L143.6,375.67 L143.85,375.57 L144.1,375.47 L144.35,375.38 L144.6,375.28 L144.85,375.19 L145.1,375.09 L145.35,375 L145.6,374.91 L145.85,374.82 L146.1,374.73 L146.35,374.64 L146.6,374.55 L146.85,374.46 L147.1,374.37 L147.35,374.29 L147.6,374.2 L147.85,374.11 L148.1,374.03 L148.35,373.94 L148.6,373.86 L148.85,373.78 L149.1,373.69 L149.35,373.61 L149.6,373.53 L149.85,373.45 L150.1,373.37 L150.35,373.29 L150.6,373.22 L150.85,373.14 L151.1,373.06 L151.35,372.98 L151.6,372.91 L151.85,372.83 L152.1,372.76 L152.35,372.69 L152.6,372.61 L152.85,372.54 L153.1,372.47 L153.35,372.4 L153.6,372.33 L153.85,372.26 L154.1,372.19 L154.35,372.12 L154.6,372.05 L154.85,371.98 L155.1,371.92 L155.35,371.85 L155.6,371.78 L155.85,371.72 L156.1,371.65 L156.35,371.59 L156.6,371.53 L156.85,371.46 L157.1,371.4 L157.35,371.34 L157.6,371.28 L157.85,371.22 L158.1,371.16 L158.35,371.1 L158.6,371.04 L158.85,370.98 L159.1,370.92 L159.35,370.87 L159.6,370.81 L159.85,370.75 L160.1,370.7 L160.35,370.64 L160.6,370.59 L160.85,370.53 L161.1,370.48 L161.35,370.43 L161.6,370.38 L161.85,370.32 L162.1,370.27 L162.35,370.22 L162.6,370.17 L162.85,370.12 L163.1,370.07 L163.35,370.02 L163.6,369.97 L163.85,369.93 L164.1,369.88 L164.35,369.83 L164.6,369.79 L164.85,369.74 L165.1,369.69 L165.35,369.65 L165.6,369.61 L165.85,369.56 L166.1,369.52 L166.35,369.47 L166.6,369.43 L166.85,369.39 L167.1,369.35 L167.35,369.3 L167.6,369.26 L167.85,369.22 L168.1,369.18 L168.35,369.14 L168.6,369.1 L168.85,369.06 L169.1,369.02 L169.35,368.98 L169.6,368.94 L169.85,368.9 L170.1,368.86 L170.35,368.82 L170.6,368.78 L170.85,368.74 L171.1,368.71 L171.35,368.67 L171.6,368.63 L171.85,368.59 L172.1,368.56 L172.35,368.52 L172.6,368.48 L172.85,368.45 L173.1,368.41 L173.35,368.37 L173.6,368.34 L173.85,368.3 L174.1,368.27 L174.35,368.23 L174.6,368.2 L174.85,368.16 L175.1,368.13 L175.35,368.1 L175.6,368.06 L175.85,368.03 L176.1,368 L176.35,367.96 L176.6,367.93 L176.85,367.9 L177.1,367.87 L177.35,367.83 L177.6,367.8 L177.85,367.77 L178.1,367.74 L178.35,367.71 L178.6,367.68 L178.85,367.65 L179.1,367.62 L179.35,367.58 L179.6,367.55 L179.85,367.52 L180.1,367.5 L180.35,367.47 L180.6,367.44 L180.85,367.41 L181.1,367.38 L181.35,367.35 L181.6,367.32 L181.85,367.29 L182.1,367.26 L182.35,367.24 L182.6,367.21 L182.85,367.18 L183.1,367.15 L183.35,367.13 L183.6,367.1 L183.85,367.07 L184.1,367.05 L184.35,367.02 L184.6,366.99 L184.85,366.97 L185.1,366.94 L185.35,366.92 L185.6,366.89 L185.85,366.86 L186.1,366.84 L186.35,366.81 L186.6,366.79 L186.85,366.77 L187.1,366.74 L187.35,366.72 L187.6,366.69 L187.85,366.67 L188.1,366.64 L188.35,366.62 L188.6,366.6 L188.85,366.57 L189.1,366.55 L189.35,366.53 L189.6,366.5 L189.85,366.48 L190.1,366.46 L190.35,366.44 L190.6,366.41 L190.85,366.39 L191.1,366.37 L191.35,366.35 L191.6,366.33 L191.85,366.3 L192.1,366.28 L192.35,366.26 L192.6,366.24 L192.85,366.22 L193.1,366.2 L193.35,366.18 L193.6,366.16 L193.85,366.14 L194.1,366.12 L194.35,366.1 L194.6,366.08 L194.85,366.06 L195.1,366.04 L195.35,366.02 L195.6,366 L195.85,365.98 L196.1,365.96 L196.35,365.94 L196.6,365.92 L196.85,365.9 L197.1,365.89 L197.35,365.87 L197.6,365.85 L197.85,365.83 L198.1,365.81 L198.35,365.8 L198.6,365.78 L198.85,365.76 L199.1,365.75 L199.35,365.73 L199.6,365.71 L199.85,365.7 L200.1,365.68 L200.35,365.66 L200.6,365.65 L200.85,365.63 L201.1,365.62 L201.35,365.6 L201.6,365.58 L201.85,365.57 L202.1,365.55 L202.35,365.54 L202.6,365.52 L202.85,365.51 L203.1,365.49 L203.35,365.48 L203.6,365.46 L203.85,365.45 L204.1,365.43 L204.35,365.42 L204.6,365.4 L204.85,365.39 L205.1,365.37 L205.35,365.36 L205.6,365.35 L205.85,365.33 L206.1,365.32 L206.35,365.3 L206.6,365.29 L206.85,365.28 L207.1,365.26 L207.35,365.25 L207.6,365.23 L207.85,365.22 L208.1,365.21 L208.35,365.19 L208.6,365.18 L208.85,365.16 L209.1,365.15 L209.35,365.14 L209.6,365.12 L209.85,365.11 L210.1,365.09 L210.35,365.08 L210.6,365.07 L210.85,365.05 L211.1,365.04 L211.35,365.02 L211.6,365.01 L211.85,365 L212.1,364.98 L212.35,364.97 L212.6,364.95 L212.85,364.94 L213.1,364.93 L213.35,364.91 L213.6,364.9 L213.85,364.88 L214.1,364.87 L214.35,364.85 L214.6,364.84 L214.85,364.82 L215.1,364.81 L215.35,364.79 L215.6,364.78 L215.85,364.76 L216.1,364.75 L216.35,364.73 L216.6,364.72 L216.85,364.7" stroke="#d0e3f8" stroke-width="1.4" fill="none"/><path d="M33.6,385.3 L33.85,385.34 L34.1,385.38 L34.35,385.42 L34.6,385.46 L34.85,385.49 L35.1,385.53 L35.35,385.57 L35.6,385.61 L35.85,385.65 L36.1,385.68 L36.35,385.72 L36.6,385.76 L36.85,385.8 L37.1,385.83 L37.35,385.87 L37.6,385.91 L37.85,385.95 L38.1,385.98 L38.35,386.02 L38.6,386.06 L38.85,386.09 L39.1,386.13 L39.35,386.17 L39.6,386.2 L39.85,386.24 L40.1,386.27 L40.35,386.31 L40.6,386.35 L40.85,386.38 L41.1,386.42 L41.35,386.45 L41.6,386.49 L41.85,386.53 L42.1,386.56 L42.35,386.6 L42.6,386.63 L42.85,386.67 L43.1,386.71 L43.35,386.74 L43.6,386.78 L43.85,386.81 L44.1,386.85 L44.35,386.89 L44.6,386.92 L44.85,386.96 L45.1,386.99 L45.35,387.03 L45.6,387.07 L45.85,387.1 L46.1,387.14 L46.35,387.17 L46.6,387.21 L46.85,387.25 L47.1,387.28 L47.35,387.32 L47.6,387.36 L47.85,387.39 L48.1,387.43 L48.35,387.47 L48.6,387.5 L48.85,387.54 L49.1,387.58 L49.35,387.61 L49.6,387.65 L49.85,387.69 L50.1,387.73 L50.35,387.76 L50.6,387.8 L50.85,387.84 L51.1,387.88 L51.35,387.92 L51.6,387.96 L51.85,387.99 L52.1,388.03 L52.35,388.07 L52.6,388.11 L52.85,388.15 L53.1,388.19 L53.35,388.23 L53.6,388.27 L53.85,388.31 L54.1,388.35 L54.35,388.39 L54.6,388.43 L54.85,388.47 L55.1,388.51 L55.35,388.56 L55.6,388.6 L55.85,388.64 L56.1,388.68 L56.35,388.72 L56.6,388.77 L56.85,388.81 L57.1,388.85 L57.35,388.9 L57.6,388.94 L57.85,388.98 L58.1,389.03 L58.35,389.07 L58.6,389.12 L58.85,389.16 L59.1,389.21 L59.35,389.25 L59.6,389.3 L59.85,389.35 L60.1,389.39 L60.35,389.44 L60.6,389.49 L60.85,389.54 L61.1,389.58 L61.35,389.63 L61.6,389.68 L61.85,389.73 L62.1,389.78 L62.35,389.83 L62.6,389.88 L62.85,389.93 L63.1,389.98 L63.35,390.04 L63.6,390.09 L63.85,390.14 L64.1,390.2 L64.35,390.25 L64.6,390.3 L64.85,390.36 L65.1,390.42 L65.35,390.47 L65.6,390.53 L65.85,390.59 L66.1,390.64 L66.35,390.7 L66.6,390.76 L66.85,390.82 L67.1,390.88 L67.35,390.94 L67.6,391 L67.85,391.06 L68.1,391.13 L68.35,391.19 L68.6,391.25 L68.85,391.31 L69.1,391.38 L69.35,391.44 L69.6,391.5 L69.85,391.57 L70.1,391.63 L70.35,391.7 L70.6,391.76 L70.85,391.83 L71.1,391.9 L71.35,391.96 L71.6,392.03 L71.85,392.1 L72.1,392.16 L72.35,392.23 L72.6,392.3 L72.85,392.37 L73.1,392.44 L73.35,392.51 L73.6,392.58 L73.85,392.65 L74.1,392.72 L74.35,392.79 L74.6,392.86 L74.85,392.93 L75.1,393 L75.35,393.07 L75.6,393.14 L75.85,393.21 L76.1,393.29 L76.35,393.36 L76.6,393.43 L76.85,393.5 L77.1,393.58 L77.35,393.65 L77.6,393.72 L77.85,393.8 L78.1,393.87 L78.35,393.94 L78.6,394.02 L78.85,394.09 L79.1,394.17 L79.35,394.24 L79.6,394.31 L79.85,394.39 L80.1,394.46 L80.35,394.54 L80.6,394.61 L80.85,394.69 L81.1,394.76 L81.35,394.84 L81.6,394.92 L81.85,394.99 L82.1,395.07 L82.35,395.15 L82.6,395.22 L82.85,395.3 L83.1,395.38 L83.35,395.46 L83.6,395.54 L83.85,395.61 L84.1,395.69 L84.35,395.77 L84.6,395.85 L84.85,395.94 L85.1,396.02 L85.35,396.1 L85.6,396.18 L85.85,396.26 L86.1,396.35 L86.35,396.43 L86.6,396.52 L86.85,396.6 L87.1,396.69 L87.35,396.77 L87.6,396.86 L87.85,396.95 L88.1,397.04 L88.35,397.13 L88.6,397.22 L88.85,397.31 L89.1,397.4 L89.35,397.49 L89.6,397.58 L89.85,397.68 L90.1,397.77 L90.35,397.87 L90.6,397.97 L90.85,398.06 L91.1,398.16 L91.35,398.26 L91.6,398.36 L91.85,398.46 L92.1,398.56 L92.35,398.66 L92.6,398.77 L92.85,398.87 L93.1,398.98 L93.35,399.09 L93.6,399.19 L93.85,399.3 L94.1,399.41 L94.35,399.52 L94.6,399.63 L94.85,399.75 L95.1,399.86 L95.35,399.98 L95.6,400.09 L95.85,400.21 L96.1,400.33 L96.35,400.45 L96.6,400.58 L96.85,400.7 L97.1,400.83 L97.35,400.95 L97.6,401.08 L97.85,401.21 L98.1,401.34 L98.35,401.48 L98.6,401.61 L98.85,401.75 L99.1,401.89 L99.35,402.03 L99.6,402.17 L99.85,402.32 L100.1,402.46 L100.35,402.61 L100.6,402.76 L100.85,402.92 L101.1,403.07 L101.35,403.23 L101.6,403.39 L101.85,403.55 L102.1,403.72 L102.35,403.88 L102.6,404.05 L102.85,404.22 L103.1,404.4 L103.35,404.57 L103.6,404.75 L103.85,404.93 L104.1,405.12 L104.35,405.3 L104.6,405.49 L104.85,405.68 L105.1,405.88 L105.35,406.08 L105.6,406.28 L105.85,406.49 L106.1,406.71 L106.35,406.93 L106.6,407.16 L106.85,407.4 L107.1,407.64 L107.35,407.88 L107.6,408.14 L107.85,408.4 L108.1,408.67 L108.35,408.94 L108.6,409.23 L108.85,409.52 L109.1,409.82 L109.35,410.12 L109.6,410.44 L109.85,410.76 L110.1,411.09 L110.35,411.43 L110.6,411.79 L110.85,412.16 L111.1,412.57 L111.35,412.99 L111.6,413.43 L111.85,413.9 L112.1,414.38 L112.35,414.87 L112.6,415.38 L112.85,415.89 L113.1,416.42 L113.35,416.96 L113.6,417.5 L113.85,418.05 L114.1,418.63 L114.35,419.22 L114.6,419.83 L114.85,420.46 L115.1,421.11 L115.35,421.77 L115.6,422.45 L115.85,423.14 L116.1,423.84 L116.35,424.56 L116.6,425.29 L116.85,426.03 L117.1,426.79 L117.35,427.56 L117.6,428.37 L117.85,429.21 L118.1,430.09 L118.35,431.02 L118.6,432 L118.85,433.04 L119.1,434.15 L119.35,435.35 L119.6,436.65 L119.85,438.08 L120.1,439.77 L120.35,442.35 L120.6,444.37 L120.85,443.9 L121.1,440.75 L121.35,437.45 L121.6,435.51 L121.85,433.83 L122.1,432.36 L122.35,431.09 L122.6,430 L122.85,429.04 L123.1,428.15 L123.35,427.33 L123.6,426.58 L123.85,425.91 L124.1,425.31 L124.35,424.78 L124.6,424.33 L124.85,423.92 L125.1,423.55 L125.35,423.22 L125.6,422.91 L125.85,422.62 L126.1,422.34 L126.35,422.08 L126.6,421.82 L126.85,421.55 L127.1,421.29 L127.35,421.02 L127.6,420.75 L127.85,420.48 L128.1,420.21 L128.35,419.95 L128.6,419.68 L128.85,419.41 L129.1,419.15 L129.35,418.89 L129.6,418.62 L129.85,418.36 L130.1,418.1 L130.35,417.84 L130.6,417.59 L130.85,417.33 L131.1,417.08 L131.35,416.83 L131.6,416.59 L131.85,416.35 L132.1,416.11 L132.35,415.87 L132.6,415.63 L132.85,415.4 L133.1,415.18 L133.35,414.96 L133.6,414.74 L133.85,414.52 L134.1,414.31 L134.35,414.11 L134.6,413.91 L134.85,413.71 L135.1,413.52 L135.35,413.34 L135.6,413.16 L135.85,412.98 L136.1,412.82 L136.35,412.65 L136.6,412.5 L136.85,412.35 L137.1,412.2 L137.35,412.07 L137.6,411.94 L137.85,411.82 L138.1,411.7 L138.35,411.59 L138.6,411.48 L138.85,411.37 L139.1,411.26 L139.35,411.16 L139.6,411.05 L139.85,410.95 L140.1,410.85 L140.35,410.75 L140.6,410.65 L140.85,410.55 L141.1,410.45 L141.35,410.35 L141.6,410.26 L141.85,410.17 L142.1,410.07 L142.35,409.98 L142.6,409.89 L142.85,409.8 L143.1,409.71 L143.35,409.62 L143.6,409.54 L143.85,409.45 L144.1,409.37 L144.35,409.28 L144.6,409.2 L144.85,409.12 L145.1,409.04 L145.35,408.96 L145.6,408.88 L145.85,408.8 L146.1,408.73 L146.35,408.65 L146.6,408.58 L146.85,408.5 L147.1,408.43 L147.35,408.35 L147.6,408.28 L147.85,408.21 L148.1,408.14 L148.35,408.07 L148.6,408 L148.85,407.93 L149.1,407.87 L149.35,407.8 L149.6,407.73 L149.85,407.67 L150.1,407.6 L150.35,407.54 L150.6,407.47 L150.85,407.41 L151.1,407.35 L151.35,407.29 L151.6,407.23 L151.85,407.17 L152.1,407.1 L152.35,407.05 L152.6,406.99 L152.85,406.93 L153.1,406.87 L153.35,406.81 L153.6,406.75 L153.85,406.7 L154.1,406.64 L154.35,406.58 L154.6,406.53 L154.85,406.47 L155.1,406.42 L155.35,406.36 L155.6,406.31 L155.85,406.25 L156.1,406.2 L156.35,406.15 L156.6,406.09 L156.85,406.04 L157.1,405.99 L157.35,405.94 L157.6,405.88 L157.85,405.83 L158.1,405.78 L158.35,405.73 L158.6,405.68 L158.85,405.62 L159.1,405.57 L159.35,405.52 L159.6,405.47 L159.85,405.42 L160.1,405.37 L160.35,405.32 L160.6,405.27 L160.85,405.21 L161.1,405.16 L161.35,405.11 L161.6,405.06 L161.85,405.01 L162.1,404.96 L162.35,404.91 L162.6,404.86 L162.85,404.81 L163.1,404.75 L163.35,404.7 L163.6,404.65 L163.85,404.6 L164.1,404.55 L164.35,404.49 L164.6,404.44 L164.85,404.39 L165.1,404.34 L165.35,404.28 L165.6,404.23 L165.85,404.18 L166.1,404.12 L166.35,404.07 L166.6,404.01 L166.85,403.96 L167.1,403.91 L167.35,403.85 L167.6,403.8 L167.85,403.75 L168.1,403.69 L168.35,403.64 L168.6,403.59 L168.85,403.54 L169.1,403.48 L169.35,403.43 L169.6,403.38 L169.85,403.33 L170.1,403.28 L170.35,403.23 L170.6,403.18 L170.85,403.13 L171.1,403.08 L171.35,403.03 L171.6,402.98 L171.85,402.93 L172.1,402.88 L172.35,402.83 L172.6,402.78 L172.85,402.73 L173.1,402.68 L173.35,402.63 L173.6,402.58 L173.85,402.54 L174.1,402.49 L174.35,402.44 L174.6,402.39 L174.85,402.34 L175.1,402.3 L175.35,402.25 L175.6,402.2 L175.85,402.16 L176.1,402.11 L176.35,402.06 L176.6,402.02 L176.85,401.97 L177.1,401.92 L177.35,401.88 L177.6,401.83 L177.85,401.79 L178.1,401.74 L178.35,401.69 L178.6,401.65 L178.85,401.6 L179.1,401.56 L179.35,401.51 L179.6,401.47 L179.85,401.42 L180.1,401.38 L180.35,401.34 L180.6,401.29 L180.85,401.25 L181.1,401.2 L181.35,401.16 L181.6,401.12 L181.85,401.07 L182.1,401.03 L182.35,400.98 L182.6,400.94 L182.85,400.9 L183.1,400.85 L183.35,400.81 L183.6,400.77 L183.85,400.73 L184.1,400.68 L184.35,400.64 L184.6,400.6 L184.85,400.56 L185.1,400.51 L185.35,400.47 L185.6,400.43 L185.85,400.39 L186.1,400.34 L186.35,400.3 L186.6,400.26 L186.85,400.22 L187.1,400.18 L187.35,400.14 L187.6,400.09 L187.85,400.05 L188.1,400.01 L188.35,399.97 L188.6,399.93 L188.85,399.89 L189.1,399.85 L189.35,399.8 L189.6,399.76 L189.85,399.72 L190.1,399.68 L190.35,399.64 L190.6,399.6 L190.85,399.56 L191.1,399.52 L191.35,399.48 L191.6,399.44 L191.85,399.4 L192.1,399.36 L192.35,399.32 L192.6,399.27 L192.85,399.23 L193.1,399.19 L193.35,399.15 L193.6,399.11 L193.85,399.07 L194.1,399.03 L194.35,398.99 L194.6,398.95 L194.85,398.91 L195.1,398.87 L195.35,398.83 L195.6,398.79 L195.85,398.75 L196.1,398.71 L196.35,398.67 L196.6,398.64 L196.85,398.6 L197.1,398.56 L197.35,398.52 L197.6,398.48 L197.85,398.44 L198.1,398.41 L198.35,398.37 L198.6,398.33 L198.85,398.29 L199.1,398.25 L199.35,398.22 L199.6,398.18 L199.85,398.14 L200.1,398.1 L200.35,398.07 L200.6,398.03 L200.85,397.99 L201.1,397.96 L201.35,397.92 L201.6,397.88 L201.85,397.85 L202.1,397.81 L202.35,397.77 L202.6,397.74 L202.85,397.7 L203.1,397.67 L203.35,397.63 L203.6,397.59 L203.85,397.56 L204.1,397.52 L204.35,397.49 L204.6,397.45 L204.85,397.41 L205.1,397.38 L205.35,397.34 L205.6,397.31 L205.85,397.27 L206.1,397.24 L206.35,397.2 L206.6,397.17 L206.85,397.13 L207.1,397.09 L207.35,397.06 L207.6,397.02 L207.85,396.99 L208.1,396.95 L208.35,396.92 L208.6,396.88 L208.85,396.85 L209.1,396.81 L209.35,396.78 L209.6,396.74 L209.85,396.71 L210.1,396.67 L210.35,396.64 L210.6,396.6 L210.85,396.57 L211.1,396.53 L211.35,396.49 L211.6,396.46 L211.85,396.42 L212.1,396.39 L212.35,396.35 L212.6,396.32 L212.85,396.28 L213.1,396.25 L213.35,396.21 L213.6,396.18 L213.85,396.14 L214.1,396.1 L214.35,396.07 L214.6,396.03 L214.85,396 L215.1,395.96 L215.35,395.92 L215.6,395.89 L215.85,395.85 L216.1,395.82 L216.35,395.78 L216.6,395.74 L216.85,395.71" stroke="#d9d9d9" stroke-width="1.4" fill="none"/><rect x="33.6" y="345.2" width="183.3" height="128.1" fill="none" stroke="#555" stroke-width="1"/><line x1="33.6" y1="358.7" x2="35.8" y2="358.7" stroke="#444" stroke-width="0.7"/><text x="31" y="361.6" font-size="7.8" fill="#222" text-anchor="end" stroke="#222" stroke-width="0.22"><tspan textLength="6.3" lengthAdjust="spacingAndGlyphs">10</tspan><tspan font-size="5.2" dy="-3.2" textLength="4.6" lengthAdjust="spacingAndGlyphs">-5</tspan></text><line x1="33.6" y1="377.8" x2="35.8" y2="377.8" stroke="#444" stroke-width="0.7"/><text x="31" y="380.7" font-size="7.8" fill="#222" text-anchor="end" stroke="#222" stroke-width="0.22"><tspan textLength="6.3" lengthAdjust="spacingAndGlyphs">10</tspan><tspan font-size="5.2" dy="-3.2" textLength="4.6" lengthAdjust="spacingAndGlyphs">-6</tspan></text><line x1="33.6" y1="396.9" x2="35.8" y2="396.9" stroke="#444" stroke-width="0.7"/><text x="31" y="399.8" font-size="7.8" fill="#222" text-anchor="end" stroke="#222" stroke-width="0.22"><tspan textLength="6.3" lengthAdjust="spacingAndGlyphs">10</tspan><tspan font-size="5.2" dy="-3.2" textLength="4.6" lengthAdjust="spacingAndGlyphs">-7</tspan></text><line x1="33.6" y1="416" x2="35.8" y2="416" stroke="#444" stroke-width="0.7"/><text x="31" y="418.9" font-size="7.8" fill="#222" text-anchor="end" stroke="#222" stroke-width="0.22"><tspan textLength="6.3" lengthAdjust="spacingAndGlyphs">10</tspan><tspan font-size="5.2" dy="-3.2" textLength="4.6" lengthAdjust="spacingAndGlyphs">-8</tspan></text><line x1="33.6" y1="435.1" x2="35.8" y2="435.1" stroke="#444" stroke-width="0.7"/><text x="31" y="438" font-size="7.8" fill="#222" text-anchor="end" stroke="#222" stroke-width="0.22"><tspan textLength="6.3" lengthAdjust="spacingAndGlyphs">10</tspan><tspan font-size="5.2" dy="-3.2" textLength="4.6" lengthAdjust="spacingAndGlyphs">-9</tspan></text><line x1="33.6" y1="454.2" x2="35.8" y2="454.2" stroke="#444" stroke-width="0.7"/><text x="31" y="457.1" font-size="7.8" fill="#222" text-anchor="end" stroke="#222" stroke-width="0.22"><tspan textLength="6.3" lengthAdjust="spacingAndGlyphs">10</tspan><tspan font-size="5.2" dy="-3.2" textLength="6.2" lengthAdjust="spacingAndGlyphs">-10</tspan></text><line x1="33.6" y1="473.3" x2="35.8" y2="473.3" stroke="#444" stroke-width="0.7"/><text x="31" y="476.2" font-size="7.8" fill="#222" text-anchor="end" stroke="#222" stroke-width="0.22"><tspan textLength="6.3" lengthAdjust="spacingAndGlyphs">10</tspan><tspan font-size="5.2" dy="-3.2" textLength="6.2" lengthAdjust="spacingAndGlyphs">-11</tspan></text><line x1="33.6" y1="467.55" x2="34.8" y2="467.55" stroke="#777" stroke-width="0.4"/><line x1="33.6" y1="464.19" x2="34.8" y2="464.19" stroke="#777" stroke-width="0.4"/><line x1="33.6" y1="461.8" x2="34.8" y2="461.8" stroke="#777" stroke-width="0.4"/><line x1="33.6" y1="459.95" x2="34.8" y2="459.95" stroke="#777" stroke-width="0.4"/><line x1="33.6" y1="458.44" x2="34.8" y2="458.44" stroke="#777" stroke-width="0.4"/><line x1="33.6" y1="457.16" x2="34.8" y2="457.16" stroke="#777" stroke-width="0.4"/><line x1="33.6" y1="456.05" x2="34.8" y2="456.05" stroke="#777" stroke-width="0.4"/><line x1="33.6" y1="455.07" x2="34.8" y2="455.07" stroke="#777" stroke-width="0.4"/><line x1="33.6" y1="448.45" x2="34.8" y2="448.45" stroke="#777" stroke-width="0.4"/><line x1="33.6" y1="445.09" x2="34.8" y2="445.09" stroke="#777" stroke-width="0.4"/><line x1="33.6" y1="442.7" x2="34.8" y2="442.7" stroke="#777" stroke-width="0.4"/><line x1="33.6" y1="440.85" x2="34.8" y2="440.85" stroke="#777" stroke-width="0.4"/><line x1="33.6" y1="439.34" x2="34.8" y2="439.34" stroke="#777" stroke-width="0.4"/><line x1="33.6" y1="438.06" x2="34.8" y2="438.06" stroke="#777" stroke-width="0.4"/><line x1="33.6" y1="436.95" x2="34.8" y2="436.95" stroke="#777" stroke-width="0.4"/><line x1="33.6" y1="435.97" x2="34.8" y2="435.97" stroke="#777" stroke-width="0.4"/><line x1="33.6" y1="429.35" x2="34.8" y2="429.35" stroke="#777" stroke-width="0.4"/><line x1="33.6" y1="425.99" x2="34.8" y2="425.99" stroke="#777" stroke-width="0.4"/><line x1="33.6" y1="423.6" x2="34.8" y2="423.6" stroke="#777" stroke-width="0.4"/><line x1="33.6" y1="421.75" x2="34.8" y2="421.75" stroke="#777" stroke-width="0.4"/><line x1="33.6" y1="420.24" x2="34.8" y2="420.24" stroke="#777" stroke-width="0.4"/><line x1="33.6" y1="418.96" x2="34.8" y2="418.96" stroke="#777" stroke-width="0.4"/><line x1="33.6" y1="417.85" x2="34.8" y2="417.85" stroke="#777" stroke-width="0.4"/><line x1="33.6" y1="416.87" x2="34.8" y2="416.87" stroke="#777" stroke-width="0.4"/><line x1="33.6" y1="410.25" x2="34.8" y2="410.25" stroke="#777" stroke-width="0.4"/><line x1="33.6" y1="406.89" x2="34.8" y2="406.89" stroke="#777" stroke-width="0.4"/><line x1="33.6" y1="404.5" x2="34.8" y2="404.5" stroke="#777" stroke-width="0.4"/><line x1="33.6" y1="402.65" x2="34.8" y2="402.65" stroke="#777" stroke-width="0.4"/><line x1="33.6" y1="401.14" x2="34.8" y2="401.14" stroke="#777" stroke-width="0.4"/><line x1="33.6" y1="399.86" x2="34.8" y2="399.86" stroke="#777" stroke-width="0.4"/><line x1="33.6" y1="398.75" x2="34.8" y2="398.75" stroke="#777" stroke-width="0.4"/><line x1="33.6" y1="397.77" x2="34.8" y2="397.77" stroke="#777" stroke-width="0.4"/><line x1="33.6" y1="391.15" x2="34.8" y2="391.15" stroke="#777" stroke-width="0.4"/><line x1="33.6" y1="387.79" x2="34.8" y2="387.79" stroke="#777" stroke-width="0.4"/><line x1="33.6" y1="385.4" x2="34.8" y2="385.4" stroke="#777" stroke-width="0.4"/><line x1="33.6" y1="383.55" x2="34.8" y2="383.55" stroke="#777" stroke-width="0.4"/><line x1="33.6" y1="382.04" x2="34.8" y2="382.04" stroke="#777" stroke-width="0.4"/><line x1="33.6" y1="380.76" x2="34.8" y2="380.76" stroke="#777" stroke-width="0.4"/><line x1="33.6" y1="379.65" x2="34.8" y2="379.65" stroke="#777" stroke-width="0.4"/><line x1="33.6" y1="378.67" x2="34.8" y2="378.67" stroke="#777" stroke-width="0.4"/><line x1="33.6" y1="372.05" x2="34.8" y2="372.05" stroke="#777" stroke-width="0.4"/><line x1="33.6" y1="368.69" x2="34.8" y2="368.69" stroke="#777" stroke-width="0.4"/><line x1="33.6" y1="366.3" x2="34.8" y2="366.3" stroke="#777" stroke-width="0.4"/><line x1="33.6" y1="364.45" x2="34.8" y2="364.45" stroke="#777" stroke-width="0.4"/><line x1="33.6" y1="362.94" x2="34.8" y2="362.94" stroke="#777" stroke-width="0.4"/><line x1="33.6" y1="361.66" x2="34.8" y2="361.66" stroke="#777" stroke-width="0.4"/><line x1="33.6" y1="360.55" x2="34.8" y2="360.55" stroke="#777" stroke-width="0.4"/><line x1="33.6" y1="359.57" x2="34.8" y2="359.57" stroke="#777" stroke-width="0.4"/><line x1="33.65" y1="473.3" x2="33.65" y2="471.3" stroke="#444" stroke-width="0.6"/><text x="33.65" y="481.2" font-size="7.2" fill="#222" text-anchor="middle" stroke="#222" stroke-width="0.22">-2</text><line x1="79.45" y1="473.3" x2="79.45" y2="472.1" stroke="#444" stroke-width="0.6"/><line x1="125.25" y1="473.3" x2="125.25" y2="471.3" stroke="#444" stroke-width="0.6"/><text x="125.25" y="481.2" font-size="7.2" fill="#222" text-anchor="middle" stroke="#222" stroke-width="0.22">0</text><line x1="171.05" y1="473.3" x2="171.05" y2="472.1" stroke="#444" stroke-width="0.6"/><line x1="216.85" y1="473.3" x2="216.85" y2="471.3" stroke="#444" stroke-width="0.6"/><text x="216.85" y="481.2" font-size="7.2" fill="#222" text-anchor="middle" stroke="#222" stroke-width="0.22">2</text><text x="125.2" y="494" font-size="11" fill="#222" text-anchor="middle" textLength="45.8" lengthAdjust="spacingAndGlyphs" stroke="#222" stroke-width="0.22">Voltage (V)</text><text x="12" y="411" font-size="10.5" fill="#222" text-anchor="middle" textLength="45.5" lengthAdjust="spacingAndGlyphs" transform="rotate(-90 12 411)" stroke="#222" stroke-width="0.22">Current (A)</text><text x="136.7" y="356" font-size="6.6" fill="#111" textLength="35.7" lengthAdjust="spacingAndGlyphs" stroke="#111" stroke-width="0.22">Poling @ -2 V</text><text x="199.4" y="360" font-size="7.2" fill="#c6dcf5" textLength="14.6" lengthAdjust="spacingAndGlyphs" stroke="#c6dcf5" stroke-width="0.22">Light</text><text x="200" y="391.8" font-size="7.2" fill="#cdcdcd" textLength="14" lengthAdjust="spacingAndGlyphs" stroke="#cdcdcd" stroke-width="0.22">Dark</text><text x="114.2" y="457.8" font-size="6.6" fill="#111" textLength="71.1" lengthAdjust="spacingAndGlyphs" stroke="#111" stroke-width="0.22">on/off ratio = 100 @-0.1 V</text><text x="228" y="352.8" font-size="17.5" fill="#000" font-weight="bold">h</text><path d="M255.8,350 L256.05,350.03 L256.3,350.06 L256.55,350.09 L256.8,350.12 L257.05,350.15 L257.3,350.18 L257.55,350.21 L257.8,350.24 L258.05,350.27 L258.3,350.3 L258.55,350.33 L258.8,350.36 L259.05,350.39 L259.3,350.42 L259.55,350.45 L259.8,350.48 L260.05,350.51 L260.3,350.54 L260.55,350.57 L260.8,350.6 L261.05,350.63 L261.3,350.66 L261.55,350.69 L261.8,350.72 L262.05,350.75 L262.3,350.78 L262.55,350.81 L262.8,350.84 L263.05,350.87 L263.3,350.9 L263.55,350.93 L263.8,350.96 L264.05,350.99 L264.3,351.02 L264.55,351.05 L264.8,351.08 L265.05,351.11 L265.3,351.14 L265.55,351.16 L265.8,351.19 L266.05,351.22 L266.3,351.25 L266.55,351.28 L266.8,351.31 L267.05,351.34 L267.3,351.37 L267.55,351.4 L267.8,351.43 L268.05,351.46 L268.3,351.49 L268.55,351.52 L268.8,351.55 L269.05,351.58 L269.3,351.61 L269.55,351.64 L269.8,351.67 L270.05,351.71 L270.3,351.74 L270.55,351.77 L270.8,351.8 L271.05,351.83 L271.3,351.86 L271.55,351.89 L271.8,351.92 L272.05,351.95 L272.3,351.98 L272.55,352.01 L272.8,352.05 L273.05,352.08 L273.3,352.11 L273.55,352.14 L273.8,352.17 L274.05,352.21 L274.3,352.24 L274.55,352.27 L274.8,352.3 L275.05,352.34 L275.3,352.37 L275.55,352.4 L275.8,352.43 L276.05,352.47 L276.3,352.5 L276.55,352.53 L276.8,352.57 L277.05,352.6 L277.3,352.63 L277.55,352.67 L277.8,352.7 L278.05,352.74 L278.3,352.77 L278.55,352.81 L278.8,352.84 L279.05,352.88 L279.3,352.91 L279.55,352.95 L279.8,352.98 L280.05,353.02 L280.3,353.05 L280.55,353.09 L280.8,353.12 L281.05,353.16 L281.3,353.19 L281.55,353.23 L281.8,353.26 L282.05,353.3 L282.3,353.33 L282.55,353.37 L282.8,353.41 L283.05,353.44 L283.3,353.48 L283.55,353.51 L283.8,353.55 L284.05,353.58 L284.3,353.62 L284.55,353.66 L284.8,353.69 L285.05,353.73 L285.3,353.77 L285.55,353.8 L285.8,353.84 L286.05,353.88 L286.3,353.91 L286.55,353.95 L286.8,353.99 L287.05,354.02 L287.3,354.06 L287.55,354.1 L287.8,354.13 L288.05,354.17 L288.3,354.21 L288.55,354.25 L288.8,354.28 L289.05,354.32 L289.3,354.36 L289.55,354.4 L289.8,354.44 L290.05,354.47 L290.3,354.51 L290.55,354.55 L290.8,354.59 L291.05,354.63 L291.3,354.67 L291.55,354.71 L291.8,354.74 L292.05,354.78 L292.3,354.82 L292.55,354.86 L292.8,354.9 L293.05,354.94 L293.3,354.98 L293.55,355.02 L293.8,355.06 L294.05,355.1 L294.3,355.14 L294.55,355.18 L294.8,355.22 L295.05,355.26 L295.3,355.3 L295.55,355.34 L295.8,355.39 L296.05,355.43 L296.3,355.47 L296.55,355.51 L296.8,355.55 L297.05,355.59 L297.3,355.64 L297.55,355.68 L297.8,355.72 L298.05,355.76 L298.3,355.8 L298.55,355.85 L298.8,355.89 L299.05,355.93 L299.3,355.98 L299.55,356.02 L299.8,356.06 L300.05,356.11 L300.3,356.15 L300.55,356.2 L300.8,356.24 L301.05,356.28 L301.3,356.33 L301.55,356.37 L301.8,356.42 L302.05,356.46 L302.3,356.51 L302.55,356.56 L302.8,356.6 L303.05,356.65 L303.3,356.69 L303.55,356.74 L303.8,356.79 L304.05,356.83 L304.3,356.88 L304.55,356.93 L304.8,356.97 L305.05,357.02 L305.3,357.07 L305.55,357.12 L305.8,357.17 L306.05,357.21 L306.3,357.26 L306.55,357.31 L306.8,357.36 L307.05,357.41 L307.3,357.46 L307.55,357.51 L307.8,357.56 L308.05,357.61 L308.3,357.66 L308.55,357.71 L308.8,357.75 L309.05,357.8 L309.3,357.85 L309.55,357.9 L309.8,357.95 L310.05,358 L310.3,358.05 L310.55,358.1 L310.8,358.16 L311.05,358.21 L311.3,358.26 L311.55,358.31 L311.8,358.36 L312.05,358.41 L312.3,358.47 L312.55,358.52 L312.8,358.58 L313.05,358.63 L313.3,358.68 L313.55,358.74 L313.8,358.8 L314.05,358.85 L314.3,358.91 L314.55,358.97 L314.8,359.02 L315.05,359.08 L315.3,359.14 L315.55,359.2 L315.8,359.26 L316.05,359.33 L316.3,359.39 L316.55,359.45 L316.8,359.52 L317.05,359.58 L317.3,359.65 L317.55,359.71 L317.8,359.78 L318.05,359.85 L318.3,359.92 L318.55,359.99 L318.8,360.06 L319.05,360.13 L319.3,360.21 L319.55,360.28 L319.8,360.36 L320.05,360.43 L320.3,360.51 L320.55,360.59 L320.8,360.67 L321.05,360.75 L321.3,360.83 L321.55,360.92 L321.8,361 L322.05,361.09 L322.3,361.18 L322.55,361.27 L322.8,361.37 L323.05,361.47 L323.3,361.56 L323.55,361.66 L323.8,361.77 L324.05,361.87 L324.3,361.98 L324.55,362.09 L324.8,362.2 L325.05,362.32 L325.3,362.43 L325.55,362.55 L325.8,362.67 L326.05,362.8 L326.3,362.93 L326.55,363.06 L326.8,363.19 L327.05,363.32 L327.3,363.46 L327.55,363.6 L327.8,363.75 L328.05,363.89 L328.3,364.04 L328.55,364.19 L328.8,364.35 L329.05,364.51 L329.3,364.67 L329.55,364.83 L329.8,365 L330.05,365.17 L330.3,365.35 L330.55,365.52 L330.8,365.71 L331.05,365.9 L331.3,366.09 L331.55,366.29 L331.8,366.5 L332.05,366.72 L332.3,366.94 L332.55,367.18 L332.8,367.42 L333.05,367.67 L333.3,367.94 L333.55,368.21 L333.8,368.5 L334.05,368.8 L334.3,369.11 L334.55,369.43 L334.8,369.77 L335.05,370.13 L335.3,370.49 L335.55,370.88 L335.8,371.29 L336.05,371.75 L336.3,372.25 L336.55,372.8 L336.8,373.39 L337.05,374.04 L337.3,374.74 L337.55,375.51 L337.8,376.33 L338.05,377.22 L338.3,378.18 L338.55,379.21 L338.8,380.41 L339.05,381.83 L339.3,383.5 L339.55,385.45 L339.8,387.7 L340.05,390.28 L340.3,393.59 L340.55,400.07 L340.8,407.66 L341.05,413.27 L341.3,413.99 L341.55,410.02 L341.8,403.6 L342.05,396.88 L342.3,392 L342.55,388.93 L342.8,386.21 L343.05,383.87 L343.3,381.93 L343.55,380.43 L343.8,379.16 L344.05,378 L344.3,376.96 L344.55,376.02 L344.8,375.17 L345.05,374.41 L345.3,373.74 L345.55,373.13 L345.8,372.59 L346.05,372.08 L346.3,371.61 L346.55,371.16 L346.8,370.75 L347.05,370.35 L347.3,369.98 L347.55,369.64 L347.8,369.31 L348.05,369.01 L348.3,368.72 L348.55,368.45 L348.8,368.19 L349.05,367.95 L349.3,367.72 L349.55,367.5 L349.8,367.29 L350.05,367.09 L350.3,366.89 L350.55,366.7 L350.8,366.52 L351.05,366.35 L351.3,366.18 L351.55,366.02 L351.8,365.86 L352.05,365.7 L352.3,365.55 L352.55,365.41 L352.8,365.26 L353.05,365.12 L353.3,364.99 L353.55,364.85 L353.8,364.71 L354.05,364.58 L354.3,364.45 L354.55,364.31 L354.8,364.18 L355.05,364.05 L355.3,363.92 L355.55,363.79 L355.8,363.65 L356.05,363.53 L356.3,363.4 L356.55,363.27 L356.8,363.14 L357.05,363.01 L357.3,362.89 L357.55,362.76 L357.8,362.64 L358.05,362.52 L358.3,362.4 L358.55,362.28 L358.8,362.16 L359.05,362.04 L359.3,361.92 L359.55,361.8 L359.8,361.69 L360.05,361.57 L360.3,361.46 L360.55,361.34 L360.8,361.23 L361.05,361.12 L361.3,361.01 L361.55,360.91 L361.8,360.8 L362.05,360.69 L362.3,360.59 L362.55,360.49 L362.8,360.39 L363.05,360.29 L363.3,360.19 L363.55,360.09 L363.8,360 L364.05,359.9 L364.3,359.81 L364.55,359.72 L364.8,359.63 L365.05,359.54 L365.3,359.46 L365.55,359.37 L365.8,359.29 L366.05,359.21 L366.3,359.13 L366.55,359.05 L366.8,358.97 L367.05,358.9 L367.3,358.82 L367.55,358.75 L367.8,358.68 L368.05,358.62 L368.3,358.55 L368.55,358.49 L368.8,358.42 L369.05,358.36 L369.3,358.3 L369.55,358.24 L369.8,358.18 L370.05,358.12 L370.3,358.06 L370.55,358 L370.8,357.94 L371.05,357.88 L371.3,357.83 L371.55,357.77 L371.8,357.71 L372.05,357.66 L372.3,357.6 L372.55,357.55 L372.8,357.49 L373.05,357.44 L373.3,357.39 L373.55,357.33 L373.8,357.28 L374.05,357.23 L374.3,357.18 L374.55,357.12 L374.8,357.07 L375.05,357.02 L375.3,356.97 L375.55,356.92 L375.8,356.87 L376.05,356.83 L376.3,356.78 L376.55,356.73 L376.8,356.68 L377.05,356.63 L377.3,356.59 L377.55,356.54 L377.8,356.49 L378.05,356.45 L378.3,356.4 L378.55,356.36 L378.8,356.31 L379.05,356.27 L379.3,356.23 L379.55,356.18 L379.8,356.14 L380.05,356.1 L380.3,356.05 L380.55,356.01 L380.8,355.97 L381.05,355.93 L381.3,355.89 L381.55,355.85 L381.8,355.81 L382.05,355.76 L382.3,355.72 L382.55,355.68 L382.8,355.65 L383.05,355.61 L383.3,355.57 L383.55,355.53 L383.8,355.49 L384.05,355.45 L384.3,355.41 L384.55,355.38 L384.8,355.34 L385.05,355.3 L385.3,355.26 L385.55,355.23 L385.8,355.19 L386.05,355.15 L386.3,355.12 L386.55,355.08 L386.8,355.05 L387.05,355.01 L387.3,354.98 L387.55,354.94 L387.8,354.91 L388.05,354.87 L388.3,354.84 L388.55,354.8 L388.8,354.77 L389.05,354.73 L389.3,354.7 L389.55,354.67 L389.8,354.63 L390.05,354.6 L390.3,354.56 L390.55,354.53 L390.8,354.5 L391.05,354.46 L391.3,354.43 L391.55,354.4 L391.8,354.37 L392.05,354.33 L392.3,354.3 L392.55,354.27 L392.8,354.24 L393.05,354.2 L393.3,354.17 L393.55,354.14 L393.8,354.11 L394.05,354.08 L394.3,354.04 L394.55,354.01 L394.8,353.98 L395.05,353.95 L395.3,353.92 L395.55,353.88 L395.8,353.85 L396.05,353.82 L396.3,353.79 L396.55,353.76 L396.8,353.73 L397.05,353.69 L397.3,353.66 L397.55,353.63 L397.8,353.6 L398.05,353.57 L398.3,353.54 L398.55,353.51 L398.8,353.48 L399.05,353.45 L399.3,353.42 L399.55,353.39 L399.8,353.36 L400.05,353.33 L400.3,353.3 L400.55,353.27 L400.8,353.24 L401.05,353.21 L401.3,353.18 L401.55,353.15 L401.8,353.12 L402.05,353.09 L402.3,353.06 L402.55,353.04 L402.8,353.01 L403.05,352.98 L403.3,352.95 L403.55,352.92 L403.8,352.9 L404.05,352.87 L404.3,352.84 L404.55,352.81 L404.8,352.79 L405.05,352.76 L405.3,352.73 L405.55,352.71 L405.8,352.68 L406.05,352.65 L406.3,352.63 L406.55,352.6 L406.8,352.57 L407.05,352.55 L407.3,352.52 L407.55,352.49 L407.8,352.47 L408.05,352.44 L408.3,352.42 L408.55,352.39 L408.8,352.37 L409.05,352.34 L409.3,352.32 L409.55,352.29 L409.8,352.27 L410.05,352.24 L410.3,352.22 L410.55,352.19 L410.8,352.17 L411.05,352.14 L411.3,352.12 L411.55,352.09 L411.8,352.07 L412.05,352.04 L412.3,352.02 L412.55,352 L412.8,351.97 L413.05,351.95 L413.3,351.92 L413.55,351.9 L413.8,351.88 L414.05,351.85 L414.3,351.83 L414.55,351.8 L414.8,351.78 L415.05,351.76 L415.3,351.73 L415.55,351.71 L415.8,351.69 L416.05,351.66 L416.3,351.64 L416.55,351.62 L416.8,351.59 L417.05,351.57 L417.3,351.55 L417.55,351.52 L417.8,351.5 L418.05,351.48 L418.3,351.45 L418.55,351.43 L418.8,351.41 L419.05,351.39 L419.3,351.36 L419.55,351.34 L419.8,351.32 L420.05,351.29 L420.3,351.27 L420.55,351.25 L420.8,351.23 L421.05,351.2 L421.3,351.18 L421.55,351.16 L421.8,351.14 L422.05,351.11 L422.3,351.09 L422.55,351.07 L422.8,351.04 L423.05,351.02 L423.3,351 L423.55,350.98 L423.8,350.95 L424.05,350.93 L424.3,350.91 L424.55,350.89 L424.8,350.86 L425.05,350.84 L425.3,350.82 L425.55,350.8 L425.8,350.77 L426.05,350.75 L426.3,350.73 L426.55,350.71 L426.8,350.68 L427.05,350.66 L427.3,350.64 L427.55,350.62 L427.8,350.6 L428.05,350.57 L428.3,350.55 L428.55,350.53 L428.8,350.51 L429.05,350.49 L429.3,350.47 L429.55,350.44 L429.8,350.42 L430.05,350.4 L430.3,350.38 L430.55,350.36 L430.8,350.34 L431.05,350.32 L431.3,350.3 L431.55,350.28 L431.8,350.26 L432.05,350.24 L432.3,350.22 L432.55,350.19 L432.8,350.17 L433.05,350.15 L433.3,350.13 L433.55,350.11 L433.8,350.09 L434.05,350.07 L434.3,350.05 L434.55,350.03 L434.8,350.01 L435.05,349.99 L435.3,349.97 L435.55,349.95 L435.8,349.93 L436.05,349.91 L436.3,349.89 L436.55,349.87 L436.8,349.85 L437.05,349.83 L437.3,349.81 L437.55,349.79 L437.8,349.77 L438.05,349.75 L438.3,349.73 L438.55,349.71 L438.8,349.69 L439.05,349.67 L439.3,349.65 L439.55,349.63 L439.8,349.61 L440.05,349.59 L440.3,349.57 L440.55,349.54 L440.8,349.52 L441.05,349.5 L441.3,349.48 L441.55,349.46 L441.8,349.44 L442.05,349.42 L442.3,349.4 L442.3,474.4 L255.8,474.4 Z" stroke="none" stroke-width="1" fill="#edf4fd"/><path d="M255.8,366.5 L256.05,366.53 L256.3,366.55 L256.55,366.58 L256.8,366.6 L257.05,366.62 L257.3,366.65 L257.55,366.67 L257.8,366.7 L258.05,366.72 L258.3,366.75 L258.55,366.77 L258.8,366.79 L259.05,366.82 L259.3,366.84 L259.55,366.86 L259.8,366.89 L260.05,366.91 L260.3,366.93 L260.55,366.96 L260.8,366.98 L261.05,367 L261.3,367.03 L261.55,367.05 L261.8,367.07 L262.05,367.09 L262.3,367.12 L262.55,367.14 L262.8,367.16 L263.05,367.18 L263.3,367.21 L263.55,367.23 L263.8,367.25 L264.05,367.28 L264.3,367.3 L264.55,367.32 L264.8,367.34 L265.05,367.37 L265.3,367.39 L265.55,367.41 L265.8,367.44 L266.05,367.46 L266.3,367.48 L266.55,367.5 L266.8,367.53 L267.05,367.55 L267.3,367.57 L267.55,367.6 L267.8,367.62 L268.05,367.65 L268.3,367.67 L268.55,367.69 L268.8,367.72 L269.05,367.74 L269.3,367.77 L269.55,367.79 L269.8,367.81 L270.05,367.84 L270.3,367.86 L270.55,367.89 L270.8,367.91 L271.05,367.94 L271.3,367.96 L271.55,367.99 L271.8,368.02 L272.05,368.04 L272.3,368.07 L272.55,368.09 L272.8,368.12 L273.05,368.15 L273.3,368.18 L273.55,368.2 L273.8,368.23 L274.05,368.26 L274.3,368.29 L274.55,368.31 L274.8,368.34 L275.05,368.37 L275.3,368.4 L275.55,368.43 L275.8,368.46 L276.05,368.49 L276.3,368.52 L276.55,368.55 L276.8,368.58 L277.05,368.61 L277.3,368.64 L277.55,368.68 L277.8,368.71 L278.05,368.74 L278.3,368.77 L278.55,368.81 L278.8,368.84 L279.05,368.87 L279.3,368.91 L279.55,368.94 L279.8,368.98 L280.05,369.01 L280.3,369.04 L280.55,369.08 L280.8,369.11 L281.05,369.15 L281.3,369.19 L281.55,369.22 L281.8,369.26 L282.05,369.29 L282.3,369.33 L282.55,369.37 L282.8,369.4 L283.05,369.44 L283.3,369.48 L283.55,369.52 L283.8,369.56 L284.05,369.59 L284.3,369.63 L284.55,369.67 L284.8,369.71 L285.05,369.75 L285.3,369.79 L285.55,369.83 L285.8,369.87 L286.05,369.91 L286.3,369.95 L286.55,369.99 L286.8,370.03 L287.05,370.07 L287.3,370.12 L287.55,370.16 L287.8,370.2 L288.05,370.24 L288.3,370.29 L288.55,370.33 L288.8,370.37 L289.05,370.42 L289.3,370.46 L289.55,370.51 L289.8,370.55 L290.05,370.6 L290.3,370.64 L290.55,370.69 L290.8,370.73 L291.05,370.78 L291.3,370.83 L291.55,370.87 L291.8,370.92 L292.05,370.97 L292.3,371.02 L292.55,371.06 L292.8,371.11 L293.05,371.16 L293.3,371.21 L293.55,371.26 L293.8,371.31 L294.05,371.36 L294.3,371.41 L294.55,371.46 L294.8,371.52 L295.05,371.57 L295.3,371.62 L295.55,371.67 L295.8,371.72 L296.05,371.78 L296.3,371.83 L296.55,371.89 L296.8,371.94 L297.05,371.99 L297.3,372.05 L297.55,372.11 L297.8,372.16 L298.05,372.22 L298.3,372.27 L298.55,372.33 L298.8,372.39 L299.05,372.45 L299.3,372.5 L299.55,372.56 L299.8,372.62 L300.05,372.68 L300.3,372.74 L300.55,372.8 L300.8,372.86 L301.05,372.92 L301.3,372.98 L301.55,373.05 L301.8,373.11 L302.05,373.17 L302.3,373.23 L302.55,373.3 L302.8,373.36 L303.05,373.43 L303.3,373.49 L303.55,373.56 L303.8,373.62 L304.05,373.69 L304.3,373.75 L304.55,373.82 L304.8,373.89 L305.05,373.96 L305.3,374.02 L305.55,374.09 L305.8,374.16 L306.05,374.23 L306.3,374.3 L306.55,374.37 L306.8,374.44 L307.05,374.51 L307.3,374.59 L307.55,374.66 L307.8,374.74 L308.05,374.81 L308.3,374.89 L308.55,374.97 L308.8,375.05 L309.05,375.13 L309.3,375.21 L309.55,375.3 L309.8,375.38 L310.05,375.47 L310.3,375.56 L310.55,375.65 L310.8,375.74 L311.05,375.83 L311.3,375.92 L311.55,376.02 L311.8,376.12 L312.05,376.21 L312.3,376.31 L312.55,376.41 L312.8,376.51 L313.05,376.62 L313.3,376.72 L313.55,376.83 L313.8,376.93 L314.05,377.04 L314.3,377.15 L314.55,377.26 L314.8,377.37 L315.05,377.49 L315.3,377.6 L315.55,377.72 L315.8,377.83 L316.05,377.95 L316.3,378.07 L316.55,378.2 L316.8,378.32 L317.05,378.44 L317.3,378.57 L317.55,378.69 L317.8,378.82 L318.05,378.95 L318.3,379.08 L318.55,379.22 L318.8,379.35 L319.05,379.48 L319.3,379.62 L319.55,379.76 L319.8,379.9 L320.05,380.04 L320.3,380.18 L320.55,380.32 L320.8,380.47 L321.05,380.61 L321.3,380.76 L321.55,380.91 L321.8,381.07 L322.05,381.23 L322.3,381.39 L322.55,381.56 L322.8,381.73 L323.05,381.91 L323.3,382.09 L323.55,382.28 L323.8,382.47 L324.05,382.66 L324.3,382.85 L324.55,383.05 L324.8,383.26 L325.05,383.46 L325.3,383.67 L325.55,383.89 L325.8,384.1 L326.05,384.32 L326.3,384.54 L326.55,384.77 L326.8,384.99 L327.05,385.22 L327.3,385.46 L327.55,385.69 L327.8,385.93 L328.05,386.17 L328.3,386.41 L328.55,386.65 L328.8,386.9 L329.05,387.15 L329.3,387.4 L329.55,387.65 L329.8,387.9 L330.05,388.16 L330.3,388.42 L330.55,388.69 L330.8,388.97 L331.05,389.26 L331.3,389.55 L331.55,389.84 L331.8,390.15 L332.05,390.45 L332.3,390.76 L332.55,391.08 L332.8,391.4 L333.05,391.72 L333.3,392.05 L333.55,392.38 L333.8,392.71 L334.05,393.04 L334.3,393.38 L334.55,393.71 L334.8,394.05 L335.05,394.39 L335.3,394.73 L335.55,395.07 L335.8,395.4 L336.05,395.73 L336.3,396.06 L336.55,396.39 L336.8,396.71 L337.05,397.03 L337.3,397.36 L337.55,397.68 L337.8,398.01 L338.05,398.35 L338.3,398.69 L338.55,399.04 L338.8,399.4 L339.05,399.77 L339.3,400.14 L339.55,400.53 L339.8,400.94 L340.05,401.36 L340.3,401.79 L340.55,402.24 L340.8,402.71 L341.05,403.2 L341.3,403.71 L341.55,404.25 L341.8,404.83 L342.05,405.44 L342.3,406.09 L342.55,406.77 L342.8,407.48 L343.05,408.22 L343.3,408.99 L343.55,409.79 L343.8,410.62 L344.05,411.48 L344.3,412.37 L344.55,413.29 L344.8,414.23 L345.05,415.2 L345.3,416.2 L345.55,417.24 L345.8,418.34 L346.05,419.51 L346.3,420.74 L346.55,422.06 L346.8,423.48 L347.05,424.99 L347.3,426.61 L347.55,428.38 L347.8,430.96 L348.05,434.28 L348.3,437.83 L348.55,441.09 L348.8,443.58 L349.05,444.76 L349.3,444.19 L349.55,442 L349.8,438.71 L350.05,434.83 L350.3,430.87 L350.55,427.32 L350.8,423.51 L351.05,419.39 L351.3,415.53 L351.55,412.47 L351.8,410.29 L352.05,408.26 L352.3,406.38 L352.55,404.63 L352.8,403.03 L353.05,401.58 L353.3,400.29 L353.55,399.16 L353.8,398.19 L354.05,397.39 L354.3,396.76 L354.55,396.19 L354.8,395.65 L355.05,395.13 L355.3,394.65 L355.55,394.2 L355.8,393.77 L356.05,393.36 L356.3,392.98 L356.55,392.62 L356.8,392.28 L357.05,391.96 L357.3,391.65 L357.55,391.36 L357.8,391.08 L358.05,390.82 L358.3,390.57 L358.55,390.32 L358.8,390.08 L359.05,389.85 L359.3,389.62 L359.55,389.4 L359.8,389.18 L360.05,388.96 L360.3,388.74 L360.55,388.52 L360.8,388.31 L361.05,388.11 L361.3,387.91 L361.55,387.71 L361.8,387.52 L362.05,387.33 L362.3,387.14 L362.55,386.96 L362.8,386.79 L363.05,386.61 L363.3,386.44 L363.55,386.28 L363.8,386.12 L364.05,385.96 L364.3,385.8 L364.55,385.65 L364.8,385.5 L365.05,385.36 L365.3,385.21 L365.55,385.07 L365.8,384.94 L366.05,384.8 L366.3,384.67 L366.55,384.54 L366.8,384.41 L367.05,384.29 L367.3,384.16 L367.55,384.04 L367.8,383.92 L368.05,383.81 L368.3,383.69 L368.55,383.58 L368.8,383.47 L369.05,383.35 L369.3,383.24 L369.55,383.13 L369.8,383.02 L370.05,382.92 L370.3,382.81 L370.55,382.7 L370.8,382.6 L371.05,382.49 L371.3,382.39 L371.55,382.28 L371.8,382.18 L372.05,382.08 L372.3,381.98 L372.55,381.88 L372.8,381.78 L373.05,381.68 L373.3,381.58 L373.55,381.48 L373.8,381.38 L374.05,381.29 L374.3,381.19 L374.55,381.1 L374.8,381 L375.05,380.91 L375.3,380.82 L375.55,380.72 L375.8,380.63 L376.05,380.54 L376.3,380.45 L376.55,380.36 L376.8,380.27 L377.05,380.18 L377.3,380.09 L377.55,380.01 L377.8,379.92 L378.05,379.83 L378.3,379.75 L378.55,379.66 L378.8,379.58 L379.05,379.5 L379.3,379.41 L379.55,379.33 L379.8,379.25 L380.05,379.17 L380.3,379.08 L380.55,379 L380.8,378.92 L381.05,378.84 L381.3,378.77 L381.55,378.69 L381.8,378.61 L382.05,378.53 L382.3,378.45 L382.55,378.38 L382.8,378.3 L383.05,378.23 L383.3,378.15 L383.55,378.07 L383.8,378 L384.05,377.93 L384.3,377.85 L384.55,377.78 L384.8,377.71 L385.05,377.63 L385.3,377.56 L385.55,377.49 L385.8,377.42 L386.05,377.35 L386.3,377.28 L386.55,377.21 L386.8,377.14 L387.05,377.07 L387.3,377 L387.55,376.93 L387.8,376.86 L388.05,376.79 L388.3,376.73 L388.55,376.66 L388.8,376.59 L389.05,376.52 L389.3,376.46 L389.55,376.39 L389.8,376.32 L390.05,376.26 L390.3,376.19 L390.55,376.13 L390.8,376.06 L391.05,376 L391.3,375.93 L391.55,375.87 L391.8,375.8 L392.05,375.74 L392.3,375.67 L392.55,375.61 L392.8,375.55 L393.05,375.48 L393.3,375.42 L393.55,375.36 L393.8,375.29 L394.05,375.23 L394.3,375.17 L394.55,375.11 L394.8,375.04 L395.05,374.98 L395.3,374.92 L395.55,374.86 L395.8,374.8 L396.05,374.73 L396.3,374.67 L396.55,374.61 L396.8,374.55 L397.05,374.49 L397.3,374.43 L397.55,374.37 L397.8,374.3 L398.05,374.24 L398.3,374.18 L398.55,374.12 L398.8,374.06 L399.05,374 L399.3,373.94 L399.55,373.88 L399.8,373.83 L400.05,373.77 L400.3,373.71 L400.55,373.65 L400.8,373.59 L401.05,373.53 L401.3,373.48 L401.55,373.42 L401.8,373.36 L402.05,373.3 L402.3,373.25 L402.55,373.19 L402.8,373.13 L403.05,373.08 L403.3,373.02 L403.55,372.97 L403.8,372.91 L404.05,372.85 L404.3,372.8 L404.55,372.74 L404.8,372.69 L405.05,372.63 L405.3,372.58 L405.55,372.53 L405.8,372.47 L406.05,372.42 L406.3,372.36 L406.55,372.31 L406.8,372.26 L407.05,372.2 L407.3,372.15 L407.55,372.1 L407.8,372.05 L408.05,371.99 L408.3,371.94 L408.55,371.89 L408.8,371.84 L409.05,371.79 L409.3,371.74 L409.55,371.69 L409.8,371.63 L410.05,371.58 L410.3,371.53 L410.55,371.48 L410.8,371.43 L411.05,371.38 L411.3,371.33 L411.55,371.28 L411.8,371.23 L412.05,371.19 L412.3,371.14 L412.55,371.09 L412.8,371.04 L413.05,370.99 L413.3,370.94 L413.55,370.89 L413.8,370.85 L414.05,370.8 L414.3,370.75 L414.55,370.7 L414.8,370.66 L415.05,370.61 L415.3,370.56 L415.55,370.52 L415.8,370.47 L416.05,370.42 L416.3,370.38 L416.55,370.33 L416.8,370.29 L417.05,370.24 L417.3,370.2 L417.55,370.15 L417.8,370.11 L418.05,370.06 L418.3,370.02 L418.55,369.97 L418.8,369.93 L419.05,369.88 L419.3,369.84 L419.55,369.8 L419.8,369.75 L420.05,369.71 L420.3,369.67 L420.55,369.62 L420.8,369.58 L421.05,369.54 L421.3,369.49 L421.55,369.45 L421.8,369.41 L422.05,369.37 L422.3,369.32 L422.55,369.28 L422.8,369.24 L423.05,369.2 L423.3,369.16 L423.55,369.12 L423.8,369.08 L424.05,369.03 L424.3,368.99 L424.55,368.95 L424.8,368.91 L425.05,368.87 L425.3,368.83 L425.55,368.79 L425.8,368.75 L426.05,368.71 L426.3,368.67 L426.55,368.63 L426.8,368.6 L427.05,368.56 L427.3,368.52 L427.55,368.48 L427.8,368.45 L428.05,368.41 L428.3,368.37 L428.55,368.34 L428.8,368.3 L429.05,368.26 L429.3,368.23 L429.55,368.19 L429.8,368.16 L430.05,368.12 L430.3,368.09 L430.55,368.05 L430.8,368.02 L431.05,367.98 L431.3,367.95 L431.55,367.91 L431.8,367.88 L432.05,367.85 L432.3,367.81 L432.55,367.78 L432.8,367.75 L433.05,367.71 L433.3,367.68 L433.55,367.65 L433.8,367.61 L434.05,367.58 L434.3,367.55 L434.55,367.52 L434.8,367.48 L435.05,367.45 L435.3,367.42 L435.55,367.39 L435.8,367.35 L436.05,367.32 L436.3,367.29 L436.55,367.26 L436.8,367.23 L437.05,367.19 L437.3,367.16 L437.55,367.13 L437.8,367.1 L438.05,367.06 L438.3,367.03 L438.55,367 L438.8,366.97 L439.05,366.93 L439.3,366.9 L439.55,366.87 L439.8,366.83 L440.05,366.8 L440.3,366.77 L440.55,366.74 L440.8,366.7 L441.05,366.67 L441.3,366.64 L441.55,366.6 L441.8,366.57 L442.05,366.53 L442.3,366.5 L442.3,474.4 L255.8,474.4 Z" stroke="none" stroke-width="1" fill="url(#ghD)"/><line x1="341.4" y1="343.3" x2="341.4" y2="474.4" stroke="#aaa" stroke-width="0.6" stroke-dasharray="0.8 0.9"/><path d="M255.8,350 L256.05,350.03 L256.3,350.06 L256.55,350.09 L256.8,350.12 L257.05,350.15 L257.3,350.18 L257.55,350.21 L257.8,350.24 L258.05,350.27 L258.3,350.3 L258.55,350.33 L258.8,350.36 L259.05,350.39 L259.3,350.42 L259.55,350.45 L259.8,350.48 L260.05,350.51 L260.3,350.54 L260.55,350.57 L260.8,350.6 L261.05,350.63 L261.3,350.66 L261.55,350.69 L261.8,350.72 L262.05,350.75 L262.3,350.78 L262.55,350.81 L262.8,350.84 L263.05,350.87 L263.3,350.9 L263.55,350.93 L263.8,350.96 L264.05,350.99 L264.3,351.02 L264.55,351.05 L264.8,351.08 L265.05,351.11 L265.3,351.14 L265.55,351.16 L265.8,351.19 L266.05,351.22 L266.3,351.25 L266.55,351.28 L266.8,351.31 L267.05,351.34 L267.3,351.37 L267.55,351.4 L267.8,351.43 L268.05,351.46 L268.3,351.49 L268.55,351.52 L268.8,351.55 L269.05,351.58 L269.3,351.61 L269.55,351.64 L269.8,351.67 L270.05,351.71 L270.3,351.74 L270.55,351.77 L270.8,351.8 L271.05,351.83 L271.3,351.86 L271.55,351.89 L271.8,351.92 L272.05,351.95 L272.3,351.98 L272.55,352.01 L272.8,352.05 L273.05,352.08 L273.3,352.11 L273.55,352.14 L273.8,352.17 L274.05,352.21 L274.3,352.24 L274.55,352.27 L274.8,352.3 L275.05,352.34 L275.3,352.37 L275.55,352.4 L275.8,352.43 L276.05,352.47 L276.3,352.5 L276.55,352.53 L276.8,352.57 L277.05,352.6 L277.3,352.63 L277.55,352.67 L277.8,352.7 L278.05,352.74 L278.3,352.77 L278.55,352.81 L278.8,352.84 L279.05,352.88 L279.3,352.91 L279.55,352.95 L279.8,352.98 L280.05,353.02 L280.3,353.05 L280.55,353.09 L280.8,353.12 L281.05,353.16 L281.3,353.19 L281.55,353.23 L281.8,353.26 L282.05,353.3 L282.3,353.33 L282.55,353.37 L282.8,353.41 L283.05,353.44 L283.3,353.48 L283.55,353.51 L283.8,353.55 L284.05,353.58 L284.3,353.62 L284.55,353.66 L284.8,353.69 L285.05,353.73 L285.3,353.77 L285.55,353.8 L285.8,353.84 L286.05,353.88 L286.3,353.91 L286.55,353.95 L286.8,353.99 L287.05,354.02 L287.3,354.06 L287.55,354.1 L287.8,354.13 L288.05,354.17 L288.3,354.21 L288.55,354.25 L288.8,354.28 L289.05,354.32 L289.3,354.36 L289.55,354.4 L289.8,354.44 L290.05,354.47 L290.3,354.51 L290.55,354.55 L290.8,354.59 L291.05,354.63 L291.3,354.67 L291.55,354.71 L291.8,354.74 L292.05,354.78 L292.3,354.82 L292.55,354.86 L292.8,354.9 L293.05,354.94 L293.3,354.98 L293.55,355.02 L293.8,355.06 L294.05,355.1 L294.3,355.14 L294.55,355.18 L294.8,355.22 L295.05,355.26 L295.3,355.3 L295.55,355.34 L295.8,355.39 L296.05,355.43 L296.3,355.47 L296.55,355.51 L296.8,355.55 L297.05,355.59 L297.3,355.64 L297.55,355.68 L297.8,355.72 L298.05,355.76 L298.3,355.8 L298.55,355.85 L298.8,355.89 L299.05,355.93 L299.3,355.98 L299.55,356.02 L299.8,356.06 L300.05,356.11 L300.3,356.15 L300.55,356.2 L300.8,356.24 L301.05,356.28 L301.3,356.33 L301.55,356.37 L301.8,356.42 L302.05,356.46 L302.3,356.51 L302.55,356.56 L302.8,356.6 L303.05,356.65 L303.3,356.69 L303.55,356.74 L303.8,356.79 L304.05,356.83 L304.3,356.88 L304.55,356.93 L304.8,356.97 L305.05,357.02 L305.3,357.07 L305.55,357.12 L305.8,357.17 L306.05,357.21 L306.3,357.26 L306.55,357.31 L306.8,357.36 L307.05,357.41 L307.3,357.46 L307.55,357.51 L307.8,357.56 L308.05,357.61 L308.3,357.66 L308.55,357.71 L308.8,357.75 L309.05,357.8 L309.3,357.85 L309.55,357.9 L309.8,357.95 L310.05,358 L310.3,358.05 L310.55,358.1 L310.8,358.16 L311.05,358.21 L311.3,358.26 L311.55,358.31 L311.8,358.36 L312.05,358.41 L312.3,358.47 L312.55,358.52 L312.8,358.58 L313.05,358.63 L313.3,358.68 L313.55,358.74 L313.8,358.8 L314.05,358.85 L314.3,358.91 L314.55,358.97 L314.8,359.02 L315.05,359.08 L315.3,359.14 L315.55,359.2 L315.8,359.26 L316.05,359.33 L316.3,359.39 L316.55,359.45 L316.8,359.52 L317.05,359.58 L317.3,359.65 L317.55,359.71 L317.8,359.78 L318.05,359.85 L318.3,359.92 L318.55,359.99 L318.8,360.06 L319.05,360.13 L319.3,360.21 L319.55,360.28 L319.8,360.36 L320.05,360.43 L320.3,360.51 L320.55,360.59 L320.8,360.67 L321.05,360.75 L321.3,360.83 L321.55,360.92 L321.8,361 L322.05,361.09 L322.3,361.18 L322.55,361.27 L322.8,361.37 L323.05,361.47 L323.3,361.56 L323.55,361.66 L323.8,361.77 L324.05,361.87 L324.3,361.98 L324.55,362.09 L324.8,362.2 L325.05,362.32 L325.3,362.43 L325.55,362.55 L325.8,362.67 L326.05,362.8 L326.3,362.93 L326.55,363.06 L326.8,363.19 L327.05,363.32 L327.3,363.46 L327.55,363.6 L327.8,363.75 L328.05,363.89 L328.3,364.04 L328.55,364.19 L328.8,364.35 L329.05,364.51 L329.3,364.67 L329.55,364.83 L329.8,365 L330.05,365.17 L330.3,365.35 L330.55,365.52 L330.8,365.71 L331.05,365.9 L331.3,366.09 L331.55,366.29 L331.8,366.5 L332.05,366.72 L332.3,366.94 L332.55,367.18 L332.8,367.42 L333.05,367.67 L333.3,367.94 L333.55,368.21 L333.8,368.5 L334.05,368.8 L334.3,369.11 L334.55,369.43 L334.8,369.77 L335.05,370.13 L335.3,370.49 L335.55,370.88 L335.8,371.29 L336.05,371.75 L336.3,372.25 L336.55,372.8 L336.8,373.39 L337.05,374.04 L337.3,374.74 L337.55,375.51 L337.8,376.33 L338.05,377.22 L338.3,378.18 L338.55,379.21 L338.8,380.41" stroke="#2f6fd6" stroke-width="1.7" fill="none"/><path d="M343.55,380.43 L343.8,379.16 L344.05,378 L344.3,376.96 L344.55,376.02 L344.8,375.17 L345.05,374.41 L345.3,373.74 L345.55,373.13 L345.8,372.59 L346.05,372.08 L346.3,371.61 L346.55,371.16 L346.8,370.75 L347.05,370.35 L347.3,369.98 L347.55,369.64 L347.8,369.31 L348.05,369.01 L348.3,368.72 L348.55,368.45 L348.8,368.19 L349.05,367.95 L349.3,367.72 L349.55,367.5 L349.8,367.29 L350.05,367.09 L350.3,366.89 L350.55,366.7 L350.8,366.52 L351.05,366.35 L351.3,366.18 L351.55,366.02 L351.8,365.86 L352.05,365.7 L352.3,365.55 L352.55,365.41 L352.8,365.26 L353.05,365.12 L353.3,364.99 L353.55,364.85 L353.8,364.71 L354.05,364.58 L354.3,364.45 L354.55,364.31 L354.8,364.18 L355.05,364.05 L355.3,363.92 L355.55,363.79 L355.8,363.65 L356.05,363.53 L356.3,363.4 L356.55,363.27 L356.8,363.14 L357.05,363.01 L357.3,362.89 L357.55,362.76 L357.8,362.64 L358.05,362.52 L358.3,362.4 L358.55,362.28 L358.8,362.16 L359.05,362.04 L359.3,361.92 L359.55,361.8 L359.8,361.69 L360.05,361.57 L360.3,361.46 L360.55,361.34 L360.8,361.23 L361.05,361.12 L361.3,361.01 L361.55,360.91 L361.8,360.8 L362.05,360.69 L362.3,360.59 L362.55,360.49 L362.8,360.39 L363.05,360.29 L363.3,360.19 L363.55,360.09 L363.8,360 L364.05,359.9 L364.3,359.81 L364.55,359.72 L364.8,359.63 L365.05,359.54 L365.3,359.46 L365.55,359.37 L365.8,359.29 L366.05,359.21 L366.3,359.13 L366.55,359.05 L366.8,358.97 L367.05,358.9 L367.3,358.82 L367.55,358.75 L367.8,358.68 L368.05,358.62 L368.3,358.55 L368.55,358.49 L368.8,358.42 L369.05,358.36 L369.3,358.3 L369.55,358.24 L369.8,358.18 L370.05,358.12 L370.3,358.06 L370.55,358 L370.8,357.94 L371.05,357.88 L371.3,357.83 L371.55,357.77 L371.8,357.71 L372.05,357.66 L372.3,357.6 L372.55,357.55 L372.8,357.49 L373.05,357.44 L373.3,357.39 L373.55,357.33 L373.8,357.28 L374.05,357.23 L374.3,357.18 L374.55,357.12 L374.8,357.07 L375.05,357.02 L375.3,356.97 L375.55,356.92 L375.8,356.87 L376.05,356.83 L376.3,356.78 L376.55,356.73 L376.8,356.68 L377.05,356.63 L377.3,356.59 L377.55,356.54 L377.8,356.49 L378.05,356.45 L378.3,356.4 L378.55,356.36 L378.8,356.31 L379.05,356.27 L379.3,356.23 L379.55,356.18 L379.8,356.14 L380.05,356.1 L380.3,356.05 L380.55,356.01 L380.8,355.97 L381.05,355.93 L381.3,355.89 L381.55,355.85 L381.8,355.81 L382.05,355.76 L382.3,355.72 L382.55,355.68 L382.8,355.65 L383.05,355.61 L383.3,355.57 L383.55,355.53 L383.8,355.49 L384.05,355.45 L384.3,355.41 L384.55,355.38 L384.8,355.34 L385.05,355.3 L385.3,355.26 L385.55,355.23 L385.8,355.19 L386.05,355.15 L386.3,355.12 L386.55,355.08 L386.8,355.05 L387.05,355.01 L387.3,354.98 L387.55,354.94 L387.8,354.91 L388.05,354.87 L388.3,354.84 L388.55,354.8 L388.8,354.77 L389.05,354.73 L389.3,354.7 L389.55,354.67 L389.8,354.63 L390.05,354.6 L390.3,354.56 L390.55,354.53 L390.8,354.5 L391.05,354.46 L391.3,354.43 L391.55,354.4 L391.8,354.37 L392.05,354.33 L392.3,354.3 L392.55,354.27 L392.8,354.24 L393.05,354.2 L393.3,354.17 L393.55,354.14 L393.8,354.11 L394.05,354.08 L394.3,354.04 L394.55,354.01 L394.8,353.98 L395.05,353.95 L395.3,353.92 L395.55,353.88 L395.8,353.85 L396.05,353.82 L396.3,353.79 L396.55,353.76 L396.8,353.73 L397.05,353.69 L397.3,353.66 L397.55,353.63 L397.8,353.6 L398.05,353.57 L398.3,353.54 L398.55,353.51 L398.8,353.48 L399.05,353.45 L399.3,353.42 L399.55,353.39 L399.8,353.36 L400.05,353.33 L400.3,353.3 L400.55,353.27 L400.8,353.24 L401.05,353.21 L401.3,353.18 L401.55,353.15 L401.8,353.12 L402.05,353.09 L402.3,353.06 L402.55,353.04 L402.8,353.01 L403.05,352.98 L403.3,352.95 L403.55,352.92 L403.8,352.9 L404.05,352.87 L404.3,352.84 L404.55,352.81 L404.8,352.79 L405.05,352.76 L405.3,352.73 L405.55,352.71 L405.8,352.68 L406.05,352.65 L406.3,352.63 L406.55,352.6 L406.8,352.57 L407.05,352.55 L407.3,352.52 L407.55,352.49 L407.8,352.47 L408.05,352.44 L408.3,352.42 L408.55,352.39 L408.8,352.37 L409.05,352.34 L409.3,352.32 L409.55,352.29 L409.8,352.27 L410.05,352.24 L410.3,352.22 L410.55,352.19 L410.8,352.17 L411.05,352.14 L411.3,352.12 L411.55,352.09 L411.8,352.07 L412.05,352.04 L412.3,352.02 L412.55,352 L412.8,351.97 L413.05,351.95 L413.3,351.92 L413.55,351.9 L413.8,351.88 L414.05,351.85 L414.3,351.83 L414.55,351.8 L414.8,351.78 L415.05,351.76 L415.3,351.73 L415.55,351.71 L415.8,351.69 L416.05,351.66 L416.3,351.64 L416.55,351.62 L416.8,351.59 L417.05,351.57 L417.3,351.55 L417.55,351.52 L417.8,351.5 L418.05,351.48 L418.3,351.45 L418.55,351.43 L418.8,351.41 L419.05,351.39 L419.3,351.36 L419.55,351.34 L419.8,351.32 L420.05,351.29 L420.3,351.27 L420.55,351.25 L420.8,351.23 L421.05,351.2 L421.3,351.18 L421.55,351.16 L421.8,351.14 L422.05,351.11 L422.3,351.09 L422.55,351.07 L422.8,351.04 L423.05,351.02 L423.3,351 L423.55,350.98 L423.8,350.95 L424.05,350.93 L424.3,350.91 L424.55,350.89 L424.8,350.86 L425.05,350.84 L425.3,350.82 L425.55,350.8 L425.8,350.77 L426.05,350.75 L426.3,350.73 L426.55,350.71 L426.8,350.68 L427.05,350.66 L427.3,350.64 L427.55,350.62 L427.8,350.6 L428.05,350.57 L428.3,350.55 L428.55,350.53 L428.8,350.51 L429.05,350.49 L429.3,350.47 L429.55,350.44 L429.8,350.42 L430.05,350.4 L430.3,350.38 L430.55,350.36 L430.8,350.34 L431.05,350.32 L431.3,350.3 L431.55,350.28 L431.8,350.26 L432.05,350.24 L432.3,350.22 L432.55,350.19 L432.8,350.17 L433.05,350.15 L433.3,350.13 L433.55,350.11 L433.8,350.09 L434.05,350.07 L434.3,350.05 L434.55,350.03 L434.8,350.01 L435.05,349.99 L435.3,349.97 L435.55,349.95 L435.8,349.93 L436.05,349.91 L436.3,349.89 L436.55,349.87 L436.8,349.85 L437.05,349.83 L437.3,349.81 L437.55,349.79 L437.8,349.77 L438.05,349.75 L438.3,349.73 L438.55,349.71 L438.8,349.69 L439.05,349.67 L439.3,349.65 L439.55,349.63 L439.8,349.61 L440.05,349.59 L440.3,349.57 L440.55,349.54 L440.8,349.52 L441.05,349.5 L441.3,349.48 L441.55,349.46 L441.8,349.44 L442.05,349.42 L442.3,349.4" stroke="#2f6fd6" stroke-width="1.7" fill="none"/><path d="M255.8,366.5 L256.05,366.53 L256.3,366.55 L256.55,366.58 L256.8,366.6 L257.05,366.62 L257.3,366.65 L257.55,366.67 L257.8,366.7 L258.05,366.72 L258.3,366.75 L258.55,366.77 L258.8,366.79 L259.05,366.82 L259.3,366.84 L259.55,366.86 L259.8,366.89 L260.05,366.91 L260.3,366.93 L260.55,366.96 L260.8,366.98 L261.05,367 L261.3,367.03 L261.55,367.05 L261.8,367.07 L262.05,367.09 L262.3,367.12 L262.55,367.14 L262.8,367.16 L263.05,367.18 L263.3,367.21 L263.55,367.23 L263.8,367.25 L264.05,367.28 L264.3,367.3 L264.55,367.32 L264.8,367.34 L265.05,367.37 L265.3,367.39 L265.55,367.41 L265.8,367.44 L266.05,367.46 L266.3,367.48 L266.55,367.5 L266.8,367.53 L267.05,367.55 L267.3,367.57 L267.55,367.6 L267.8,367.62 L268.05,367.65 L268.3,367.67 L268.55,367.69 L268.8,367.72 L269.05,367.74 L269.3,367.77 L269.55,367.79 L269.8,367.81 L270.05,367.84 L270.3,367.86 L270.55,367.89 L270.8,367.91 L271.05,367.94 L271.3,367.96 L271.55,367.99 L271.8,368.02 L272.05,368.04 L272.3,368.07 L272.55,368.09 L272.8,368.12 L273.05,368.15 L273.3,368.18 L273.55,368.2 L273.8,368.23 L274.05,368.26 L274.3,368.29 L274.55,368.31 L274.8,368.34 L275.05,368.37 L275.3,368.4 L275.55,368.43 L275.8,368.46 L276.05,368.49 L276.3,368.52 L276.55,368.55 L276.8,368.58 L277.05,368.61 L277.3,368.64 L277.55,368.68 L277.8,368.71 L278.05,368.74 L278.3,368.77 L278.55,368.81 L278.8,368.84 L279.05,368.87 L279.3,368.91 L279.55,368.94 L279.8,368.98 L280.05,369.01 L280.3,369.04 L280.55,369.08 L280.8,369.11 L281.05,369.15 L281.3,369.19 L281.55,369.22 L281.8,369.26 L282.05,369.29 L282.3,369.33 L282.55,369.37 L282.8,369.4 L283.05,369.44 L283.3,369.48 L283.55,369.52 L283.8,369.56 L284.05,369.59 L284.3,369.63 L284.55,369.67 L284.8,369.71 L285.05,369.75 L285.3,369.79 L285.55,369.83 L285.8,369.87 L286.05,369.91 L286.3,369.95 L286.55,369.99 L286.8,370.03 L287.05,370.07 L287.3,370.12 L287.55,370.16 L287.8,370.2 L288.05,370.24 L288.3,370.29 L288.55,370.33 L288.8,370.37 L289.05,370.42 L289.3,370.46 L289.55,370.51 L289.8,370.55 L290.05,370.6 L290.3,370.64 L290.55,370.69 L290.8,370.73 L291.05,370.78 L291.3,370.83 L291.55,370.87 L291.8,370.92 L292.05,370.97 L292.3,371.02 L292.55,371.06 L292.8,371.11 L293.05,371.16 L293.3,371.21 L293.55,371.26 L293.8,371.31 L294.05,371.36 L294.3,371.41 L294.55,371.46 L294.8,371.52 L295.05,371.57 L295.3,371.62 L295.55,371.67 L295.8,371.72 L296.05,371.78 L296.3,371.83 L296.55,371.89 L296.8,371.94 L297.05,371.99 L297.3,372.05 L297.55,372.11 L297.8,372.16 L298.05,372.22 L298.3,372.27 L298.55,372.33 L298.8,372.39 L299.05,372.45 L299.3,372.5 L299.55,372.56 L299.8,372.62 L300.05,372.68 L300.3,372.74 L300.55,372.8 L300.8,372.86 L301.05,372.92 L301.3,372.98 L301.55,373.05 L301.8,373.11 L302.05,373.17 L302.3,373.23 L302.55,373.3 L302.8,373.36 L303.05,373.43 L303.3,373.49 L303.55,373.56 L303.8,373.62 L304.05,373.69 L304.3,373.75 L304.55,373.82 L304.8,373.89 L305.05,373.96 L305.3,374.02 L305.55,374.09 L305.8,374.16 L306.05,374.23 L306.3,374.3 L306.55,374.37 L306.8,374.44 L307.05,374.51 L307.3,374.59 L307.55,374.66 L307.8,374.74 L308.05,374.81 L308.3,374.89 L308.55,374.97 L308.8,375.05 L309.05,375.13 L309.3,375.21 L309.55,375.3 L309.8,375.38 L310.05,375.47 L310.3,375.56 L310.55,375.65 L310.8,375.74 L311.05,375.83 L311.3,375.92 L311.55,376.02 L311.8,376.12 L312.05,376.21 L312.3,376.31 L312.55,376.41 L312.8,376.51 L313.05,376.62 L313.3,376.72 L313.55,376.83 L313.8,376.93 L314.05,377.04 L314.3,377.15 L314.55,377.26 L314.8,377.37 L315.05,377.49 L315.3,377.6 L315.55,377.72 L315.8,377.83 L316.05,377.95 L316.3,378.07 L316.55,378.2 L316.8,378.32 L317.05,378.44 L317.3,378.57 L317.55,378.69 L317.8,378.82 L318.05,378.95 L318.3,379.08 L318.55,379.22 L318.8,379.35 L319.05,379.48 L319.3,379.62 L319.55,379.76 L319.8,379.9 L320.05,380.04 L320.3,380.18 L320.55,380.32 L320.8,380.47 L321.05,380.61 L321.3,380.76 L321.55,380.91 L321.8,381.07 L322.05,381.23 L322.3,381.39 L322.55,381.56 L322.8,381.73 L323.05,381.91 L323.3,382.09 L323.55,382.28 L323.8,382.47 L324.05,382.66 L324.3,382.85 L324.55,383.05 L324.8,383.26 L325.05,383.46 L325.3,383.67 L325.55,383.89 L325.8,384.1 L326.05,384.32 L326.3,384.54 L326.55,384.77 L326.8,384.99 L327.05,385.22 L327.3,385.46 L327.55,385.69 L327.8,385.93 L328.05,386.17 L328.3,386.41 L328.55,386.65 L328.8,386.9 L329.05,387.15 L329.3,387.4 L329.55,387.65 L329.8,387.9 L330.05,388.16 L330.3,388.42 L330.55,388.69 L330.8,388.97 L331.05,389.26 L331.3,389.55 L331.55,389.84 L331.8,390.15 L332.05,390.45 L332.3,390.76 L332.55,391.08 L332.8,391.4 L333.05,391.72 L333.3,392.05 L333.55,392.38 L333.8,392.71 L334.05,393.04 L334.3,393.38 L334.55,393.71 L334.8,394.05 L335.05,394.39 L335.3,394.73 L335.55,395.07 L335.8,395.4 L336.05,395.73 L336.3,396.06 L336.55,396.39 L336.8,396.71 L337.05,397.03 L337.3,397.36 L337.55,397.68 L337.8,398.01 L338.05,398.35 L338.3,398.69 L338.55,399.04 L338.8,399.4 L339.05,399.77 L339.3,400.14 L339.55,400.53 L339.8,400.94 L340.05,401.36 L340.3,401.79 L340.55,402.24 L340.8,402.71 L341.05,403.2 L341.3,403.71 L341.55,404.25" stroke="#808080" stroke-width="1.6" fill="none"/><path d="M351.55,412.47 L351.8,410.29 L352.05,408.26 L352.3,406.38 L352.55,404.63 L352.8,403.03 L353.05,401.58 L353.3,400.29 L353.55,399.16 L353.8,398.19 L354.05,397.39 L354.3,396.76 L354.55,396.19 L354.8,395.65 L355.05,395.13 L355.3,394.65 L355.55,394.2 L355.8,393.77 L356.05,393.36 L356.3,392.98 L356.55,392.62 L356.8,392.28 L357.05,391.96 L357.3,391.65 L357.55,391.36 L357.8,391.08 L358.05,390.82 L358.3,390.57 L358.55,390.32 L358.8,390.08 L359.05,389.85 L359.3,389.62 L359.55,389.4 L359.8,389.18 L360.05,388.96 L360.3,388.74 L360.55,388.52 L360.8,388.31 L361.05,388.11 L361.3,387.91 L361.55,387.71 L361.8,387.52 L362.05,387.33 L362.3,387.14 L362.55,386.96 L362.8,386.79 L363.05,386.61 L363.3,386.44 L363.55,386.28 L363.8,386.12 L364.05,385.96 L364.3,385.8 L364.55,385.65 L364.8,385.5 L365.05,385.36 L365.3,385.21 L365.55,385.07 L365.8,384.94 L366.05,384.8 L366.3,384.67 L366.55,384.54 L366.8,384.41 L367.05,384.29 L367.3,384.16 L367.55,384.04 L367.8,383.92 L368.05,383.81 L368.3,383.69 L368.55,383.58 L368.8,383.47 L369.05,383.35 L369.3,383.24 L369.55,383.13 L369.8,383.02 L370.05,382.92 L370.3,382.81 L370.55,382.7 L370.8,382.6 L371.05,382.49 L371.3,382.39 L371.55,382.28 L371.8,382.18 L372.05,382.08 L372.3,381.98 L372.55,381.88 L372.8,381.78 L373.05,381.68 L373.3,381.58 L373.55,381.48 L373.8,381.38 L374.05,381.29 L374.3,381.19 L374.55,381.1 L374.8,381 L375.05,380.91 L375.3,380.82 L375.55,380.72 L375.8,380.63 L376.05,380.54 L376.3,380.45 L376.55,380.36 L376.8,380.27 L377.05,380.18 L377.3,380.09 L377.55,380.01 L377.8,379.92 L378.05,379.83 L378.3,379.75 L378.55,379.66 L378.8,379.58 L379.05,379.5 L379.3,379.41 L379.55,379.33 L379.8,379.25 L380.05,379.17 L380.3,379.08 L380.55,379 L380.8,378.92 L381.05,378.84 L381.3,378.77 L381.55,378.69 L381.8,378.61 L382.05,378.53 L382.3,378.45 L382.55,378.38 L382.8,378.3 L383.05,378.23 L383.3,378.15 L383.55,378.07 L383.8,378 L384.05,377.93 L384.3,377.85 L384.55,377.78 L384.8,377.71 L385.05,377.63 L385.3,377.56 L385.55,377.49 L385.8,377.42 L386.05,377.35 L386.3,377.28 L386.55,377.21 L386.8,377.14 L387.05,377.07 L387.3,377 L387.55,376.93 L387.8,376.86 L388.05,376.79 L388.3,376.73 L388.55,376.66 L388.8,376.59 L389.05,376.52 L389.3,376.46 L389.55,376.39 L389.8,376.32 L390.05,376.26 L390.3,376.19 L390.55,376.13 L390.8,376.06 L391.05,376 L391.3,375.93 L391.55,375.87 L391.8,375.8 L392.05,375.74 L392.3,375.67 L392.55,375.61 L392.8,375.55 L393.05,375.48 L393.3,375.42 L393.55,375.36 L393.8,375.29 L394.05,375.23 L394.3,375.17 L394.55,375.11 L394.8,375.04 L395.05,374.98 L395.3,374.92 L395.55,374.86 L395.8,374.8 L396.05,374.73 L396.3,374.67 L396.55,374.61 L396.8,374.55 L397.05,374.49 L397.3,374.43 L397.55,374.37 L397.8,374.3 L398.05,374.24 L398.3,374.18 L398.55,374.12 L398.8,374.06 L399.05,374 L399.3,373.94 L399.55,373.88 L399.8,373.83 L400.05,373.77 L400.3,373.71 L400.55,373.65 L400.8,373.59 L401.05,373.53 L401.3,373.48 L401.55,373.42 L401.8,373.36 L402.05,373.3 L402.3,373.25 L402.55,373.19 L402.8,373.13 L403.05,373.08 L403.3,373.02 L403.55,372.97 L403.8,372.91 L404.05,372.85 L404.3,372.8 L404.55,372.74 L404.8,372.69 L405.05,372.63 L405.3,372.58 L405.55,372.53 L405.8,372.47 L406.05,372.42 L406.3,372.36 L406.55,372.31 L406.8,372.26 L407.05,372.2 L407.3,372.15 L407.55,372.1 L407.8,372.05 L408.05,371.99 L408.3,371.94 L408.55,371.89 L408.8,371.84 L409.05,371.79 L409.3,371.74 L409.55,371.69 L409.8,371.63 L410.05,371.58 L410.3,371.53 L410.55,371.48 L410.8,371.43 L411.05,371.38 L411.3,371.33 L411.55,371.28 L411.8,371.23 L412.05,371.19 L412.3,371.14 L412.55,371.09 L412.8,371.04 L413.05,370.99 L413.3,370.94 L413.55,370.89 L413.8,370.85 L414.05,370.8 L414.3,370.75 L414.55,370.7 L414.8,370.66 L415.05,370.61 L415.3,370.56 L415.55,370.52 L415.8,370.47 L416.05,370.42 L416.3,370.38 L416.55,370.33 L416.8,370.29 L417.05,370.24 L417.3,370.2 L417.55,370.15 L417.8,370.11 L418.05,370.06 L418.3,370.02 L418.55,369.97 L418.8,369.93 L419.05,369.88 L419.3,369.84 L419.55,369.8 L419.8,369.75 L420.05,369.71 L420.3,369.67 L420.55,369.62 L420.8,369.58 L421.05,369.54 L421.3,369.49 L421.55,369.45 L421.8,369.41 L422.05,369.37 L422.3,369.32 L422.55,369.28 L422.8,369.24 L423.05,369.2 L423.3,369.16 L423.55,369.12 L423.8,369.08 L424.05,369.03 L424.3,368.99 L424.55,368.95 L424.8,368.91 L425.05,368.87 L425.3,368.83 L425.55,368.79 L425.8,368.75 L426.05,368.71 L426.3,368.67 L426.55,368.63 L426.8,368.6 L427.05,368.56 L427.3,368.52 L427.55,368.48 L427.8,368.45 L428.05,368.41 L428.3,368.37 L428.55,368.34 L428.8,368.3 L429.05,368.26 L429.3,368.23 L429.55,368.19 L429.8,368.16 L430.05,368.12 L430.3,368.09 L430.55,368.05 L430.8,368.02 L431.05,367.98 L431.3,367.95 L431.55,367.91 L431.8,367.88 L432.05,367.85 L432.3,367.81 L432.55,367.78 L432.8,367.75 L433.05,367.71 L433.3,367.68 L433.55,367.65 L433.8,367.61 L434.05,367.58 L434.3,367.55 L434.55,367.52 L434.8,367.48 L435.05,367.45 L435.3,367.42 L435.55,367.39 L435.8,367.35 L436.05,367.32 L436.3,367.29 L436.55,367.26 L436.8,367.23 L437.05,367.19 L437.3,367.16 L437.55,367.13 L437.8,367.1 L438.05,367.06 L438.3,367.03 L438.55,367 L438.8,366.97 L439.05,366.93 L439.3,366.9 L439.55,366.87 L439.8,366.83 L440.05,366.8 L440.3,366.77 L440.55,366.74 L440.8,366.7 L441.05,366.67 L441.3,366.64 L441.55,366.6 L441.8,366.57 L442.05,366.53 L442.3,366.5" stroke="#808080" stroke-width="1.6" fill="none"/><path d="M338.55,379.21 L338.8,380.41 L339.05,381.83 L339.3,383.5 L339.55,385.45 L339.8,387.7 L340.05,390.28 L340.3,393.59 L340.55,400.07 L340.8,407.66 L341.05,413.27 L341.3,413.99 L341.55,410.02 L341.8,403.6 L342.05,396.88 L342.3,392 L342.55,388.93 L342.8,386.21 L343.05,383.87 L343.3,381.93 L343.55,380.43 L343.8,379.16" stroke="#4f86e0" stroke-width="0.7" fill="none"/><g fill="none" stroke="#6a98e4" stroke-width="0.4"><circle cx="338.55" cy="379.21" r="0.85"/><circle cx="339.3" cy="383.5" r="0.85"/><circle cx="340.05" cy="390.28" r="0.85"/><circle cx="340.8" cy="407.66" r="0.85"/><circle cx="341.55" cy="410.02" r="0.85"/><circle cx="342.3" cy="392" r="0.85"/><circle cx="343.05" cy="383.87" r="0.85"/><circle cx="343.8" cy="379.16" r="0.85"/></g><path d="M341.8,404.83 L342.05,405.44 L342.3,406.09 L342.55,406.77 L342.8,407.48 L343.05,408.22 L343.3,408.99 L343.55,409.79 L343.8,410.62 L344.05,411.48 L344.3,412.37 L344.55,413.29 L344.8,414.23 L345.05,415.2 L345.3,416.2 L345.55,417.24 L345.8,418.34 L346.05,419.51 L346.3,420.74 L346.55,422.06 L346.8,423.48 L347.05,424.99 L347.3,426.61 L347.55,428.38 L347.8,430.96 L348.05,434.28 L348.3,437.83 L348.55,441.09 L348.8,443.58 L349.05,444.76 L349.3,444.19 L349.55,442 L349.8,438.71 L350.05,434.83 L350.3,430.87 L350.55,427.32 L350.8,423.51 L351.05,419.39 L351.3,415.53" stroke="#b0b0b0" stroke-width="0.6" fill="none"/><g fill="none" stroke="#b4b4b4" stroke-width="0.4"><circle cx="341.8" cy="404.83" r="0.85"/><circle cx="342.55" cy="406.77" r="0.85"/><circle cx="343.3" cy="408.99" r="0.85"/><circle cx="344.05" cy="411.48" r="0.85"/><circle cx="344.8" cy="414.23" r="0.85"/><circle cx="345.55" cy="417.24" r="0.85"/><circle cx="346.3" cy="420.74" r="0.85"/><circle cx="347.05" cy="424.99" r="0.85"/><circle cx="347.8" cy="430.96" r="0.85"/><circle cx="348.55" cy="441.09" r="0.85"/><circle cx="349.3" cy="444.19" r="0.85"/><circle cx="350.05" cy="434.83" r="0.85"/><circle cx="350.8" cy="423.51" r="0.85"/></g><rect x="255.8" y="343.3" width="186.5" height="131.1" fill="none" stroke="#555" stroke-width="1"/><line x1="255.8" y1="357.6" x2="258" y2="357.6" stroke="#444" stroke-width="0.7"/><text x="253.2" y="360.5" font-size="7.8" fill="#222" text-anchor="end" stroke="#222" stroke-width="0.22"><tspan textLength="6.3" lengthAdjust="spacingAndGlyphs">10</tspan><tspan font-size="5.2" dy="-3.2" textLength="4.6" lengthAdjust="spacingAndGlyphs">-5</tspan></text><line x1="255.8" y1="377.1" x2="258" y2="377.1" stroke="#444" stroke-width="0.7"/><text x="253.2" y="380" font-size="7.8" fill="#222" text-anchor="end" stroke="#222" stroke-width="0.22"><tspan textLength="6.3" lengthAdjust="spacingAndGlyphs">10</tspan><tspan font-size="5.2" dy="-3.2" textLength="4.6" lengthAdjust="spacingAndGlyphs">-6</tspan></text><line x1="255.8" y1="396.6" x2="258" y2="396.6" stroke="#444" stroke-width="0.7"/><text x="253.2" y="399.5" font-size="7.8" fill="#222" text-anchor="end" stroke="#222" stroke-width="0.22"><tspan textLength="6.3" lengthAdjust="spacingAndGlyphs">10</tspan><tspan font-size="5.2" dy="-3.2" textLength="4.6" lengthAdjust="spacingAndGlyphs">-7</tspan></text><line x1="255.8" y1="416.1" x2="258" y2="416.1" stroke="#444" stroke-width="0.7"/><text x="253.2" y="419" font-size="7.8" fill="#222" text-anchor="end" stroke="#222" stroke-width="0.22"><tspan textLength="6.3" lengthAdjust="spacingAndGlyphs">10</tspan><tspan font-size="5.2" dy="-3.2" textLength="4.6" lengthAdjust="spacingAndGlyphs">-8</tspan></text><line x1="255.8" y1="435.6" x2="258" y2="435.6" stroke="#444" stroke-width="0.7"/><text x="253.2" y="438.5" font-size="7.8" fill="#222" text-anchor="end" stroke="#222" stroke-width="0.22"><tspan textLength="6.3" lengthAdjust="spacingAndGlyphs">10</tspan><tspan font-size="5.2" dy="-3.2" textLength="4.6" lengthAdjust="spacingAndGlyphs">-9</tspan></text><line x1="255.8" y1="455.1" x2="258" y2="455.1" stroke="#444" stroke-width="0.7"/><text x="253.2" y="458" font-size="7.8" fill="#222" text-anchor="end" stroke="#222" stroke-width="0.22"><tspan textLength="6.3" lengthAdjust="spacingAndGlyphs">10</tspan><tspan font-size="5.2" dy="-3.2" textLength="6.2" lengthAdjust="spacingAndGlyphs">-10</tspan></text><line x1="255.8" y1="474.6" x2="258" y2="474.6" stroke="#444" stroke-width="0.7"/><text x="253.2" y="477.5" font-size="7.8" fill="#222" text-anchor="end" stroke="#222" stroke-width="0.22"><tspan textLength="6.3" lengthAdjust="spacingAndGlyphs">10</tspan><tspan font-size="5.2" dy="-3.2" textLength="6.2" lengthAdjust="spacingAndGlyphs">-11</tspan></text><line x1="255.8" y1="468.73" x2="257" y2="468.73" stroke="#777" stroke-width="0.4"/><line x1="255.8" y1="465.3" x2="257" y2="465.3" stroke="#777" stroke-width="0.4"/><line x1="255.8" y1="462.86" x2="257" y2="462.86" stroke="#777" stroke-width="0.4"/><line x1="255.8" y1="460.97" x2="257" y2="460.97" stroke="#777" stroke-width="0.4"/><line x1="255.8" y1="459.43" x2="257" y2="459.43" stroke="#777" stroke-width="0.4"/><line x1="255.8" y1="458.12" x2="257" y2="458.12" stroke="#777" stroke-width="0.4"/><line x1="255.8" y1="456.99" x2="257" y2="456.99" stroke="#777" stroke-width="0.4"/><line x1="255.8" y1="455.99" x2="257" y2="455.99" stroke="#777" stroke-width="0.4"/><line x1="255.8" y1="449.23" x2="257" y2="449.23" stroke="#777" stroke-width="0.4"/><line x1="255.8" y1="445.8" x2="257" y2="445.8" stroke="#777" stroke-width="0.4"/><line x1="255.8" y1="443.36" x2="257" y2="443.36" stroke="#777" stroke-width="0.4"/><line x1="255.8" y1="441.47" x2="257" y2="441.47" stroke="#777" stroke-width="0.4"/><line x1="255.8" y1="439.93" x2="257" y2="439.93" stroke="#777" stroke-width="0.4"/><line x1="255.8" y1="438.62" x2="257" y2="438.62" stroke="#777" stroke-width="0.4"/><line x1="255.8" y1="437.49" x2="257" y2="437.49" stroke="#777" stroke-width="0.4"/><line x1="255.8" y1="436.49" x2="257" y2="436.49" stroke="#777" stroke-width="0.4"/><line x1="255.8" y1="429.73" x2="257" y2="429.73" stroke="#777" stroke-width="0.4"/><line x1="255.8" y1="426.3" x2="257" y2="426.3" stroke="#777" stroke-width="0.4"/><line x1="255.8" y1="423.86" x2="257" y2="423.86" stroke="#777" stroke-width="0.4"/><line x1="255.8" y1="421.97" x2="257" y2="421.97" stroke="#777" stroke-width="0.4"/><line x1="255.8" y1="420.43" x2="257" y2="420.43" stroke="#777" stroke-width="0.4"/><line x1="255.8" y1="419.12" x2="257" y2="419.12" stroke="#777" stroke-width="0.4"/><line x1="255.8" y1="417.99" x2="257" y2="417.99" stroke="#777" stroke-width="0.4"/><line x1="255.8" y1="416.99" x2="257" y2="416.99" stroke="#777" stroke-width="0.4"/><line x1="255.8" y1="410.23" x2="257" y2="410.23" stroke="#777" stroke-width="0.4"/><line x1="255.8" y1="406.8" x2="257" y2="406.8" stroke="#777" stroke-width="0.4"/><line x1="255.8" y1="404.36" x2="257" y2="404.36" stroke="#777" stroke-width="0.4"/><line x1="255.8" y1="402.47" x2="257" y2="402.47" stroke="#777" stroke-width="0.4"/><line x1="255.8" y1="400.93" x2="257" y2="400.93" stroke="#777" stroke-width="0.4"/><line x1="255.8" y1="399.62" x2="257" y2="399.62" stroke="#777" stroke-width="0.4"/><line x1="255.8" y1="398.49" x2="257" y2="398.49" stroke="#777" stroke-width="0.4"/><line x1="255.8" y1="397.49" x2="257" y2="397.49" stroke="#777" stroke-width="0.4"/><line x1="255.8" y1="390.73" x2="257" y2="390.73" stroke="#777" stroke-width="0.4"/><line x1="255.8" y1="387.3" x2="257" y2="387.3" stroke="#777" stroke-width="0.4"/><line x1="255.8" y1="384.86" x2="257" y2="384.86" stroke="#777" stroke-width="0.4"/><line x1="255.8" y1="382.97" x2="257" y2="382.97" stroke="#777" stroke-width="0.4"/><line x1="255.8" y1="381.43" x2="257" y2="381.43" stroke="#777" stroke-width="0.4"/><line x1="255.8" y1="380.12" x2="257" y2="380.12" stroke="#777" stroke-width="0.4"/><line x1="255.8" y1="378.99" x2="257" y2="378.99" stroke="#777" stroke-width="0.4"/><line x1="255.8" y1="377.99" x2="257" y2="377.99" stroke="#777" stroke-width="0.4"/><line x1="255.8" y1="371.23" x2="257" y2="371.23" stroke="#777" stroke-width="0.4"/><line x1="255.8" y1="367.8" x2="257" y2="367.8" stroke="#777" stroke-width="0.4"/><line x1="255.8" y1="365.36" x2="257" y2="365.36" stroke="#777" stroke-width="0.4"/><line x1="255.8" y1="363.47" x2="257" y2="363.47" stroke="#777" stroke-width="0.4"/><line x1="255.8" y1="361.93" x2="257" y2="361.93" stroke="#777" stroke-width="0.4"/><line x1="255.8" y1="360.62" x2="257" y2="360.62" stroke="#777" stroke-width="0.4"/><line x1="255.8" y1="359.49" x2="257" y2="359.49" stroke="#777" stroke-width="0.4"/><line x1="255.8" y1="358.49" x2="257" y2="358.49" stroke="#777" stroke-width="0.4"/><line x1="255.77" y1="474.4" x2="255.77" y2="472.4" stroke="#444" stroke-width="0.6"/><text x="255.77" y="482.6" font-size="7.2" fill="#222" text-anchor="middle" stroke="#222" stroke-width="0.22">-8</text><line x1="279.09" y1="474.4" x2="279.09" y2="472.4" stroke="#444" stroke-width="0.6"/><text x="279.09" y="482.6" font-size="7.2" fill="#222" text-anchor="middle" stroke="#222" stroke-width="0.22">-6</text><line x1="302.41" y1="474.4" x2="302.41" y2="472.4" stroke="#444" stroke-width="0.6"/><text x="302.41" y="482.6" font-size="7.2" fill="#222" text-anchor="middle" stroke="#222" stroke-width="0.22">-4</text><line x1="325.73" y1="474.4" x2="325.73" y2="472.4" stroke="#444" stroke-width="0.6"/><text x="325.73" y="482.6" font-size="7.2" fill="#222" text-anchor="middle" stroke="#222" stroke-width="0.22">-2</text><line x1="349.05" y1="474.4" x2="349.05" y2="472.4" stroke="#444" stroke-width="0.6"/><text x="349.05" y="482.6" font-size="7.2" fill="#222" text-anchor="middle" stroke="#222" stroke-width="0.22">0</text><line x1="372.37" y1="474.4" x2="372.37" y2="472.4" stroke="#444" stroke-width="0.6"/><text x="372.37" y="482.6" font-size="7.2" fill="#222" text-anchor="middle" stroke="#222" stroke-width="0.22">2</text><line x1="395.69" y1="474.4" x2="395.69" y2="472.4" stroke="#444" stroke-width="0.6"/><text x="395.69" y="482.6" font-size="7.2" fill="#222" text-anchor="middle" stroke="#222" stroke-width="0.22">4</text><line x1="419.01" y1="474.4" x2="419.01" y2="472.4" stroke="#444" stroke-width="0.6"/><text x="419.01" y="482.6" font-size="7.2" fill="#222" text-anchor="middle" stroke="#222" stroke-width="0.22">6</text><line x1="442.33" y1="474.4" x2="442.33" y2="472.4" stroke="#444" stroke-width="0.6"/><text x="442.33" y="482.6" font-size="7.2" fill="#222" text-anchor="middle" stroke="#222" stroke-width="0.22">8</text><line x1="267.43" y1="474.4" x2="267.43" y2="473.2" stroke="#444" stroke-width="0.5"/><line x1="290.75" y1="474.4" x2="290.75" y2="473.2" stroke="#444" stroke-width="0.5"/><line x1="314.07" y1="474.4" x2="314.07" y2="473.2" stroke="#444" stroke-width="0.5"/><line x1="337.39" y1="474.4" x2="337.39" y2="473.2" stroke="#444" stroke-width="0.5"/><line x1="360.71" y1="474.4" x2="360.71" y2="473.2" stroke="#444" stroke-width="0.5"/><line x1="384.03" y1="474.4" x2="384.03" y2="473.2" stroke="#444" stroke-width="0.5"/><line x1="407.35" y1="474.4" x2="407.35" y2="473.2" stroke="#444" stroke-width="0.5"/><line x1="430.67" y1="474.4" x2="430.67" y2="473.2" stroke="#444" stroke-width="0.5"/><text x="349" y="494" font-size="11" fill="#222" text-anchor="middle" textLength="45.8" lengthAdjust="spacingAndGlyphs" stroke="#222" stroke-width="0.22">Voltage (V)</text><text x="234" y="410" font-size="10.5" fill="#222" text-anchor="middle" textLength="45.5" lengthAdjust="spacingAndGlyphs" transform="rotate(-90 234 410)" stroke="#222" stroke-width="0.22">Current (A)</text><text x="353.7" y="351.2" font-size="6.6" fill="#111" textLength="35.3" lengthAdjust="spacingAndGlyphs" stroke="#111" stroke-width="0.22">Poling @ -8 V</text><text x="424" y="358.4" font-size="7.6" fill="#2f6fd6" textLength="15.7" lengthAdjust="spacingAndGlyphs" stroke="#2f6fd6" stroke-width="0.22">Light</text><text x="424.4" y="391.4" font-size="7.6" fill="#666" textLength="15.3" lengthAdjust="spacingAndGlyphs" stroke="#666" stroke-width="0.22">Dark</text><text x="326.9" y="363.2" font-size="6.6" fill="#111" textLength="14.8" lengthAdjust="spacingAndGlyphs" stroke="#111" stroke-width="0.22">-0.7 V</text><text x="357.1" y="454.5" font-size="6.6" fill="#111" textLength="70.7" lengthAdjust="spacingAndGlyphs" stroke="#111" stroke-width="0.22">on/off ratio = 1&#215;10<tspan font-size="4.6" dy="-2.6">3</tspan><tspan dy="2.6"> @ 0V</tspan></text><text x="457" y="349.9" font-size="17.5" fill="#000" font-weight="bold">i</text><rect x="504.6" y="340.8" width="15.6" height="130.6" fill="#eeeeee"/><rect x="535.68" y="340.8" width="15.6" height="130.6" fill="#eeeeee"/><rect x="566.76" y="340.8" width="15.6" height="130.6" fill="#eeeeee"/><rect x="597.84" y="340.8" width="15.6" height="130.6" fill="#eeeeee"/><rect x="628.92" y="340.8" width="15.6" height="130.6" fill="#eeeeee"/><rect x="660" y="340.8" width="15.6" height="130.6" fill="#eeeeee"/><path d="M495.5,459.6 L504.6,459.6 L504.6,369.9 L504.8,377.56 L505,382.85 L505.2,386.54 L505.4,389.17 L505.6,391.07 L505.8,392.48 L506,393.56 L506.2,394.41 L506.4,395.1 L506.6,395.68 L506.8,396.18 L507,396.63 L507.2,397.03 L507.4,397.4 L507.6,397.75 L507.8,398.08 L508,398.39 L508.2,398.69 L508.4,398.97 L508.6,399.24 L508.8,399.51 L509,399.76 L509.2,400 L509.4,400.23 L509.6,400.46 L509.8,400.67 L510,400.88 L510.2,401.08 L510.4,401.27 L510.6,401.46 L510.8,401.64 L511,401.81 L511.2,401.98 L511.4,402.14 L511.6,402.3 L511.8,402.45 L512,402.59 L512.2,402.73 L512.4,402.87 L512.6,403 L512.8,403.12 L513,403.24 L513.2,403.36 L513.4,403.47 L513.6,403.58 L513.8,403.68 L514,403.78 L514.2,403.88 L514.4,403.98 L514.6,404.07 L514.8,404.15 L515,404.24 L515.2,404.32 L515.4,404.39 L515.6,404.47 L515.8,404.54 L516,404.61 L516.2,404.68 L516.4,404.74 L516.6,404.81 L516.8,404.87 L517,404.93 L517.2,404.98 L517.4,405.04 L517.6,405.09 L517.8,405.14 L518,405.19 L518.2,405.23 L518.4,405.28 L518.6,405.32 L518.8,405.37 L519,405.41 L519.2,405.45 L519.4,405.48 L519.6,405.52 L519.8,405.55 L520,405.59 L520.2,406.5 L520.2,471 L520.2,471 L520.45,469.66 L520.7,468.48 L520.95,467.44 L521.2,466.51 L521.45,465.7 L521.7,464.98 L521.95,464.35 L522.2,463.79 L522.45,463.3 L522.7,462.87 L522.95,462.48 L523.2,462.14 L523.45,461.84 L523.7,461.58 L523.95,461.35 L524.2,461.14 L524.45,460.96 L524.7,460.8 L524.95,460.66 L525.2,460.54 L525.45,460.43 L525.7,460.33 L525.95,460.24 L526.2,460.17 L526.45,460.1 L526.7,460.04 L526.95,459.99 L527.2,459.94 L527.45,459.9 L527.7,459.87 L527.95,459.84 L528.2,459.81 L528.45,459.78 L528.7,459.76 L528.95,459.74 L529.2,459.73 L529.45,459.71 L529.7,459.7 L529.95,459.69 L530.2,459.68 L530.45,459.67 L530.7,459.66 L530.95,459.65 L531.2,459.65 L531.45,459.64 L531.7,459.64 L531.95,459.63 L532.2,459.63 L532.45,459.62 L532.7,459.62 L532.95,459.62 L533.2,459.62 L533.45,459.62 L533.7,459.61 L533.95,459.61 L534.2,459.61 L534.45,459.61 L534.7,459.61 L534.95,459.61 L535.2,459.61 L535.45,459.61 L535.68,459.6 L535.68,369.9 L535.88,377.56 L536.08,382.85 L536.28,386.54 L536.48,389.17 L536.68,391.07 L536.88,392.48 L537.08,393.56 L537.28,394.41 L537.48,395.1 L537.68,395.68 L537.88,396.18 L538.08,396.63 L538.28,397.03 L538.48,397.4 L538.68,397.75 L538.88,398.08 L539.08,398.39 L539.28,398.69 L539.48,398.97 L539.68,399.24 L539.88,399.51 L540.08,399.76 L540.28,400 L540.48,400.23 L540.68,400.46 L540.88,400.67 L541.08,400.88 L541.28,401.08 L541.48,401.27 L541.68,401.46 L541.88,401.64 L542.08,401.81 L542.28,401.98 L542.48,402.14 L542.68,402.3 L542.88,402.45 L543.08,402.59 L543.28,402.73 L543.48,402.87 L543.68,403 L543.88,403.12 L544.08,403.24 L544.28,403.36 L544.48,403.47 L544.68,403.58 L544.88,403.68 L545.08,403.78 L545.28,403.88 L545.48,403.98 L545.68,404.07 L545.88,404.15 L546.08,404.24 L546.28,404.32 L546.48,404.39 L546.68,404.47 L546.88,404.54 L547.08,404.61 L547.28,404.68 L547.48,404.74 L547.68,404.81 L547.88,404.87 L548.08,404.93 L548.28,404.98 L548.48,405.04 L548.68,405.09 L548.88,405.14 L549.08,405.19 L549.28,405.23 L549.48,405.28 L549.68,405.32 L549.88,405.37 L550.08,405.41 L550.28,405.45 L550.48,405.48 L550.68,405.52 L550.88,405.55 L551.08,405.59 L551.28,406.5 L551.28,471 L551.28,471 L551.53,469.66 L551.78,468.48 L552.03,467.44 L552.28,466.51 L552.53,465.7 L552.78,464.98 L553.03,464.35 L553.28,463.79 L553.53,463.3 L553.78,462.87 L554.03,462.48 L554.28,462.14 L554.53,461.84 L554.78,461.58 L555.03,461.35 L555.28,461.14 L555.53,460.96 L555.78,460.8 L556.03,460.66 L556.28,460.54 L556.53,460.43 L556.78,460.33 L557.03,460.24 L557.28,460.17 L557.53,460.1 L557.78,460.04 L558.03,459.99 L558.28,459.94 L558.53,459.9 L558.78,459.87 L559.03,459.84 L559.28,459.81 L559.53,459.78 L559.78,459.76 L560.03,459.74 L560.28,459.73 L560.53,459.71 L560.78,459.7 L561.03,459.69 L561.28,459.68 L561.53,459.67 L561.78,459.66 L562.03,459.65 L562.28,459.65 L562.53,459.64 L562.78,459.64 L563.03,459.63 L563.28,459.63 L563.53,459.62 L563.78,459.62 L564.03,459.62 L564.28,459.62 L564.53,459.62 L564.78,459.61 L565.03,459.61 L565.28,459.61 L565.53,459.61 L565.78,459.61 L566.03,459.61 L566.28,459.61 L566.53,459.61 L566.76,459.6 L566.76,371.4 L566.96,378.56 L567.16,383.52 L567.36,387 L567.56,389.47 L567.76,391.27 L567.96,392.62 L568.16,393.65 L568.36,394.47 L568.56,395.14 L568.76,395.7 L568.96,396.2 L569.16,396.64 L569.36,397.04 L569.56,397.41 L569.76,397.76 L569.96,398.08 L570.16,398.39 L570.36,398.69 L570.56,398.97 L570.76,399.24 L570.96,399.51 L571.16,399.76 L571.36,400 L571.56,400.23 L571.76,400.46 L571.96,400.67 L572.16,400.88 L572.36,401.08 L572.56,401.27 L572.76,401.46 L572.96,401.64 L573.16,401.81 L573.36,401.98 L573.56,402.14 L573.76,402.3 L573.96,402.45 L574.16,402.59 L574.36,402.73 L574.56,402.87 L574.76,403 L574.96,403.12 L575.16,403.24 L575.36,403.36 L575.56,403.47 L575.76,403.58 L575.96,403.68 L576.16,403.78 L576.36,403.88 L576.56,403.98 L576.76,404.07 L576.96,404.15 L577.16,404.24 L577.36,404.32 L577.56,404.39 L577.76,404.47 L577.96,404.54 L578.16,404.61 L578.36,404.68 L578.56,404.74 L578.76,404.81 L578.96,404.87 L579.16,404.93 L579.36,404.98 L579.56,405.04 L579.76,405.09 L579.96,405.14 L580.16,405.19 L580.36,405.23 L580.56,405.28 L580.76,405.32 L580.96,405.37 L581.16,405.41 L581.36,405.45 L581.56,405.48 L581.76,405.52 L581.96,405.55 L582.16,405.59 L582.36,406.5 L582.36,471 L582.36,471 L582.61,469.66 L582.86,468.48 L583.11,467.44 L583.36,466.51 L583.61,465.7 L583.86,464.98 L584.11,464.35 L584.36,463.79 L584.61,463.3 L584.86,462.87 L585.11,462.48 L585.36,462.14 L585.61,461.84 L585.86,461.58 L586.11,461.35 L586.36,461.14 L586.61,460.96 L586.86,460.8 L587.11,460.66 L587.36,460.54 L587.61,460.43 L587.86,460.33 L588.11,460.24 L588.36,460.17 L588.61,460.1 L588.86,460.04 L589.11,459.99 L589.36,459.94 L589.61,459.9 L589.86,459.87 L590.11,459.84 L590.36,459.81 L590.61,459.78 L590.86,459.76 L591.11,459.74 L591.36,459.73 L591.61,459.71 L591.86,459.7 L592.11,459.69 L592.36,459.68 L592.61,459.67 L592.86,459.66 L593.11,459.65 L593.36,459.65 L593.61,459.64 L593.86,459.64 L594.11,459.63 L594.36,459.63 L594.61,459.62 L594.86,459.62 L595.11,459.62 L595.36,459.62 L595.61,459.62 L595.86,459.61 L596.11,459.61 L596.36,459.61 L596.61,459.61 L596.86,459.61 L597.11,459.61 L597.36,459.61 L597.61,459.61 L597.84,459.6 L597.84,372.8 L598.04,379.5 L598.24,384.15 L598.44,387.42 L598.64,389.76 L598.84,391.46 L599.04,392.74 L599.24,393.73 L599.44,394.52 L599.64,395.18 L599.84,395.73 L600.04,396.22 L600.24,396.65 L600.44,397.05 L600.64,397.42 L600.84,397.76 L601.04,398.09 L601.24,398.4 L601.44,398.69 L601.64,398.97 L601.84,399.25 L602.04,399.51 L602.24,399.76 L602.44,400 L602.64,400.23 L602.84,400.46 L603.04,400.67 L603.24,400.88 L603.44,401.08 L603.64,401.27 L603.84,401.46 L604.04,401.64 L604.24,401.81 L604.44,401.98 L604.64,402.14 L604.84,402.3 L605.04,402.45 L605.24,402.59 L605.44,402.73 L605.64,402.87 L605.84,403 L606.04,403.12 L606.24,403.24 L606.44,403.36 L606.64,403.47 L606.84,403.58 L607.04,403.68 L607.24,403.78 L607.44,403.88 L607.64,403.98 L607.84,404.07 L608.04,404.15 L608.24,404.24 L608.44,404.32 L608.64,404.39 L608.84,404.47 L609.04,404.54 L609.24,404.61 L609.44,404.68 L609.64,404.74 L609.84,404.81 L610.04,404.87 L610.24,404.93 L610.44,404.98 L610.64,405.04 L610.84,405.09 L611.04,405.14 L611.24,405.19 L611.44,405.23 L611.64,405.28 L611.84,405.32 L612.04,405.37 L612.24,405.41 L612.44,405.45 L612.64,405.48 L612.84,405.52 L613.04,405.55 L613.24,405.59 L613.44,406.5 L613.44,471 L613.44,471 L613.69,469.66 L613.94,468.48 L614.19,467.44 L614.44,466.51 L614.69,465.7 L614.94,464.98 L615.19,464.35 L615.44,463.79 L615.69,463.3 L615.94,462.87 L616.19,462.48 L616.44,462.14 L616.69,461.84 L616.94,461.58 L617.19,461.35 L617.44,461.14 L617.69,460.96 L617.94,460.8 L618.19,460.66 L618.44,460.54 L618.69,460.43 L618.94,460.33 L619.19,460.24 L619.44,460.17 L619.69,460.1 L619.94,460.04 L620.19,459.99 L620.44,459.94 L620.69,459.9 L620.94,459.87 L621.19,459.84 L621.44,459.81 L621.69,459.78 L621.94,459.76 L622.19,459.74 L622.44,459.73 L622.69,459.71 L622.94,459.7 L623.19,459.69 L623.44,459.68 L623.69,459.67 L623.94,459.66 L624.19,459.65 L624.44,459.65 L624.69,459.64 L624.94,459.64 L625.19,459.63 L625.44,459.63 L625.69,459.62 L625.94,459.62 L626.19,459.62 L626.44,459.62 L626.69,459.62 L626.94,459.61 L627.19,459.61 L627.44,459.61 L627.69,459.61 L627.94,459.61 L628.19,459.61 L628.44,459.61 L628.69,459.61 L628.92,459.6 L628.92,372.8 L629.12,379.5 L629.32,384.15 L629.52,387.42 L629.72,389.76 L629.92,391.46 L630.12,392.74 L630.32,393.73 L630.52,394.52 L630.72,395.18 L630.92,395.73 L631.12,396.22 L631.32,396.65 L631.52,397.05 L631.72,397.42 L631.92,397.76 L632.12,398.09 L632.32,398.4 L632.52,398.69 L632.72,398.97 L632.92,399.25 L633.12,399.51 L633.32,399.76 L633.52,400 L633.72,400.23 L633.92,400.46 L634.12,400.67 L634.32,400.88 L634.52,401.08 L634.72,401.27 L634.92,401.46 L635.12,401.64 L635.32,401.81 L635.52,401.98 L635.72,402.14 L635.92,402.3 L636.12,402.45 L636.32,402.59 L636.52,402.73 L636.72,402.87 L636.92,403 L637.12,403.12 L637.32,403.24 L637.52,403.36 L637.72,403.47 L637.92,403.58 L638.12,403.68 L638.32,403.78 L638.52,403.88 L638.72,403.98 L638.92,404.07 L639.12,404.15 L639.32,404.24 L639.52,404.32 L639.72,404.39 L639.92,404.47 L640.12,404.54 L640.32,404.61 L640.52,404.68 L640.72,404.74 L640.92,404.81 L641.12,404.87 L641.32,404.93 L641.52,404.98 L641.72,405.04 L641.92,405.09 L642.12,405.14 L642.32,405.19 L642.52,405.23 L642.72,405.28 L642.92,405.32 L643.12,405.37 L643.32,405.41 L643.52,405.45 L643.72,405.48 L643.92,405.52 L644.12,405.55 L644.32,405.59 L644.52,406.5 L644.52,471 L644.52,471 L644.77,469.66 L645.02,468.48 L645.27,467.44 L645.52,466.51 L645.77,465.7 L646.02,464.98 L646.27,464.35 L646.52,463.79 L646.77,463.3 L647.02,462.87 L647.27,462.48 L647.52,462.14 L647.77,461.84 L648.02,461.58 L648.27,461.35 L648.52,461.14 L648.77,460.96 L649.02,460.8 L649.27,460.66 L649.52,460.54 L649.77,460.43 L650.02,460.33 L650.27,460.24 L650.52,460.17 L650.77,460.1 L651.02,460.04 L651.27,459.99 L651.52,459.94 L651.77,459.9 L652.02,459.87 L652.27,459.84 L652.52,459.81 L652.77,459.78 L653.02,459.76 L653.27,459.74 L653.52,459.73 L653.77,459.71 L654.02,459.7 L654.27,459.69 L654.52,459.68 L654.77,459.67 L655.02,459.66 L655.27,459.65 L655.52,459.65 L655.77,459.64 L656.02,459.64 L656.27,459.63 L656.52,459.63 L656.77,459.62 L657.02,459.62 L657.27,459.62 L657.52,459.62 L657.77,459.62 L658.02,459.61 L658.27,459.61 L658.52,459.61 L658.77,459.61 L659.02,459.61 L659.27,459.61 L659.52,459.61 L659.77,459.61 L660,459.6 L660,368.5 L660.2,376.62 L660.4,382.22 L660.6,386.12 L660.8,388.89 L661,390.88 L661.2,392.35 L661.4,393.47 L661.6,394.35 L661.8,395.06 L662,395.65 L662.2,396.16 L662.4,396.61 L662.6,397.02 L662.8,397.4 L663,397.75 L663.2,398.08 L663.4,398.39 L663.6,398.69 L663.8,398.97 L664,399.24 L664.2,399.51 L664.4,399.76 L664.6,400 L664.8,400.23 L665,400.46 L665.2,400.67 L665.4,400.88 L665.6,401.08 L665.8,401.27 L666,401.46 L666.2,401.64 L666.4,401.81 L666.6,401.98 L666.8,402.14 L667,402.3 L667.2,402.45 L667.4,402.59 L667.6,402.73 L667.8,402.87 L668,403 L668.2,403.12 L668.4,403.24 L668.6,403.36 L668.8,403.47 L669,403.58 L669.2,403.68 L669.4,403.78 L669.6,403.88 L669.8,403.98 L670,404.07 L670.2,404.15 L670.4,404.24 L670.6,404.32 L670.8,404.39 L671,404.47 L671.2,404.54 L671.4,404.61 L671.6,404.68 L671.8,404.74 L672,404.81 L672.2,404.87 L672.4,404.93 L672.6,404.98 L672.8,405.04 L673,405.09 L673.2,405.14 L673.4,405.19 L673.6,405.23 L673.8,405.28 L674,405.32 L674.2,405.37 L674.4,405.41 L674.6,405.45 L674.8,405.48 L675,405.52 L675.2,405.55 L675.4,405.59 L675.6,406.5 L675.6,471 L675.6,471 L675.85,469.66 L676.1,468.48 L676.35,467.44 L676.6,466.51 L676.85,465.7 L677.1,464.98 L677.35,464.35 L677.6,463.79 L677.85,463.3 L678.1,462.87 L678.35,462.48 L678.6,462.14 L678.85,461.84 L679.1,461.58 L679.35,461.35 L679.6,461.14 L679.85,460.96 L680.1,460.8 L680.35,460.66 L680.6,460.54 L680.85,460.43 L681.1,460.33 L681.35,460.24 L681.6,460.17 L681.85,460.1 L682.1,460.04 L682.35,459.99 L682.6,459.94 L682.85,459.9 L683.1,459.87" stroke="#4a4a4a" stroke-width="1.15" fill="none" stroke-linejoin="round"/><rect x="495.5" y="340.8" width="187.7" height="130.6" fill="none" stroke="#666" stroke-width="1"/><line x1="495.5" y1="341.9" x2="497.7" y2="341.9" stroke="#555" stroke-width="0.6"/><text x="468.8" y="345.5" font-size="9" fill="#222" stroke="#222" stroke-width="0.22"><tspan textLength="19.2" lengthAdjust="spacingAndGlyphs">1.0x10</tspan><tspan font-size="6" dy="-3.4" textLength="5" lengthAdjust="spacingAndGlyphs">-5</tspan></text><line x1="495.5" y1="367.96" x2="497.7" y2="367.96" stroke="#555" stroke-width="0.6"/><text x="468.8" y="371.56" font-size="9" fill="#222" stroke="#222" stroke-width="0.22"><tspan textLength="19.2" lengthAdjust="spacingAndGlyphs">8.0x10</tspan><tspan font-size="6" dy="-3.4" textLength="5" lengthAdjust="spacingAndGlyphs">-6</tspan></text><line x1="495.5" y1="394.02" x2="497.7" y2="394.02" stroke="#555" stroke-width="0.6"/><text x="468.8" y="397.62" font-size="9" fill="#222" stroke="#222" stroke-width="0.22"><tspan textLength="19.2" lengthAdjust="spacingAndGlyphs">6.0x10</tspan><tspan font-size="6" dy="-3.4" textLength="5" lengthAdjust="spacingAndGlyphs">-6</tspan></text><line x1="495.5" y1="420.08" x2="497.7" y2="420.08" stroke="#555" stroke-width="0.6"/><text x="468.8" y="423.68" font-size="9" fill="#222" stroke="#222" stroke-width="0.22"><tspan textLength="19.2" lengthAdjust="spacingAndGlyphs">4.0x10</tspan><tspan font-size="6" dy="-3.4" textLength="5" lengthAdjust="spacingAndGlyphs">-6</tspan></text><line x1="495.5" y1="446.14" x2="497.7" y2="446.14" stroke="#555" stroke-width="0.6"/><text x="468.8" y="449.74" font-size="9" fill="#222" stroke="#222" stroke-width="0.22"><tspan textLength="19.2" lengthAdjust="spacingAndGlyphs">2.0x10</tspan><tspan font-size="6" dy="-3.4" textLength="5" lengthAdjust="spacingAndGlyphs">-6</tspan></text><line x1="495.5" y1="459.17" x2="496.7" y2="459.17" stroke="#777" stroke-width="0.5"/><line x1="495.5" y1="433.11" x2="496.7" y2="433.11" stroke="#777" stroke-width="0.5"/><line x1="495.5" y1="407.05" x2="496.7" y2="407.05" stroke="#777" stroke-width="0.5"/><line x1="495.5" y1="380.99" x2="496.7" y2="380.99" stroke="#777" stroke-width="0.5"/><line x1="495.5" y1="354.93" x2="496.7" y2="354.93" stroke="#777" stroke-width="0.5"/><line x1="495.5" y1="471.4" x2="495.5" y2="469.4" stroke="#555" stroke-width="0.6"/><text x="495.5" y="481" font-size="7.2" fill="#222" text-anchor="middle" stroke="#222" stroke-width="0.22">1</text><line x1="558" y1="471.4" x2="558" y2="469.4" stroke="#555" stroke-width="0.6"/><text x="558" y="481" font-size="7.2" fill="#222" text-anchor="middle" stroke="#222" stroke-width="0.22">2</text><line x1="620.5" y1="471.4" x2="620.5" y2="469.4" stroke="#555" stroke-width="0.6"/><text x="620.5" y="481" font-size="7.2" fill="#222" text-anchor="middle" stroke="#222" stroke-width="0.22">3</text><line x1="683" y1="471.4" x2="683" y2="469.4" stroke="#555" stroke-width="0.6"/><text x="683" y="481" font-size="7.2" fill="#222" text-anchor="middle" stroke="#222" stroke-width="0.22">4</text><line x1="526.75" y1="471.4" x2="526.75" y2="470.2" stroke="#777" stroke-width="0.5"/><line x1="589.25" y1="471.4" x2="589.25" y2="470.2" stroke="#777" stroke-width="0.5"/><line x1="651.75" y1="471.4" x2="651.75" y2="470.2" stroke="#777" stroke-width="0.5"/><text x="589.9" y="494" font-size="11.5" fill="#222" text-anchor="middle" textLength="40.4" lengthAdjust="spacingAndGlyphs" stroke="#222" stroke-width="0.22">Time (s)</text><text transform="rotate(-90 463.7 406)" x="463.7" y="406" font-size="10.5" fill="#222" text-anchor="middle" textLength="17.5" lengthAdjust="spacingAndGlyphs" stroke="#222" stroke-width="0.22"><tspan font-style="italic">I</tspan> (A)</text><text x="626.5" y="355" font-size="8.8" fill="#111" textLength="50.1" lengthAdjust="spacingAndGlyphs" stroke="#111" stroke-width="0.22">Driven by 2 V</text><text x="527.8" y="364.2" font-size="8.4" fill="#8a8a8a" text-anchor="middle" textLength="9.5" lengthAdjust="spacingAndGlyphs" stroke="#8a8a8a" stroke-width="0.22">on</text><text x="543.3" y="364.2" font-size="8.4" fill="#8a8a8a" text-anchor="middle" textLength="10.5" lengthAdjust="spacingAndGlyphs" stroke="#8a8a8a" stroke-width="0.22">off</text></svg></body></html>
